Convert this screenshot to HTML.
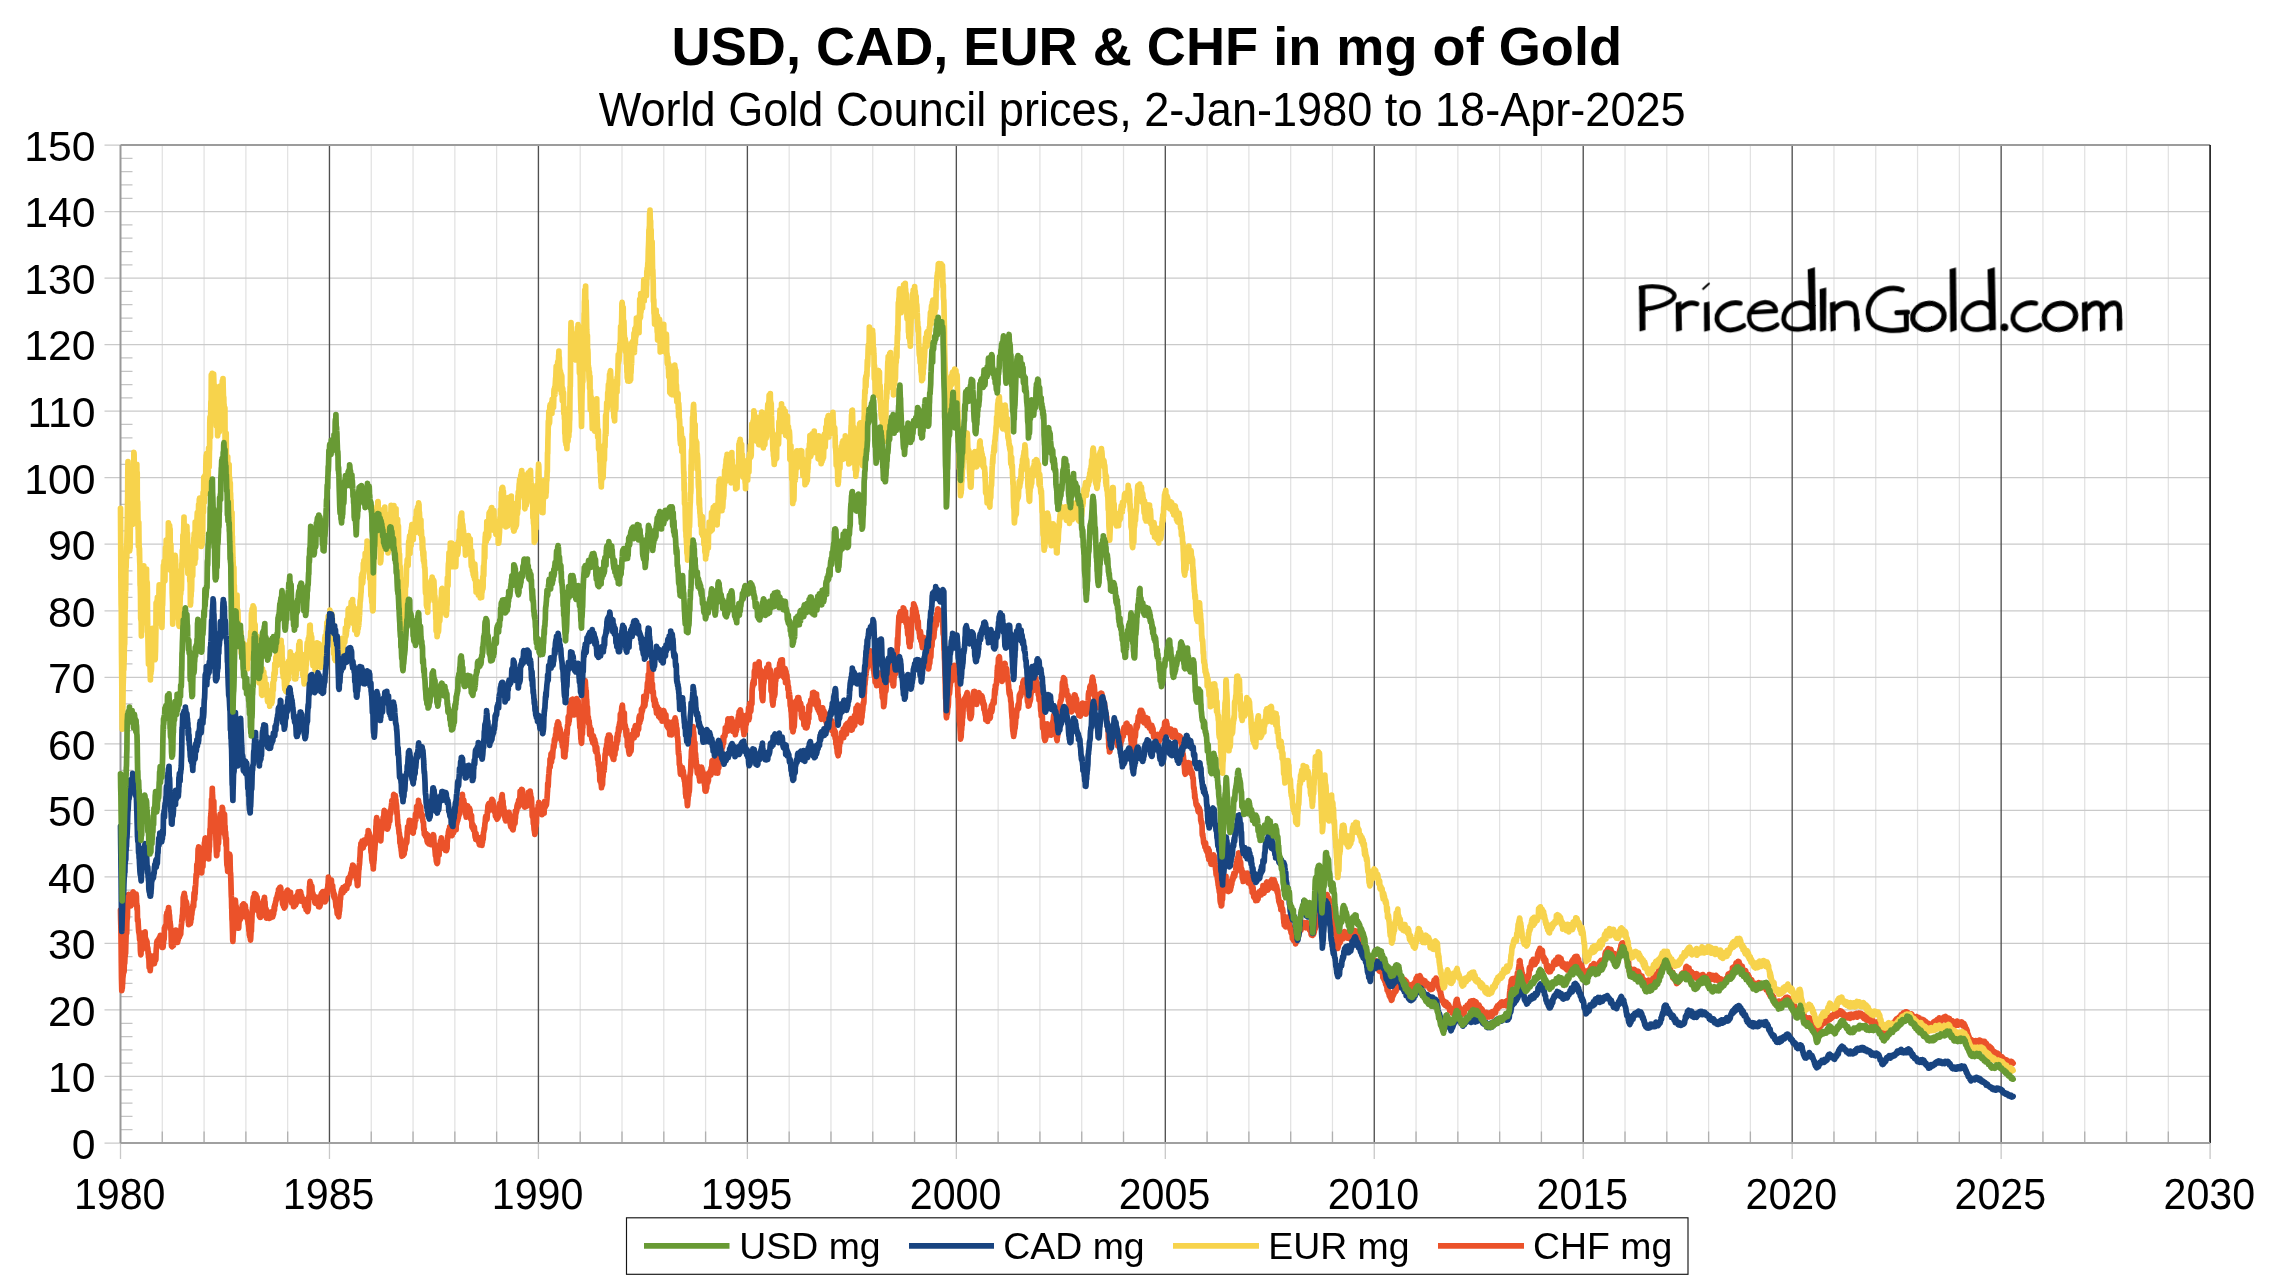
<!DOCTYPE html>
<html><head><meta charset="utf-8"><title>USD, CAD, EUR &amp; CHF in mg of Gold</title>
<style>html,body{margin:0;padding:0;background:#fff;width:2292px;height:1288px;overflow:hidden}</style>
</head><body>
<svg width="2292" height="1288" viewBox="0 0 2292 1288" style="position:absolute;left:0;top:0">
<rect x="0" y="0" width="2292" height="1288" fill="#fff"/>
<path d="M162.29 145.05V1143.00M204.08 145.05V1143.00M245.88 145.05V1143.00M287.67 145.05V1143.00M371.25 145.05V1143.00M413.04 145.05V1143.00M454.84 145.05V1143.00M496.63 145.05V1143.00M580.21 145.05V1143.00M622.00 145.05V1143.00M663.80 145.05V1143.00M705.59 145.05V1143.00M789.17 145.05V1143.00M830.96 145.05V1143.00M872.76 145.05V1143.00M914.55 145.05V1143.00M998.13 145.05V1143.00M1039.92 145.05V1143.00M1081.72 145.05V1143.00M1123.51 145.05V1143.00M1207.09 145.05V1143.00M1248.88 145.05V1143.00M1290.68 145.05V1143.00M1332.47 145.05V1143.00M1416.05 145.05V1143.00M1457.84 145.05V1143.00M1499.64 145.05V1143.00M1541.43 145.05V1143.00M1625.01 145.05V1143.00M1666.80 145.05V1143.00M1708.60 145.05V1143.00M1750.39 145.05V1143.00M1833.97 145.05V1143.00M1875.76 145.05V1143.00M1917.56 145.05V1143.00M1959.35 145.05V1143.00M2042.93 145.05V1143.00M2084.72 145.05V1143.00M2126.52 145.05V1143.00M2168.31 145.05V1143.00" stroke="#e2e2e2" stroke-width="1.25" fill="none"/>
<path d="M104.50 1076.47H2210.10M104.50 1009.94H2210.10M104.50 943.41H2210.10M104.50 876.88H2210.10M104.50 810.35H2210.10M104.50 743.82H2210.10M104.50 677.29H2210.10M104.50 610.76H2210.10M104.50 544.23H2210.10M104.50 477.70H2210.10M104.50 411.17H2210.10M104.50 344.64H2210.10M104.50 278.11H2210.10M104.50 211.58H2210.10" stroke="#cacaca" stroke-width="1.25" fill="none"/>
<path d="M104.50 145.05H120.50M104.50 1143.00H120.50" stroke="#cacaca" stroke-width="1.25" fill="none"/>
<path d="M120.50 1129.69h12M120.50 1116.39h12M120.50 1103.08h12M120.50 1089.78h12M120.50 1063.16h12M120.50 1049.86h12M120.50 1036.55h12M120.50 1023.25h12M120.50 996.63h12M120.50 983.33h12M120.50 970.02h12M120.50 956.72h12M120.50 930.10h12M120.50 916.80h12M120.50 903.49h12M120.50 890.19h12M120.50 863.57h12M120.50 850.27h12M120.50 836.96h12M120.50 823.66h12M120.50 797.04h12M120.50 783.74h12M120.50 770.43h12M120.50 757.13h12M120.50 730.51h12M120.50 717.21h12M120.50 703.90h12M120.50 690.60h12M120.50 663.98h12M120.50 650.68h12M120.50 637.37h12M120.50 624.07h12M120.50 597.45h12M120.50 584.15h12M120.50 570.84h12M120.50 557.54h12M120.50 530.92h12M120.50 517.62h12M120.50 504.31h12M120.50 491.01h12M120.50 464.39h12M120.50 451.09h12M120.50 437.78h12M120.50 424.48h12M120.50 397.86h12M120.50 384.56h12M120.50 371.25h12M120.50 357.95h12M120.50 331.33h12M120.50 318.03h12M120.50 304.72h12M120.50 291.42h12M120.50 264.80h12M120.50 251.50h12M120.50 238.19h12M120.50 224.89h12M120.50 198.27h12M120.50 184.97h12M120.50 171.66h12M120.50 158.36h12" stroke="#c4c4c4" stroke-width="1.25" fill="none"/>
<path d="M162.29 1143.00v-11.5M204.08 1143.00v-11.5M245.88 1143.00v-11.5M287.67 1143.00v-11.5M371.25 1143.00v-11.5M413.04 1143.00v-11.5M454.84 1143.00v-11.5M496.63 1143.00v-11.5M580.21 1143.00v-11.5M622.00 1143.00v-11.5M663.80 1143.00v-11.5M705.59 1143.00v-11.5M789.17 1143.00v-11.5M830.96 1143.00v-11.5M872.76 1143.00v-11.5M914.55 1143.00v-11.5M998.13 1143.00v-11.5M1039.92 1143.00v-11.5M1081.72 1143.00v-11.5M1123.51 1143.00v-11.5M1207.09 1143.00v-11.5M1248.88 1143.00v-11.5M1290.68 1143.00v-11.5M1332.47 1143.00v-11.5M1416.05 1143.00v-11.5M1457.84 1143.00v-11.5M1499.64 1143.00v-11.5M1541.43 1143.00v-11.5M1625.01 1143.00v-11.5M1666.80 1143.00v-11.5M1708.60 1143.00v-11.5M1750.39 1143.00v-11.5M1833.97 1143.00v-11.5M1875.76 1143.00v-11.5M1917.56 1143.00v-11.5M1959.35 1143.00v-11.5M2042.93 1143.00v-11.5M2084.72 1143.00v-11.5M2126.52 1143.00v-11.5M2168.31 1143.00v-11.5" stroke="#b0b0b0" stroke-width="1.3" fill="none"/>
<path d="M120.50 1143.00v16M329.46 1143.00v16M538.42 1143.00v16M747.38 1143.00v16M956.34 1143.00v16M1165.30 1143.00v16M1374.26 1143.00v16M1583.22 1143.00v16M1792.18 1143.00v16M2001.14 1143.00v16M2210.10 1143.00v16" stroke="#c8c8c8" stroke-width="1.3" fill="none"/>
<path d="M329.46 145.05V1143.00M538.42 145.05V1143.00M747.38 145.05V1143.00M956.34 145.05V1143.00M1165.30 145.05V1143.00M1374.26 145.05V1143.00M1583.22 145.05V1143.00M1792.18 145.05V1143.00M2001.14 145.05V1143.00" stroke="#505050" stroke-width="1.35" fill="none"/>
<path d="M120.50 145.05H2210.10" stroke="#9c9c9c" stroke-width="1.9" fill="none"/>
<path d="M2210.10 145.05V1143.00" stroke="#151515" stroke-width="1.6" fill="none"/>
<path d="M120.50 1143.00H2210.10" stroke="#a0a0a0" stroke-width="1.9" fill="none"/>
<path d="M120.50 145.05V1143.00" stroke="#999" stroke-width="2" fill="none"/>
<g fill="none" stroke-width="5.7" stroke-linejoin="round" stroke-linecap="round">
<path stroke="#EB522A" d="M120.5 910.1l.2 10.6l.2 8.3l.2 14.4l.2 19.5l.2 15.8l.3 11.9l.1-.7l.2-2.4l.2 .7l.2-5.1l.1 1.1l.2-5.8l.2-1.7l.2-1.6l.2-2.4l.2-.4l.2 .2l.1-.5l.2-.4l.2-8.2l.2-.4l.2 .4l.2-4.8l.1-2.6l.2 0l.2-3.1l.2 .7l.2-9.1l.1-1.8l.2-7.3l.2-4.8l.2 2.6l.2 .1l.2-10.9l.2-4.2l.2 .3l.2-3.3l.1-9.9l.2-7l.2-.1l.2 .9l.2-2.8l.2-2l.2 7l.2-4.6l.2 5.1l.1-2.2l.2-2.5l.2 1.2l.2 6.6l.2-5.6l.2 5.6l.2-6.7l.2 7.6l.1-2.7l.2-.8l.2 .3l.2-2.6l.2-.5l.2 .7l.2-2.3l.2-2.1l.1 6.1l.2-5.7l.2-1.4l.2-2.5l.2-.4l.2 8.2l.2 3.8l.1-1.3l.2-1.1l.2-8.5l.2 10.4l.2-4.9l.2-4.6l.2 2.4l.1 3.2l.2-3.3l.2 .2l.2-1.4l.2 3.4l.2-.4l.2-3.9l.1 6.7l.2-4.8l.2 8.1l.2-.6l.2 5.6l.2-3.4l.2 5.4l.1 9.4l.2-1.6l.2 .1l.2 2.1l.2 4.2l.2 3.5l.2 2.7l.2 1.4l.1-1.8l.2 3.1l.2 1.5l.2 3.6l.2-1.7l.2 1.7l.2 2.1l.2 9.2l.2 2.4l.2 1.8l.2-.7l.2-5.3l.2 1.4l.1-1.9l.2-.9l.2 2.9l.2-1.8l.2-3.4l.2-2.1l.2-3.8l.2-2.3l.2-3.5l.2 3.5l.1-4.1l.2 0l.2 3.8l.2 .8l.2 1.8l.2 2.4l.2-5.9l.1 2.4l.2-4.3l.2-1.9l.2 8.9l.2 1.8l.2-4.4l.2 2.2l.1 .9l.2-.4l.2-.8l.2 4.6l.2-.7l.2-2.7l.2 5.7l.1 2.1l.2-1l.2-.6l.2 1.6l.2 4.3l.2-1.7l.2 5.4l.2-3.4l.1 3l.2 4.8l.2 5.9l.2-6.2l.2 3.3l.2 1.4l.2 .2l.2 4.6l.2-2.5l.2-2.1l.2-2.8l.1 1l.2-3.7l.2 4l.2-1.1l.2 .7l.2 .2l.2-8.2l.2 1.1l.2 .2l.2-.8l.2-.2l.2 4.2l.2-.9l.2-2.5l.1 4.3l.2-1.7l.2 .3l.2 2.1l.2 1.4l.2-1.5l.2-2.5l.2-.9l.2 1.2l.2-1l.2-3.3l.2 4.3l.1-1.1l.2-6.8l.2-3.8l.2-1.6l.2-4.1l.2 .2l.2-2l.2 1.9l.2-.5l.1 2.1l.2-2.1l.2 .6l.2 .8l.2-4l.2-.6l.1 2.4l.2-1.7l.2-1.1l.2-.9l.2 3.2l.2-3.4l.1 2l.2-1.6l.2 .2l.2-2.8l.2 6.7l.2-4.3l.2 5.4l.2-6.7l.2 8.3l.2-3.9l.1 2.3l.2-2.5l.2 6.7l.2-.9l.2-1.5l.2 1.2l.2-.8l.2 2l.2-3.2l.2-1l.2-3.8l.2-.5l.2 .9l.2-3.8l.1-7.7l.2-.3l.2 1.8l.2-3.2l.2-.4l.2 1.1l.2-1.8l.2-.2l.2 .3l.2-2.5l.1-7.4l.2 3.6l.2-1.3l.2-5.1l.2 11.6l.2-4l.2-6.3l.2 6.6l.2-2.8l.1-7.6l.2 1.8l.2-.5l.2-4.1l.2 6.4l.2-3.8l.2 4.8l.1-.2l.2 .6l.2 3.3l.2 4l.2-1.2l.2 2.7l.1 .9l.2 1.3l.2 3.5l.2 .2l.2 7.5l.2 6.9l.1 1.5l.2-.7l.2 .9l.2 .7l.2-2l.2-5.3l.1 5.9l.2-4l.2 4.2l.2-6.8l.2 6.6l.1-10.2l.2 3l.2-6.2l.2 2.5l.2 3.5l.2-1.4l.1-.7l.2-2.5l.2-2.1l.2 1.3l.2 2.3l.2 .9l.2-5.8l.1 7.3l.2-3.4l.2 4.9l.2 1.4l.2-4.5l.2 6.8l.2-8.9l.1-.6l.2 7.1l.2 2.3l.2-1.9l.2 0l.2-.4l.2-2.4l.1-3.1l.2 2.4l.2-2.3l.2 2.5l.2-1.2l.2 1.1l.1-1.8l.2-1.9l.2 .7l.2-2.2l.2 1.8l.1-3.4l.2 4l.2-5l.2-.5l.2-3.3l.2-1.4l.2-1.9l.2-2.7l.2-.7l.2-3.3l.1 3.6l.2-4.1l.2-6.7l.2 2l.2-12.3l.2-1.4l.2 1.6l.2-3l.2 1l.2 0l.1-2.8l.2 6.6l.2-1.4l.2-2.5l.2 6.3l.2 0l.1-.9l.2-1.1l.2 4.9l.2-1.8l.2 1.4l.1-3.3l.2 1.9l.2-.1l.2 2.5l.2 3.8l.2-2.7l.2 1.1l.2 4.7l.2-2.7l.2-.8l.2 12.3l.2-4.8l.2 7.8l.1-2.4l.2 .6l.2-2.3l.2-1l.2 .8l.2-2.7l.2 4.9l.2-9.9l.1 11l.2-4l.2 3.1l.2-4.1l.2-.4l.2 1.1l.2-8.2l.1 3.1l.2 .5l.2-2.5l.2-2.9l.2 .8l.2-.9l.2-2.4l.1-1.5l.2-.7l.2 1l.2-4.1l.2 4.7l.2-9.6l.2-3.6l.1 2.7l.2 .7l.2 3.3l.2-5.3l.2-6.9l.2 6l.2-7.3l.1 .8l.2-2.8l.2-4.7l.2-4.8l.2 1.9l.2-.8l.1 1l.2-12l.2 3.2l.2-2.8l.2 3.7l.2-7l.1 1.6l.2-6.4l.2-7.9l.2 3.3l.2-.3l.2-5.3l.1 1.4l.2 4.3l.2 5.9l.2-3.6l.2-1.3l.1 1.5l.2-3.4l.2 4.5l.2 2.5l.2 9.9l.2-1.4l.1 .7l.2 3.2l.2-3.2l.2 4l.2 1l.2-1l.1-3.7l.2-5l.2-.7l.2-3.6l.2 1.3l.2 6.3l.2-10.7l.1 1.7l.2 2.7l.2-12.6l.2 2.1l.2 .5l.2 3.4l.2-10.5l.1 .5l.2 1l.2-4.3l.2-2.1l.2 .2l.2-.2l.2 0l.2 10l.1 3l.2-5.6l.2-4.8l.2-.2l.2 11.6l.2-1.1l.2 3.3l.2-1.5l.2 3.3l.1-2.1l.2 1.2l.2-2.6l.2 3.2l.2-2l.2 5l.2-6.7l.2-.3l.2-6.1l.2 1.2l.1-6.2l.2-1.2l.2-10.2l.2 1.3l.2-4.8l.2-8.5l.2-1.4l.2-2.2l.2-3.4l.2-1.9l.1-8.8l.2 1.7l.2 .9l.2-7.1l.2-6.9l.1 4.8l.2 2.2l.2 5.2l.2-.2l.2 9.3l.2 .2l.2 2.2l.2-10.6l.2 15.4l.2-3l.2 3.7l.2 5l.2-4.3l.1 2.1l.2 4.3l.2 5.6l.2 2.6l.2 .3l.2 4.9l.2 7l.2 5.8l.1 1.5l.2 3.3l.2-.3l.2-6.9l.2-.3l.2-.1l.2 2.6l.1-.3l.2-11l.2 .3l.2 3.4l.2 .3l.2-5.3l.2-13.6l.1 2.6l.2 7l.2-6.1l.2-5.8l.2 1.9l.2-6.3l.2-3.5l.1 5l.2 5l.2-2.4l.2-7l.2 6.9l.2-3.3l.2-1.8l.2 .8l.1-.1l.2 8.2l.2-18.1l.2 6.9l.2-6l.2 6.1l.2 5l.2 3.4l.2-1l.1-4.4l.2-1.7l.2-2.1l.2 4.6l.2 2.2l.2-6l.2 5.8l.2 15.1l.2-8.9l.1 10.2l.2 2.2l.2-6.8l.2 3.6l.2 9.5l.2-2.7l.2-3.7l.2 18.2l.1 3.3l.2 4.6l.2-1.4l.2 3.4l.2 .8l.2 3.7l.2-4.3l.2-.2l.2-10.2l.2 5.2l.1 7.6l.2-.5l.2-5.3l.2-.5l.2-.7l.2-8.4l.2 1.7l.2-.1l.2 10.3l.2 7.4l.2-.4l.1 2.2l.2 6l.2 7.5l.2 7.3l.2 2.3l.2 9.9l.1 .6l.2 10.5l.2 1.9l.2 7l.2 6.2l.1 5.4l.2 1.7l.2-4.9l.2-3.3l.2-2.9l.2-3l.2-3.5l.2-4.5l.2 2.2l.2-2.3l.2-4.3l.1-5.1l.2-4l.2-1.6l.2-4l.2 3.3l.2 5.4l.2-.6l.2-2.3l.2 9.9l.2-7.3l.2 7.7l.2 7.5l.2 1.8l.2 1.6l.1-1.9l.2 1.1l.2 1.7l.2-1.3l.2-2l.2 1.1l.2 2.3l.2-4.7l.2-1.6l.2-3.4l.1-.6l.2 2.3l.2-3.6l.2 3.7l.2-1.8l.2 .6l.2-1.5l.2 1.1l.1-2.7l.2-4.9l.2 2.7l.2-5.2l.2-.5l.2-.4l.2 2.5l.2-4.9l.1 4.2l.2-.8l.2-3.7l.2 5.5l.2-4.4l.2 3.8l.2-6l.2 4.6l.2 .9l.1-2.6l.2 .3l.2 2.7l.2-3.7l.2 6.2l.2-5.8l.2-1l.2 2.6l.2 2l.1 .2l.2 6.8l.2-.5l.2-5.4l.2 5.3l.2-1.3l.2-1l.2-.9l.2 3.3l.2 3.6l.2-1.2l.2 3.8l.2 1.5l.2-3.5l.1 4.8l.2 1.6l.2 3.4l.2-2.6l.2 6.6l.2-1.7l.2 3.5l.2-5.2l.2 3.3l.2 3.5l.2 2.1l.2-1.9l.2-4.1l.2-5.5l.1 3.1l.2-.6l.2-7.4l.2-1.8l.2-6.8l.2-1.4l.2-5.8l.2 3.7l.2-8.7l.2-2.7l.2-.9l.2-2.2l.1 1l.2 7.1l.2-3.6l.2-.1l.2 1.1l.2-9.1l.2 5.3l.2 7.4l.1-5.4l.2-2.4l.2 6.3l.2-3.6l.2-5.7l.2-.9l.2 10.2l.2-.9l.2-4.5l.1 .9l.2 1.6l.2-4.5l.2 7.7l.2-1l.2 2l.2 4.9l.2 .4l.1-2.9l.2-1.6l.2 2.2l.2 2.4l.2-2.2l.2 6l.2 1.2l.2-1.2l.2-2.7l.1-3.6l.2 .8l.2 7.8l.2-2l.2 .2l.2-3.3l.2-1.4l.2-3.2l.1 8.5l.2-1.5l.2-.8l.2-1.7l.2-8l.2-1.6l.2-.2l.2 3.7l.1 1.1l.2-6l.2 5.8l.2-6.7l.2 4.7l.2-3.1l.2 .1l.2-1.9l.2-2.9l.2 7.1l.1-.8l.2-2l.2 4.2l.2 4.9l.2 3.2l.2-4.4l.2 1.7l.2-2.2l.2 4.7l.2 4.4l.2-2.6l.2-1.2l.2-.8l.1 .2l.2-.7l.2 1l.2 .6l.2-2.6l.2 .1l.2 2.1l.2-1.7l.2 2.8l.2 3.1l.1-3.3l.2-.7l.2 4.1l.2-.9l.2-2.3l.2-.4l.2 3l.2-3.7l.2 1.5l.2 .7l.1-2.9l.2-1.7l.2 2.9l.2 1.4l.2-3.2l.2 1.6l.2 1.2l.2-.1l.2 1.3l.2-2.3l.1 .9l.2-.3l.2-1.7l.2 .8l.2-2.8l.2-1.3l.2-3.3l.2 0l.1 2.9l.2-3.9l.2-1.5l.2 1.4l.2-1.2l.2-2.3l.2-.7l.2-.6l.1 .1l.2-2.6l.2 1.6l.2-1.2l.2-.7l.2-.3l.2-2l.2-.7l.2 1.1l.1-2.7l.2 2.5l.2-2l.2 3.1l.2-7.6l.2 4.3l.2 .9l.2-.2l.1-1.5l.2-2.5l.2-.1l.2-2.8l.2 3.9l.2-2.5l.2-2l.2 1.8l.2-1.1l.1 3.5l.2 .7l.2 .3l.2 1.7l.2 2.1l.2 .6l.2 1.2l.2 2.8l.1 .2l.2 3l.2-3.2l.2 1.4l.2 2.1l.2 1.9l.2-1.1l.2 1.5l.1-.7l.2 1l.2 1.3l.2-2.7l.2-.5l.2 2l.2-2.2l.2 .2l.1 1.4l.2-2.5l.2-2.4l.2-4.3l.2-3.1l.2 4.9l.2-2.7l.1-1.5l.2-3.6l.2 3.2l.2-3.3l.2 2.6l.2-3.4l.2 .4l.1 2.8l.2-1.6l.2 .8l.2 1.1l.2 .5l.2 .8l.2-3l.1 4.5l.2-.9l.2 .7l.2-1l.2-.1l.2 .9l.2-3.7l.1 5.9l.2 .4l.2 1l.2-.2l.2 1.7l.2 1.6l.2-5.8l.1 2.4l.2 1.4l.2-1.9l.2 2.7l.2 .9l.2-2.1l.2 1.1l.1-.7l.2-.5l.2 6.4l.2-2.9l.2 2.3l.2 .3l.2-.9l.1-1.2l.2-1.1l.2-2.5l.2 .6l.2-.3l.2-.2l.2 4.1l.2-4.9l.2-3.5l.2 .4l.1 2.3l.2-2.9l.2 6l.2-5.8l.2-1.7l.2 1l.2 1.4l.2-.6l.2 0l.2-4.7l.1 2l.2-1.1l.2 1.1l.2-1.6l.2 4.4l.2-2.4l.2 .4l.2-2.8l.2 2.1l.2 1.8l.2-.6l.1-3.6l.2 .3l.2 .9l.2 6.2l.2-2.7l.2-1.1l.2 .3l.2 5.8l.2-2.8l.2 1.2l.2 .1l.2-1.5l.1 .5l.2 1.4l.2 0l.2-.1l.2-.5l.2 1.1l.2-1.7l.2 2l.1-.3l.2 1.6l.2 3.8l.2-1.6l.2 1l.2 .8l.2 .6l.1 .4l.2-1.6l.2-1.6l.2 5.5l.2 0l.2-2.4l.2 .1l.1-2.2l.2 2.9l.2-1.6l.2 4.5l.2 .7l.2-1.9l.2 .5l.1-.1l.2-1.3l.2-5.6l.2-3.9l.2-3.2l.2 .4l.2-2.9l.1-6.6l.2 2.1l.2-6.2l.2-1.6l.2 4.8l.2-3.3l.2 .8l.2 5.2l.2-1.2l.1-.7l.2 3.1l.2-2.3l.2 1.8l.2-3.3l.2 5.2l.2 1.9l.2-.5l.2 .7l.2 2.6l.1-2.7l.2 3.4l.2-.1l.2-.3l.2 1.1l.2 .7l.2 .5l.2-2.2l.2 .4l.1 3.9l.2 2l.2-3l.2-2.2l.2 1.3l.2 4.4l.2-.9l.1-.3l.2-4.9l.2 4.8l.2-2.1l.2-.3l.2 .2l.2-.7l.1 2.9l.2-.4l.2-1.8l.2 4.5l.2-.5l.2 1l.2 .8l.1 1.1l.2-.9l.2-.3l.2-.4l.2-3.6l.2 5.3l.2-.4l.2-1.1l.1-1.1l.2 1l.2-6.8l.2 4.5l.2-7.9l.2 5.2l.2-3.8l.2-3.1l.1 3.4l.2 3.2l.2-1.2l.2-5.6l.2-1l.2 .9l.2-.2l.2-.6l.1-.7l.2 .7l.2 1.3l.2 .5l.2 4.1l.2 1.2l.2-1.8l.1-1.2l.2-1l.2 3.2l.2 3.3l.2-5.7l.2 .1l.2-.1l.1 4.1l.2-1.6l.2 1.6l.2-1.8l.2-3.7l.2 .8l.2-2.9l.2-3.5l.2 4.9l.2-1.1l.2-4.4l.2-4l.1 2.9l.2-5.5l.2-4.7l.2 1l.2 1.6l.2-.5l.2 2.5l.2 1.2l.2 1l.2 .7l.1-1l.2-.2l.2 .9l.2-3.2l.2 .4l.2-1.3l.2 6.3l.2-6.4l.1-.3l.2 5.4l.2-.2l.2 1.2l.2-.2l.2-.6l.2-.1l.2 4.2l.1-.3l.2 .6l.2 1l.2 4.5l.2 1l.1-1.6l.2-1.8l.2 4.7l.2 0l.2-3.2l.2 1.8l.1 2.3l.2 .1l.2 1.5l.2 1.4l.2 1.4l.2 3.3l.2-3.3l.1 3.8l.2 .9l.2 .5l.2-2.2l.2 5l.2 2.6l.2-3.5l.1-.3l.2 3.3l.2-.9l.2-1.3l.2 3.9l.2 1.3l.2 .7l.1-3.2l.2 1.1l.2-3.5l.2 .2l.2-1.4l.2-4.6l.1 1.8l.2-4.4l.2-4.8l.2 1.7l.2-3.3l.1-.9l.2-1.9l.2-2l.2 1.9l.2-3.3l.2-.9l.2 1.9l.1-1.7l.2 1.2l.2-.1l.2-1.6l.2-1.4l.2 5.3l.2-.8l.1-.9l.2-.9l.2-1.4l.2 1.4l.2 .4l.2-1.5l.2-2.2l.1 .8l.2 2.7l.2-4.2l.2 2.9l.2-1.6l.2-.3l.2-1.4l.1 1.9l.2 1l.2-.2l.2-.4l.2 .5l.2-2.3l.2-.3l.1-.1l.2-1.7l.2 1.1l.2-4.7l.2-.8l.2-1.9l.2 5.5l.2 .7l.2-.3l.1-1l.2-1.5l.2-.7l.2-1.2l.2-2.9l.2 2.2l.2-1.6l.2-1.7l.1 1.4l.2-3.1l.2 1.5l.2-2.7l.2 .8l.2 2.4l.1-3.8l.2-3.3l.2 .4l.2 3.3l.2-5.5l.2 5.5l.1-7.2l.2 3.3l.2 .4l.2-3.3l.2 .7l.2 1.6l.2 1l.1 1.9l.2 .3l.2 1.8l.2-3.3l.2 .7l.2-1.1l.2 4.4l.2-3.4l.2 1.9l.2 3.5l.2 1.9l.2-.4l.1 .4l.2 1.6l.2 1.1l.2-2.2l.2 3.7l.2 3.2l.2 .7l.2-1.1l.2 1l.2-5.5l.2-2.3l.2-3.2l.2-4l.1-.7l.2-.5l.2-3.5l.2-.7l.2-2.4l.2-4.1l.2-1.7l.2-4.3l.2-5l.2 2.2l.2-1.8l.1-4.5l.2 4.1l.2 .5l.2 .6l.2-6.2l.2-.1l.2-1.4l.1 2.7l.2 .3l.2-1.1l.2 2.5l.2 1.4l.2 1.2l.2-4.6l.1-.7l.2 1.1l.2 .1l.2-3.7l.2 3.6l.2 .9l.2-2.5l.1 1l.2-.8l.2-.5l.2 1l.2-1.9l.2-1l.2 .4l.2-.4l.1 1.7l.2 1.4l.2-1.1l.2-2.1l.2 .6l.2-4.7l.2 1.8l.2-2.6l.1 1.7l.2-.8l.2-5.3l.2 6.7l.2-3.7l.2-1.6l.2 3.1l.2-2.1l.2 4.4l.1-1.4l.2 1.8l.2-1.9l.2 6.8l.2-3.9l.2 1.4l.2 5l.2 5.5l.2 2l.2-2.1l.1 1.4l.2 4.4l.2 3.5l.2-2.7l.2 5l.2-.2l.2-1l.2 .6l.2 4.3l.2-.8l.1 3.8l.2-5.1l.2-.3l.2-2.9l.2-.6l.2-5.3l.2-2.9l.1-5.6l.2 3.8l.2-3.5l.2-2.7l.2-3.9l.2-5.9l.2 .6l.1-8.4l.2-.7l.2-5.4l.2 .4l.2-2.8l.2 3.3l.2-.9l.1-.1l.2-.1l.2 6.9l.2 1l.2-.2l.2 4.4l.2 1.2l.2-4.5l.2-.1l.1 4.5l.2 .8l.2 .3l.2 2.5l.2-1.4l.2 .4l.2 .1l.2 2.6l.1 1.9l.2-.1l.2 .6l.2-4.3l.2-3.9l.2-1.3l.2-2.4l.2 1.6l.2-3l.1-.8l.2 .9l.2 1.1l.2-1.1l.2-1.3l.2-8.6l.2 4.1l.2-4.3l.1-.2l.2-.3l.2-5l.2-1.6l.2 .8l.2 2.1l.2-1.9l.2 2.3l.1 0l.2 3.5l.2 .8l.2 1.8l.2 1.1l.2 1.6l.2 2.8l.2-.4l.2-1.5l.1 .7l.2 1.7l.2-.9l.2 4.2l.2-3.4l.2 2.8l.2-.9l.2-.4l.1-1.5l.2-1.2l.2 .1l.2-4l.2-1.4l.2-.6l.2 .8l.2-1.1l.1 2.7l.2-8.2l.2-2.6l.2-.1l.2 4l.2-1.5l.2-3.1l.2-2.7l.2-.4l.1-1.8l.2-1.6l.2-2.5l.2 .8l.2 0l.2-.7l.2 1.3l.2-1.4l.1 5.7l.2-4.1l.2-.7l.2-6.5l.2-.5l.2 7.8l.2-2.8l.2-2.3l.2 .5l.1-2.4l.2 2.2l.2 1.4l.2-3.5l.2 2.4l.2 2.9l.2-1l.1 3.5l.2 0l.2 1.5l.2 1.5l.2 6.9l.2-2.4l.1 3.6l.2 .7l.2 4.4l.2 2l.2 3.7l.2 1.1l.1-1.1l.2 .7l.2 3.4l.2 .1l.2 3.8l.2 .8l.1-1l.2 1.8l.2 1.8l.2 6.6l.2 .3l.2-5.7l.2 1.8l.1 6.7l.2 1.4l.2-.2l.2 3.2l.2 .8l.2 2.5l.2 1.8l.1 .7l.2-2.4l.2-.1l.2 1.4l.2-1.5l.2 1.9l.2-2l.2-3.6l.2-1.1l.1-.3l.2 2l.2 3.8l.2-.6l.2-2.9l.2-1l.2-.8l.2-1.3l.1 2.1l.2-5.1l.2 .8l.2-2l.2-.7l.2-.1l.2-3.5l.2 1.5l.1 2.1l.2-1l.2-3.1l.2-7.2l.2 .5l.2-5.3l.2 5l.2 .8l.2-4.1l.1 .8l.2-1.4l.2-2.1l.2 .2l.2-4.4l.2-1.3l.2 .2l.2 1.8l.1 4l.2 1l.2-3.9l.2-.2l.2-2.7l.2 2.7l.2 3.9l.2 2.7l.2-1.5l.1-2.1l.2 4.4l.2-1l.2-2.4l.2-1.1l.2 1l.2 3l.2 .7l.1 2.2l.2 .1l.2-2.9l.2-1.9l.2-2.2l.2 1.1l.2-5.2l.2 5.3l.1 .5l.2-2.8l.2-2.2l.2-1.3l.2-4.1l.2-3.4l.2 .3l.2 5.4l.1-5.6l.2 2.1l.2-2l.2-7.5l.2 3.9l.2-.6l.2-.9l.2 1.6l.1-3.9l.2-.4l.2-1.9l.2 1.5l.2-1.9l.2-3.7l.2 2.2l.1 3.5l.2-.2l.2-2.2l.2 2.3l.2 5.6l.2-3.4l.1-.4l.2 4.9l.2-5.1l.2-1.4l.2 .8l.2 4.2l.1 2.8l.2 1.2l.2 .5l.2 1.4l.2-1.2l.2-1.5l.2 .6l.2 3.6l.1 .1l.2 .2l.2 2l.2 1.6l.2-.5l.2 .5l.2 6.3l.2 1.5l.2-1.8l.2 5.7l.1-1.3l.2 0l.2 .9l.2-.2l.2 1.3l.2 1.3l.2-.6l.2-1.1l.2-.8l.1 1.8l.2-1.8l.2 .2l.2 4.3l.2 .8l.2 2.4l.2-2.2l.2 3l.2-3.5l.1-3.7l.2 6.1l.2 .5l.2 1.8l.2 .4l.2-1l.2 .7l.2-.3l.1-.3l.2 .1l.2-.4l.2 1.3l.2-2l.2-3l.2 2.3l.2-1.6l.1 4l.2 1.1l.2-2.1l.2-1.1l.2 .7l.2-.7l.2-3.4l.2 2.5l.2-1.4l.1-1.5l.2 2l.2-3l.2-1.1l.2-.9l.2 2.7l.2-1.7l.2 4.1l.2 5.7l.1 0l.2-2l.2 1.8l.2 3.5l.2 1.2l.2 2.7l.2 2.9l.2-1l.2-3.6l.2 1.4l.1 5.8l.2 2.8l.2 .9l.2-.8l.2 2.1l.2 .2l.2-.5l.2-.2l.2-3l.1-3.4l.2-1.5l.2-.7l.2-1l.2 0l.2-.8l.2-.3l.1 3l.2-7.2l.2-1.5l.2-2.2l.2 3.3l.2-2.8l.2-2.1l.1-.5l.2-1.7l.2 2.5l.2 .2l.2 .1l.2-5.2l.2 2.9l.2 .5l.1-.4l.2 5.8l.2-4.4l.2 3.3l.2-.8l.2 3.4l.2-4.6l.2-1.2l.2 3.7l.1-2l.2 3.8l.2-4l.2 .1l.2-.3l.2 2.4l.2-3.3l.2 3.3l.2 2.3l.1-2.6l.2 4.7l.2-3l.2 .4l.2 2.3l.2 .4l.2-.3l.2-1.3l.2-.7l.2 .2l.1-6.6l.2-.7l.2-4.5l.2 .1l.2 .7l.2-3.1l.2-2.5l.2 1.6l.2-3.4l.2 .2l.2-.2l.2 .3l.1 1.3l.2-4.9l.2 6.6l.2 .7l.2-2l.2-2.2l.2-1.3l.2 1.4l.2-1.9l.1 6.3l.2 0l.2 0l.2 1.2l.2-.1l.2-.2l.2-2.4l.2-.1l.1 .2l.2-.1l.2-.1l.2-4.4l.2-1.2l.2 5.4l.2-3.6l.1-4l.2 2.6l.2-.5l.2-2.3l.2-2.1l.2 5.6l.2-1.6l.1-3.9l.2-2.1l.2 7.6l.2-2.1l.2 3.4l.2-10l.2-.8l.1 4.3l.2 .9l.2-4.9l.2 2.9l.2-1.3l.2-.8l.2 .4l.2-3.6l.1-.7l.2 2.3l.2-3l.2 .9l.2-7.1l.2 6.3l.2-3.6l.2-2.7l.2-2.1l.2 .6l.2 .3l.2-4.3l.1 .8l.2 5.4l.2-4.7l.2-3.4l.2 4.4l.2-2.1l.2-2.8l.2-2.7l.2 .2l.2-1.2l.2-3.1l.1 2.6l.2 3.9l.2-.1l.2-.6l.2 2.5l.2 .2l.1 .2l.2-3l.2 5.3l.2 .7l.2 .8l.2-3l.1 3.4l.2 .5l.2 5.7l.2-.5l.2-2.4l.2 1.9l.1 .1l.2 2.7l.2 1.9l.2-2.4l.2-5.8l.2-2.5l.2 2.2l.2 1.2l.2-.3l.1-3.7l.2 10.7l.2-7l.2 3.3l.2 1l.2-4l.2 1.4l.2-1l.1 .1l.2 1l.2-3.2l.2 .3l.2 3.5l.2-2.6l.2 3.6l.2 5.2l.1 .6l.2-2.5l.2 .7l.2 2.6l.2-3.6l.2-.8l.2 4.9l.2 6.5l.2-1.3l.1-2.2l.2 4.4l.2-.5l.2-1.3l.2-1l.2 1.1l.2 2l.1 2.3l.2 .2l.2-2.2l.2 .5l.2-1.6l.2 2.5l.2 2l.1 2.6l.2 1.8l.2 1.4l.2 .4l.2-3.4l.2 5.1l.2-5.9l.1 4.2l.2-.2l.2-1.8l.2 1.4l.2 .1l.2 0l.2 1.5l.2-.5l.1 1.3l.2 .8l.2 0l.2 .8l.2 .8l.2-2l.2-2.4l.1 2.1l.2 2l.2 2.8l.2-4.3l.2 4.8l.2-4.4l.2 1.5l.2 .7l.2 .8l.1-4.4l.2 4.5l.2-.7l.2 2.3l.2-.2l.2-.7l.2-1.1l.2 2.1l.1-2.4l.2-2.1l.2 1.8l.2-4.1l.2-2.9l.2 4.1l.2-2.1l.2-5.3l.2-.1l.1-.1l.2-1.3l.2-2.5l.2 1.4l.2-1.6l.2-3.3l.2-1.9l.2-.2l.1-2.4l.2-2.7l.2-1.2l.2 3.5l.2-3.4l.2 2.5l.2-2.5l.1 .6l.2-1.3l.2 3.6l.2-3.6l.2-4.5l.2-.4l.2-3.3l.1-1.7l.2 4.6l.2 .9l.2-7.3l.2-.3l.2 5.3l.2-3.9l.1 .6l.2 3.9l.2-6.1l.2 .6l.2 1.7l.2-.7l.2-2.2l.1 .9l.2 3.3l.2-3l.2 .3l.2-.1l.2-3.8l.2 3.7l.2-5l.2 7.6l.1 .6l.2-7.5l.2 4.9l.2-4.3l.2 .4l.2 7.7l.2 1.6l.2-5.3l.1 5.6l.2-4.6l.2 1.7l.2 .6l.2 3.5l.2 .7l.2-2.6l.2-1.1l.1 1.3l.2 5.8l.2-1.2l.2 1.2l.2 .8l.2-1.9l.2 2.9l.2-.8l.2-1l.1 2.8l.2 .5l.2-4.2l.2-1.9l.2 1.7l.2 2.9l.2-.1l.2-3.4l.2-1.4l.1-1.9l.2 .2l.2-2l.2 3l.2 2.2l.2-10.7l.2 3.6l.2 5.5l.2-4.1l.2 2.1l.1-2.2l.2 .1l.2-4.1l.2-1l.2-4.1l.2 2.8l.2-5.9l.2-.1l.2 .2l.1-1.9l.2 4.3l.2 2.7l.2-.8l.2 .2l.2 4.4l.2 2.2l.1 1l.2-1.8l.2 2.9l.2 5.3l.2 1.1l.2 .9l.2-5.8l.1 1.4l.2 3.7l.2 3.2l.2-1.7l.2 1.3l.2 2l.2-2.7l.2-1.9l.1-1.2l.2-1.9l.2 3.8l.2-.2l.2-1.8l.2 3.7l.2 1.9l.2-3.5l.1 1.4l.2-1.8l.2 1.7l.2-1.2l.2-.7l.2-3.3l.2-1l.2 2.7l.2 .7l.1-1.9l.2 3.8l.2-2.3l.2 2.7l.2 6.8l.2-2.5l.2 4.3l.1-5.4l.2 2.9l.2 2.9l.2-.5l.2-1l.2-.5l.2 2.1l.1 .3l.2-2l.2 3.6l.2-1l.2-1.7l.2 3.5l.2-2.6l.2-.4l.1-3.5l.2 .7l.2 .8l.2-4.1l.2-2.1l.2 4.8l.2-.9l.2 .8l.2-6.6l.2-5.5l.1 6.7l.2-5.6l.2 1.5l.2-.8l.2-1.9l.2 .8l.2-1.5l.2-3.5l.2-1.5l.2-.1l.2-.9l.1-.9l.2 3.7l.2-3.5l.2 3.7l.2-2l.2-5.1l.2 2l.2 1.4l.2 1.3l.2-2.8l.2 .6l.2-3.7l.1-1.6l.2-6.2l.2 4.6l.2-1l.2 3l.2-2.5l.2-4.2l.2 .5l.2-2.3l.2 3.3l.2 .1l.1 .2l.2-3.3l.2 .4l.2 3.8l.2 5.3l.2 2.6l.2-.9l.2-3.9l.2 3.5l.2-1.3l.1 2l.2 5l.2-1.9l.2 1.4l.2 1.5l.2-2.8l.2 2.1l.2-1.7l.2 .2l.2 .4l.1-1.1l.2-2.4l.2 2.2l.2 2.2l.2-.1l.2-3l.2-2.2l.1 .9l.2-2.1l.2-.9l.2-3l.2-.9l.2 1.2l.2-.9l.1-3l.2 3.9l.2 3.7l.2-2l.2-3.3l.2 1l.2-.9l.1 0l.2 .8l.2-4.5l.2 5.1l.2-3l.2 3.5l.2-.1l.1 .2l.2 3.7l.2-2.8l.2 3.1l.2 6.5l.2 .4l.2 7.8l.2 1.4l.2-2.7l.2 1.3l.1-.5l.2 2.6l.2 6l.2 .6l.2-.9l.2 3.3l.2 3.2l.2 .7l.2 1.5l.2 1.1l.1 1.3l.2-1.2l.2-.2l.2-2.2l.2-6.4l.2-4l.2 5.5l.2-5.9l.2 3.2l.1-7.2l.2-3.4l.2 .9l.2-3.6l.2 2.4l.2-.9l.2-1.7l.2-1.9l.1 1.9l.2-4.4l.2-.2l.2-1.1l.2-1.6l.2 1.9l.2 .1l.2 4.7l.2-2.6l.2-.2l.2 .8l.1 0l.2 .3l.2 .6l.2-1l.2 3.5l.2 .2l.2-.6l.2-.1l.2-.4l.2 5.2l.2-5l.2-1.6l.1 3.4l.2-2.9l.2 3.5l.2-.4l.2-.7l.2-2.1l.2 .1l.2 3l.2-4.9l.1 6.1l.2-10.5l.2 1.5l.2-2.9l.2 4.5l.2-2.8l.2 3.9l.2-1.1l.2-1.4l.1-1l.2-.3l.2 .6l.2 1.4l.2-2.6l.2-2.1l.2-1.6l.2-3.1l.2-4.1l.1 0l.2-8.1l.2 .2l.2 3.2l.2-3.5l.2-5.5l.2-2.7l.2-1.4l.2-2.7l.2-3.3l.2-.7l.2-.7l.2-.6l.1-6.4l.2 7.5l.2-5.9l.2-.7l.2-.9l.2-5.4l.2 3.9l.2 4.4l.1-.4l.2-6.5l.2 1l.2-4.1l.2 4.2l.2 1.3l.2-3.8l.2-2.5l.1-1l.2-1.7l.2-3.3l.2-.1l.2 1.2l.2 .4l.2-3.1l.1-3.8l.2-1.2l.2 3.1l.2-.9l.2-1l.2-1.2l.2-4.3l.1 3.8l.2-3.3l.2 1.7l.2-8.1l.2 2.6l.2-2l.2 1.6l.1-1.7l.2-4.9l.2 4.1l.2 1.1l.2-4.5l.2-3.1l.2 .6l.2 3.4l.1 2.8l.2-5.9l.2 2.4l.2 1.5l.2 3.6l.2 4.8l.2-.3l.2-6.9l.1 1.1l.2 .1l.2 7.2l.2-3.8l.2 6.6l.2-3.6l.2-2.2l.2 5.5l.1 2.1l.2-.1l.2-.3l.2-1.2l.2 3.8l.2 3.2l.2-2.7l.1-3.9l.2 .7l.2 7.1l.2-.8l.2 3.9l.2 5.9l.1-9.8l.2 .3l.2 8.8l.2 .9l.2-.7l.1 .5l.2 .4l.2-5.7l.2-.4l.2 .5l.2-3.2l.1-1.5l.2-.7l.2-3.8l.2-.8l.2-10.4l.2 5.5l.1-4.6l.2 2.3l.2-3.7l.2-4.8l.2-.4l.2-1.3l.2-1.7l.1-5.2l.2 5.1l.2 2.1l.2-8.3l.2 .6l.2 4.5l.2-7.5l.2-6.1l.2 9.4l.2-5.7l.1 1.8l.2-6l.2-3.8l.2 5.2l.2 3.3l.2-7.8l.2-.7l.2-3.2l.2 .1l.2 .6l.1 5.2l.2 .5l.2-4.7l.2-2.4l.2 5.8l.2 3.2l.2 .7l.2 4l.2 .4l.2 1.7l.2-2l.2 1.2l.2-.3l.1 1.1l.2-.9l.2-3.6l.2-2l.2 5.4l.2 .2l.2-3.9l.2 .5l.2-3.4l.1 1.3l.2-6l.2 2.1l.2-6.1l.2 2l.2 1.2l.2 1l.2-1.9l.1 3.4l.2-1.6l.2-2.1l.2 6.1l.2-2l.2 1l.2 5.2l.2-1.5l.1 7.2l.2 3l.2 2.3l.2 5.6l.2 .3l.2-3.6l.2 0l.1 7.4l.2 2.9l.2 4.5l.2 1l.2 2.6l.2 .6l.2-2.2l.1-6.9l.2-.6l.2 .8l.2-.2l.2-9.1l.2 3l.2-8.4l.2 1l.1-5.9l.2-.6l.2-7.2l.2 .9l.2-14l.2-1.3l.2 .9l.2-3.6l.2 1.1l.1-6.1l.2-4.2l.2 2.5l.2 4.3l.2 1.5l.2 5l.2-3.2l.2 7.1l.2 2.2l.2 1.2l.2 9l.2-.6l.1-3.1l.2 2l.2 6.7l.2 3.7l.2 2.7l.2-4.7l.2 4.2l.2 2.5l.2-.1l.2-2.7l.2 2.2l.2 7.5l.2 4.2l.2-8l.1 6.2l.2 .3l.2 .2l.2-.6l.2-3.2l.2 5l.2-5l.2 4.9l.2 2.2l.1 1.5l.2 1.6l.2-1.3l.2-2.8l.2 3.9l.2 2.9l.2-3.7l.2-1.2l.2-1.8l.1 .1l.2 7.6l.2-1.2l.2-.5l.2 1.1l.2 2.1l.2-2.9l.2-2.4l.1 6.1l.2 .9l.2 3.6l.2-7.3l.2 5.4l.2 3.5l.2-1.3l.2-2l.1 2.1l.2-3.9l.2 1.1l.2 5.1l.2-.3l.2 2l.2 4.4l.2-2l.2-1.5l.1 2.1l.2 6.8l.2 .5l.2 .9l.2-2.7l.2 7.6l.2-.5l.2-3.4l.1 2.7l.2 10.4l.2 1.3l.2-.9l.2 .8l.2 .3l.2-.4l.2-.1l.1 2.9l.2 1.1l.2 2.7l.2-2.6l.2-.1l.2-.8l.2-.6l.2 1.2l.2-7.2l.1-.7l.2 0l.2-3.8l.2-3.4l.2 1l.2-1.9l.2-5.4l.2 7.3l.1-3.5l.2-3.3l.2 .2l.2-5.8l.2-4.2l.2 1l.2-.5l.2-5.2l.2 .2l.1 1.1l.2-1.6l.2-1.7l.2-2.7l.2 8.9l.2-.4l.2-13.3l.2 5.9l.2-7.7l.2 8.6l.1-.6l.2-3.4l.2-3.7l.2-3.8l.2 .1l.2 3.2l.2 2.2l.2-3.6l.2-1.9l.2 .7l.1 2.7l.2 4.6l.2 .5l.2-6.5l.2 7.5l.2 3.7l.2-5.5l.1 1.5l.2 7.6l.2-4.5l.2 5.2l.2 2.7l.2-5.2l.2 1.1l.1 2l.2 3.2l.2 1.3l.2-.4l.2 1.7l.2-.4l.2 .6l.2 .1l.1-3.5l.2-2.4l.2-7.9l.2 5.5l.2 3.5l.2 .1l.2-6.5l.2-.9l.1-3.5l.2 1.7l.2 2.9l.2 .9l.2-5.5l.2-1.5l.2 .2l.2 1.6l.1-7.4l.2-.4l.2 .3l.2-3l.2 7.2l.2-7.6l.2 3.4l.2-5l.2-3.8l.1 3.3l.2-2.5l.2 3.2l.2-6.6l.2 4l.2-6.3l.2 .9l.2-1.8l.2-1.8l.1-5.8l.2 .9l.2 .1l.2 5l.2-7.8l.2-.5l.2-1l.2-2.9l.2-1.8l.1 2l.2 0l.2-3.2l.2 3.6l.2 4l.2 .8l.2-1.2l.1 .6l.2 3.5l.2-3.8l.2 .5l.2 .9l.2-1.3l.1 7.9l.2 3.9l.2 3.4l.2-1.7l.2-1.3l.1 1.5l.2 .4l.2 3.4l.2 2.3l.2 2.9l.2 .9l.2-2.8l.2-3.5l.2 6.3l.1-2.1l.2 3.6l.2 8.3l.2-1l.2 1.7l.2-4.2l.2-.1l.2 .1l.1 6.1l.2 2.4l.2 1l.2 .9l.2 1.1l.2-4.2l.2 3.7l.2-3.7l.1 1l.2-8.7l.2 7.3l.2-3.9l.2 5.9l.2-.8l.2-2.6l.2-7.5l.2 .4l.1-5.9l.2 3.5l.2-4.4l.2 2.1l.2 .3l.2 .2l.2-1.1l.2 .1l.1-1.6l.2-.8l.2-.6l.2-3.1l.2 4.3l.2 3.7l.2-2.9l.1-.9l.2 .1l.2-2l.2-5.6l.2 7l.2-7.9l.2 3.3l.1 3.7l.2-6l.2 .1l.2 2.2l.2 6l.2-2.7l.2 2.6l.1-.3l.2-3.4l.2-3.4l.2-1.9l.2 2.7l.2-1.3l.2-1.7l.1 1.6l.2 2.2l.2-6.8l.2-4.5l.2-1l.2-1.1l.2 7l.1-6.5l.2 6l.2-5.2l.2 1l.2-2.7l.2 4.5l.2-2.9l.1-.4l.2 1.4l.2-8.5l.2 4.2l.2-5l.2 1.8l.2 1l.1-.7l.2-.7l.2-1.3l.2-2.3l.2 .1l.2-.4l.2-1.9l.2 .1l.1-8.1l.2 5.5l.2 .2l.2 1.6l.2 2.6l.2-.7l.2-.8l.2-8.7l.1-.4l.2 1.1l.2 4.1l.2-4.9l.2 2.4l.2-1.5l.2-3.8l.2-2.5l.1 2.2l.2-.2l.2-6.2l.2-3.3l.2 3l.2 2.4l.2-7.6l.1 .5l.2-6.7l.2 3.2l.2 1.7l.2-6.1l.2 .8l.2-11l.1 6.3l.2-4.4l.2-1.7l.2-.2l.2 1.9l.2 .9l.2 8.5l.1-2l.2 1.8l.2 2l.2-.1l.2-4l.2 10.6l.1 4.7l.2 .4l.2-3.8l.2-.4l.2 8.6l.1-.7l.2-1.1l.2 .8l.2 .7l.2 5.8l.2 2.6l.2-1.3l.2-1.3l.1 2.2l.2 1.2l.2 4.7l.2-6.8l.2 .2l.2 6.3l.2-1.8l.2 0l.2-.6l.1 0l.2 6.7l.2-1l.2 4l.2-2.4l.2-.4l.2-.4l.1-3.2l.2 3.9l.2 2.6l.2-3.9l.2 .9l.2 1.4l.2 3.4l.1-6.1l.2 7.5l.2-7.3l.2 7.5l.2-3.1l.2 1l.2-4.1l.1 5.8l.2 1.8l.2-5.7l.2 3.5l.2 1.7l.2 .3l.2-2l.1-2.1l.2 .7l.2 4.2l.2-1.3l.2 .8l.2 3.1l.2-6.3l.2 .7l.2-4.5l.1 0l.2 2l.2-2.3l.2 2.3l.2 1.5l.2-3.9l.2 1l.2 1.6l.2-.8l.1 .6l.2 2l.2 4.6l.2 .2l.2-2.1l.2 3.6l.2-6.6l.2 .1l.2 7.8l.1-1.5l.2 .2l.2 1.7l.2 2.6l.2-.9l.2 1.5l.2 .7l.2-1.7l.1 1.7l.2-.6l.2 1.7l.2-3l.2-.4l.2-1.4l.2-.9l.2-.1l.1 .4l.2 4.9l.2 3.5l.2 3.6l.2-1.8l.2-3l.2 1.1l.2-2.7l.2 3.2l.1-1.9l.2 2.8l.2 1.5l.2 1.1l.2-2.1l.2 .4l.2-1.6l.2 .1l.1-3l.2 1.9l.2-2.7l.2-2l.2 6.5l.2-10.9l.2 5.7l.2-5.1l.2 .2l.1-1.5l.2 1.9l.2-2.7l.2 2.2l.2-2.6l.2-1.7l.2 2.6l.2 2.6l.2-2.9l.2 4.2l.1 0l.2-.9l.2 4.8l.2 2.2l.2-2.5l.2 2.3l.2 6.3l.2 .7l.2-.1l.2 2.8l.2 3.2l.2 6.2l.2 4.1l.2-2.1l.1 1.6l.2 2.1l.2 1.9l.2 7.3l.2 .6l.2-.7l.2 3.1l.2 3.1l.2 2.6l.2 1.4l.2-5.6l.1-2.3l.2 7.2l.2-.8l.2 .1l.2 .9l.2-.4l.2-4.7l.2 .5l.2-1.8l.1 4.8l.2-1.3l.2 3l.2-.8l.2-2.3l.2 3.4l.2 3.5l.2-2.7l.1 .6l.2 3.2l.2 2.3l.2-.2l.2 1.4l.2 3.6l.2-2l.2 5.6l.1 4.2l.2-1.8l.2 4.9l.2-5.6l.2 1.8l.2-1.4l.2 2.7l.2 1.3l.2 6l.1 1.6l.2 2.4l.2-1.3l.2-3.2l.2-1.6l.2-3.7l.2-.5l.2 0l.2-2.5l.2-1.6l.2 .8l.2-2.5l.1-2.6l.2-8.5l.2-3l.2-.4l.2-1.9l.2-1.3l.2-3.5l.2-4.6l.1-3.9l.2-1l.2-7.3l.2-2.2l.2-.1l.2-2.8l.1-.9l.2-7.4l.2-6.3l.2 1.2l.2-2.1l.2-4.5l.1 1.7l.2 3.7l.2 .1l.2 2.1l.2 4.1l.1 2.6l.2 7.1l.2-4.1l.2 5.1l.2-6.1l.2 11.1l.1 .7l.2-1.5l.2 1.1l.2 4.4l.2 1.9l.2 .3l.1 2l.2 4.7l.2 .7l.2-2.2l.2 4.2l.2 2.8l.2-7l.1 5.6l.2-1.1l.2 3.2l.2 .6l.2-3l.2 0l.2 2.2l.1-.9l.2 4.6l.2 .6l.2 .3l.2 2.9l.2-3.1l.2-6.5l.1 .9l.2 3l.2-2.6l.2-1.1l.2 7.8l.1-6.2l.2-.2l.2-6l.2 3.1l.2-2.1l.2 2.3l.1 .1l.2 .7l.2 5.4l.2 .7l.2-5.4l.2 3.5l.2 3.5l.1-5.3l.2 4.4l.2 .9l.2 .1l.2-2.6l.2 8.6l.2-1.4l.1 1.9l.2 5l.2 .5l.2-3.7l.2 1.9l.2-1l.2 3.1l.2-4.3l.1-2.8l.2 2.6l.2 1.6l.2-5.3l.2-2.7l.2 .2l.2 1.1l.2 .1l.2 1l.2-5l.1 1.8l.2 1.4l.2-7.6l.2 1l.2 1.8l.2-.3l.2-1l.2-2.5l.2 .8l.2-1.4l.1-.5l.2 .7l.2 2.8l.2 .5l.2-.4l.2-6.6l.2 1.8l.2 2.5l.1-4.7l.2-1.2l.2-5.5l.2 4.7l.2-4.1l.2-1.2l.2 2.5l.2-1.2l.2 .2l.1 1.4l.2-2.9l.2 .4l.2 2.1l.2-1.2l.2 1.1l.2-1.6l.2-3.3l.1 7.5l.2-3.6l.2 6.8l.2-2.3l.2 5.4l.2-1.1l.2-.3l.2 2.5l.1-3.5l.2 .7l.2-4.8l.2 1.7l.2 4l.2-.6l.2 .2l.2 2.5l.2-6.2l.2-.5l.2-.8l.1-3.6l.2 4.9l.2 1.1l.2-4.6l.2-3.9l.2-3.8l.2 3.3l.2-.5l.2 .3l.2 1l.2-2.6l.2-1.7l.2 1.9l.2-7.1l.1 4.7l.2-.5l.2-1.8l.2-.9l.2-5.2l.2-.7l.2-.7l.2 2.2l.2-2.1l.2-2.8l.2-5.5l.1 0l.2 5.2l.2 .9l.2-5.9l.2-1l.2 .6l.2-.5l.2-.7l.1-1.4l.2 1.9l.2-1.7l.2-6.5l.2 3.8l.2-.2l.2-2l.2-1.6l.2-.3l.1 1.7l.2 1.5l.2-3.6l.2 2.2l.2-4.9l.2 5.6l.2 1.2l.1-7.5l.2-4.6l.2-.3l.2 9.2l.2-4.5l.2 3l.2-3.2l.1 5.2l.2-4.8l.2-4.7l.2 4.6l.2-1.4l.2 2.6l.2-1.4l.1 1.2l.2-4.7l.2 4.6l.2-4.3l.2 1.6l.2 .9l.2-4.1l.1 6.2l.2-2.6l.2-2.2l.2 5.2l.2-2.1l.2 .9l.2 7.3l.1-4.5l.2 2.8l.2-7.9l.2 3l.2-.3l.2 1.7l.2 .2l.1 1.7l.2-2.3l.2 2.4l.2 4.6l.2-2.4l.2 1.3l.2 3l.1-2.4l.2-.3l.2-3l.2 2.8l.2-1.9l.2-2.8l.2 2.6l.1-6.2l.2 .8l.2-.3l.2-.7l.2 2.9l.2-1.2l.2-6.5l.2 .4l.2-.4l.1-3.2l.2 4.7l.2-1.6l.2-6.6l.2 7.1l.2-5.2l.2-1.5l.2-1.6l.1-.2l.2 3.3l.2-3.8l.2 1.4l.2 3.4l.2 4l.2 .1l.2-1l.2 .5l.1-3.6l.2 5.4l.2 2.6l.2 .5l.2-.9l.2 3.3l.2 0l.2 3.3l.1 .8l.2-.6l.2 2.7l.2-1.8l.2 4.6l.2-4l.2-1.6l.2 1.4l.1-1.8l.2-4.4l.2 1.9l.2 4.9l.2-4.6l.2-6.2l.2-3.2l.2 6.4l.2 .6l.1-4.2l.2-4.7l.2 5l.2-2.7l.2 1.1l.2-.6l.2-.4l.2-3.3l.1 1.7l.2 1.6l.2-4.4l.2-5.1l.2 11.9l.2-8.2l.2 6.4l.2 .2l.1-7.4l.2-7.3l.2 7.1l.2-4.2l.2 5.3l.2-6.2l.2 4.6l.2 .8l.2-4.4l.1-1.4l.2-.4l.2-1.5l.2-2.5l.2 2.8l.2-12.8l.2-2.3l.2-1.9l.1-1.9l.2-1.9l.2 3.4l.2-4.9l.2 3l.2 .2l.2-4.6l.2 .4l.2 3.5l.1-12l.2-1.5l.2 .1l.2 .2l.2-2l.2-4.3l.2 1.6l.2 .8l.2 5.8l.2 3.7l.2-7.5l.1 1.8l.2-.5l.2-2.6l.2-.2l.2 2.4l.2-3l.2 1.2l.2 .4l.2-3l.2 .5l.2 .4l.2 5.5l.2-6.3l.2-3.5l.1 .6l.2 9l.2-2.9l.2 2.3l.2-.2l.2-.5l.2-.6l.2 6.7l.2-2l.2 5.1l.2 4.7l.2 5.7l.2-.2l.2-2.4l.1 4.8l.2 5.9l.2-1.2l.2 2.6l.2-1.1l.2 2.5l.2-4.6l.2-5.7l.2-6l.2-.4l.2-6l.2 4.1l.2-6.7l.2 0l.1 2.9l.2-6l.2 .4l.2 .3l.2 3.4l.2-2.8l.2-2.7l.2 6.4l.1-5.3l.2-.1l.2 .8l.2 .4l.2-5.1l.2 4.9l.2-.7l.1-1.1l.2-.1l.2-.1l.2 2.7l.2-2.1l.2-4l.2 1.5l.1-4.5l.2 3.1l.2 5.9l.2-4.6l.2 3.7l.2-2.4l.2 .6l.1-.1l.2 1.1l.2-1.8l.2 1.4l.2 3.3l.2 6.5l.1 8.9l.2 1.5l.2-.9l.2-2.3l.2 0l.2 5.5l.1 3.5l.2 4.4l.2-.2l.2 1.8l.2 1.9l.2-2.1l.1-5.9l.2 2l.2 0l.2-2.9l.2-4.1l.2-1.5l.2-2l.1 7.2l.2-9l.2 7.2l.2-8.1l.2 0l.2-10.2l.2 .3l.1 4.6l.2-3.6l.2-1.8l.2-2.3l.2-3l.2 3l.2 1.6l.1 1.2l.2-5.1l.2 2.2l.2-3.2l.2 1.2l.2 .9l.2 4.3l.1-3.1l.2-.7l.2 .1l.2 1.6l.2 .2l.2-8.5l.2 1.5l.1-3.8l.2 4.3l.2-2.1l.2 .2l.2-3.7l.2-2l.2 5.2l.1-3.8l.2 1.2l.2 1.6l.2-2.8l.2-.9l.2-.4l.1 4.3l.2-4.7l.2 6.6l.2 .6l.2 .4l.2 2.3l.1-1.9l.2 5.1l.2 3.9l.2-5.8l.2 .2l.2 1.4l.1-.2l.2 5.8l.2-5l.2-3.8l.2-.8l.2 5.4l.2 8.8l.1-4.7l.2-4.5l.2-2.2l.2 5.6l.2 3l.2-3.6l.2-1.4l.1 1.5l.2 3.3l.2 1.4l.2-.6l.2 1.1l.2 7.6l.2-2.6l.2 1.9l.2-1.9l.2 10.3l.2-6.6l.1 1.2l.2 .8l.2 .9l.2 1.8l.2 1.4l.2 4.1l.2 4.8l.2 1.1l.2-5.2l.1 4.5l.2 4.4l.2 1.4l.2 .4l.2 4.9l.2 1.7l.1 2.5l.2 7.4l.2-7.5l.2 1.3l.2 3.9l.2 1l.1 4.6l.2-.6l.2-1.2l.2-5.8l.2-.6l.2-.4l.1 .4l.2 3.3l.2-5.1l.2-2.8l.2-5.5l.2-6l.2 1.6l.1 1.1l.2-3.6l.2-.7l.2 1l.2-5.7l.2 1.4l.2 3.1l.2-1.4l.1 .4l.2-1.6l.2-3.4l.2 2.5l.2 1.3l.2-5.8l.2 1.9l.2 6.5l.1-2.2l.2-4.4l.2-1.9l.2 2.1l.2 .7l.2 1.7l.2 3.7l.2-1.1l.1-.9l.2 1.4l.2 4.5l.2-1.5l.2-5l.2 1.4l.2 3.2l.1-1.1l.2 8.4l.2-3.3l.2 5.8l.2-1.4l.1-6.8l.2 2.3l.2-3.9l.2 6.1l.2 3.9l.2-2.6l.1 4.3l.2-1.2l.2 1.8l.2-2.1l.2 6.8l.2-10.6l.2 6.8l.1-3.4l.2-2.1l.2 4.8l.2 .6l.2 1.4l.2 5.4l.2-4l.1 1.9l.2-1.5l.2 2.9l.2 .9l.2-2.4l.2 2.1l.2-5.1l.2 4.6l.1-2.2l.2-1l.2-4.5l.2 2.8l.2 1.3l.2-6.3l.2-.7l.2-2.6l.2 4.6l.1-12.7l.2 .9l.2 1.7l.2 3.3l.2-3.6l.2-3.9l.2 1l.2-1l.2-.2l.1-1.3l.2-2.7l.2 4.4l.2-1.8l.2 .4l.2-1l.2 2.2l.2-1.7l.2-5.4l.2 6.7l.2-10.9l.1 3.4l.2-1.8l.2 3.5l.2-2.3l.2 3.9l.2-7.3l.2 6.6l.2 2.6l.2-3.7l.2 1.2l.2-3.7l.2 3.7l.1-1.7l.2 4.1l.2-5.4l.2 2l.2 5.6l.2-2.7l.2 4.5l.1-2.1l.2-9.1l.2 7.2l.2 2.1l.2-3.9l.2 8.3l.2-6.8l.1 5.2l.2 2.5l.2-8.1l.2 1.2l.2 8.5l.2-3l.2-.6l.1-.3l.2 2.2l.2 1.3l.2 2.9l.2-2.3l.2-.3l.2 .6l.1-3.2l.2 5.3l.2 2.1l.2 1.3l.2 .3l.2 2.1l.2 .4l.1-2.5l.2-2.7l.2 4.3l.2-7.1l.2 .4l.2-3l.2-.8l.1 4.1l.2 .3l.2 2.8l.2 2.9l.2-4.8l.2-1.8l.2-.2l.1 7.9l.2-3.1l.2-2l.2 3.3l.2-.9l.2 1.9l.2-.1l.1 2.5l.2 .4l.2-2l.2-.4l.2-4.4l.2 8.6l.2-6.3l.1 9.2l.2-3.4l.2 .5l.2-6.7l.2 .3l.2 .2l.2 .2l.1 3.7l.2-1.4l.2 2.9l.2-1.5l.2 2.6l.2-7.8l.1 4.7l.2-2.9l.2 7.7l.2-3.1l.2-.9l.1 2.5l.2-3.3l.2 2.2l.2 3.1l.2-1.4l.2 0l.2 2.4l.1-3.8l.2 6.2l.2 1.7l.2-9.5l.2 2.7l.2 1.6l.2 1.7l.2 .4l.1 1.7l.2-1l.2-3.5l.2-.6l.2 10.6l.2-.6l.2-2.5l.2 3.8l.1-1.3l.2-3.8l.2 2.4l.2 1.1l.2 4.5l.2-6.1l.2 6.5l.2 .3l.1 5l.2-.4l.2-2.7l.2-.4l.2 7.3l.2-3l.2 1.6l.1 4.7l.2 2.2l.2 .3l.2 .7l.2 .4l.2 1.3l.2-3l.1-1.1l.2-3.8l.2 1.8l.2 3.2l.2-1.1l.1-6.1l.2 .6l.2-6l.2 2.7l.2-3.4l.2 .1l.1 2.3l.2 0l.2-4.4l.2-.4l.2-1l.2-.1l.2-3.6l.1 1.8l.2-1.7l.2 3.7l.2-2.5l.2 1.4l.2 2.5l.2-2.2l.2-2.4l.2-4.1l.1 3.2l.2 5.5l.2-6.4l.2-2.4l.2 6.8l.2-.8l.2-6.6l.2 2.2l.1-2.9l.2-1l.2 3l.2-1.6l.2 .7l.2-3.8l.2 4.6l.1-3.2l.2 7.5l.2-6.9l.2-1l.2-.5l.2-2.1l.2-.1l.1 3.8l.2-2.4l.2 2.2l.2 .3l.2-1.1l.2-2.1l.2 .2l.1 1.2l.2 2.1l.2 1.2l.2-6.8l.2-.3l.2 2.4l.2-3l.1 4.1l.2 .2l.2-.5l.2-5.7l.2-.2l.2 5.9l.2 5.4l.2-6.3l.2 2.2l.1-2.1l.2 4l.2 1.8l.2-2.5l.2-.4l.2-2.8l.2 1.7l.2-2.3l.1 3l.2-1.2l.2 0l.2 1.1l.2-5.8l.2-.4l.2-4.5l.2 9.5l.1-8.2l.2-2.1l.2 2.8l.2 1.1l.2 2.1l.2-5.6l.2-7.1l.2 3.4l.2-.6l.1 2.7l.2-3.8l.2-2.4l.2 1.2l.2-2l.2-1l.2-.4l.2 6.6l.2 2.2l.2 1.2l.2 3.3l.1-4.6l.2 1.1l.2 .2l.2 2.4l.2 2.7l.2 1.3l.2 .3l.2-3.9l.2-1.2l.1 1.8l.2 2.7l.2 .2l.2-1.9l.2 3.2l.2-.7l.1-4.8l.2 1.4l.2-9.1l.2 7.2l.2-7.5l.2 3.4l.1-1.9l.2-.2l.2-3.7l.2-2.1l.2-2.4l.2 1.7l.2-.7l.2-1.5l.2-9.4l.2 1.3l.2-5.8l.2-3.6l.1 .3l.2-.3l.2-6.4l.2 2.1l.2-3.7l.2-6.9l.2 .2l.2 4.2l.1-4.5l.2 1.4l.2-3.5l.2-4.2l.2-1.1l.2 .6l.2 4l.1 1l.2-3.1l.2 .5l.2-5.4l.2 2.3l.2-3.9l.2 .8l.2-2.3l.1 1l.2-.7l.2 2.8l.2-9.1l.2 5l.2 3.8l.2 1.2l.2-7l.1 3.7l.2-2.4l.2 .9l.2 2l.2-.9l.2-2.6l.2-1.5l.2 1.7l.2 1.2l.1-1.6l.2 4.2l.2-.7l.2 2.6l.2 .3l.2 .3l.1 8.9l.2-3.6l.2 .7l.2 6.8l.2-3l.1 5.2l.2-2.1l.2 1.4l.2 2.8l.2 4.4l.2 .4l.1-2.7l.2-2l.2 4l.2-2.6l.2 1.6l.2 3.1l.2 1.7l.1-7.7l.2-.4l.2 5.8l.2 .4l.2-5.3l.2-4.7l.2-.2l.1 1.5l.2 1.9l.2-2.3l.2 .6l.2 3.5l.2-1.9l.2-3.9l.2 6.4l.2 1.9l.2-5.2l.2-1.2l.1 1l.2 3.3l.2 5.8l.2-5.8l.2-1l.2 2.4l.2-1l.2 2.7l.2 7.4l.2 2.9l.2-3l.2 7.5l.2-2.5l.2 3.7l.2 .4l.1-2.1l.2 2.8l.2 2.9l.2 4.3l.2-.5l.2-3l.2 1l.2-3.4l.2-3l.2-3.4l.1-1.6l.2-4.5l.2 2.1l.2-.4l.2-.7l.2 1.9l.2-3.6l.2-3.1l.1-2.7l.2-3.8l.2 2.5l.2-.3l.2 .1l.2-4.9l.2-.6l.2-.1l.2-1.7l.2-2.9l.1 3.7l.2-5.2l.2-2.7l.2 3.9l.2-7.5l.2 3.6l.2-.8l.2-2.9l.2 3.2l.2 .7l.2 2.7l.2-2.6l.1-.2l.2 4.8l.2-5.4l.2 8.4l.2 6.1l.2-3.7l.2 3.7l.2 1.6l.1-1l.2-3l.2 2.7l.2-.7l.2 5.2l.2-6.9l.2 8.2l.2-3.3l.2 2.7l.1-5.4l.2-1.6l.2-3.2l.2-.1l.2-3.7l.2 2l.2 1.3l.2-3.7l.2-.8l.2 .4l.2 3l.2-5l.2-3.2l.2-1.4l.1-5.1l.2-5.3l.2-1.8l.2-1.4l.2-9.3l.2-2.7l.2 6.5l.2-7.8l.2-6.2l.2-3.7l.2-2.9l.2-4.1l.2-3.8l.2 4.5l.1 .2l.2-3.9l.2 3.9l.2-7.2l.2-1.7l.2 3l.2 2.6l.2-6l.2 7.8l.2-4.5l.2 .4l.2 3.6l.2-3.6l.1 5l.2-2.4l.2-1.8l.2-.7l.2-1l.2-3.9l.2-.5l.2 4.5l.1-6.7l.2 1.5l.2 4.1l.2-5.2l.2 2.5l.2 5l.2-.7l.2-.3l.1-3.2l.2-.2l.2 1.5l.2 4.6l.2-5.6l.2 6.6l.2 4.4l.2-4.8l.1-.5l.2 .1l.2 3.7l.2 3.2l.2 3l.2-2.6l.2 0l.1 6.6l.2 2.9l.2 .3l.2-2.1l.2 1.1l.2 .5l.2 3.5l.1 4.6l.2 1.6l.2-1.8l.2-1.4l.2 5.9l.2 0l.2 0l.1-3l.2-4.7l.2 1l.2-.8l.2 1.6l.2-5.8l.2-7.3l.2-2.7l.2-2.7l.2-.3l.2-5.5l.2 0l.2-3.7l.1-3.8l.2 1.8l.2 7l.2-.5l.2-2.8l.2-10.7l.1 2.6l.2 9.7l.2-8.3l.2-2.6l.2 3.7l.2-.2l.1-2.4l.2 1.9l.2 .5l.2-.6l.2 1.7l.2 4.9l.1-1.5l.2-2.1l.2 1.9l.2 3.5l.2-.9l.2 3.5l.2-3.6l.1 1.9l.2 3.1l.2 2.4l.2 5l.2 .9l.2-7.1l.2 5.4l.1 2.1l.2 .9l.2 0l.2 1.4l.2 2.2l.2-1.3l.2 5.2l.2-.1l.1-1.7l.2-.9l.2-3.6l.2 1.9l.2 7.5l.2-1.7l.2 .5l.2 1.7l.1-4.8l.2 6.5l.2 1.4l.2 .9l.2 2.4l.2-2.2l.2-2.7l.2 4.4l.2-1.5l.2-1.3l.2-4.4l.1-2.5l.2 .9l.2 1.6l.2 2.1l.2-3.3l.2 .5l.2 2.3l.2-.8l.2-.2l.2 5.6l.2 2.4l.1-4.9l.2 2.8l.2-2.7l.2 1.2l.2 6.3l.2 5.7l.2-1.8l.2-1.8l.2 3.6l.1 4.4l.2 3.7l.2-1.5l.2-2l.2 5.6l.2 1.9l.2-.6l.2-.4l.1-1.8l.2-1.2l.2-.9l.2-2.5l.2 1.9l.2-3.1l.2-5.3l.2 .9l.1 1l.2 .4l.2-.4l.2-5.7l.2-4.7l.2 .1l.2-.5l.2 .4l.2-1.1l.1-4.2l.2-.6l.2-3.3l.2-4.1l.2-1.1l.2 1.3l.1 5.1l.2-1.6l.2 .8l.2-.4l.2-2.6l.2-4l.1-2.8l.2 2.2l.2-1.5l.2-6.6l.2 3.5l.2-2.5l.1 1l.2-2.9l.2-3.5l.2 5.8l.2 1.8l.2-5.8l.2-1.9l.2-3.7l.2 7.2l.2-.5l.2-7.6l.2-2l.2-2.2l.2 2l.1-.2l.2 3.5l.2 1.6l.2-.7l.2-2.1l.2 2.5l.2-.3l.2-.6l.2-2.2l.2-.2l.1 2.9l.2-2.5l.2 .2l.2 .2l.2-2.3l.2 3.1l.2-3.1l.2 4.4l.2-4.4l.2 3.5l.1 1l.2-1l.2 5.5l.2-.9l.2 7l.2 1.8l.2 6.3l.2 0l.2 1.7l.2 .9l.1 5.7l.2 7.7l.2 .9l.2 7.3l.2 3.1l.2 8.1l.2 6.3l.2 7.6l.2 8.3l.2 7.3l.1-1.9l.2 5.6l.2 10.1l.2 4l.2 1.3l.2-2.5l.2-4.1l.2 2.3l.1 .5l.2-1.3l.2-3.7l.2-2.1l.2 .5l.2-1.6l.2-3.3l.1-4.5l.2-3l.2-3l.2 .9l.2 1.3l.2-1.1l.2-2.5l.1-1.5l.2-2.6l.2-1.3l.2-2.2l.2-.1l.2-1.5l.2-.2l.2-4l.2 1.8l.2 .5l.2 1.3l.2-2.7l.1 1.8l.2-4.2l.2-5.4l.2-1.6l.2-.7l.2 5l.2 .7l.2-2.7l.2-2.6l.2 .4l.2 .2l.2-3.7l.1 2.6l.2 2.6l.2-4.1l.2 1.7l.2 3.9l.1 2.8l.2 2.5l.2-.5l.2-4.4l.2 4.1l.2 .9l.1-2.9l.2 4.8l.2 1.8l.2-2.8l.2 2.3l.2 2.9l.1 2.9l.2 .4l.2 9.6l.2-2.1l.2 2.6l.2 2.4l.2 5.7l.1 4l.2 1.2l.2 4.3l.2 7l.2-.8l.2 3.9l.2 3.4l.1 2.8l.2 3.4l.2 5l.2-1.8l.2 .1l.2-.6l.2-4.9l.1-4.7l.2 2.8l.2-4.2l.2-3.2l.2 2.5l.1-5.5l.2-2.4l.2 .7l.2-4.6l.2-4.9l.2-1.8l.1-1.5l.2 1.3l.2-4.1l.2-1.3l.2-2l.2 4.2l.2-3.1l.2-2.1l.1 2.4l.2-.5l.2-1.6l.2-.7l.2-1.4l.2 3.1l.2 1.1l.2-3.1l.2-1l.1-1.6l.2-1.5l.2 .2l.2-.9l.2 4.2l.2 2.2l.2 .4l.1-1.6l.2 .5l.2 3.6l.2 2.8l.2-4.7l.2 1.5l.2 8.9l.1-1.1l.2-1.4l.2 5.9l.2 1.1l.2 2.8l.2 .8l.2 .1l.1-.7l.2-2.5l.2-1.1l.2 2.6l.2-2.6l.2 .5l.1-5.9l.2-4.5l.2 1.6l.2-4.6l.2-1.2l.2 .9l.1 .8l.2-.3l.2-5.8l.2-2.2l.2-1l.2-1l.2 .7l.1 1.1l.2 1.8l.2 1.3l.2-4l.2-1l.2 2l.2 .4l.2 1.2l.1 2.9l.2-2.8l.2 2.5l.2 5.7l.2-3.1l.2-.3l.2 4.4l.2-4l.1-.3l.2 2.5l.2-1.9l.2-.5l.2 1l.2-5.7l.2 4.9l.2-4.5l.2-.6l.2-2.2l.2-.4l.2 2.6l.2 2.7l.2-.9l.1-1.8l.2 1.5l.2 1.6l.2 0l.2 .2l.2-.7l.2 2.2l.2-1.4l.1-2.2l.2-.9l.2 2.6l.2-1.8l.2-.2l.2 4.4l.2-3.1l.2 3.7l.2 2.5l.1-3.6l.2 .8l.2 1.2l.2 3.1l.2 1.2l.2 2.8l.2-3.5l.2-1.3l.2 3.1l.2 3.6l.2 1.8l.1 .5l.2 1.3l.2 .7l.2-1l.2 5.5l.2-2l.2 1.8l.2-.6l.2-5.3l.2 2.5l.2-1.4l.1 3l.2-4.3l.2 5.6l.2 2.2l.2-4l.2 .1l.2-.7l.2 1.3l.1-4.6l.2 2.5l.2-3.9l.2 .3l.2 3.2l.2 2.9l.2-2.6l.2 .9l.1-.9l.2 1.8l.2-8l.2-.6l.2 1.3l.2-2.6l.2-2.1l.2 3.3l.2 .3l.1 2.5l.2-2.3l.2 .2l.2-5.5l.2 .4l.2-.7l.2-1.1l.2-.8l.1-1.4l.2 2l.2-.7l.2-.6l.2 1.8l.2-6.8l.2-3.7l.2-3.1l.2 5.3l.2-2.6l.2-6.5l.2 4.2l.2-2.8l.1-.7l.2-1.1l.2-1.1l.2 .5l.2-4.5l.2-1.5l.2 .5l.1-6.8l.2-2.1l.2-3.9l.2 1.6l.2 3.4l.2-.4l.1-6.4l.2-5.9l.2 1.5l.2 .1l.2-2.3l.2-1.2l.1-.1l.2 1.5l.2 2.8l.2 2.6l.2 4.5l.2 1l.2 2.2l.1-2.7l.2 .2l.2 .2l.2 6.2l.2-2l.2 0l.2-.6l.1 5l.2 3.8l.2-.8l.2-.7l.2-2.4l.2-.2l.1-4.6l.2 2.3l.2 1l.2-1.5l.2-2.8l.2-5.1l.1-.8l.2-.3l.2-.9l.2 .1l.2-1.3l.2 .7l.1 1.2l.2 1.4l.2 .9l.2 1.9l.2 5l.2-2.1l.2-2l.1-1.6l.2 .1l.2 3.7l.2 5.4l.2-1.7l.2 .8l.2 .8l.1 2.3l.2 1.2l.2 .9l.2 2.2l.2 .8l.2 4.5l.2 2.2l.2 1.9l.2-2.9l.1-.5l.2 1.2l.2 3.9l.2-3l.2 4.4l.2 1.1l.2 3.1l.2 .2l.2 1.2l.2 5.3l.2 3.8l.2 1.7l.2 3.4l.2 1.9l.1-2.4l.2 9.6l.2 1.9l.2 3l.2-1.2l.2 4l.2 .5l.2 2.4l.2-1.1l.2-2.2l.2 .4l.1-1.8l.2-1.3l.2-3.3l.2 1.3l.2-.6l.2-4l.2 .5l.1-2.9l.2-3.4l.2-2.3l.2 1.3l.2 .2l.2-4.8l.2-.4l.1-1.5l.2-2l.2 1.4l.2-.3l.2-.6l.2-2.9l.2-1.9l.2 4l.2 .3l.1-2.7l.2-.1l.2-2.3l.2-7l.2-1.5l.2 2.3l.2 .6l.2-1.8l.2-2.8l.2 .4l.1 1.2l.2 1.4l.2-1.9l.2-1.8l.2-1.8l.2 .8l.2-4.5l.2 1.5l.2-.8l.2-1.5l.1 6.1l.2-1.2l.2-8.6l.2-.7l.2 2.6l.2-3.7l.2-.5l.2 6.4l.2-4.4l.2 1.5l.1-2.9l.2 5.6l.2-.3l.2-4.5l.2 2.1l.2-3.2l.2 2.3l.2-3.2l.2 1.9l.1 3.4l.2 7.4l.2 1.5l.2-.6l.2-.1l.2 2.7l.2 .8l.1 3.1l.2 2.3l.2-2.3l.2-1.9l.2 3.9l.2 4.3l.2-2.9l.1 2l.2 .6l.2-.2l.2-2.2l.2-1l.2 .5l.2-3.8l.2 2.6l.1-.7l.2-.9l.2-.9l.2-4.1l.2-.6l.2-1.9l.2-2.8l.2-.4l.1-.5l.2-.3l.2-2.1l.2 2.8l.2-1.4l.2-2.9l.2 .9l.2 1.2l.2 .7l.1-2.5l.2 2.6l.2 2.5l.2-7.8l.2-3.2l.2 5.3l.2-5.1l.2-.6l.1 3.3l.2 2l.2 1.7l.2-5.3l.2-2.6l.2-.3l.2 5.1l.2-2.3l.2 1.8l.1 1.3l.2 .5l.2 2.4l.2-1.5l.2 1l.2-2.8l.2 1.6l.2 3.4l.1 1.3l.2 5l.2-1.5l.2 1.9l.2-1.6l.2 6.6l.2-1.6l.2-.2l.1 1.7l.2 1.1l.2-.4l.2-.8l.2 3.6l.2 4.6l.2 2.5l.2-.8l.1 1.3l.2 4.8l.2-4.3l.2 .9l.2-1.4l.2 5.5l.2-.6l.1-.2l.2 8.3l.2 4l.2-3.5l.2-.9l.2-.6l.2 1.6l.1 1.6l.2 4.9l.2 3.5l.2 3.2l.2-.7l.2-.1l.2 2.9l.1 .6l.2-.6l.2 .2l.2-2.1l.2 .5l.2-3.2l.2-4.8l.2-3.6l.2 2.5l.2-3.3l.2 1.2l.2-.4l.2-1.1l.1-1.9l.2 1.9l.2-.4l.2 .5l.2 2.4l.2 2.7l.2-1.1l.2-.7l.2-.9l.1 5.4l.2-4.1l.2 1.9l.2 3.5l.2-2.6l.2-1.7l.2-2.6l.2 1.4l.1 3.7l.2 1.2l.2-.4l.2 1.2l.2-3.5l.2-2.8l.2-.9l.2 .1l.2 2l.2-2.6l.2-2.6l.2-3.2l.1 3.9l.2-5.1l.2-.7l.2-3.1l.2-1.5l.2 .5l.2 3l.2 2.5l.2-.7l.1 5.4l.2-.5l.2 1.4l.2 .5l.2 5.4l.2-6.5l.2 2.1l.1 1.5l.2 4.9l.2-3l.2 4.8l.2 2.7l.2 .7l.2 .6l.1-3.4l.2 .3l.2-2l.2-.2l.2-6.7l.2 .6l.1-7.8l.2 5.5l.2-3.2l.2-6.7l.2 .4l.2-7.5l.1 4.2l.2-2.9l.2-4.7l.2-3.8l.2 0l.2-1.5l.1-.5l.2 .9l.2-1l.2-.3l.2-5.2l.2 3.5l.2-1.4l.2-4.6l.2 1.6l.1-8l.2-3.6l.2 3.6l.2 1.4l.2-4.6l.2-2.4l.2-2l.2-.8l.1 1.6l.2-.1l.2 3l.2-1.9l.2 .7l.2-1.6l.2 4.8l.2 4.1l.1-3.7l.2 .6l.2 2.5l.2 5.6l.2-.9l.2-1.2l.2 3.5l.2-4.7l.2 4.9l.1 .7l.2-.2l.2-.9l.2 .8l.2-.1l.2 1.7l.2-1.7l.2 5.5l.1-2.7l.2 .8l.2-1.2l.2 5.5l.2 4.1l.2 .8l.2-1.1l.2-1.2l.2-3.7l.1 4l.2 .9l.2-.8l.2 5l.2 .4l.2-2l.2 1.1l.2 1.4l.1-2.6l.2-1l.2-.5l.2-1l.2-5.2l.2-.9l.2 .3l.2 1l.1 1.9l.2 1.2l.2-2.8l.2 0l.2-1.9l.2-5l.2 .7l.2-1.4l.2 4.5l.1-1.7l.2-1l.2-1.2l.2 4l.2 .9l.2-3l.2 3.9l.2 .4l.1 1.3l.2-3.8l.2 10.8l.2 1.1l.2-2.8l.2-.4l.2 .6l.2-3.4l.2 1.2l.1 5.8l.2-2.3l.2 .4l.2 2.4l.2 2.7l.2-3l.2 .4l.2 .1l.1-1.3l.2 3.2l.2-3.6l.2 1.7l.2 3.4l.2-1.7l.2 .8l.2-.5l.1-1.7l.2-.5l.2-3.5l.2 .5l.2-3.1l.2 1.6l.2-4.6l.2 .3l.2 1.5l.1-2.2l.2 2.7l.2 2l.2 2.3l.2-3.5l.2 1.1l.2 2.9l.2-3.8l.1-3.2l.2 1.2l.2 1.3l.2 .6l.2-.7l.2 4.7l.2 1.2l.2-.1l.1 1.5l.2 .9l.2 0l.2-1.5l.2-.8l.2-1.5l.2 1.7l.2-1.7l.1-.3l.2-1l.2-1.2l.2-4.4l.2-1l.2-2.2l.2-6l.1 1l.2-3.1l.2 .5l.2-.5l.2 2.9l.2-.8l.2-3.6l.1-3.4l.2 1.5l.2-.3l.2-2.7l.2 .5l.2 4.6l.2 .6l.1-4l.2 .3l.2 1.3l.2-6.3l.2-2.6l.2-.5l.2-1.7l.1-.9l.2 4.2l.2 0l.2-1.9l.2 1l.2 4.3l.2 .7l.2 1.6l.1 .3l.2-2.3l.2 1.7l.2 2.8l.2 3.8l.2 4.1l.2 1.6l.2 1l.1 1.4l.2 .3l.2-1.5l.2 4.1l.2-2.3l.2-2.6l.2 3.5l.2 2.4l.2-.7l.1 3.1l.2 0l.2-3.3l.2-3.3l.2 3.8l.2 1.1l.2 .9l.2-4.2l.2 .4l.2 2l.2 0l.2-.1l.1-4.9l.2-6l.2 5.9l.2-1.4l.2-2l.2 4.5l.2 0l.2-2.2l.2-1.2l.2-4.4l.2 2.1l.1 .5l.2-.6l.2-1.6l.2 2.9l.2 4.2l.2-1.8l.2-1.4l.1 6.2l.2-1.1l.2 3.3l.2-3.4l.2 2.4l.2-3.1l.2 3.8l.1-2.1l.2-1.1l.2 1.8l.2 1l.2 2.4l.2 1.8l.2 1.6l.2 .5l.2 1.7l.2 .4l.2 2.8l.1 1.7l.2 0l.2-1.7l.2 5.2l.2 2.1l.2 .2l.2 2.6l.2 0l.2-.2l.2 1.9l.2 2.7l.2 7l.2 1.3l.2 6.6l.1 1.8l.2-5.9l.2 4.6l.2 5.7l.2-.2l.2-.5l.2-2.3l.2-3.7l.2-1.1l.2-.4l.1 3.5l.2-5.5l.2-4.4l.2 2.4l.2 .5l.2-5.2l.2 1.8l.2-.4l.1-2.3l.2-5.2l.2-.1l.2-1.3l.2 .3l.2-.2l.2-2.5l.2 .9l.2-.1l.1 3.4l.2-.5l.2 .5l.2-2.6l.2 6.7l.2-1.8l.2-1.3l.2-1.2l.1 6.8l.2 1.1l.2 3.9l.2 .7l.2 .7l.2-1.8l.2 .6l.2 1.1l.2-2.3l.1 2.5l.2-1.6l.2 1.4l.2 3.5l.2-2.7l.2-3.4l.2 .4l.2 2.8l.1 1.2l.2-.3l.2-2.9l.2 2.1l.2-.6l.2 3.7l.2-5.6l.2 3.7l.1-1.1l.2 2.9l.2-2l.2-.8l.2-.7l.2-2.2l.2-.2l.2 1l.2-1.1l.2-4.5l.1-.4l.2-.6l.2-.4l.2-2.2l.2 2.6l.2-4l.2 5.7l.2-4.8l.2-2.8l.1 1l.2-2.1l.2-.4l.2 2.1l.2 0l.2-.9l.2 .4l.2-.8l.2-.5l.2-1l.2 1l.1 .1l.2-3.7l.2 3.3l.2-3.7l.2-.1l.2 4.1l.2-3.7l.2 5l.2 3.6l.2-4.9l.2-.6l.2-.6l.1 4.4l.2-2.9l.2 4.4l.2-1.6l.2 .1l.2 .6l.2-3.9l.2-.4l.2 1l.2-1.1l.1 1l.2 3.2l.2 4.5l.2 .8l.2 4.1l.2-.1l.1 1.4l.2 4.1l.2-.4l.2-1.9l.2 1.6l.2 4l.1-.7l.2 3.2l.2 2.2l.2-1l.2-3l.2-1l.1 1.2l.2-.7l.2-6.1l.2-.9l.2 3.2l.2-2.4l.2-5l.1-1.7l.2-3.9l.2 4.4l.2 .1l.2-2l.2-5.1l.2 .1l.1-2.1l.2-2.8l.2 3.2l.2 .3l.2-1l.2-1.3l.2-.8l.1 1.5l.2-2.5l.2-3.1l.2 1.9l.2-3.8l.2-2.8l.2 2.2l.1 2.2l.2-2.2l.2-3.1l.2 .5l.2 .5l.2 3.7l.2-.2l.1-7l.2-2.5l.2-.3l.2 2.1l.2 1.2l.2-2.1l.2 .2l.1 2l.2-2.9l.2-.5l.2 .6l.2 2.5l.2 2.9l.2 1.3l.2-1.4l.2-1.8l.1-1.2l.2 8.1l.2-2.6l.2 3l.2-3.1l.2 1.4l.2-.1l.2 2.7l.1-1.7l.2-2.1l.2 1.5l.2-.7l.2 1.7l.2-2.6l.2-1.1l.2-.4l.1 3l.2 2.3l.2-1.5l.2 2.2l.2-3.9l.2 0l.2 6.1l.1-3.2l.2 1.6l.2-5.7l.2 5.8l.2-4.2l.2 3.7l.2-1.3l.1-.8l.2 1.5l.2 1.6l.2 2.2l.2 1.2l.2-.4l.2-3.1l.1 .7l.2 1.2l.2 2l.2-.7l.2 .4l.2-1.6l.2 1.7l.1-1.3l.2 1l.2 3.5l.2-6.1l.2 4.6l.2-1.9l.2-.7l.1-.3l.2 3.3l.2 .3l.2-2l.2 4.2l.2 2.3l.2-.4l.1 2.1l.2-1.5l.2-1.2l.2 2.2l.2-1.2l.2 2.2l.2 .5l.1 .6l.2-.4l.2-1.6l.2 2.8l.2-.2l.2-1.3l.2 .6l.1 3.2l.2-.4l.2-3.5l.2-3l.2-.1l.2 2l.2 1.8l.1 .2l.2 .5l.2 1.9l.2-.8l.2-3l.2 3.2l.2-1l.1 0l.2 2l.2-.3l.2-2.3l.2-1.7l.2 .8l.2-2.3l.1 1.8l.2-1.5l.2 1.1l.2-3.1l.2 1.6l.2-1l.2 3.7l.1-5.6l.2 .5l.2 1.6l.2 .5l.2-3.9l.2 1l.2-1.1l.1-1.1l.2 3.7l.2-4.5l.2 .4l.2 1l.2-.6l.2-.1l.1-1.1l.2 0l.2-3l.2-3.3l.2 1.4l.2-2l.2 3.8l.1-.7l.2 1.8l.2-.4l.2-.9l.2 2.1l.2-6.3l.2 3.3l.1 1.3l.2-2.4l.2 2.7l.2 2.3l.2 3.1l.2-1.7l.2 .4l.1 2.4l.2-3.2l.2-1.1l.2 2.2l.2 1.4l.2-1.1l.2-1l.1-.6l.2-.4l.2 2l.2-.4l.2 .1l.2 1.2l.2-.5l.2 1.7l.1-3.9l.2 4.3l.2 .7l.2 1.5l.2-1.9l.2-1.7l.2 .3l.2 4.5l.2-2.8l.2-1.5l.1 4.6l.2-1.2l.2-3.7l.2-.4l.2 2.7l.2-3.3l.2 1.5l.2-2.1l.2 3.1l.2-.3l.1 1.2l.2-1.8l.2-2.3l.2 1.6l.2 1.4l.2-.4l.2 .8l.2 .2l.2 1.1l.2 1.6l.1 1.6l.2-3.9l.2 3.6l.2 1.9l.2-2.5l.2 2.6l.2-4.3l.1 1.7l.2-1.6l.2 1.9l.2-2.1l.2 3.4l.2-3.5l.2 5l.1 .5l.2-1.8l.2-.6l.2-2.4l.2-.1l.2 2.3l.2 1.8l.1 1.1l.2 .5l.2-4.6l.2 1.1l.2 2.1l.2 3.8l.2 1.5l.1 1.2l.2 3.9l.2-2l.2-2.6l.2 5l.2 1.4l.2 2.1l.2-1.1l.1 1.6l.2 .7l.2 3.2l.2 .5l.2 1.6l.2 4.2l.2 2.1l.2 1.9l.2 3.5l.1 .1l.2 .6l.2 .5l.2-1.7l.2 0l.2-5.6l.2 .8l.2 4.7l.1-3.3l.2-2.6l.2 4.1l.2-1.7l.2 2.5l.2-5.7l.2 .6l.2-.8l.2 0l.1 .8l.2 .4l.2-4l.2 .4l.2 .7l.2 .7l.2 3.1l.2-4.1l.1 6.3l.2-6.6l.2 5.2l.2 2.7l.2 .4l.2 .5l.2-.5l.2-1.7l.1 3.5l.2-.4l.2 .9l.2-1.1l.2 .2l.2-.7l.2 .7l.2 2.2l.2 2.7l.1-.1l.2 1.1l.2-1l.2 5.7l.2 3.6l.2 1.6l.2-1.4l.2 1.8l.1 2.8l.2-.9l.2 6.3l.2-3.2l.2 4.1l.2 .1l.2 1.8l.2-.1l.1 2.2l.2 1.4l.2 1.4l.2-1.2l.2 1.8l.2-1.3l.2 .4l.2 .4l.2-.1l.1 2.7l.2-1.2l.2 3.3l.2 1.7l.2-2.2l.2 2.2l.2-3.6l.2 4.2l.1-4.5l.2 .9l.2 .8l.2 0l.2 .8l.2 .3l.2 1l.2 2.7l.2 2.2l.1 3.8l.2-1.7l.2 3.1l.2 1.2l.2 .7l.2-1.6l.2 1.6l.2 2.8l.1 6.9l.2 2.3l.2-1.1l.2-.2l.2 3l.2 .8l.2 1.3l.2 2.9l.1 .8l.2 .5l.2-.3l.2 1.6l.2 0l.2-1.1l.2 3.4l.2 .1l.2-4.6l.1 .7l.2 0l.2 2.8l.2 3.3l.2 1.4l.2-1.4l.2 .6l.2 1l.1-.2l.2-2.1l.2 3.7l.2-2l.2 2l.2-.6l.2 4.3l.2-7.7l.2 1.6l.1 6.9l.2 2.6l.2-1.1l.2-7.6l.2 4.8l.2 3.7l.2 .6l.2-4l.1 .9l.2 .8l.2 3.5l.2 2l.2-3l.2 4l.2-1.1l.2 1.4l.1-2.2l.2-3.1l.2-.4l.2 4.4l.2-2.4l.2-1.9l.2 .5l.1 2.1l.2-4.1l.2-.7l.2-1.7l.2 2.4l.2 1.2l.2-2.9l.1 4.5l.2-2.3l.2 .6l.2 1.5l.2 4l.2 2.7l.2 .4l.2 2.7l.1-1.9l.2 3.5l.2 3.2l.2-2.7l.2-2.5l.2 5.6l.2-.6l.2 .6l.1 1.4l.2 2.9l.2-.8l.2 3l.2 1.3l.2 2.4l.2 .5l.2 .7l.1 1.6l.2-.9l.2 2.3l.2 2.7l.2-2.9l.2 1.9l.2 .6l.1 6.3l.2 3.3l.2 1.2l.2 1l.2 .5l.2-.7l.2 .4l.1 2.4l.2-1l.2 .6l.2-4.3l.2-2.4l.2-.4l.2 1.3l.1-3.4l.2-3.8l.2-2.7l.2 1.8l.2-7.2l.1 1l.2 .6l.2 .8l.2-6.4l.2-1.2l.2-.6l.1-3.1l.2 1.9l.2 2.9l.2-3.4l.2 2.2l.2-2.5l.2 2.2l.2-2.4l.1 9.8l.2-4.9l.2 3.1l.2 3l.2-3l.2 1.7l.2 .9l.2 3.5l.2 .7l.1-4.2l.2-.7l.2 2.2l.2 1.7l.2 1.3l.2-.2l.2-.4l.2-5.3l.2 3.5l.1-.7l.2 .9l.2 1.4l.2-1.3l.2-1.2l.2 1.8l.2-2.7l.2-2.1l.2 2.1l.2-5.8l.1-.9l.2 4l.2-.3l.2-2.5l.2-3.1l.2 2.1l.2-.6l.2-2.6l.2 2l.1-2.5l.2-1.9l.2 1.2l.2 1.3l.2-4.3l.2 1.6l.2 1.7l.2-1.9l.2-.5l.1 1.7l.2-2.9l.2 0l.2-.7l.2 .4l.2-2.4l.2-4.5l.2-1.7l.1 1.4l.2-3.4l.2-.8l.2-.9l.2-1.4l.2 6.6l.2-7.5l.2 2.1l.2-1.4l.2-2l.2-1.2l.2-2.5l.2 0l.2-.3l.1 .6l.2-.3l.2 4.6l.2-.4l.2 4l.2 2.2l.2-2.1l.2 3.6l.1-3.6l.2 1.5l.2 4.6l.2 .8l.2 3.2l.2-2.1l.2-.7l.2 1.4l.2 4.1l.1 2.5l.2 1.9l.2-.5l.2-2.6l.2 2.4l.2 3.5l.2-3l.2-4.4l.1 3.7l.2 .3l.2-1.6l.2-.1l.2-.1l.2-2.9l.2 4.9l.2 1.5l.1-6.5l.2 6.5l.2 .4l.2-4.7l.2-1.2l.2 .5l.2 .7l.2 1.1l.2 2.6l.1-2.5l.2 2l.2-5.7l.2 .2l.2 .2l.2 5l.2 1.4l.2-1.7l.1 4.9l.2-1.8l.2-1.1l.2 1.4l.2-4.8l.2 5.3l.2 .7l.2 1.3l.1 0l.2-1.1l.2-.5l.2 .4l.2 1l.2-1.2l.2 1.8l.2 1l.1 2l.2-1.9l.2 2.4l.2-1l.2 5.4l.2-.4l.2-1.2l.1-2.8l.2 3.3l.2-3.8l.2 4.8l.2 .1l.2 4.3l.2 .5l.1-2.1l.2 2.1l.2-3.7l.2 0l.2 1.5l.2 1.2l.2 2.1l.1 .8l.2-.1l.2 1.8l.2-2.4l.2-1l.2-2.4l.2 2.4l.1 2.2l.2-.6l.2 .1l.2 1.5l.2-1.5l.2-3.5l.2 1.3l.1 1.4l.2 .9l.2-5.8l.2 2.6l.2 .2l.2-.3l.2-3.9l.1 .9l.2-.8l.2 3.2l.2-1.2l.2-.3l.2-.9l.2-1.4l.1 1.5l.2 1.5l.2-2.6l.2-1.6l.2 4.7l.2-1.1l.2-1l.1-2.4l.2 3.4l.2-.9l.2-3.6l.2-.5l.2 1.1l.2-4.3l.1 .8l.2 3.3l.2 1.2l.2-.4l.2 1.8l.2 .9l.2-3.4l.1-3l.2-.1l.2-.7l.2 2.3l.2-.1l.2 .5l.2-1l.2-1.7l.1 4l.2-1.9l.2-.9l.2-4.5l.2-.3l.2-.4l.2 5.2l.2-2.8l.2 2.4l.2-.5l.1 3.8l.2-2.2l.2 .8l.2-.7l.2 1l.2-6.2l.2 1.3l.2 2.1l.2 1.3l.2 .5l.1-.3l.2-3.2l.2 1.2l.2-.9l.2-1.9l.2-1.9l.2 4l.2-3.2l.2 1.1l.2-1.4l.1-1.5l.2-.3l.2 .3l.2 3.4l.2 1.5l.2 .1l.2-2.4l.1 2.9l.2 1.3l.2 .9l.2-5.8l.2 1.8l.2 1.3l.2-5.2l.1 6.4l.2 2.4l.2-1.2l.2-3.6l.2-1.6l.2 1.1l.2 1.6l.1 .3l.2 3.3l.2-.6l.2-2.3l.2 1.9l.2-2l.2 2.2l.2 0l.1 3.1l.2 1.6l.2-1.7l.2 2.2l.2-2.5l.2 4.1l.2 1.3l.2 2.4l.2-.7l.2 3.7l.2-1l.2 1.3l.2 1.7l.1-2.3l.2 .4l.2 2.4l.2 1.5l.2 .9l.2-.9l.2 .2l.2 4.2l.1-6.5l.2 3.9l.2-4.5l.2 6.7l.2 .3l.2-2l.2 3l.2-2l.1 .3l.2 1.3l.2 1.2l.2 2l.2 1.6l.2 4l.2-.2l.2 3.9l.2-3.9l.2 6.4l.1-3.4l.2 1.7l.2 2l.2-1.3l.2 .9l.2 1.6l.2 .2l.2-.2l.1 .3l.2-3.3l.2-2.8l.2 .1l.2 2.2l.2-4.5l.2-1.6l.1 5.2l.2-3.3l.2-1l.2 2.8l.2-1.1l.2-1.5l.2 3.3l.1-2.1l.2-1.7l.2 4.1l.2 1l.2 3.3l.1-1.6l.2 .5l.2 .9l.2 3l.2-.7l.2 .6l.1-1.9l.2 2.7l.2 1.8l.2 1.5l.2-.6l.2 .4l.2-1.4l.1 1.9l.2-1.6l.2 3.8l.2 2.9l.2-5.6l.2 1.9l.2 2.9l.1 1l.2-1.2l.2 2.7l.2 .7l.2-.9l.2-1.3l.2-3l.1 2.6l.2-.8l.2-.1l.2 .2l.2 2.2l.2-1.1l.2 3.2l.1 2.2l.2-1l.2-.1l.2-.5l.2-.4l.2-2.3l.2-1.3l.1-2.4l.2 2.5l.2-4.2l.2 1.6l.2 .8l.2-2.5l.2 .4l.2 1.9l.2-5.3l.1 3.8l.2-4.3l.2 .6l.2 1l.2 .1l.2-1.3l.2-2.8l.2-1.7l.1 2l.2 1.7l.2-3.5l.2 2.4l.2 1.2l.2-2.6l.2-1.5l.2-4.4l.2 1.3l.1 3.5l.2 .2l.2-.7l.2 1l.2-2.1l.2-.7l.2-1.6l.2 1.6l.1 .9l.2-2.3l.2 1.8l.2 .8l.2-.6l.2-1.2l.2-.4l.1-.6l.2 3.6l.2-1.3l.2 1.9l.2 .9l.2 .1l.2-4.1l.1 .2l.2 2.1l.2 0l.2-.1l.2-.4l.2-.2l.2 0l.1-2l.2-.5l.2 2.6l.2-1.1l.2 2.8l.2-2.4l.2-1.1l.1 1.8l.2 .8l.2 .1l.2 1.2l.2 .5l.2 2.1l.2 .3l.2-.9l.2-1.2l.2-.8l.1 3l.2 .1l.2-.8l.2 4.4l.2 .6l.2-1.3l.2-1.6l.2-2.5l.2 4.2l.2-1.1l.1 2.2l.2 .7l.2-1.3l.2 0l.2-1.6l.2-.6l.2 2.4l.2-2.8l.1 2.1l.2-3.3l.2 1.9l.2-2l.2-1.7l.2-1.5l.2 .1l.1 .3l.2 1.3l.2-2.2l.2-4.1l.2 1.2l.2-.8l.2-1.2l.1 .5l.2 .1l.2-2.9l.2-1.3l.2 2.2l.2-.1l.2-2.6l.1-.8l.2-2.1l.2 2.9l.2-3.3l.2 .8l.2-1.3l.2 .9l.1 1.5l.2-1.6l.2 1l.2 2l.2-.1l.2 3l.1-.6l.2 1.3l.2 1.3l.2-4.5l.2 3.3l.2 2.6l.1 2.7l.2-3.7l.2 1.6l.2 5.7l.2-2l.2 2.5l.1-.5l.2-1.9l.2-2.2l.2-2.3l.2 1.6l.2-.8l.2-2.8l.2-1.6l.2 1.3l.2-.9l.2-.9l.1-4l.2 2.1l.2-2.8l.2-2.6l.2-7.5l.2-.4l.2 1.5l.2 .2l.2-6.3l.2-1.7l.2 4.1l.2-2.8l.1-2.9l.2-1l.2-.9l.2 3.9l.2-2.3l.2 1.2l.2 3.6l.2-2.1l.2 1.2l.2 1.6l.1-3.6l.2 5.3l.2 1.1l.2 .3l.2-4.9l.2 3.2l.2-1.7l.2 3.1l.2 1l.2 4.4l.1-2.6l.2 1.3l.2 1.9l.2-.4l.2 1.9l.2 2.8l.2-1.8l.2-2.7l.2 .7l.1 3.3l.2 1l.2 .1l.2 2.7l.2 3.6l.2-.5l.2-1.6l.2 3.8l.1 1.7l.2 .7l.2-.9l.2-.1l.2 1.9l.2-.3l.2 1.7l.2 .7l.1 1.7l.2 .8l.2 3l.2 .4l.2-2.6l.2 1.2l.1 3.1l.2 .2l.2 4.8l.2 1.7l.2 3l.2 1.4l.1-2.9l.2 3.9l.2-.4l.2-2.3l.2 1.1l.2-2.8l.1 1.1l.2-2.8l.2 .9l.2-2.5l.2-2l.2 2.5l.2 .8l.1 1l.2-.9l.2 .2l.2-.9l.2-2.2l.2-2.7l.2 .5l.1-1.7l.2-.1l.2 1.5l.2 1.2l.2 .3l.2-3.1l.2-.4l.1 1.5l.2 2.7l.2-2.6l.2-.1l.2 .3l.2-1.8l.2-1.2l.1 .1l.2 3.9l.2-2.2l.2 .4l.2-4.1l.2 1.8l.2-1l.1 4.5l.2-1.3l.2 1.7l.2-.6l.2-1.3l.2-.5l.2 .4l.1-.1l.2-1.9l.2-.3l.2 2.8l.2 2.2l.2-1l.2-.9l.2-1.1l.2 .4l.1-.5l.2-2.6l.2 1.6l.2 1.9l.2 1.8l.2-2.8l.2-.4l.2 1.8l.1 .3l.2 2l.2-1.8l.2 1.6l.2 .3l.2-.4l.2 .8l.1-1.5l.2 1.6l.2-2.6l.2 2.5l.2-3.7l.2-1.1l.2 2.9l.1 .8l.2 .2l.2-2.1l.2 1.6l.2 .4l.2-1.7l.2-.9l.1 1.5l.2-2.4l.2-2.1l.2 1.2l.2-.4l.2-2.6l.2 0l.1 1.1l.2 1l.2 0l.2 .6l.2-1l.2 1l.2 1.3l.2-1.9l.1-1.6l.2 .2l.2 3.3l.2 2.5l.2-4.4l.2 .1l.2 5.9l.1-.4l.2-1.7l.2 .3l.2 1.9l.2-2.3l.2 2.3l.2 .8l.1-3.1l.2 1.1l.2-1.6l.2 1.6l.2 1.9l.2 0l.2 .5l.1 1.3l.2 1.7l.2-1.8l.2-.3l.2 .6l.2 1l.2 .7l.1 2.2l.2-.9l.2 2.5l.2 .6l.2-3.2l.2 1.4l.2 1.9l.1 .1l.2 .8l.2-.4l.2 1.6l.2-1.5l.2 2l.2-.1l.1 1.1l.2-.2l.2 3.7l.2-2.2l.2 1.6l.2 1.1l.2 0l.1 1.7l.2 1.4l.2-1.6l.2 1.5l.2 1l.2 1.8l.2 0l.1-.9l.2 .9l.2 2.6l.2-1.3l.2-.3l.2 4.7l.2 0l.1-2.4l.2 1l.2 2.3l.2-.8l.2 2.9l.2-.8l.2-.8l.1 1.7l.2-.2l.2 1l.2 .5l.2 1.4l.2-.1l.2-2.9l.1 .2l.2-.9l.2-.7l.2-.2l.2 .2l.2-2.4l.2-.9l.2 3.6l.1 1.6l.2-4.9l.2-.7l.2 1.1l.2-1.2l.2-.3l.2 1.2l.2 .2l.2-.7l.1-2.2l.2-.9l.2 .7l.2-1.9l.2-.2l.2 1.5l.2 .3l.2 3.3l.1-.9l.2-1.1l.2-2.8l.2 2.7l.2-1.7l.2 2.5l.2 3l.2 .4l.2-2.2l.1 .4l.2 .3l.2-1.3l.2 .6l.2 1.4l.2-1.9l.2-1.2l.2 .6l.1 3.9l.2-.7l.2 2.8l.2 .3l.2 .4l.2-1.6l.2-1.4l.2 .9l.1-.3l.2 .1l.2 .1l.2 1.1l.2 .5l.2-.2l.2-.4l.2 .9l.2 .4l.1-.3l.2-.2l.2 .4l.2 2.5l.2 .4l.2 .4l.2 3l.2-2.5l.1 2.1l.2-.8l.2-.8l.2 1l.2 3.1l.2-2.6l.2-.3l.2 2.1l.1 2.2l.2-.6l.2 .5l.2 1.2l.2 .8l.2 1.6l.2 .4l.2-3l.2 3l.1 .9l.2-.5l.2 2l.2-1.5l.2 4.4l.2 0l.2-1.4l.2-2.1l.1 .7l.2 2.5l.2 2.6l.2 0l.2 1.2l.2-.9l.2 .4l.2 2.5l.1-.7l.2-.9l.2 1.1l.2-.4l.2-1.7l.1 4.5l.2-1.5l.2-1.4l.2 1.4l.2 2.6l.2 1.2l.1 .7l.2-.8l.2-.3l.2 .7l.2-1.6l.2-1.5l.2-.2l.1-1.3l.2 1l.2-2.3l.2 1.5l.2-.6l.2 0l.2-.9l.1-2.3l.2-.3l.2 2.1l.2-2.6l.2 .8l.2-.6l.2-.6l.1-.6l.2 .8l.2-.8l.2 1.4l.2-.2l.2-1.4l.2-.6l.2-.8l.1-1.1l.2-.4l.2 1.9l.2-2.1l.2-2.8l.2-1.5l.2 2.1l.2 .3l.2-1.7l.1 1l.2-1.8l.2 .4l.2-.5l.2-.7l.2 1.2l.2 1.1l.2-2.1l.1 .5l.2-1.1l.2 1.2l.2-2.7l.2-.5l.2 1.8l.2 1.2l.2-3.6l.2 .6l.1 .9l.2 1.3l.2-1.5l.2 .7l.2 .1l.2 .1l.2-.3l.2 .6l.1-1.9l.2 1l.2-1l.2 1.3l.2-.3l.2 1.2l.2 .3l.1 1.5l.2-3l.2-.1l.2 1.4l.2 3l.2 1l.2-2l.1-.1l.2-.4l.2-1.7l.2 1.4l.2 0l.2 1.3l.2-1.4l.1 3l.2-.3l.2 .6l.2-.5l.2 .3l.2 .4l.2-1.2l.1-.2l.2 .8l.2 1.2l.2 1.3l.2-.8l.2-.8l.2-1.3l.1 2.8l.2 .8l.2-1.4l.2-2.1l.2 2.9l.2-2.5l.2-.5l.1 2.6l.2-.6l.2 1l.2 0l.2 .8l.2-.2l.2-.3l.1-.8l.2 .6l.2-.1l.2-1.6l.2 .4l.2-.2l.2 2.1l.2-2.5l.1-2.8l.2-.4l.2 .9l.2 1.2l.2-1.5l.2-.8l.2 1.3l.2 1.2l.2 .6l.1-2.7l.2-.8l.2-.4l.2-3.2l.2-.6l.2 1l.2-.2l.2 .7l.1-2l.2 0l.2-1.2l.2 1.5l.2 2.4l.2-.6l.2-.6l.2-2.3l.2-.2l.1 1.6l.2-1.1l.2-.3l.2 3l.2-.8l.2-1.4l.2-1.8l.1-.1l.2 2.6l.2 1.7l.2-.8l.2-2l.2 3l.2 .2l.1 .8l.2 1.9l.2-1.2l.2-.6l.2 .5l.2-2.4l.2 3.1l.1-.4l.2 .7l.2-.5l.2 .4l.2-.4l.2 .3l.2-1l.1-.6l.2 2l.2-2.3l.2-.1l.2 3.8l.2-.7l.2-3l.1 2.4l.2 1.6l.2 .6l.2 .4l.2-3.3l.2 .5l.2 2l.1-1.3l.2 .2l.2 1.2l.2-1.9l.2 1l.2 1.4l.2-.7l.1-.2l.2 .1l.2-.8l.2 1.6l.2-.3l.2-.6l.2 1.1l.2 2.1l.1 .4l.2 .3l.2-1.8l.2 2l.2 .4l.2 .2l.2 .1l.2-4.2l.1-.3l.2-.4l.2 2.6l.2 .1l.2 2.2l.2-1.4l.2-.5l.2-1.2l.2 1.6l.1 .6l.2 .2l.2-3.9l.2 1.4l.2-1.5l.2-.2l.2 .7l.2-1.4l.1-2.1l.2-1.7l.2-.1l.2 .7l.2 1.6l.2 1.5l.2-.6l.2-2.3l.1 .9l.2-2.1l.2-.4l.2-1.3l.2 2.2l.2 1.1l.2 0l.2-1.7l.2 2.2l.1-.7l.2 .1l.2-.6l.2 2.3l.2-1.4l.2 4.3l.2-1l.2 1.7l.1 1.2l.2-1.2l.2 1.9l.2 1.3l.2 .3l.2 .3l.2 .3l.2 1l.1 0l.2 .9l.2 2l.2-2.4l.2 4.7l.2-2.5l.2 3.3l.2-1.3l.2 1.2l.1 2.9l.2-1l.2 1.5l.2-.3l.2 .1l.2-.9l.2 1.7l.2 .2l.1 .7l.2 .9l.2 .2l.2 .3l.2-.5l.2 1.1l.2-2.9l.2 1.7l.2 .3l.1-1.2l.2 2l.2 1.4l.2-1.4l.2-.5l.2-1.1l.2-.4l.2 1.3l.1 .6l.2-.1l.2 1l.2 1.4l.2-1.2l.2 1.6l.2-1.6l.2 .1l.1-.1l.2-.9l.2 .4l.2 .5l.2 .2l.2 0l.2 1.6l.2 .6l.2 2.5l.1-1l.2-1l.2-.6l.2 1.8l.2 1.3l.2-1l.2 .5l.2 .4l.2-1.1l.1 .9l.2-1.1l.2 .2l.2 2.1l.2 1.5l.2-.1l.2-.7l.2-1.4l.2 2.2l.2-.4l.2 .5l.2 .1l.2-2.1l.1 .1l.2-2.2l.2 .2l.2-.5l.2-.5l.2 .3l.2-1.1l.1-.2l.2-2.3l.2-1.5l.2-1.3l.2 1.2l.2-3.1l.2 .1l.1 .4l.2-.2l.2-1.3l.2 0l.2 2.1l.2 .4l.2 1.1l.2 .8l.1 1.9l.2-1.2l.2 2.4l.2 1.7l.2-2.3l.2 3l.2-.7l.2-1l.2 2.1l.2 .4l.1 0l.2 .2l.2 .8l.2 1.5l.2 2.4l.2 .4l.2 0l.2-.8l.2 .6l.1-.7l.2-2l.2 1.4l.2 0l.2-1.7l.2 .2l.2-1.1l.1 1.2l.2-1.2l.2 1.7l.2-.4l.2 .3l.2-.2l.2 .7l.1-3.1l.2-.2l.2 1.1l.2-2.8l.2-.8l.2 .4l.2 1.3l.1-.9l.2-.5l.2-.4l.2 .5l.2 .1l.2-.2l.2-.4l.2-.7l.2-1.6l.1 1.1l.2 .5l.2 .9l.2-.6l.2 1.5l.2-3.7l.2 3.4l.2-.3l.2-1.2l.2-.3l.1-1.2l.2-2.2l.2 .6l.2-.5l.2 .3l.2-.9l.2-1l.2 .5l.2 2.6l.2 .5l.1-1l.2 .1l.2-.3l.2-1.9l.2-1.2l.2 .4l.2-.2l.2 1l.2-.2l.1 1.3l.2-2l.2 .6l.2 1.2l.2-1.7l.2-.5l.2 .7l.1-.3l.2 4.2l.2-.2l.2 .9l.2-.2l.2-1.5l.2-.7l.1-.6l.2 2.6l.2-2.6l.2-1.1l.2 .2l.2 .6l.2 2.9l.1-.4l.2 1.5l.2-1.4l.2-.5l.2 .5l.2-.4l.2 .6l.2 .2l.1 .7l.2-.2l.2 1.1l.2-.8l.2 .4l.2-1.7l.2 .5l.2 4.7l.2-1.2l.2 .5l.1-.2l.2-1.1l.2-.4l.2 .1l.2 .9l.2-.8l.2 1.3l.2-.3l.2 2l.2-1.3l.1-.8l.2 .3l.2 1.8l.2-1.1l.2 1l.2 .2l.2 .6l.2 .1l.2 .2l.2 1.1l.1-.6l.2 1l.2 .8l.2 .9l.2-3l.2 .2l.2 1.9l.1-1.4l.2 2.4l.2-1.1l.2 .8l.2-1.5l.2 1.5l.2-1l.1-1.8l.2 .5l.2 3.1l.2 .8l.2 .1l.2-1.5l.2 1.4l.1-2.1l.2 1.2l.2-1.9l.2 .4l.2 1.5l.2-.6l.2-.1l.1-.5l.2-.7l.2 2.8l.2-3.1l.2-.9l.2 1.3l.2 .4l.1-1.1l.2 1.8l.2-.1l.2-1.3l.2 1.4l.2 0l.2 .8l.1 .4l.2-2.2l.2-.3l.2 1.7l.2-4l.2 .1l.2 .3l.1 .8l.2-.4l.2 .6l.2 .2l.2 .1l.2-.7l.2-1.1l.1-.1l.2 0l.2-.3l.2-.1l.2-.5l.2 .9l.2 1.6l.1-.3l.2-.5l.2-1.2l.2-2.1l.2-1.1l.2 1.1l.2-.4l.1-1.4l.2 1.3l.2-1.5l.2-1l.2 .8l.2-.3l.2 2l.1-2.1l.2-.7l.2 .1l.2-.4l.2-.5l.2 1l.2 .4l.2-.6l.1-1l.2 .3l.2 1.5l.2-1.8l.2-1.3l.2 2.3l.2-.5l.2-.2l.2 0l.2-2.8l.1 .7l.2 .7l.2-1.7l.2 2l.2-1.3l.2 1.5l.2 .8l.2 .3l.2-.4l.2-.8l.1 1.5l.2-2.8l.2 .6l.2-.9l.2 1.5l.2-.6l.2-.9l.2 .7l.2 .3l.2-.1l.1-1.6l.2 .5l.2 1.9l.2 1.6l.2 .1l.2-.8l.2 .9l.2-.4l.1-2.7l.2-2l.2 .3l.2-.2l.2 1.3l.2 1.7l.2-.8l.2-.6l.2 0l.1 .8l.2 .1l.2-1.3l.2-2.5l.2-.5l.2-4.4l.2-2.3l.2-.2l.2-2l.2-2.6l.2-2.2l.2 .3l.2 .8l.1-2.6l.2-3.1l.2 .6l.2-1.3l.2-.8l.2 1l.2 2.3l.2-2.2l.1-1.1l.2-.5l.2 .5l.2 2.1l.2 1.1l.2 1.2l.2 0l.1-1l.2-2.4l.2 3l.2-.3l.2 .6l.2-.1l.2-3l.1-2.3l.2 .1l.2 2.4l.2-2l.2 2.3l.2 .7l.2-.9l.1-.5l.2-1.8l.2-1.7l.2-.3l.2-.2l.2-3.2l.2 1.3l.1-.1l.2-1.5l.2-1.2l.2-.9l.2-1.7l.2-1.4l.2-.5l.1-1.3l.2-2l.2-2.9l.2-.1l.2 .6l.2-.6l.2 3.7l.1 .2l.2 .4l.2 3.7l.2-1.5l.2 .7l.2 .7l.2 1.7l.1 .1l.2 1.2l.2 1.6l.2-.2l.2 .3l.2 2.9l.2 .3l.1 1.5l.2 .9l.2-.5l.2-1l.2 .8l.2-.5l.2-.7l.2 .6l.1 1.8l.2 1l.2-.4l.2 1.2l.2-1.2l.2-2.5l.2 1.8l.2 .4l.1 2l.2-1.5l.2 .4l.2-.5l.2 .6l.2-2.1l.2-.3l.2-1.1l.2-.9l.2 1.4l.2-1.6l.1 .3l.2 1.5l.2-1.2l.2-.5l.2-2.4l.2 1.3l.2-6.2l.2-1.2l.2 .9l.2-.8l.2 2l.1-1.2l.2 .9l.2-1.4l.2-1.2l.2-.2l.2-1.1l.2-2.2l.2-.5l.2-1.5l.2 .2l.1 .5l.2 1.2l.2-2.5l.2 2.3l.2-1.5l.2 .5l.2-2.8l.1 5l.2-1.4l.2-1.4l.2 .9l.2 1.5l.2 .6l.2-.9l.1-2.1l.2 3l.2-.6l.2 .2l.2-3.4l.2-.1l.2 .9l.1 1.3l.2-1.1l.2-1l.2-2.1l.2 1.6l.2 1.4l.2-1.5l.2-1.5l.2-2l.1-2.5l.2 1.6l.2-2.8l.2 .1l.2 2.4l.2-3l.2-1.6l.2-.5l.2 1.1l.2-.5l.1 .6l.2-1.7l.2-1.4l.2 1.3l.2-.4l.2 .1l.2 1.6l.2-.1l.2 .4l.2 1.2l.1 2.2l.2-.6l.2-.6l.2-1.8l.2-1.3l.2 .5l.2 4.1l.2 2.2l.2-1.3l.2 3.1l.2-2.6l.2 1.6l.1-.5l.2 1.9l.2-2l.2 1l.2 3.3l.2-1.8l.2 .9l.2-.1l.2 0l.2 .1l.2-1.1l.1 .5l.2 3l.2 .1l.2 2.1l.2 .7l.2 1.8l.2 .4l.2-.5l.2-2l.2-.6l.1 4.9l.2-.5l.2 1.2l.2 0l.2 .6l.2 .2l.2 .2l.2-1.8l.2 .7l.2 .1l.2-.8l.1 .3l.2-.2l.2 .1l.2 1.4l.2-.4l.2-4.6l.2 1.5l.2 1.2l.2-.8l.2-.4l.2 1l.2-1.3l.1 1.4l.2-.4l.2-2.1l.2-.6l.2-1l.2 1.2l.2-.7l.2-2l.2-1.4l.2 1.2l.2-1.4l.1 .9l.2 .1l.2-.3l.2-1.3l.2 2l.2-2.4l.2-.8l.2 4.3l.2-2.8l.2-1.4l.2 2.2l.2 1.2l.1-3.5l.2-.5l.2 .9l.2-1.9l.2 2.2l.2-2.2l.2-1.3l.2-.1l.2 .6l.2 1.2l.2-1.1l.1 .4l.2 1.2l.2-.4l.2 1.3l.2-2.7l.2-.2l.2 2.8l.1 1l.2 .8l.2 1.7l.2-2l.2 1.7l.2-2l.2-3l.1 2.2l.2 .2l.2 2.9l.2-1.6l.2 .2l.2 3.3l.2 .7l.1 .1l.2-2.7l.2-1.2l.2 .2l.2 1l.2 1.5l.2-1.1l.2 .4l.1-1.1l.2 2.3l.2 0l.2 1.9l.2-3l.2 1l.2-.1l.2-1.5l.2 1.3l.2 2.7l.1-.7l.2 .7l.2 .9l.2-1.3l.2 2l.2 .1l.2-2l.2-.4l.2-3.5l.2 2.2l.1 .3l.2 .9l.2 .5l.2-1.8l.2 1.8l.2 .7l.2-.5l.2 0l.2 0l.2-.2l.1 .1l.2-1.2l.2 .9l.2-.3l.2-.5l.2 1l.2-1.1l.2 .6l.2-.5l.2-3.3l.1-1.7l.2-.6l.2 2.2l.2 2.8l.2 .1l.2-2l.2-1.2l.2-3.5l.2 3.3l.2-.8l.1 1.5l.2 .3l.2-3.2l.2-1l.2 .9l.2-3.4l.2 2.4l.2-1.4l.2-1.6l.2 1.2l.1 1.2l.2 .1l.2-.7l.2-1.8l.2 1l.2 1.7l.2-.9l.2 2.7l.2-2.8l.1-2.1l.2 1.8l.2 2.4l.2-2.7l.2 3.6l.2-.8l.2 4.5l.2-5.8l.1 2.6l.2 1.9l.2 .7l.2-2.3l.2 1.7l.2 1.6l.2-.1l.2 1.9l.1-.8l.2 .9l.2 .4l.2-.4l.2 .5l.2-3.1l.2 5.3l.1-.6l.2-3.9l.2-.4l.2 3.6l.2 1l.2-1.9l.2 2l.1-1l.2 2.5l.2-1.4l.2 1.6l.2-1l.2 .9l.2 1l.1 .1l.2-2l.2 4.8l.2-.9l.2 1.8l.1 0l.2 1.8l.2-3.3l.2 2.9l.2 2.1l.2-.7l.1 .2l.2 0l.2 .8l.2-1l.2 .6l.2-.3l.2-.7l.1-3.7l.2-1l.2 .4l.2-1l.2-.9l.2-1.3l.2-.9l.1 1.5l.2 2.1l.2 0l.2-2.1l.2 .4l.2-.2l.2 .1l.1-3l.2-.4l.2-.5l.2 .5l.2-1.2l.2 .5l.2-1.3l.2-.9l.1 1l.2 1.9l.2-3l.2 1.9l.2 .4l.2-2.7l.2 2.2l.2-.6l.2 1.2l.2-2.3l.1 .2l.2-.9l.2 1.5l.2-3l.2 1.9l.2-.1l.2 .1l.2 1.7l.2 0l.1-1.7l.2 4.1l.2-3.5l.2 1.8l.2 .1l.2 1.3l.2-2l.2-.7l.2 1l.2 .6l.1-2.2l.2 1.3l.2-.6l.2-.1l.2 1l.2-1.6l.2 1.7l.2-1.5l.2-1.1l.2 2.1l.1 .4l.2-3.1l.2-2l.2 .4l.2 4.8l.2-1.1l.2-.9l.2-1.2l.2-3.2l.2 2.6l.1-1l.2-1.7l.2-.9l.2-.1l.2 3.3l.2-.6l.2-.7l.2 1.4l.2-.4l.2-2.3l.1 3.4l.2 0l.2-3.2l.2-.6l.2 .6l.2 .3l.2-1.1l.2 .4l.2-1.7l.2 2.7l.1-1.3l.2-2.4l.2-.3l.2-4l.2-.2l.2-1l.2-.6l.2 .8l.1 3.4l.2-2.1l.2-1.2l.2-.1l.2-.1l.2-.6l.2 .4l.2-2.3l.1-.5l.2 1.5l.2-.6l.2-1.8l.2 .4l.2 4.6l.2-3.2l.1 .2l.2 .7l.2-.9l.2-.9l.2 1.7l.2 .6l.2 2.3l.1-1.5l.2 2.2l.2 .5l.2-3.6l.2-2.5l.2 1.1l.2 2.2l.1-.3l.2 .7l.2 .6l.2 .8l.2 .3l.2-1.3l.2 .9l.2-.1l.1 .6l.2 .4l.2 .8l.2 2l.2-4.1l.2 4l.2-4.6l.2 1.9l.2-1l.2-.5l.2 5.2l.2 1.6l.1-2.6l.2 1.3l.2 .7l.2 0l.2 0l.2-1.2l.2 1.6l.2-1l.2-.2l.2 .9l.2-1.2l.1-1.2l.2 .2l.2 .5l.2-1.6l.2-1.5l.2-.1l.2 2.1l.2 1.1l.1-.9l.2-2.4l.2-1l.2-1.7l.2-.9l.2-1.2l.2 .7l.2-2.2l.1-.2l.2 1l.2-1.1l.2-2.8l.2 1.2l.2-1.8l.2 1.5l.2-2.7l.1 0l.2-.6l.2 1.3l.2-.4l.2 .7l.2-.5l.2 .3l.2-1.7l.1 .9l.2 .4l.2 1.8l.2 2.6l.2-.2l.2 2.1l.2 1.8l.2-2l.1 .4l.2-.2l.2 2.4l.2-.8l.2-2.1l.2 .4l.2 1.8l.2 .5l.2 2.2l.1 2l.2-1.2l.2 1.4l.2 .1l.2 3.9l.2 1.5l.2 .6l.2 1.3l.1 1l.2-2.2l.2-.9l.2-.4l.2 4.3l.2 .3l.2 3.8l.2-.1l.2-.6l.1 1.5l.2 .2l.2-.2l.2-.1l.2-1.6l.2 1.7l.2-.9l.2 0l.2 1l.1-1.1l.2 1.2l.2 3.2l.2-3.9l.2-1.2l.2 3.1l.2 2.1l.2 .3l.2-1.8l.2-.8l.1 .5l.2 2.2l.2-2.9l.2-2.4l.2-.1l.2-.3l.2 .9l.2-.6l.2 2.4l.2 .5l.1 0l.2 .1l.2-1.5l.2 .2l.2 1.1l.2 .2l.2-.6l.2 .8l.2 1.4l.1 .2l.2-.8l.2-1.9l.2 .6l.2-.7l.2-.6l.2 .4l.1 .2l.2-.2l.2 1.9l.2-1l.2 3.8l.2 .4l.2-.4l.1 1.9l.2-1.1l.2-.6l.2 1.9l.2-.9l.2 .2l.2-.7l.1 .5l.2 .4l.2-1.1l.2-.3l.2 .3l.2 1.2l.2-1.8l.1 4.5l.2-.7l.2-1.8l.2 2.3l.2 1.7l.2 .4l.2 .3l.1-2.1l.2 1.1l.2-2.2l.2 1.6l.2 .3l.2 .9l.2 2l.1-2l.2-1.2l.2-.7l.2 1.3l.2 1.6l.2 .5l.2 1.8l.1 0l.2-1l.2-1l.2-.1l.2 1.2l.2-1.4l.2 .1l.2 .5l.1-.6l.2 3l.2-1.8l.2-.2l.2 1.6l.2-2.4l.2-3.4l.2 2.2l.1-1l.2 .6l.2 .9l.2-1.2l.2 1.5l.2-1.2l.2-.1l.2-.4l.2 1.4l.1-.1l.2-.3l.2-1.6l.2-.8l.2 1.6l.2 .1l.2-.1l.2-1.8l.2 1.1l.2 1.7l.1-2.6l.2-.2l.2-.5l.2-2.1l.2 1.5l.2-.2l.2-1.3l.2 2.7l.2-1.1l.2 0l.1-3.4l.2 3.2l.2 .4l.2-2.6l.2-1l.2-.3l.2 2.4l.2-.6l.2 .1l.2-.4l.1-.5l.2-.9l.2-1.4l.2-.1l.2 .1l.2 2.8l.2-.2l.1-3l.2 1.2l.2-2.4l.2 .7l.2-.4l.2-.7l.2-1.9l.2 .7l.1-1.8l.2 .1l.2 1.7l.2 2.2l.2-1.3l.2-.9l.2-.5l.2-1.6l.1-.2l.2 1.3l.2-3.8l.2 .6l.2 .6l.2 .5l.2-3.2l.1 .2l.2 1.5l.2 .1l.2-.2l.2-2.2l.2-1.8l.2 2.2l.2-.4l.1-1.6l.2 .6l.2-.5l.2-.9l.2-2.5l.2 1.7l.2-1.2l.1 .4l.2-.4l.2-.4l.2 .5l.2-.2l.2 2.3l.2-.7l.2-.1l.2-.2l.1 2.6l.2 .6l.2-3.5l.2 3.9l.2-.3l.2-1.8l.2 1.4l.2-1.4l.2 1l.1-.2l.2 .8l.2 0l.2 1.4l.2-.2l.2 1.7l.2 .3l.2 .7l.2 1.6l.1 1.5l.2 1.4l.2-3.5l.2 1.6l.2 1.1l.2 .1l.2 1.1l.2 .9l.2-.5l.1 .6l.2 .7l.2-1.6l.2-.5l.2 2.7l.2-.4l.2-2.1l.2 5.7l.2-2.4l.2-1.2l.1 2l.2 .5l.2-.3l.2-1.2l.2 3.2l.2 .9l.2-.7l.2 0l.2 .6l.2-.2l.1 .2l.2 0l.2 1.3l.2 1.1l.2-.5l.2 1l.2 1.2l.2-.9l.2 .8l.2-.7l.1 .2l.2 0l.2-.3l.2-.6l.2-1.7l.2-1.1l.2 .9l.2 1.1l.2 .7l.2-1.5l.1-1.5l.2 1.6l.2-.6l.2-1.9l.2 1.1l.2 .1l.2-1.1l.2 1.3l.2-1.8l.2-.4l.1-1l.2-.1l.2-2.2l.2 .2l.2 1.8l.2 .7l.2 1.4l.2-2.5l.2 1.7l.2-3.6l.1-.7l.2 1.7l.2-.6l.2 .1l.2 1l.2-2.4l.2-.1l.2 2.6l.1-3.1l.2-.1l.2-.2l.2 .3l.2-1l.2-.7l.2-1.8l.2-1.4l.2 1.3l.1-1.7l.2-.2l.2 .8l.2-.8l.2 .1l.2 1.3l.2 .3l.2-.2l.2 1l.1 1.2l.2 .2l.2 1.3l.2-2.4l.2 1.7l.2-1.9l.2-1.1l.2 3.9l.2-1.5l.2 1.6l.1 .7l.2 1.6l.2-1.5l.2-.5l.2-.2l.2 1.3l.2 1.9l.2-2.5l.2-1.4l.2 .8l.1 3.1l.2-3.4l.2 1.5l.2 1.4l.2 1.2l.2 .5l.2 0l.2-.8l.2-1.1l.2 .6l.1-.8l.2-.7l.2 .9l.2 .6l.2-.7l.2 .3l.2-1l.2 2.9l.2-2.1l.2 0l.1 .9l.2 2.3l.2-1l.2 1.2l.2-1l.2-.6l.2-1.3l.2-1.5l.2 1.7l.2 1.3l.1-1.1l.2 1.2l.2 .2l.2 1.6l.2 0l.2-2.6l.2 1.6l.2-.7l.2 1.7l.1-1.9l.2 1.5l.2-.5l.2-1l.2 1l.2-.4l.2 .4l.2-1.3l.2 .1l.2-1.2l.1 1.9l.2-.2l.2 .9l.2-.4l.2 1.9l.2-.3l.2-4.3l.2 1.9l.2-.8l.2-.7l.1-.7l.2 .2l.2 3.1l.2 1.1l.2-1.4l.2 .8l.2 1l.2-.2l.2 .1l.2-2.7l.1 2.2l.2-.3l.2-1.4l.2 1.3l.2-1.2l.2-.3l.2 1.2l.2 .3l.2-.7l.2-.3l.1 .9l.2 .1l.2 .6l.2-.9l.2 .2l.2 .6l.2 1.5l.2-1.7l.1 1.7l.2 0l.2-3.1l.2 1l.2-2.6l.2-.9l.2 3.4l.2 1.9l.1-2.3l.2-3l.2 4.1l.2-.9l.2-1.3l.2-.1l.2 3.1l.2-4l.2 .6l.1 .6l.2 .3l.2 1.1l.2-2.5l.2 2.2l.2-1l.2 .3l.2-1.9l.1 1.6l.2-.4l.2-.6l.2 .8l.2 1.3l.2 .3l.2 .6l.2-.6l.2 1.2l.2 .1l.1-.9l.2 1.3l.2-2.4l.2-.6l.2 .9l.2-1.5l.2-1l.2 .1l.2 3.2l.2-2l.1 2.7l.2-.8l.2 .4l.2-2.1l.2 2.9l.2 .5l.2-3.3l.2 2.3l.2 1.5l.2-2.1l.1-.2l.2 .7l.2 .6l.2-1.4l.2 2.4l.2-.1l.2 0l.2 .1l.2-.2l.1-.7l.2 .7l.2 .2l.2-2l.2 2l.2 .3l.2-1l.1-.3l.2 .5l.2 .5l.2 1.2l.2-1.2l.2 2.5l.2 1.3l.1-2l.2-2.2l.2 1.7l.2 .7l.2 .8l.2-2.8l.2 2.6l.1-2l.2 0l.2 .9l.2 .4l.2 0l.2-.6l.2-1.3l.2 1.4l.1-2.4l.2 2.1l.2-3.3l.2 .2l.2 2.4l.2-.3l.2-.3l.2-1.7l.2-.9l.2 .7l.1 .7l.2-2.5l.2-2l.2-.6l.2-.2l.2 2l.2-1.3l.2-.5l.2 2l.2-1.5l.1 1.9l.2 .7l.2-2l.2-.8l.2-1.5l.2 0l.2-.1l.2-.4l.2 .1l.1 .2l.2 .4l.2 .4l.2-1.8l.2 1.6l.2-.1l.2-1.7l.1-3.8l.2 2l.2 0l.2 1.7l.2-.7l.2-.7l.2 1.7l.1-5.1l.2 3.1l.2 .5l.2-.3l.2 .5l.2-.4l.2-3.2l.2 2.2l.1-.4l.2-1.2l.2-1l.2-2.2l.2-1.6l.2 .6l.2-.4l.1 2.2l.2-.1l.2-.3l.2-.9l.2 0l.2-.5l.2-.7l.1 .8l.2-2.1l.2 .6l.2-.6l.2 1.8l.2-.1l.2-1.3l.2 2.8l.1-.6l.2-.5l.2 2.1l.2-1.4l.2 .9l.2 .3l.2 2.2l.2-1.5l.2 3.2l.1-3.7l.2 2.6l.2 1l.2 .1l.2-2.9l.2 1.1l.2-1.2l.2 2.2l.2 .8l.1 1l.2-.2l.2 .1l.2 .5l.2 0l.2-.1l.2 .9l.2 1l.2 .8l.2 .2l.1 .1l.2 1.5l.2-.5l.2-2.1l.2-2l.2 .2l.2 1.6l.2 2.9l.2-1.2l.2 2.4l.1-.9l.2-1.6l.2-.3l.2 1.9l.2 .3l.2-.2l.2 2.1l.2-3.3l.2 .5l.2 1.6l.1 .8l.2 1.3l.2-2l.2 0l.2 3.3l.2-1l.2-.3l.2 .7l.2 1l.2 .3l.1 .4l.2 1.1l.2-.5l.2-.8l.2 .8l.2 1.7l.2-2.9l.2-.7l.2 2.1l.1 .7l.2 .2l.2 2l.2-1.2l.2 1.2l.2-.8l.2 1.5l.2 .2l.2 .1l.2-1.8l.1 .5l.2-1.4l.2 2.8l.2 .6l.2 .1l.2-1.6l.2-1.5l.2 1.7l.2-.3l.2 1.1l.1-.5l.2-.1l.2-.5l.2 .8l.2-.1l.2-1.5l.2 2l.2 .6l.1-1.8l.2 1.6l.2-1.2l.2-1l.2-.8l.2-.5l.2 .3l.2 2.9l.1-3.4l.2 2.1l.2-.3l.2 1.7l.2 .3l.2-3.4l.2 2.6l.1-2.5l.2 .6l.2 2.8l.2 .6l.2-1.8l.2 0l.2 .4l.2 0l.1-.2l.2 1.7l.2 .4l.2-2.3l.2 .9l.2-.8l.2 0l.1 .6l.2 1.1l.2-1.3l.2-.2l.2-.4l.2 1.4l.2-1.2l.2 .8l.1-2l.2 .3l.2 .7l.2-.4l.2-.4l.2 1.3l.2 1.6l.2 0l.2 1.2l.1 1.2l.2-4.1l.2 .9l.2 1.6l.2 .4l.2-.8l.2-.4l.2 3.2l.2-.9l.2-2.2l.1 1.4l.2-.8l.2 4.6l.2-1.7l.2 .5l.2-.6l.2-.2l.2 3l.2 1.5l.2-.7l.1-.4l.2 1.7l.2-2.2l.2 .3l.2 .8l.2-.1l.2 .7l.2 .3l.2 .9l.1-2l.2 1l.2-.5l.2 1.3l.2 .4l.2 1.5l.2-2.4l.1 3.1l.2-1.2l.2-1l.2 .3l.2 1.9l.2 3.3l.2-2.4l.1 1.8l.2 .7l.2 1l.2-2.3l.2 1.6l.2 1.2l.2 .3l.1-1.1l.2 1.5l.2 .2l.2-.7l.2-.5l.2 1.1l.2-.8l.2 .9l.1-2.7l.2 1.3l.2 .4l.2-.2l.2 .9l.2-.6l.2-1.4l.2 1.2l.1 0l.2-2.6l.2 2l.2 .9l.2 0l.2 .9l.2-1.9l.2 .1l.1-1.7l.2 1.4l.2 .5l.2 .2l.2 .9l.2-1.7l.2 .8l.2 .5l.2-1.4l.1 .4l.2-.4l.2-.5l.2-.6l.2 .5l.2-1.1l.2 0l.2 .3l.1-.6l.2-.7l.2 .8l.2-.4l.2 1.3l.2-.4l.2-.4l.2 .3l.1 0l.2-.9l.2-.2l.2-2.1l.2 2.4l.2-1.3l.2 0l.1-.7l.2-.8l.2 1.1l.2 2.1l.2-2.1l.2-1.2l.2 1.6l.1-1.1l.2 1.7l.2-1.1l.2-.9l.2 2.6l.2 .8l.2-1.7l.1 .1l.2 1.4l.2 .3l.2-1.4l.2-.9l.2 1.4l.2-.2l.1 0l.2-1l.2 1.3l.2 2.2l.2-1.3l.2-1.2l.2-.2l.1 2.9l.2-.6l.2 .3l.2 2.1l.2-.3l.2 1l.2 .8l.1-.9l.2 .8l.2-3.1l.2 .2l.2 2.3l.2-.3l.2 .4l.1-.8l.2 .9l.2 1.9l.2-2l.2 1.5l.2 .7l.2 2l.2-2.2l.1 2.5l.2-.8l.2-.5l.2 2.1l.2 1.1l.2-1.3l.2 1l.2 .6l.1 2.1l.2 .8l.2-1.2l.2 1.6l.2-.8l.2-1.7l.2 .1l.2-1.5l.2-.6l.1-.6l.2-.5l.2 1.7l.2-1l.2 .7l.2 1.1l.2-.5l.2-2l.1 .1l.2-2.2l.2 .5l.2 .4l.2-.8l.2-1.2l.2-1.2l.2-.5l.2 1.9l.1 .2l.2 1.7l.2-.1l.2-.4l.2 1.2l.2 0l.2 1.2l.2 .3l.1 2.8l.2 .2l.2 2.6l.2-1.6l.2 .1l.2 3.3l.2 1.4l.2 0l.1 .3l.2 .7l.2 .6l.2-.4l.2-.4l.2 .3l.2-1l.2-1.2l.2 .8l.2 2.1l.2 0l.2 .2l.1-2l.2-1.4l.2 .2l.2 2.2l.2-2.8l.2 .4l.2 2.5l.2-.4l.2-.6l.2-.3l.2 .4l.1-1.5l.2-.4l.2 0l.2 .9l.2-.3l.2-.2l.2 2.1l.2-.8l.1 .7l.2-1l.2-.5l.2 1.8l.2 2.7l.2-2.4l.2 1l.1 1l.2-2.3l.2 .1l.2 1.2l.2-.5l.2 2l.2 .1l.1-.4l.2 .7l.2 .1l.2 2.9l.2-2.2l.2 .3l.2 .4l.1 1.3l.2-.4l.2 1.3l.2-1.3l.2 .4l.2 1.5l.2 .1l.1-.4l.2-1.4l.2 2.5l.2-.7l.2 2.4l.2-1l.2 1l.1-.2l.2-.2l.2 .9l.2-.2l.2-.3l.2-.5l.2-.8l.2 .4l.2-.6l.1-1l.2 2.3l.2-3l.2 1.6l.2-2.2l.2-1.6l.2 .1l.2 1.6l.2-1.6l.2-.5l.1-.5l.2 1l.2 .8l.2-1.1l.2 .3l.2-1.1l.2-.9l.2-.1l.2-.7l.1 .3l.2 .8l.2-.7l.2 .1l.2 .7l.2-.5l.2 .2l.1-.5l.2-.8l.2-2l.2 .9l.2 1.9l.2-2l.2 1.7l.1-1.8l.2-.4l.2 2.4l.2-1.7l.2 .7l.2-2.5l.2 2.8l.1-.1l.2-.8l.2-.2l.2-.4l.2 0l.2 .5l.2-.1l.2-1l.1-.5l.2-1.4l.2-.3l.2 1.3l.2 0l.2-.1l.2-1.5l.2-.8l.2 1.9l.2 1.2l.1-1.4l.2-2.2l.2 2.9l.2-1.7l.2-.9l.2-.1l.2 2.3l.2-2.8l.2 .9l.2 .6l.1-1.4l.2 1.6l.2 .2l.2-2.6l.2 .6l.2-.4l.2 1l.2-1.1l.2 .7l.2-.7l.1-.5l.2-.3l.2 0l.2 0l.2 .7l.2 1.1l.2-3.5l.2 2.1l.1-2l.2-.5l.2 .1l.2 1.9l.2-2.4l.2 .9l.2 1.9l.2 .3l.2 .9l.1-1.6l.2-.3l.2-.6l.2 .4l.2 1.1l.2-2l.2-.6l.2 .5l.1 1.1l.2-.9l.2-2.3l.2 2l.2-2.1l.2 1.2l.2 2.2l.2-1l.1-.8l.2 1.3l.2-.4l.2-1.8l.2-.2l.2 .3l.2 .4l.2-.3l.2-.5l.1 1.7l.2-.9l.2 1.4l.2 1.2l.2 .4l.2-2.6l.2 .1l.2 .6l.2 1.1l.2-1.4l.1 .5l.2 1.5l.2 .1l.2 0l.2 1.1l.2 .8l.2 .2l.2-2.3l.2-.2l.2 1.6l.1-.7l.2 2l.2-2l.2 1l.2 .6l.2 .7l.2 0l.2-.1l.2-.3l.2 .2l.1-.8l.2 .8l.2 0l.2-.3l.2 .8l.2-1.5l.2 .1l.2-.4l.1 1.8l.2-.7l.2 .4l.2-3l.2 .2l.2 2.2l.2-.5l.2 1.8l.2-.3l.1-1.4l.2-1.7l.2 1.1l.2-.9l.2-.3l.2 .5l.2-1.1l.2 .4l.1 .1l.2 1l.2-.2l.2 .6l.2 .4l.2 .9l.2-2.8l.2 2.8l.2-.1l.1-2l.2 .2l.2 .8l.2-1.4l.2-.7l.2 .8l.2 .3l.2 .1l.1 .2l.2 .4l.2 0l.2 .2l.2 0l.2 .1l.2-1.5l.2 .9l.1-2.3l.2 .9l.2 1.8l.2 1l.2-.1l.2-.5l.2-1.2l.2-1.5l.2 .2l.1 1.8l.2-1l.2-1.1l.2-.5l.2 .9l.2 .5l.2-1.4l.2 .8l.1 1.9l.2-2.6l.2 .8l.2 .8l.2-.9l.2-.6l.2 0l.2 .8l.2 1l.1-1.1l.2-.2l.2 .2l.2 1.1l.2 .1l.2-.9l.2 .1l.2 2.4l.2-.2l.1-.3l.2 1.4l.2-.5l.2 .8l.2 .3l.2-1l.2 1.3l.2-.6l.2-2.7l.2 2.6l.1-1.3l.2 0l.2-1.3l.2 2l.2 1.1l.2-.8l.2 .6l.2-1.4l.2 3.2l.1-.9l.2 1l.2 .1l.2-.9l.2-.2l.2 .4l.2 .7l.2-1.5l.2 1l.2-.5l.1-.3l.2-.7l.2 1.4l.2-.1l.2 .6l.2 0l.2 0l.2 .8l.2-1l.2-1l.1-.5l.2 2.4l.2-1.7l.2 3.3l.2-.9l.2-1.2l.2-1.2l.2 3.9l.2-2.1l.2-1.4l.1 1.4l.2-.2l.2 .8l.2-.5l.2 2l.2 .8l.2-.2l.2 .6l.2-.4l.2 .3l.1 0l.2-1.5l.2 .5l.2-1l.2 .3l.2-.3l.2 .4l.2 1.4l.2-.1l.1 .4l.2-.3l.2 .1l.2 .3l.2 .9l.2 .1l.2-1.7l.2-1.9l.1 1.3l.2 1.1l.2 .2l.2-.3l.2 .5l.2-.7l.2 .4l.2-.9l.1 .3l.2 .6l.2 1.9l.2 1.2l.2 .8l.2 .3l.2-1l.1 0l.2 .9l.2 .5l.2-.4l.2 .6l.2 1.4l.2-.3l.1 .8l.2-.6l.2-1l.2 1.6l.2 1.6l.2 .6l.2-.6l.1 .7l.2 0l.2 .2l.2-.3l.2-.3l.2-1l.2-.4l.2-.1l.2 .4l.1-.5l.2 .5l.2-.6l.2 2.2l.2-1.7l.2-1.4l.2 1.6l.2-.8l.2 .3l.2 .7l.1-.1l.2-.6l.2-3.1l.2-.1l.2 1.5l.2-1.8l.2 1.9l.2 1.6l.2-2.3l.2 .5l.1 .8l.2-2.3l.2-.9l.2 1.5l.2 .3l.2-1.1l.2 .3l.2-.3l.2 .2l.2-1.2l.1-.3l.2-1l.2 1.2l.2 1l.2-1.9l.2 1.7l.2-1.6l.2-1.8l.2 1.3l.2 .5l.1-1.5l.2 .4l.2-1l.2 0l.2-.6l.2 2.1l.2 .4l.2-.9l.2 .4l.2-.3l.1-2.5l.2-.4l.2 .6l.2 .5l.2-1.2l.2-1.2l.2 .9l.2-.6l.2-.6l.2 .7l.1-.6l.2-1.3l.2-.4l.2 2l.2 1l.2 0l.2-1.1l.2-1.1l.1 .5l.2-.6l.2 1.8l.2-1l.2-1.9l.2 1.5l.2-.5l.2-2.3l.2 .1l.1 1.5l.2-2l.2 .3l.2 .8l.2-.1l.2 .3l.2-1.4l.1 2.2l.2-3.1l.2-.8l.2 3.1l.2-.9l.2 .5l.2-1.3l.1 1.8l.2-.4l.2-1.1l.2-2.5l.2-.5l.2 1.5l.2-2l.1-.2l.2 3.3l.2-.2l.2 .2l.2-2l.2 .1l.2-.3l.1-.3l.2-.5l.2 0l.2-.6l.2-.4l.2-.4l.2 1.3l.1 .8l.2-.1l.2-.5l.2-1.3l.2 .4l.2-.5l.2 .4l.1 3.4l.2-.6l.2-1.1l.2-1.8l.2 1.2l.2 .5l.2-1l.1 2l.2-.3l.2 1.6l.2-1.8l.2-.9l.2 0l.2 .2l.1 1.2l.2 .3l.2 .6l.2-.4l.2-.7l.2 1.8l.2-1.6l.1 .1l.2-.3l.2-.9l.2 .7l.2 .9l.2-1.3l.2 1.2l.1 .9l.2-.5l.2 2.5l.2-2.5l.2 .3l.2 1.4l.2-.7l.1 .9l.2 0l.2 1.1l.2-.6l.2-1.1l.2 .7l.2 .8l.1-.7l.2 .3l.2 .1l.2 .2l.2-1.3l.2 0l.2 1.2l.2 .5l.2-2.2l.2-.1l.1 1.3l.2-1.2l.2 1.1l.2-.5l.2 1.1l.2-.6l.2 1.5l.2 .8l.2-.4l.2-2l.1-.3l.2 2.5l.2-2l.2 0l.2 1.5l.2 2l.2 0l.2-1.2l.2-.1l.2-.7l.1 1l.2-.2l.2 .4l.2 0l.2-.5l.2 .7l.2 .1l.2 .5l.2-.3l.2 .5l.1-.4l.2-.7l.2-1l.2 .5l.2 .4l.2 0l.2 2.1l.2 .6l.2-3.1l.2 4.1l.1-1.3l.2 1.7l.2-2.6l.2 1l.2-1.1l.2 .1l.2 .6l.2 .9l.2-1.8l.2 1l.1 2l.2-1.4l.2 1.8l.2-.2l.2-.4l.2-1l.2 .5l.2 .2l.2 0l.1 0l.2-.8l.2 .4l.2 1.3l.2 1.1l.2 .1l.2 .1l.1 .1l.2-1.5l.2-.6l.2 .6l.2 1.7l.2-.9l.2-.6l.1-.2l.2-.8l.2 1l.2 1.1l.2 .5l.2-1.7l.2 .1l.1-.3l.2-.9l.2 .3l.2 1l.2-.7l.2 0l.2-1.3l.2 1.5l.2 0l.2-2.5l.1 .5l.2 1.1l.2 1l.2-1.3l.2-2.1l.2 .9l.2 0l.2-.8l.2 .9l.2-1.6l.2 .6l.1-.8l.2 1.7l.2 .4l.2 0l.2-1.8l.2-.3l.2 0l.2-1l.2 1l.2-.3l.2 1.1l.1-.6l.2-1.6l.2 1.3l.2 0l.2 .4l.2-2l.2 1.8l.2-2.9l.2 2.8l.2-.6l.1 .2l.2-.7l.2 1.7l.2 .5l.2-.1l.2-.1l.2-.6l.2-1.2l.2-.1l.2-.1l.1-.2l.2 .3l.2-.2l.2 .8l.2-1.6l.2 .3l.2-.1l.2-.9l.2 .7l.2-.4l.1-.8l.2-.2l.2-.2l.2-.1l.2 .9l.2 .9l.2-.2l.2 .7l.2-2.7l.2 0l.1-.1l.2 .4l.2 2.3l.2 .8l.2 .9l.2 0l.2-1.3l.2 .9l.2-1.3l.2 .4l.1 .5l.2-1.1l.2 .4l.2-.8l.2-.6l.2 1l.2 .2l.2-.5l.2 .2l.2 .2l.1 0l.2-.4l.2 1.4l.2 .1l.2 .5l.2 .8l.2 .3l.2 .3l.2 .3l.1-1.4l.2-.1l.2 1l.2 1.3l.2-.7l.2-1l.2-.2l.2-.6l.1 2.8l.2-.4l.2-.5l.2 1l.2-.3l.2-.3l.2-.6l.2 2.3l.2-.6l.1-.6l.2-.8l.2 1.2l.2-.2l.2-1l.2-.7l.2 0l.2 1.5l.2 1.9l.2-.2l.1 .2l.2 0l.2-1.1l.2-.1l.2-2.3l.2-.7l.2 .1l.2 .6l.2 .1l.2 .1l.1 3.1l.2-.1l.2-.7l.2-.5l.2-.8l.2 1.1l.2 .1l.2-1l.2 0l.2-.9l.1 .1l.2 .3l.2 1.6l.2-2.1l.2 1l.2 .7l.2-.3l.1-1.4l.2 .4l.2 .2l.2-.8l.2 .4l.2 .7l.2 .5l.1 0l.2 1l.2 1.4l.2-1.2l.2-.9l.2 1.3l.2-.9l.1-1l.2 .3l.2 1.2l.2 1l.2-.6l.2 .7l.2 .9l.1-1.2l.2 1.6l.2 2.3l.2-1.2l.2 .1l.2 1.5l.2 .2l.2-1.3l.1 2.2l.2-1.6l.2 2.1l.2-1l.2 2.7l.2 1.2l.2-.2l.2-.2l.2 .4l.1 .8l.2 .3l.2 1.1l.2-.3l.2 .9l.2 .2l.2 .9l.2 1l.1 .3l.2 0l.2 1.3l.2-.1l.2-.4l.2-.8l.2 .9l.2-.9l.2 2.1l.1-.4l.2 .7l.2 1.2l.2 0l.2 .5l.2 .4l.2 .2l.1-.7l.2-1.7l.2-.5l.2-.1l.2 1.1l.2-.2l.2 .6l.1-.2l.2-1.8l.2 1.8l.2-1.3l.2-.3l.2 3.2l.2-1.1l.1-.5l.2-2l.2 .1l.2 .9l.2-.2l.2 .2l.2 1.1l.1 .3l.2-.3l.2-.8l.2 .3l.2-.2l.2 .4l.2-.5l.2 0l.2 .6l.1 .1l.2-1.6l.2-.7l.2 .4l.2-.4l.2 .5l.2 1.2l.2-1.9l.2 1.7l.2 .4l.1 1.4l.2-1.5l.2 .8l.2 .3l.2-2.1l.2 1l.2 .6l.2-.9l.2 1.3l.2-.3l.1-.5l.2 .9l.2-1.1l.2-.5l.2-.4l.2 .5l.2 .2l.2 1l.2 0l.1-.1l.2 .6l.2-.6l.2-1.1l.2-.2l.2 1l.2 .6l.1 1.2l.2 .4l.2 0l.2-.8l.2 2l.2-1.7l.2-.5l.1-.1l.2 1.4l.2 1.6l.2 .3l.2-.6l.2-.6l.2 .1l.1-.4l.2 .7l.2 .4l.2 0l.2-.2l.2 .1l.2-.4l.1 0l.2 1.4l.2-1l.2 .2l.2 0l.2 .1l.2 1.9l.1-.2l.2-1.1l.2 2l.2-.1l.2-.6l.2-.4l.2 .1l.1 .2l.2 .4l.2 .7l.2 .5l.2 .1l.2 1.1l.2-.1l.1-.3l.2 1.3l.2-.3l.2 .5l.2 .6l.2-.3l.2 .2l.1-.5l.2-.7l.2 .5l.2 1.6l.2-.2l.2 .4l.2-1.3l.1 1.1l.2 .9l.2-1.9l.2 .4l.2 1.7l.2 .1l.2-.5l.1-.8l.2-.2l.2-.4l.2 .4l.2 .6l.2 .9l.2 0l.1-.1l.2-.4l.2-.5l.2 .6l.2 .3l.2 .7l.2 .5l.1-.1l.2-.2l.2-.1l.2 .9l.2 .6l.2-.4l.2 .6l.1 .6l.2 .5l.2-.1l.2 .1l.2-.2l.2 .4l.2-1.9l.1 .3l.2 1.2l.2-.6l.2 .9l.2-.9l.2 .4l.2 .8l.1 .3l.2-.5l.2 .6l.2 0l.2 .7l.2-.5l.2 0l.1 .2l.2 .8l.2 .7l.2 .3l.2 .2l.2-1.9l.2 1.2l.1 .2l.2-.2l.2-1.2l.2 1.5l.2-.8l.2 .5l.2-.1l.1 .4l.2 .4l.2-.5l.2-.2l.2 .7l.2 .1l.2 0l.2 .4l.1 .3l.2-.3l.2 .4l.2-.3l.2 .1l.2 .3l.2 .9l.2 .1l.2-1.1l.2-.5l.2-.1l.2-.7l.1 .4l.2 .5l.2-.1l.2 .9l.2-.9l.2-.4l.2 2.2l.2-.9l.2 0l.2 .4l.2-.2"/>
<path stroke="#F7D34C" d="M120.5 508.3l.2 32.1l.2 38.9l.2 24.2l.2 7.3l.2 41.2l.3 30.3l.2 27.5l.2 19.4l.2-5.2l.1-4.1l.2-.3l.2-14.2l.2-19.2l.1-2l.2-6.9l.2-17l.2 9.3l.2-8l.1 0l.2-13.6l.2-3.2l.2-.8l.2-23.1l.2-15.1l.2 2.5l.2-24.2l.2 7.1l.2-23.2l.2-.6l.1-2.6l.2-11.4l.2-7.3l.2 11.4l.1-17.1l.2-8l.2-11.6l.2-14.2l.2-11.3l.1-22.6l.2-11l.2 19l.2-1.5l.2 17.8l.2 10.9l.2 24.8l.1 10l.2-3.9l.2 9l.2 3.1l.2-4l.2 1.3l.2-20.4l.1-25.1l.2-9.3l.2 .8l.2-1l.2-7.1l.2-8.4l.1 10.9l.2 10.5l.2 10.5l.2-27.2l.2 15l.1 12.3l.2 14.6l.2-4.1l.2-13.3l.2 2.3l.1-18l.2-2.2l.2-16.5l.2-20.1l.2 1.8l.1 14.1l.2 17.4l.2 15.9l.2-6l.2-10.8l.2 11.3l.2 10.8l.1 4.1l.2-6.2l.2 5.1l.2-11.5l.2-19.4l.1-6.2l.2-2.1l.2-6.3l.2 21.6l.2-13.5l.1 29l.2 12l.2-11.4l.2 13.6l.2 13.2l.1-3.6l.2 20.9l.2-12.9l.2-10.7l.2 19.2l.2 6.6l.2 6.7l.1-6.6l.2 13l.2 3.4l.2 20.3l.2 1l.2 8.8l.2 23.5l.1-22.3l.2 24.1l.2-2.6l.2 18.3l.2-7.9l.2 3.5l.2-21l.1-5.7l.2 19l.2-6.8l.2-12.6l.2-7.2l.2-17.1l.2-5.9l.2 .5l.1 4.4l.2-13.3l.2 8.5l.2-6.1l.2 18.3l.2-14.9l.2 2.9l.2 3.5l.2-3.4l.2 19.2l.2-3.1l.2-.4l.1-8.5l.2 4.7l.2-5.5l.2-12.1l.1 13.9l.2-2.1l.2 1.9l.2-.3l.2 8.4l.1 23.3l.2 11.9l.2 10.6l.2 8.8l.2 10.6l.2 8.2l.2-16.7l.1 1.2l.2 .9l.2 10.9l.2 2.7l.2-10.5l.2 2.1l.2 9.1l.2 9.4l.2 6.7l.2-14.2l.2 7l.1 1.1l.2-15.5l.2 12.3l.2-3.1l.2-21.8l.2-11l.2 9.8l.2-7.9l.2-8.3l.2 2.3l.2 7.3l.2 5l.2-2.6l.2-10.6l.1 6.2l.2 1.7l.2-2.7l.2-.1l.2 5.2l.2 19l.2-3.1l.2 3.7l.2-.4l.2-5.8l.1-2.1l.2-11.8l.2-9.9l.2-26.6l.2 10.5l.1-10.2l.2 4.9l.2-3.9l.2-3.6l.2 9.9l.2-13.3l.2 14.5l.1 .9l.2 3.5l.2-7.7l.2-3.7l.2-6.8l.2 15.1l.2-11.5l.1-12.3l.2-4.5l.2 14.1l.2 6.7l.2-6.9l.2-3.3l.2 2.2l.2 19.6l.1-10.8l.2 8.4l.2-3.9l.2 .7l.2 12.4l.2-2.1l.2-4.2l.2 9.6l.2-5.7l.1-8.8l.2-8l.2 .6l.2-8.1l.2-7.6l.2-10.7l.2-13.5l.1 5.2l.2-6l.2 10.9l.2-14.4l.2 .1l.2-.3l.2 3.4l.2 16.2l.2-15.9l.2-4.9l.2-12.3l.2 13.9l.2 1.3l.2-10.6l.1-12l.2 1.3l.2 1.5l.2 5.4l.2-8.9l.2 13.7l.1-10.2l.2 2.4l.2 16l.2-19l.2 15.6l.1-15.2l.2-19.9l.2 4.7l.2 16.8l.2-12.1l.2-1.6l.2 17l.2-22.2l.2 13.8l.1 7.5l.2-17.8l.2 24.6l.2 16.6l.2-4.5l.2-21.2l.2 20.6l.2-5l.2 1.4l.2 4.8l.1 3.1l.2 3.5l.2 20.3l.2 5.3l.2 4.2l.1 21.4l.2-5.1l.2 .8l.2-7l.2-21.2l.2 3.7l.2-12.1l.2-14l.2 17.9l.1-14l.2-1.6l.2-10l.2-4.7l.2-1.4l.2 2.8l.2 1.7l.2 27.7l.2-.4l.2-12.4l.2-4.7l.2 3.4l.2 3.8l.2-6l.1 16.2l.2 3.3l.2-9l.2 14.8l.2-9.6l.2 7.3l.2 12.7l.2 0l.2-9.7l.2 27.9l.2 1.2l.2-24.1l.2-3.2l.2 19.5l.1-1.2l.2-12.8l.2-5l.2-12.6l.2-1.9l.2 8.6l.2-22.3l.2 9.3l.2 9.1l.2-8l.1-17.6l.2 3.3l.2-4.1l.2-12.8l.2 3l.2 9l.2-27.2l.1 13.6l.2-10.2l.2 .7l.2-7.2l.2-6.5l.2-8.8l.2 21.3l.1-6.4l.2 7.5l.2-6.8l.2-1.2l.2-.2l.2 9.9l.1-.3l.2-.9l.2 3.4l.2-11.6l.2 16.7l.1-5.1l.2-9.7l.2-3.2l.2-4l.2 14.3l.2-7.9l.2 1.2l.2 34l.2 5.5l.2-19.9l.2 15.2l.2-.8l.2-3.8l.1 2.5l.2 4.1l.2-5.1l.2 8.7l.2-3.3l.2 9.8l.2-8l.2 7.9l.2 24.1l.2-14.4l.1 12.3l.2-19.1l.2 12.4l.2-6.3l.2 1.6l.2-6.7l.2-15.9l.2-4.5l.2-12.2l.2 20.5l.2 3.1l.2-12.9l.2-16.6l.2 17.6l.1-10.3l.2-10.6l.2-4.8l.2 8.4l.2-12.9l.2 10.1l.2-8.5l.2 28.1l.2-5.2l.2-35.9l.2 23.1l.2 13.5l.2-30.1l.2 7.3l.1 6.9l.2-5.8l.2-11.2l.2 6.7l.2-8.4l.2-7.9l.2-3.6l.1 18.9l.2 4.6l.2 7.7l.2-2.1l.2-25.7l.2 1.6l.2-13.1l.1 16.4l.2-8l.2-.4l.2-13.1l.2 2.8l.2-4.3l.2 2l.2 19l.1-17.4l.2 30.2l.2 12.5l.2-24.9l.2 24.2l.2 2.8l.2-11.5l.2 8l.2-1.1l.1 3.3l.2-1.8l.2-5.1l.2-21.6l.2 17.8l.2-27.1l.2-14.6l.1 16.7l.2 2.8l.2-15.6l.2-19.3l.2 16.3l.2-15l.2 23.6l.1-3.1l.2-12.7l.2-10.7l.2 .9l.2 14.4l.2-3.8l.2 3.3l.1-24l.2-7.7l.2-3.3l.2 37.9l.2-39.7l.2 33.8l.2-7.7l.1 .1l.2-15.4l.2 2.3l.2 15.7l.2 4.9l.2-3.7l.2-12.7l.2-9.7l.1-13.1l.2 17.3l.2-15l.2 16.5l.2-15.5l.2-2.9l.2-26.5l.2-5l.2 9.2l.2-1.8l.1 12.4l.2-23.2l.2-12l.2 8l.2-34.6l.2 17.7l.2 7.3l.1-21.4l.2 3.2l.2-8.6l.2 5.6l.2-3.9l.2 26.7l.2 13.7l.2 2.5l.2-36.7l.2-7.2l.2 6l.2 8.3l.1 10.2l.2 1.9l.2 4.1l.2-2.6l.2-16l.2 16.9l.2 5.1l.2 9.1l.2-16.7l.2 16.3l.2 4.9l.1-6.3l.2 10.8l.2-8.2l.2 5.7l.2-8.1l.2 1.7l.2-.4l.2 19l.2-19.1l.2-2.2l.1-5.7l.2-11.5l.2-5.6l.2 29.1l.2 11.6l.2-20.5l.2 19.8l.2-15.9l.2 5.9l.2-14.6l.1-10.7l.2-10.2l.2 4l.2 4l.2 7.1l.2-8.1l.2 16.9l.2 11.8l.1 2l.2-4.2l.2-20l.2-9.6l.2-9l.2 12.5l.2 18.6l.1-19.5l.2-14l.2 9l.2 7.4l.2 12.9l.2-10.4l.2 13.8l.1-6.8l.2 18.4l.2-10.5l.2 7.4l.2-11.8l.2 32.9l.2 6.9l.1 8.8l.2-12.7l.2 .5l.2 2.6l.2-13.7l.2 26.9l.2 5.8l.2 14.3l.2-8.5l.2-12.7l.2-.7l.2 10l.1-11.5l.2 22.8l.2-.4l.2-1.6l.2-5.1l.2 1.4l.2 2.3l.2-11.8l.2 19.7l.2-.3l.2-5.7l.2 16.5l.2-11.4l.2-.6l.1 27.4l.2-16.7l.2 10.9l.2-4.1l.2 14l.2 8.3l.2-3.9l.2 18.5l.2-24.6l.2 24.8l.2-1.4l.1 26.8l.2-16.1l.2 10.9l.2 3.8l.2 5.4l.2 6.3l.2 2.9l.2-8.3l.2 21.1l.2-3.3l.2 9.7l.2 8.1l.1 11.9l.2 0l.2-6.1l.2 1.8l.2-1.5l.2-5l.2 10.3l.2 3.6l.2-3.4l.2-7.3l.2 18.4l.2-30.7l.2 14.4l.2-1l.1 2.4l.2-1.1l.2 .9l.2 6.3l.2 12.2l.2 3.9l.2 3.5l.2-11.3l.2 6.1l.2-2.1l.2 3.5l.2-1.9l.2 9.4l.2 1.5l.2 .7l.1-2.6l.2 4.6l.2-12.6l.2 13.5l.2 7.4l.2-4.2l.2-9.4l.1 8.3l.2-2.5l.2-1l.2 9l.2-7.2l.2-1.3l.2 8l.1-7.8l.2-1.8l.2 18.1l.2 7.8l.2-3.3l.2-5.1l.2-10.2l.1 6.3l.2 9.6l.2-3.6l.2-4.1l.2-3.1l.2 9.2l.2-4.6l.1-8.9l.2 6.6l.2-4.2l.2 2.5l.2 4.8l.2-8l.2-.6l.2 13.5l.2-7.2l.1-13.1l.2 23.3l.2-17.8l.2 6.8l.2 2.1l.2-6.5l.2-5.1l.2-3.9l.1 6.9l.2-2.2l.2 1.7l.2-.5l.2-6.5l.2 3.9l.2-7.8l.1 3.4l.2 2.8l.2-7.7l.2-6.5l.2 6.3l.2-2.2l.2-7.8l.1-14.4l.2 22.4l.2-13.2l.2-12l.2-2.3l.2 .9l.2 7.9l.1 2.8l.2-4.4l.2-10l.2 22l.2 4.6l.2-13.5l.1-11.7l.2 1.1l.2 19.5l.2-4.6l.2 7l.2 12.4l.1-17l.2-1.3l.2 14.3l.2-3.2l.2 1.4l.2 8.9l.1-9l.2-.5l.2 20.3l.2-13.1l.2 8.5l.2-15.6l.2 18.8l.1-12l.2 15.2l.2-16.4l.2-.4l.2 2.8l.2 6.8l.2 25.6l.1-7.6l.2-.5l.2 14.1l.2-28.4l.2 10.3l.2-.4l.2 12.2l.1-3.8l.2-2.9l.2 12.7l.2-1.8l.2-6.9l.2 6.7l.2 4l.1-1.6l.2 .9l.2 10.8l.2-20.9l.2 7.4l.2 14.3l.2-15l.1-11.5l.2 17.3l.2 5.4l.2-2.6l.2-3.1l.2-4.6l.2 9.8l.1-19l.2 14.3l.2 3.1l.2-6.1l.2-4.3l.2-2l.2 13.9l.1-3.9l.2 7.4l.2-3.8l.2-3.9l.2 1.4l.2 6.5l.2-7.7l.2-2.8l.2 4.5l.1-.5l.2 1.8l.2-.5l.2 9.7l.2 2.4l.2-6.1l.2 .4l.2-5.1l.2 5.2l.2-3.8l.1 1.1l.2 9.4l.2-5.6l.2-1.8l.2-2.4l.2 13.4l.2-6l.2-2.2l.2 1.3l.2-3.6l.1 5.2l.2-3.5l.2 4.7l.2-4.4l.2-3.1l.2 8.9l.2-2.9l.2 1.7l.2-5.1l.2 1l.1 0l.2-2.3l.2-13.1l.2 6.8l.2 .8l.2-8.1l.2-2.5l.2-3.9l.1-2.7l.2 5.9l.2 .9l.2-9.4l.2-6.7l.2 8.2l.2 1.8l.2-5.2l.1-3.4l.2 .1l.2-8l.2 5l.2-2l.2 .5l.2-6.5l.1 6.8l.2 4.2l.2-5.4l.2-4.6l.2-6.1l.2-2.8l.2 15.5l.1-11.3l.2-5.2l.2 15.2l.2-4.9l.2 .7l.2 3l.2-10.3l.1-.2l.2-7.2l.2 6.8l.2-3.8l.2 3.2l.2-2.1l.2-3.2l.1 1.5l.2 0l.2-3.8l.2 5.8l.2 1.5l.2 3.8l.2-5.1l.1 3.2l.2 10.7l.2-2.4l.2 14l.2 1.8l.2-.6l.2 3.9l.1-2.3l.2-6.4l.2 1.7l.2 5.4l.2-10.1l.2 13.7l.2 6.4l.1 .7l.2 3l.2-1.1l.2-1.4l.2-1.3l.2 2.6l.2 3.4l.1 .2l.2-4.6l.2-1l.2-6l.2 5.2l.2-14.5l.2-1.7l.2 11.9l.1-7.3l.2-1.5l.2-4.2l.2-5.1l.2 14.2l.2-4.4l.2 6.5l.1-18l.2 10.7l.2-5.7l.2-2.2l.2 2.2l.2-5.5l.2 5.9l.1-5.3l.2-4.5l.2-4.7l.2 3.4l.2 .7l.2 2.3l.2 3.7l.1 0l.2 5.7l.2-3.1l.2 .9l.2-.8l.2-2.1l.2-7.1l.1 6.3l.2-2l.2 6.2l.2 1.9l.2-5l.2 2.3l.2 6.8l.1-1.9l.2 2.9l.2-12.2l.2 11l.2 7.1l.2-8.2l.2 3.9l.1-1.2l.2 2.5l.2-.6l.2 3.6l.2-5.9l.2 1.1l.2 .5l.1-4.3l.2-13.2l.2-2.3l.2 2.9l.2 8.6l.2-12.5l.2 1.1l.2 4.2l.2-4.8l.1-1.4l.2 5.2l.2-5l.2-8.6l.2 3.4l.2-1.1l.2-1.4l.2-2.3l.1-1.6l.2 .4l.2 8.1l.2 7.4l.2 1.6l.2-1.4l.2 4.9l.1 1.9l.2 4.5l.2-14.9l.2 4.5l.2 3.9l.2-1.7l.2-2.9l.1 7.3l.2 1.4l.2-5.6l.2 14.6l.2 .5l.2-6l.2 1.2l.1 0l.2 5.2l.2 5.7l.2 1.9l.2-3.4l.2-2.9l.2 5.2l.1-8.5l.2 4.2l.2-7.5l.2 1.2l.2-3.3l.2 1l.2-6.8l.2-9.7l.1 11.2l.2-4.8l.2-4.2l.2-9.2l.2-3.7l.2 10.2l.2 4.3l.2-2.5l.1-5.7l.2-6.1l.2-4.1l.2 2.2l.2 .9l.2-4l.2-2.3l.2 1.9l.1-4.8l.2-3.5l.2-3.9l.2 1.6l.2-2l.2 14.3l.2 2.6l.2 .5l.2-8.6l.1 14.8l.2-5l.2-2.6l.2-4l.2 9.4l.2-1.6l.2 1.4l.2 14l.2-2.4l.2 5.6l.1 2.3l.2-7.4l.2 1.8l.2 4.8l.2-2.5l.2 2.9l.2 1.3l.2-5.6l.2 3.7l.2-4.8l.1 8l.2 2.3l.2-.4l.2-21.1l.2-.7l.2 5l.2 1.2l.2 4.9l.2-9.1l.2 1.7l.1-3.8l.2-5l.2 8.5l.2-6.9l.2 1.3l.2 3.8l.2-1.3l.2-.3l.2-4.5l.2 9.9l.2-6.8l.1-2.7l.2 10.2l.2 .2l.2 2.5l.2-11.7l.2 9.8l.2-3.6l.2 14.5l.2-1.6l.2 3.1l.2-10.9l.1-1.1l.2 7.1l.2 .5l.2-4l.2-7.2l.2 13l.2-9.5l.2 5.1l.2 1.3l.2 2.4l.2-2.5l.1-2.3l.2-3.8l.2 1.4l.2 .3l.2-10.1l.2 2.2l.2 .4l.2 .7l.2-8.7l.1-3.4l.2 6.6l.2-8.9l.2 .2l.2 6.5l.2-.8l.2-6.7l.2 4.9l.1-9.1l.2-.2l.2-2.1l.2-5.9l.2 5.8l.2 6.6l.2-3.6l.1-.9l.2-4l.2-4.6l.2-5.7l.2 5.8l.2-1.4l.2 .2l.1 5.5l.2 7.1l.2-12.9l.2 4.7l.2-9.7l.2-5.5l.2 2.2l.1 2.1l.2 3.3l.2 .6l.2-1.8l.2-.6l.2-.7l.2-1.1l.1 0l.2-.4l.2 1.2l.2 6.8l.2-3.1l.2 9.6l.2 11.3l.2-6.6l.2-7l.2 6.9l.2 8.5l.2 12.3l.2-1.5l.2-1.4l.1 1.1l.2 .5l.2 6.6l.2-11.6l.2 3l.2 .4l.2 5.1l.1 4.9l.2-11.6l.2-6.3l.2 5.2l.2 5.1l.2 2.6l.2 2.8l.1-2.5l.2 3.6l.2 1.5l.2-15.8l.2 3.5l.2 13l.2-1.3l.1-3.3l.2 2.1l.2-.5l.2 1.4l.2-1.5l.2-.7l.2-1.4l.1-3.8l.2-.4l.2-1.3l.2 1.5l.2-.9l.2-1.2l.2-7.7l.1 2.9l.2 1.6l.2-.7l.2 .9l.2 4.1l.2 1.2l.2-2.8l.1-8l.2-3.6l.2 14.4l.2-8.4l.2-.8l.2 2.2l.2 2.3l.1-2.4l.2 1.2l.2-2.5l.2-3.1l.2-.6l.2-2.6l.2 .3l.2 0l.1 3.8l.2-4.2l.2-2.8l.2-7.2l.2 1.2l.2 5.4l.2 1.5l.2-7.1l.1 5.4l.2-5.5l.2 2.4l.2-11.4l.2 4.5l.2-.3l.2-1.9l.2 4.5l.1-1.6l.2-3.7l.2-12l.2-.6l.2 2.9l.2-.9l.2 .9l.2 9.2l.2 0l.1-4.2l.2 1.8l.2 4l.2-8.9l.2-4.8l.2 9.8l.2-5.1l.2 2.1l.1-5.2l.2-8.3l.2 .5l.2 1.5l.2 4.7l.2-1.6l.2 2.2l.2 6.9l.2-16.7l.1 9.4l.2 3.1l.2-.1l.2-6.2l.2 5.3l.2 12.9l.2-7.9l.2-3.5l.2-3.9l.1 5.8l.2 6.5l.2 9.2l.2-9.3l.2-9.2l.2 2.1l.2 9.3l.2 .8l.2 2.2l.1-2.4l.2-4.3l.2 4.9l.2 6.1l.2 4l.2-.8l.2-2.5l.2 1.6l.2-6.6l.1 3.7l.2-2l.2 1.1l.2-10.3l.2 1l.2 5.8l.2-17.3l.2 12.4l.2-10.6l.2 5.3l.1-6.8l.2-.9l.2-7l.2 1l.2-2.4l.2-2.8l.2-2.9l.2-1.2l.2-6l.1-8.7l.2 2.7l.2-.8l.2-4.8l.2-.9l.2-.5l.2 10.3l.2-1.7l.2-10.2l.2 6.2l.1-14.2l.2 10.4l.2-1.9l.2-11.6l.2 9.6l.2-1.3l.2-.3l.2-3.9l.2-3.9l.2 2.2l.1-9.5l.2 13.3l.2-3.7l.2 .9l.2-6.3l.2 6.5l.2-8.4l.2-.7l.2-7.1l.2 4.5l.1-11.4l.2 8.2l.2 .7l.2-3.1l.2-1.2l.2 .4l.2 7.8l.2-6.8l.2-1.2l.1 12.1l.2 12l.2-1.6l.2-3l.2 7.5l.2 5.8l.2-6.8l.1 3.9l.2-9.8l.2 15l.2 6.5l.2 8.4l.2-13.1l.2 10l.1 1.1l.2 4.6l.2 3.6l.2-1.1l.2-.6l.2 8.3l.2-5.5l.1 .3l.2 7.4l.2-1.1l.2-13.3l.2-11.7l.1-16l.2-13.5l.2-.5l.2-9.1l.2-4.4l.2-4.8l.1-6.7l.2 4.9l.2-3.2l.2 1.1l.2 7.2l.2-7l.2 2.4l.2-6.7l.1-8.7l.2 8l.2-3.5l.2-16l.2-1.4l.2-.9l.2 2.5l.2-.3l.2-6.2l.1 1.1l.2-1.4l.2 8l.2 13.4l.2-3.5l.2-3.2l.2 7.9l.2 7.6l.2 11.7l.2 2.3l.2-7.1l.2 5.8l.2 15.3l.1 3.1l.2-1.8l.2 .1l.2-6.4l.2-1.4l.2-4.6l.2-3.1l.2-9.3l.2 8.8l.1-18.6l.2 5.8l.2-3.7l.2 13.1l.2-15.6l.2 .1l.2 6l.2-7.9l.1-15.1l.2 3.8l.2 5.4l.2-9.5l.2 5.8l.2-3.5l.2-4.3l.2 8.4l.1-1.4l.2 3l.2 .2l.2 6.5l.2 7.5l.2 1.5l.2-2.6l.2-3.5l.2 6.6l.1 4.1l.2-5.9l.2 12.8l.2-2.7l.2 .3l.2 5.6l.2 5.5l.2-10.4l.2 1.7l.1 6.1l.2-2.6l.2 3l.2-15.8l.2-8.2l.2 9.5l.2-20.8l.2-1.4l.2 8.4l.2 3.4l.2-10.8l.2-.3l.2-1.2l.2-8.1l.1 7l.2 .5l.2-4l.2 9.8l.2-2.2l.2 3.3l.2-13.7l.2 7.9l.2-3.5l.2 11.3l.2-14.7l.1 4.9l.2-4.7l.2 9.1l.2-10.8l.2 6.7l.2-1.5l.2 5.9l.2-2.1l.2 3.5l.2-5.1l.2 .2l.1-.3l.2 .6l.2 4.5l.2-9.2l.2 21.1l.2 0l.1-7.3l.2 1.8l.2 8.9l.2-5l.2-2.8l.2 9.8l.1-15.9l.2 7.3l.2 .9l.2 4l.2-5.4l.2 12.7l.2 16.4l.2-6.6l.2 15.9l.1-10.9l.2 .2l.2 10.2l.2 4.9l.2-3l.2 3.2l.2 11l.2 7.7l.2 2.2l.2-1l.1 4.2l.2 9.1l.2-.9l.2 1.2l.2 8.6l.2 1.3l.1 1.1l.2-7.3l.2 10.2l.2 10.6l.2-7.7l.1 7.2l.2 3.4l.2-3.5l.2-3.9l.2 .2l.2-11l.2-1.7l.1 1.2l.2-11.9l.2 6.1l.2-5.4l.2-4.2l.2-13.6l.2-3.4l.1 7.9l.2-1.8l.2-3.7l.2-9.5l.2-6.8l.2 .4l.2-1.6l.2-4l.1 4.2l.2-3.4l.2 3.6l.2-5.8l.2 7l.2-8.2l.2-9.7l.2-5.7l.1-.7l.2 1.1l.2 1.6l.2-5.3l.2-2.7l.2 12.8l.2 4.6l.2-7l.1-5.2l.2-.9l.2 1.5l.2-10.6l.2 14.4l.2-5.8l.2-12.2l.2-.2l.2-2.8l.1 1.7l.2 7.3l.2-.7l.2-8.3l.2 1.9l.2-.6l.2 13.9l.2-8.1l.1-3.9l.2 3.5l.2-2.8l.2 1.9l.2 0l.2 2.4l.2 0l.2-5.2l.2-1.6l.1 6.7l.2-6.8l.2-8l.2 6.8l.2 5l.2-12.4l.2-6.7l.2 6.9l.2-6.5l.2 15.3l.1-7.8l.2-2.2l.2-8.9l.2 .2l.2 2.6l.2-3.7l.2 3.8l.2-3.9l.2-3.4l.1 1.2l.2 .1l.2 12l.2-4.2l.2 4.1l.2 4.8l.1 2.3l.2 7l.2 3.7l.2-1.3l.2-2l.2-10.5l.1 10.5l.2-.9l.2 .6l.2 5.2l.2 3.5l.2-.4l.1 3.1l.2 7.8l.2-11.4l.2 2.8l.2 14.2l.1-6.8l.2 5.4l.2 6.8l.2-9.1l.2 1.1l.2 10.1l.1-.5l.2-1.9l.2 7l.2 0l.2 .7l.2 6.2l.2 13.8l.2 4.8l.2 1.2l.2-5l.2-4.4l.2 12.2l.1 8.6l.2-4.6l.2 6.1l.2-4.5l.2 2.4l.2-4.8l.2 6.7l.1 5.7l.2-9l.2-6.1l.2-1l.2 5.5l.2-.2l.1-1.5l.2-1.5l.2-9.6l.2 6.8l.2-2.1l.2-2.8l.1 1.9l.2-7.4l.2 2.8l.2 1.1l.2 .2l.2-8.2l.2-.8l.1 3.6l.2 1.5l.2 1.8l.2-.9l.2-4.6l.2-4.6l.2 3.8l.1 3.6l.2-2l.2 1.8l.2-4.2l.2-.3l.2 1.6l.2 9.3l.2-9.6l.2 4.6l.1 2.4l.2 1.2l.2 11.8l.2-5.6l.2 2.3l.2 6.5l.2 6l.2-4l.2 12.2l.2-5.1l.1 17.2l.2-16l.2 10.7l.2-1.8l.2 7.5l.2 5.6l.2-1.3l.2-2.2l.2-8.1l.2-1.1l.1 4.8l.2-10.2l.2 13.3l.2-2l.2-5.8l.2-3.2l.2-.4l.2-10l.2 7.7l.2 3l.2-5.1l.2-2.3l.1-8.5l.2-2.7l.2 3.2l.2-5.6l.2-2.5l.2 5.3l.2-11l.2-2.9l.2 1.7l.2-2.4l.2 .1l.2 .6l.1 1.7l.2-.8l.2 12.1l.2-12.9l.2 11.2l.2-9.1l.2 4.9l.2 9.4l.2-6.6l.2 7.5l.2-3.3l.2-1.4l.1 3l.2 3.1l.2 5.2l.2 .8l.2-6.8l.2 2l.2 6l.2 .1l.2-4.4l.2 .1l.2-5.8l.2-.2l.1-20.1l.2-7l.2 8.1l.2-6.9l.2 6.6l.2-16.2l.2-5.5l.2-1l.2-1.7l.2-8.3l.2 5.2l.2-4.9l.1 4l.2 2.9l.2 .8l.2-2.2l.2-15.7l.2 7.8l.2 6.6l.1-1l.2 10.3l.2-15.6l.2-5l.2 1.1l.2-4l.2 4.4l.1 12.5l.2 5.1l.2-7.1l.2 1.8l.2-.3l.2 7l.2-7.6l.1 .8l.2-3.4l.2-4.6l.2 5.7l.2 3.3l.2-5.5l.2 2l.2-8l.1 14.1l.2-10.4l.2 4l.2-6.7l.2 16.3l.2-2.6l.2-11.9l.2-6.7l.1-1l.2 5.4l.2 5.7l.2-3.5l.2-2.8l.2-.9l.2 6.2l.2-3.6l.1 2.1l.2-3.1l.2-5.6l.2-3l.2 2.8l.2 .5l.2-5.6l.2-8.3l.2 7.6l.1-8.1l.2 4.4l.2 2.3l.2-11.7l.2-4.2l.2-4.1l.2-.9l.2-.4l.1-.8l.2 7.6l.2-6.1l.2-3.3l.2 13l.2-6.6l.2 4.7l.2 3.2l.2-2.8l.1-.2l.2 2.4l.2 4.2l.2-.8l.2 1.9l.2 7.2l.2-2l.2-2.2l.1 9.8l.2-2.9l.2-5.6l.2 2.9l.2 3.6l.2 8.1l.2 4.3l.2-1.9l.1-2.7l.2-5.8l.2-5.7l.2 6.5l.2-8.7l.2 15.2l.2-1.6l.2 1.3l.2-4.9l.1 2.1l.2-4.9l.2 2.4l.2 3.5l.2-14.4l.2 7.7l.2-6.6l.2 1.9l.1-1l.2 .6l.2 3.6l.2-2.1l.2 .1l.2 8.1l.2-8.8l.2 12.9l.1 .6l.2-3.4l.2 4l.2 8.8l.2 4l.2-9.6l.2-5.2l.2 11l.2-2.5l.1 6.8l.2 4.2l.2-8.9l.2 3.7l.2 5.6l.2 3.4l.2 .6l.1-2.9l.2 3.8l.2-9.8l.2 8.6l.2-1.7l.2 5.8l.2 .6l.1-15.3l.2 3.2l.2 5.6l.2-1.1l.2 5.7l.2 9.8l.2 .8l.1 3.9l.2-8.4l.2-2.6l.2 3.7l.2 4.6l.2 1.2l.2-4.4l.2 5.9l.1-1.9l.2 .6l.2 1.3l.2-1.2l.2 4.2l.2-6.7l.2-6.2l.1 .8l.2 3.6l.2 2.5l.2-1.8l.2 4.2l.2-2.4l.2 3.9l.2 4.9l.2-1.8l.1-8.9l.2 7l.2-6.5l.2 1.5l.2 4l.2 4.3l.2-8.5l.2 3.4l.1-1.1l.2-2.9l.2-.1l.2-11.2l.2 11.8l.2-2.2l.2-13.7l.2-6.6l.2 3.2l.1 5.9l.2-10.6l.2-4.2l.2-15l.2 12.7l.2-.4l.2-16.2l.2-5l.1 3.4l.2-6.6l.2 1.4l.2-.1l.2 1.5l.2 5l.2-9.9l.1 5.9l.2-15.7l.2 4.9l.2 4.6l.2 4.1l.2 2.4l.2 .9l.1-4l.2-2.4l.2 1.5l.2-4l.2 6.8l.2-18.3l.2-5.2l.1-.4l.2 7.2l.2-2.5l.2-5.1l.2-.7l.2 3.9l.2 2.2l.1-4.9l.2-2.3l.2 11.6l.2 6.5l.2-20.2l.2 6.8l.2-7.4l.1 12l.2-6l.2 4.4l.2-2.7l.2 8.1l.2-1.6l.2 .2l.1 2.9l.2 5.2l.2-.9l.2-6.2l.2-12.4l.2 14.2l.2-1.2l.1-.4l.2-3.1l.2 3.5l.2 3.5l.2-4.2l.2 1.9l.2 3.5l.2 .1l.1 5.6l.2-4.7l.2 .2l.2-4.9l.2 .5l.2-.9l.2 2.8l.2 1.5l.1 2.2l.2-4.2l.2 8.9l.2-13.2l.2 20.8l.2-8l.2 8.1l.2-7.8l.1 6.1l.2-3.9l.2-2.5l.2-3l.2-7.7l.2-3.5l.1-3.3l.2 9.2l.2-17.3l.2 5l.2 6.4l.2 1.9l.1-16.3l.2-14l.2 6l.2-4.8l.2-5.4l.2 4.7l.1 3.5l.2-2.8l.2-6.3l.2 .7l.2 7l.2 14.6l.2-18l.1 8.8l.2 8.3l.2 5.3l.2-15.6l.2 14.9l.2 7.6l.2-2.8l.1-3.1l.2 7.6l.2 0l.2 .2l.2-1.7l.2 5.8l.2-.9l.1-6.8l.2-5.7l.2 2.3l.2 5.7l.2-11.3l.2 1.1l.2-9.6l.1 13.1l.2 11l.2-14.9l.2 5.7l.2-19.2l.2 15.9l.2-11.3l.1 9l.2 8.2l.2-13.5l.2 11l.2-2.8l.2-9.5l.2 1.6l.1 3l.2-3.8l.2-5l.2 .8l.2 6.2l.2 5.2l.2-9.7l.1-6.8l.2 20.2l.2-2.8l.2 7.3l.2 1.3l.2 .9l.2-12l.1-3.7l.2 3.8l.2-7.7l.2 25.2l.2-10.3l.2 .5l.2 12.2l.1-.3l.2 .4l.2-19.8l.2 .8l.2 4.4l.2 12.2l.2-1.4l.1-.4l.2 .8l.2-.1l.2-10.6l.2 8.3l.2-1.7l.2 1.9l.2-4.6l.2-5.8l.1-5l.2 .7l.2 1l.2 2.1l.2-4.5l.2-13.1l.2 12.3l.2-16.5l.2 2.9l.1 .7l.2 .6l.2-8.7l.2-3.7l.2 .9l.2-5l.2 10.8l.2 .1l.2-10.7l.1 2.5l.2 7.9l.2-14.7l.2 4.3l.2-3l.2-3.9l.2 1.7l.2-4.1l.2 8.1l.1 1.5l.2-4.6l.2 10.9l.2 4.5l.2-3.6l.2-6.8l.2-6l.2 18.8l.2 2.7l.2-5.5l.1 4.2l.2 3.5l.2-10.7l.2 4.6l.2 16.2l.2 .4l.2-12.2l.2 5.6l.2 .8l.2-4.9l.1 3.2l.2 .1l.2 3.7l.2-7.1l.2-2.9l.2 7.8l.2-16.2l.1 6.3l.2 8.1l.2-24.7l.2 3l.2-3.2l.2-.2l.2-3.2l.1 15.3l.2-15.2l.2 3.8l.2 2.8l.2-2.8l.2 7.6l.2-5.3l.1-1.2l.2 .9l.2-7.5l.2 1.3l.2-2.1l.2 6.5l.2 5.3l.1 .5l.2 .8l.2 12.5l.2-3.4l.2 1.2l.2-4.4l.2-1.7l.2 5.7l.2 5.7l.2 9.8l.1 8.8l.2-8.9l.2 9.6l.2 4.9l.2 .9l.2 1.8l.2 6.7l.2 9.6l.2-1.5l.2-.6l.1-5.8l.2 6.6l.2-1.3l.2-14l.2-7.8l.2-4.4l.2 15.1l.2-25.8l.2-4.2l.1-6.4l.2 14.6l.2-21.6l.2 10.9l.2 5.4l.2-1.9l.2-4.3l.2-7.2l.1-2.4l.2-13.5l.2-3.1l.2-4.9l.2 2.2l.2 9.4l.2 10.2l.1 5.8l.2-5.1l.2-.6l.2 13.1l.2 0l.2-10.9l.2-8l.1 12.5l.2-.4l.2 10.1l.2-4.8l.2 .2l.2 4.2l.2 5.5l.1 4.8l.2-9l.2-5.8l.2 12.9l.2-4l.2 6.1l.2-7.6l.1-5.8l.2 .7l.2-4.7l.2-.3l.2 .4l.2-8.6l.2 4.6l.1 3.4l.2-1.9l.2-12.4l.2 11.4l.2-7.1l.2 4.7l.2-7.5l.1 14.6l.2-6.7l.2 3.1l.2-7.9l.2-5.8l.2 1.8l.2-4.9l.1-4.9l.2 .7l.2-19.1l.2 .8l.2-13.9l.2-6.1l.2-12.2l.2 3.1l.1 1.2l.2-14.1l.2 .6l.2 9.2l.2 2.1l.2-2.1l.2-15l.2 .8l.2-2.5l.1 .6l.2 5.9l.2-6.6l.2 5l.2 2.5l.2 1.2l.2-4.2l.2-6.8l.2 11.2l.1-4.9l.2-9.2l.2 3.3l.2 1.3l.2 3.5l.2-.4l.2-.9l.2-7.7l.1 8.9l.2-6.5l.2-9.5l.2-2.3l.2 2.1l.2-1.2l.2-2.7l.2 7.4l.1-6l.2-3.6l.2-3.5l.2-3.4l.2-.6l.2-5.9l.2-5.4l.1 .7l.2 15.3l.2-3.3l.2 10.1l.2-9.5l.2-13.5l.2 7.8l.1-10.8l.2-1.8l.2 12.6l.2-8.7l.2-1.9l.2-7.7l.2-1.3l.1-3.1l.2 12.1l.2-5.4l.2 9.4l.2 1.5l.2 6.7l.2 3.3l.2 2.8l.1-10.3l.2 15.3l.2-6.8l.2-5.9l.2 8.5l.2 11l.2-18.4l.2 1.9l.1 10.4l.2 1.9l.2 11.6l.2-8.4l.2-4.2l.2 3.9l.2 5.8l.2 .1l.2-5.1l.2 17.8l.1 2.8l.2-6.7l.2 .8l.2 11.2l.2-4.2l.2 18.5l.2-3.5l.2 8l.2 3.7l.2-3.5l.2-7.5l.2 14.2l.1-7.7l.2-3.1l.2-6l.2 14l.2 7l.2-7.7l.2-14.1l.2 6.3l.2-4.3l.1 10.6l.2 1.7l.2-12.6l.2 3.5l.2-9.6l.2 14l.2-8.1l.2 1.2l.1 1.5l.2-9.7l.2-2l.2-18l.2-14.5l.2-.7l.2-16.5l.1-26.1l.2-12.9l.2-8l.2 7.8l.2 2.6l.2 .3l.2 4.3l.1-2.3l.2 14.2l.2-.7l.2-1.9l.2 8.9l.2-10.6l.2-8.1l.1 10.8l.2 .3l.2 7.7l.2-1.8l.2 4.3l.2 .4l.2-1l.1-.8l.2-8.9l.2-1.8l.2 3.6l.2-7.6l.2-3.4l.2 20.9l.2-12.4l.2-12.1l.1 16.4l.2-9.8l.2 4.6l.2-6.3l.2-8.2l.2 4.3l.2-8.7l.2 2.2l.1 6.8l.2-6.1l.2-5.9l.2 1.1l.2 3l.2 18.6l.2-8.2l.2 12.5l.1 8.5l.2 12.7l.2-4.8l.2 5.6l.2-5.8l.2 8.2l.2 13.5l.1 5.6l.2 6.5l.2 9.2l.2 1.9l.2 .7l.2 13l.2-12l.1-7.5l.2-13.2l.2-3.4l.2-9.6l.2-6.9l.2 7.8l.2-11.7l.1 .6l.2-12.4l.2-4.4l.2-19.6l.2-3.4l.2-17.3l.2 6.9l.1-18.4l.2-2l.2-9.9l.2 8.3l.2-4.3l.2 3.3l.2-11.4l.1 13.7l.2 3.1l.2-2.4l.2 8.7l.2 8.9l.2 11.5l.2 3.5l.2 13l.2-4l.1-6.3l.2 26l.2-12.2l.2 4l.2 16l.2-3.8l.2 4.6l.2-2.6l.2 10.2l.2 2.6l.2-8.3l.2 16.1l.2-3.8l.2-8l.1 22l.2 11.1l.2-19.1l.2 13.9l.2-5.6l.2-2.2l.2 8.8l.2 5.8l.2-4.2l.2 8.1l.2 6.4l.2 7.1l.2-23.1l.2 2.2l.1 7.3l.2 5.6l.2 1.1l.2 3.4l.2-5.2l.2-2.8l.2 7.4l.2-3.2l.2-3.1l.2 7.4l.2 5.6l.2-11.5l.2-11.3l.2 6.3l.1-4.6l.2-.2l.2 8.1l.2-7.5l.2-2.8l.2-3.2l.2-5.6l.2 15.4l.2 2.2l.2 5.5l.2 6.2l.2 9l.2-.7l.2-3.6l.1-3.3l.2 2.2l.2 17.2l.2 .7l.2-5.3l.2 2.4l.2-.4l.2 4.7l.2 10.2l.2 .8l.2-.3l.1 8.8l.2 3.2l.2 1l.2 7.3l.2-.4l.2 5.2l.2-9.5l.2 .5l.1 2l.2-12.5l.2 5.5l.2-14.8l.2-1.6l.2 13.1l.1 7.5l.2 .6l.2-8.5l.2-3l.2-4.2l.2-3.9l.1-.4l.2-1l.2 3.1l.2-15.1l.2-1.2l.2 3.1l.2-11.9l.2 .2l.2-19.3l.2-.9l.2 19.7l.2-14.7l.1-6.5l.2-2l.2-8.3l.2 .5l.2 6l.2-3.3l.2 .5l.2-13.7l.2 5.3l.1-5.9l.2-1.9l.2-5.9l.2 3.3l.2-2.1l.2-1.3l.2-3.8l.2 3.8l.1-9.8l.2 4.9l.2 1.2l.2-8.6l.2-.8l.2-.6l.2 4.9l.2 2.8l.2 6.5l.1-3.9l.2 4.8l.2 2.4l.2 2.4l.2 3.8l.2 9.4l.2-10.7l.2 1.3l.1 7.3l.2-4.7l.2 13.3l.2-3.9l.2 1.2l.2 5.5l.2 4.6l.2 .1l.2-3.3l.1 3l.2 3.3l.2-15.3l.2 5.6l.2-2.7l.2-2.4l.2 3.7l.2-1.1l.2-15.7l.2-11.7l.2 11.5l.2-8.1l.2 2.1l.2 5.3l.1-14.5l.2 2.2l.2 5.1l.2-11.1l.2-3.2l.2-10.4l.2-5.4l.2 7.9l.2-7.8l.2 6.4l.2-3.3l.2-2l.2-4.9l.1 1.2l.2-8.2l.2 5.2l.2-6.3l.2-3.2l.2-13l.2 10.5l.1 4.6l.2 .3l.2-4.3l.2-14.4l.2-6.1l.2-13.6l.2-1.3l.1 .6l.2 5l.2-.2l.2-.3l.2 17.9l.2-17.7l.1 13.8l.2-1l.2 12l.2-11.1l.2 8l.2 6.5l.1-.6l.2 9.7l.2-3.8l.2 1l.2-3.3l.1 5.7l.2 7l.2-5.7l.2-3.9l.2 2.8l.2 18.4l.2-11.6l.2-6.6l.2 27l.1-14.3l.2 19.7l.2 1.3l.2-19.2l.2 21.4l.2-.2l.2-14.1l.2 11.4l.1-11.7l.2 9.2l.2 .5l.2 5.2l.2-3.2l.2 3.2l.2-7.1l.2-5.6l.1 12.3l.2-14.6l.2 5.3l.2 7.9l.2-16l.2 9.2l.2-5.4l.2-12l.2 8.7l.1-20.8l.2 .5l.2 .7l.2 7.3l.2-10.1l.2 9.4l.2-6.3l.2 .9l.1-2.3l.2 7.5l.2-8.3l.2-2.9l.2-6.2l.2 9.2l.2 9.9l.1-12.7l.2 0l.2-10.9l.2 .5l.2 14.3l.2-7.8l.2-5.7l.1-3.1l.2 9l.2-3.4l.2-14.5l.2 12.1l.2-3.7l.2 3.2l.1-2.4l.2 .9l.2 1.5l.2-3.8l.2-1.2l.2-3.2l.2 4.3l.1 7l.2-9.4l.2-4.9l.2 14.2l.2-16.8l.2 1.6l.2 1.9l.1-20.1l.2 .1l.2 15.8l.2 1.6l.2 .6l.2-23.8l.2 1l.1 17.2l.2-4.6l.2-11.3l.2 1.5l.2 3.6l.2 2.1l.2 2.9l.1-5l.2 6.9l.2-10l.2 .2l.2 1.4l.2-8.6l.2 0l.2-8.4l.1-2.7l.2 8.7l.2 12.5l.2-17.2l.2 7l.2-2.5l.2 3.6l.2-.4l.1-1.1l.2-3.6l.2-6.2l.2 7.3l.2 1.1l.2 6.8l.2-9.2l.2-1.8l.1-13.1l.2 7.2l.2-10.3l.2 6.2l.2-6.9l.2-4.8l.2 1.6l.1-6l.2-9.1l.2-4l.2-5l.2-10.5l.2 8.9l.2-12l.1 5.9l.2-19.3l.2 5.5l.2-8.9l.2 8.1l.2 15.3l.2-12.5l.1 22.4l.2 1.3l.2-14.9l.2 22.6l.2-10.6l.2 2.9l.2 7.2l.2-10.1l.2 13.5l.1 6.2l.2 12.9l.2-4.3l.2 6.5l.2 7l.2 17.5l.2-2.3l.2 1.1l.2 13.2l.2-1.8l.2 5.4l.2 7.3l.1-7.8l.2 2l.2-3.9l.2 4.2l.2 4.3l.2-4.2l.2-1.1l.2-7.4l.2 7.1l.1 1.1l.2 3.3l.2 2.6l.2 2.4l.2 5.2l.2-15.8l.2 23.8l.2-15.8l.1 7.2l.2 2.1l.2 .4l.2 4.5l.2-14.1l.2 11.1l.2-4.2l.2-11.7l.2 0l.2 2.2l.2 2.8l.2 14.5l.1 13.1l.2-.3l.2-3.6l.2-18.4l.2 9.6l.2-9.4l.2 10.8l.2 .1l.2 1.5l.2 .8l.2 7.1l.2-8.2l.1-.7l.2-.8l.2 5l.2-11.1l.2 5.1l.2-4.9l.2-10.3l.2 18.1l.1 5l.2 4.1l.2-7.7l.2-8.7l.2 11.5l.2-5.9l.2 2.2l.2-8.1l.2 8.3l.1-.2l.2-4.2l.2-.9l.2-3.8l.2 3.3l.2 17.1l.2-1.3l.1 .9l.2 8.1l.2 1.9l.2-.5l.2-5.9l.2 7l.2-2.2l.1 6l.2-.4l.2 8.6l.2-12.2l.2 5.2l.2 5.8l.2-3.2l.1-6.2l.2 26.4l.2-4.7l.2-13.9l.2-6.1l.2 16.7l.2 8l.1-5.8l.2 7.6l.2-6.3l.2 1.8l.2-6.7l.2 3.4l.2-4.1l.2 12.3l.1-24.3l.2 15.8l.2-9.8l.2 3l.2-4l.2 6.4l.2-1.9l.2-11.5l.2 9.4l.1 8.6l.2-1.8l.2-12.9l.2-6.6l.2 7.3l.2-4.4l.2 8.6l.2 5.8l.2-9.2l.2-2.6l.1 19.7l.2 6.5l.2-11.5l.2 5.2l.2 11.2l.2-8l.2 5.1l.2 2.6l.2-3.4l.2-3.7l.2-.9l.2 15l.2-1.7l.2 10l.1-13.1l.2 3.3l.2 3.6l.2 9.1l.2-.6l.2 4.4l.2 12.4l.2 4.7l.2 .9l.2 2.7l.2-2.6l.2-.8l.2-12.3l.2 7.6l.1-2.3l.2 6.9l.2 11l.2-7l.2 2.6l.2-3.6l.2-5.7l.2 5l.2-3.4l.2 10.3l.2 11.7l.2 7.3l.1 4.6l.2-1.4l.2 18.2l.2-6.5l.2 20.1l.2 .6l.2-1.2l.2 3l.1 7.8l.2 7.5l.2 9.4l.2-7.2l.2 13l.2-11.8l.1 14l.2 5.2l.2-1.5l.2 10.4l.2-2.3l.2 4.6l.1 .1l.2 4.9l.2-3.5l.2-10.7l.2 3l.2-16.6l.2 3.9l.2 9.7l.2-10l.2-21.4l.2 8.8l.1 3.2l.2-6l.2-11.4l.2-4.9l.2-2.4l.2-8.6l.2 .4l.2-3.4l.1-25l.2 5l.2-18.8l.2-1.9l.2 .4l.2-3.3l.1-12.7l.2 5.8l.2-22.3l.2 7.1l.2-5.7l.2-8.4l.1 2.3l.2-6.4l.2-2l.2 7.3l.2 6.9l.1-5l.2 20.5l.2 5.5l.2-3.4l.2 .1l.2-11.7l.1 16.4l.2 5.2l.2-.4l.2-2.4l.2-3l.2 4.3l.2-1.3l.2 7.1l.1-8l.2 13.2l.2 13.4l.2-14.9l.2 2.7l.2 4.1l.2 8.6l.2 .9l.2 13.9l.2 3.3l.2-6.8l.1 6.1l.2 15.7l.2 2.3l.2-6.2l.2 9.6l.1-.8l.2 5.5l.2-.5l.2 4.8l.2 .5l.2 7.6l.2-8.8l.2 8.4l.1-2.1l.2-5.3l.2 15.8l.2-10l.2-4.3l.2-1.7l.2-.9l.2 15.9l.1 3.1l.2-6.2l.2 6.5l.2 .4l.2-1.4l.2-3.9l.2 13.1l.2-6.2l.2 1.7l.2-6.5l.2 5.2l.1 12.8l.2 1.6l.2-.2l.2-4.2l.2 10.7l.2-8l.2 1.9l.2 1.3l.2 1.1l.2-12.5l.2 9l.1-9.6l.2-4.8l.2-.5l.2-5.7l.2 5.1l.2 9l.2-6.1l.2 8.7l.2-16.4l.1 .3l.2 1.7l.2-1.4l.2-9.9l.2 5.2l.2 1.7l.2-1.5l.2 1.8l.1-5.3l.2-1.6l.2 .8l.2 5.7l.2 1.4l.2 .6l.2-9.8l.2-8.5l.1 8.9l.2 4.8l.2-9.5l.2 12.9l.2-9.8l.2-1.1l.2-6.2l.2-2.9l.2 2.6l.1-5.1l.2 5.7l.2-1.6l.2-1.6l.2 1.1l.2 5.7l.2 1.6l.1-3.1l.2 1.3l.2-10.7l.2 .6l.2 14.9l.2-1.7l.2 .4l.1 1.7l.2-9.1l.2 11l.2 .4l.2-3.6l.2 4l.2 .6l.2-7.5l.2-12l.1 12.5l.2-4l.2-4.7l.2-12.9l.2 2.5l.2-13.4l.2 3l.2-1l.2-7.1l.2 4.7l.2 7l.1 3.5l.2-4.8l.2-11.5l.2 8.7l.2-1.4l.2 .1l.1 11.5l.2 2.1l.2 2.8l.2-6.2l.2 3.6l.2-6.5l.1 16.8l.2-10.4l.2 7.3l.2-2.9l.2 3.2l.2-3.5l.2-5.7l.2-5.9l.2 5.7l.1-6.3l.2 3.7l.2-8.1l.2-4.2l.2 1.7l.2-14.6l.2 7l.2-.8l.2 5.1l.2-14l.2-3.2l.2 1.3l.1 1.1l.2-7.3l.2 2.7l.2-4.2l.2-1.5l.2 2.2l.2-4.7l.2 7.2l.2 7.2l.1-7.4l.2-3l.2 12.9l.2-16.8l.2 1.9l.1 7.8l.2 9.1l.2 6.8l.2-12l.2 4.5l.2 0l.1 .2l.2 4.9l.2 2.1l.2-7.1l.2-1.8l.2-.9l.2 10.6l.2 2.2l.2-16.7l.2-1.4l.2-.7l.2-11.3l.1 14.4l.2-7.7l.2 1l.2 5.8l.2 5.8l.2-2.3l.2 4.4l.2 3.3l.2-5.9l.2-5l.1 .1l.2 1.7l.2 6.5l.2-2.1l.2 9l.2-3.6l.2 1.6l.2 4.3l.1-2.7l.2 1l.2 6.7l.2-6.3l.2 5l.2-8.1l.2 7.3l.2 .3l.1-11.9l.2 12.7l.2-10.3l.2-1.1l.2-9.2l.2 .8l.2-1l.2-.6l.2 3.5l.1-.2l.2-3.5l.2-22l.2 9l.2-2.3l.2-9.3l.2 13.1l.2-9.1l.1-3.2l.2-3.2l.2 4.5l.2 11.1l.2-5.1l.2 1.5l.2 1.4l.2 7.2l.2-15.3l.1 12.1l.2 5.3l.2-3l.2-4.6l.2 7l.2 2.2l.2 5.7l.2 7.7l.1-6.8l.2-1.6l.2 4.3l.2 4.2l.2-6.3l.2-2.7l.2 1.9l.2 3.9l.2-2.3l.2 8.3l.2 3l.2 .7l.1 5l.2-16.7l.2 6.8l.2 1.6l.2-1.8l.2 1.3l.2-3.7l.2-6.9l.2 6.7l.2-14.4l.1-1.2l.2 19.8l.2-6.4l.2-10.4l.2-.9l.2 3.9l.2-7.4l.2 .9l.1 12l.2-10.7l.2-6.1l.2 1.7l.2-2.6l.2-1.1l.2-1.7l.2-5.8l.2 2.5l.2-3.1l.1 12.1l.2-.9l.2-1l.2-15.3l.2 0l.2-15.7l.2 3.2l.2 7l.2-10.7l.2 17.6l.2-8.9l.2-10.7l.1 14.7l.2-7.9l.2-8.8l.2 .9l.2-9.7l.2 1.1l.2 4.8l.2-.3l.2-1.6l.2 1.4l.1 7.1l.2 9.7l.2-.2l.2-.3l.2-.3l.2-7.5l.2-1.9l.2-3l.2 5.9l.1-8.1l.2 14.1l.2 9l.2-16.9l.2 17.9l.2-4l.2-1.6l.2-2.5l.1 6.7l.2-2.2l.2 3.8l.2 2.7l.2 .1l.2-3.1l.2 2.6l.2-4.7l.2-11.9l.1 10.4l.2-.7l.2-3l.2-11l.2-6.9l.2 12.8l.2 2.4l.2-6.5l.1-11l.2 1.3l.2-3.4l.2 5.7l.2 11.8l.2-4.5l.1-8.3l.2 11.5l.2 .5l.2 7.5l.2 11.5l.2-6.2l.1 3.5l.2-8.5l.2 5l.2 1.9l.2-8.6l.2 9.4l.2 .4l.2-11.1l.2-4.9l.2-8.5l.1 9.8l.2-6.7l.2-1.1l.2 16.1l.2-18l.2 3.9l.2-.8l.2-11.2l.2 8.5l.2 3l.1-8.5l.2-7l.2-3.8l.2 16.5l.2-5.8l.2 7.8l.2-.9l.2-20.1l.1 7.5l.2-14.1l.2 6.3l.2 15.1l.2-10.4l.2-1.1l.2 11.4l.2-22.9l.1 14.9l.2-7.5l.2 1.7l.2 1.3l.2-.9l.2 12.7l.2 2.6l.2 8.7l.1 9.3l.2-7.1l.2 8.9l.2-2.3l.2 8.2l.2 6.2l.2-1.4l.1 .7l.2 6l.2-3.1l.2 6l.2 1l.2 4.8l.2-14l.1 11.7l.2-14.4l.2-8.2l.2 12.5l.2 6.5l.2 .4l.2-3l.1-.8l.2 4.1l.2-4.8l.2 .3l.2 3.6l.2-15.6l.2-.3l.2 2.6l.2-10.1l.1 5.8l.2-1.7l.2-5.4l.2 4.6l.2 3.6l.2 2.3l.2-7.2l.2-15.1l.2 6l.2-3.2l.1 2.7l.2-1.6l.2-10.6l.2-5.3l.2 5.2l.2-1.8l.2 4.7l.2-.5l.2 4.1l.1-11.1l.2 10.2l.2-16.8l.2 5.5l.2 5.7l.2-.8l.2 9.5l.2 3.9l.2-8l.1-5.8l.2 17.6l.2-4.6l.2-6.7l.2-11.6l.2 5.6l.2 10.6l.2-4.2l.1-2.5l.2-2l.2-3.2l.2 4.9l.2-6.6l.2 10.8l.2 8.7l.2 4.8l.2-19.2l.2 .2l.2-1l.2 8.4l.1 3.8l.2-1.3l.2 9l.2-1l.2-17.9l.2 12.1l.2 7.1l.2-7.7l.2 4.1l.2-5.1l.2 10.6l.2-4.4l.1 3.6l.2 .5l.2-6.5l.2 2.6l.2 3.5l.2 22.6l.2-13.4l.2-.9l.2 5.5l.2 2.5l.2-7.3l.2 15.5l.2-.9l.1-3.2l.2 17.3l.2 4.5l.2-2.5l.2-2.3l.2 15.5l.2 7.2l.1 6.6l.2-4.5l.2-5.2l.2 .5l.2 2.9l.2 3.5l.2-1.8l.1-4.5l.2-11.7l.2-6.7l.2-2l.2-5.9l.2-5.4l.2 17.7l.1-2.5l.2-1l.2-3.6l.2-5.9l.2 2.3l.2-9.3l.2-3l.2-6.2l.1 9.5l.2-9.9l.2 4.5l.2-1.7l.2-2.4l.2 11.3l.2-8.7l.2-.1l.1 11.4l.2-7.6l.2-4.8l.2 12.1l.2 1.9l.2-14.9l.2-.2l.2-.5l.1 3.7l.2 2.9l.2 3.7l.2-.6l.2 4.1l.2-13.8l.2 3.6l.2-4.2l.2 1.7l.2 7l.1-8.2l.2 13l.2-3.3l.2 .7l.2-2.7l.2 11.8l.2 5.2l.2-13.7l.2 12.8l.2-9.4l.1 9.5l.2-5.2l.2 5.2l.2-6.1l.2 1.5l.2-9.3l.2 7.1l.2 16.5l.2-9.6l.2-8.2l.1 3.6l.2 4.4l.2 .9l.2 .1l.2 1.9l.2 4.9l.2-3.6l.2-.2l.2-10.4l.2 11.7l.2-18.1l.2 10l.1-13.1l.2 9.7l.2-18.8l.2 12.7l.2-4.4l.2-2.4l.2-.4l.2-5.6l.2-5.6l.1-.5l.2 12.5l.2-20.4l.2 14.4l.2 6.6l.2-11.2l.1 8.4l.2 2.4l.2-1.8l.2-10.9l.2-2.9l.2-6.1l.1 3.2l.2 4.5l.2-8.5l.2 5l.2 4l.2-.5l.2-5l.2 14.5l.1-2.3l.2-10.3l.2 1.2l.2 9l.2-9.2l.2-9l.2 17.5l.1-4.9l.2 1.6l.2-10.3l.2 17.4l.2-10.1l.2 8.8l.2-15.2l.2 12l.1-6.3l.2-4.5l.2 3.3l.2 2.6l.2-.2l.2 6.3l.2-3.4l.2-2.3l.1-2.6l.2 10.5l.2-3l.2 10.3l.2-2l.2-3.4l.2-17.4l.1 5.9l.2 17.3l.2-11.6l.2-.9l.2-2.5l.2 6.4l.2 8.7l.1-1.6l.2-8.6l.2 4.3l.2 4.1l.2 2.1l.2 4.2l.2-13l.1 3.9l.2 7.3l.2-7.7l.2 7.3l.2-5.8l.2 2.6l.2 .7l.2 .4l.1-20.1l.2 11.1l.2 .7l.2 6.4l.2-7.5l.2-10.8l.2-3.5l.2-1.7l.1 8.6l.2-2.7l.2 5l.2 2.3l.2-.1l.2-10.6l.2 3.5l.2-12.7l.1 3.2l.2 .5l.2-2.5l.2 5.6l.2-9.2l.2-5.4l.2 3.9l.2-3l.2 4.7l.1 2.7l.2-4.5l.2-6.9l.2 12.9l.2-13.7l.2 8.2l.2 13.1l.2-21.3l.2 3.5l.1 8.5l.2-2.6l.2 9.2l.2-9.9l.2 4.9l.2-1.4l.2-6.6l.2 3.2l.2 4l.1-6l.2-.8l.2-2.4l.2-1.2l.2-.2l.2 5.8l.2 1.3l.1 2.4l.2 .1l.2-10l.2-5l.2 7.1l.2 1.9l.1 4.9l.2 2.8l.2-2.9l.2 1.8l.2 1.3l.2 1.2l.1-2.9l.2 .2l.2 7.3l.2 .1l.2 11.9l.2-1.7l.2 4.5l.1 1.4l.2 3.9l.2 10.1l.2-4l.2-1.5l.2-8.5l.2 5.6l.1 6.5l.2 5.1l.2 0l.2 13.3l.2-1.4l.2 4l.2-5.3l.1 2.8l.2-13.3l.2 7.9l.2-7.2l.2-8.9l.1 6.8l.2 2l.2-8.5l.2 7.5l.2-12.6l.2 3.7l.1-4.6l.2-4.4l.2 7.5l.2-7.4l.2 3.4l.2-3.6l.2-4.1l.1 1.1l.2 .2l.2-1.5l.2-3.4l.2 10.9l.2-.1l.2 6l.1-18.5l.2 6.9l.2 .9l.2-5.4l.2 6.2l.2-3.4l.2-5.5l.1 1.4l.2 12.3l.2 1.6l.2-.7l.2-8.5l.2-10.7l.2 1l.1 5.6l.2 2.6l.2-2l.2 2.2l.2 3.1l.2-7.6l.2 4.6l.1-5.8l.2-1.7l.2 .6l.2 11.1l.2 1.3l.2 8.5l.2-7.4l.2-2.5l.2 8.7l.1-5.4l.2 11.1l.2-2.7l.2-3.1l.2-2.4l.2 4l.2 3.4l.2-4.4l.2-2.6l.1-17.6l.2 1.9l.2 3.9l.2-12.2l.2-6.5l.2-.6l.2-9.9l.2 7.2l.2-11.8l.1 1.8l.2-.6l.2-1.7l.2 6.5l.2 12.7l.2 3.2l.2 10.2l.2-.2l.2-7.3l.2-7.7l.1 16.5l.2-2.6l.2 4.7l.2-3.3l.2 9.9l.2 10.9l.2 6l.2-8.7l.2 9.1l.2-.8l.1 7l.2-3.1l.2-.8l.2-1.3l.2-.3l.2-6.1l.2-6.6l.2-.8l.2 1.5l.1-1.1l.2-8.4l.2 7.1l.2 2.7l.2-5.4l.2-8.8l.2 4.9l.2-1.4l.1-14.1l.2-4.3l.2 3.6l.2-9.5l.2 1.2l.2 6.1l.2-3.6l.1-4.8l.2 9.9l.2 1.6l.2-5.6l.2 20.2l.2-15.4l.1 15l.2 .7l.2-5.7l.2 8.4l.2 11.8l.2-2l.1-1.8l.2 5.8l.2-9.3l.2-.3l.2-10.9l.2-13.8l.2-5.3l.2-1.4l.2-7.8l.1 5.3l.2-22l.2 .1l.2-9.8l.2 2.3l.2 0l.2-13.9l.2 5.5l.2-7.7l.2 9.7l.2-10.9l.2 3.5l.2-4.7l.1-2l.2 3.3l.2-8.2l.2-6.8l.2 6.1l.2-3.5l.2-6.2l.2-7.7l.2-4.3l.2 8.1l.2-7.4l.2 3.8l.2-7.6l.2-14.9l.1 7.7l.2 2.3l.2-4.3l.2-2.5l.2 13l.2-1.7l.2-5.2l.2 4.7l.2-8.7l.1 3.9l.2-2l.2 11.7l.2-12.7l.2 3.7l.2-1.9l.2 1.4l.2-6l.2 5.5l.1-2.6l.2 5.4l.2 13.4l.2-3.9l.2-.2l.2 6l.2 1.6l.1 13l.2 10l.2-12.8l.2 7l.2 .2l.2 12.9l.2 4.6l.1 3.5l.2-6.3l.2 1.6l.2-8.8l.2-4.5l.2 8.8l.2 4.3l.1 5.7l.2-4.3l.2-7.7l.2 4.6l.2 2.3l.2-1.4l.2-12.5l.1-.6l.2-4.5l.2 4.5l.2-4.6l.2 4.1l.2 8.5l.2 4.2l.2-15.2l.2 22.3l.2 2.4l.2 2.5l.1-13.8l.2 16.3l.2-1.3l.2 5l.2 5l.2 4.6l.2 1.3l.2 2.2l.2-10l.2 9.4l.2-2.2l.1-1.2l.2 10.7l.2-8.5l.2 14l.2 6.6l.2-3.7l.2-.6l.2-2.5l.1-.4l.2-3.1l.2 6.6l.2 7.7l.2-.2l.2-4.4l.2-1.8l.2-3.3l.2-6.8l.2-1.5l.1-3.3l.2-.7l.2-15.2l.2-5.1l.2-8.4l.2 7.3l.2-13.4l.2 8.6l.2-11.3l.2-6.8l.2-6.8l.2-6.5l.2 .1l.2-5.5l.1 1.5l.2 11.1l.2-8.5l.2 9.1l.2-3.2l.2 1.1l.2-1.5l.2-12.4l.2 1.6l.2 6.4l.2-2.7l.2-6.3l.1 11.5l.2-6.4l.2 6.3l.2 2.6l.2 4.7l.2-11.5l.2 2.2l.2 5.8l.1 15l.2 5.1l.2-1.9l.2-6.4l.2-7.2l.2 8.5l.2 6.1l.2 7.8l.2-4.4l.1-9.3l.2-5.1l.2 8.2l.2-5.2l.2 4.5l.2-2.2l.2-1.3l.2-.5l.2-1.6l.2-9.9l.2-4.4l.2-3.5l.2 2.4l.2-8.6l.1-5.5l.2 1.1l.2 7.7l.2-13.3l.2-8.2l.2 3.5l.2-12.8l.2 4l.2-14.7l.2-12.9l.2 8.1l.2-8.3l.2-4.4l.1 7.8l.2-13.2l.2-3l.2-.9l.2 5.8l.2 15.9l.2-1.8l.2 .1l.1 .4l.2-11.4l.2 11.5l.2 3.1l.2-10.4l.2-12.9l.2 8.6l.2-8.7l.2 1.4l.1 11.9l.2-2.4l.2-2.4l.2 2.2l.2-4.1l.2 7.3l.2-9.1l.2-9.1l.1 7.3l.2-.2l.2 10.6l.2-4.9l.2 3.2l.2-4.4l.2-9.9l.2 9.9l.1-13.1l.2 5.9l.2-.5l.2 6.6l.2-3l.2 3l.2 9.9l.2-10.4l.2 10.6l.1 10.8l.2 2.6l.2-13.3l.2 8.6l.2-3.4l.2 6.4l.2-2.6l.2 8.5l.1 8.8l.2-10l.2 15.5l.2-7.9l.2-1.4l.2-3.1l.2 5.7l.2 9.1l.2 2.8l.1-3.2l.2 6.8l.2-11.4l.2 1.2l.2-8.6l.2-10.4l.2 1.5l.2-14l.2 13.5l.2-.7l.2-4.7l.2-11.2l.2 0l.2-7.9l.1 2.9l.2 9.2l.2-15.6l.2 13.1l.2-.5l.2-4.8l.2-1.4l.2 7.3l.2-7.8l.2-9.2l.2 6.8l.2-2.1l.2-.4l.2 5l.1-1.3l.2 1.5l.2-.2l.2 .3l.2 7l.2 3.1l.2-2.3l.2 3.1l.2 5.2l.2 2.2l.2 8.1l.2-1.2l.2 7.8l.1 1.9l.2-4.4l.2 1.6l.2 14.5l.2 .8l.2 5.1l.2 5l.2 1.9l.2-4l.2 5.2l.1 1.5l.2 4.2l.2-1.5l.2-4.1l.2 4.3l.2 10.4l.2-.9l.2 3.9l.2 .4l.2 5.5l.1-.5l.2-8.7l.2-3.6l.2 7.2l.2 4.1l.2-8l.2-1.6l.1 4.5l.2-14.1l.2 8.4l.2-4.4l.2-8.3l.2 6.9l.2-13.7l.1 8.2l.2-3.4l.2-3.8l.2-4.5l.2-1.7l.2-1.1l.2-4.8l.1 4.8l.2 2.5l.2-7.5l.2 9.2l.2-7.7l.2-6.2l.2 5.1l.2 .5l.2-2.2l.1-4.6l.2 7.6l.2-.9l.2 6.6l.2 .2l.2-6.8l.2-2.1l.2 1.8l.1-2.4l.2-1.6l.2-6.3l.2 3.8l.2-.7l.2-8.4l.2-4.1l.2-2l.1-3.5l.2-.8l.2 11.8l.2 .4l.2-11l.2-5.9l.2-1.9l.2 5.1l.2-2.2l.1-1.4l.2-4.5l.2 .3l.2 1l.2-3.7l.2 9.7l.2-2.8l.2 7.1l.2-.8l.2-1.3l.2 2.5l.2 3.3l.1 0l.2-3l.2-8.2l.2 4.9l.2-5.9l.2-4l.2 .1l.2 6.9l.1-5.5l.2-12.9l.2-1.8l.2 1.7l.2-8.5l.2-.7l.1-4.8l.2 2.5l.2-5.2l.2-1.1l.2 4.5l.2-7.9l.1-1.3l.2-3.5l.2 1.3l.2-.3l.2-1.4l.2 6.2l.2 1l.2 1.4l.2 1.6l.2-3l.2-2.1l.2-1.8l.1 2.3l.2 7.3l.2-5l.2-5.1l.2-2.6l.2 6.5l.2 .4l.2 3.8l.2-1.6l.2-.8l.2-6.6l.1 4.6l.2 2.5l.2 14.2l.2-2.8l.2 1.4l.1 11.2l.2 2.9l.2 .6l.2 9.6l.2 11.1l.2 10.4l.1 13.6l.2 8.6l.2 8.1l.2 5.5l.2 5.2l.2 5.7l.2 16.6l.1 10.8l.2 8.3l.2 13.9l.2 1.7l.1 7.8l.2 14.1l.2-3.6l.2 1.3l.2-2.5l.2-10.4l.1-4.2l.2-6.3l.2-4.5l.2-7.8l.2-2.9l.2 .6l.1-1.1l.2-7.5l.2 1.2l.2 .1l.2-9.2l.2-3.8l.1-1.6l.2-1.3l.2-.7l.2-6.5l.2 1.4l.2 2.4l.2-7l.2 1.6l.1-2.7l.2 7l.2 1.4l.2-8.4l.2-1.2l.2-2.4l.2-.3l.2 7.8l.2-3l.1 .4l.2 1.8l.2-2.6l.2-2l.2 3.2l.2 .4l.2-3.8l.2 3.8l.1-3.8l.2-5.3l.2 13l.2-1.4l.2-9.3l.2 2.3l.2 9.5l.2-12.7l.1 3.5l.2-.8l.2 9l.2-4.5l.2 .9l.2-3.8l.2 3.1l.2 13.1l.1 8.2l.2 10.4l.2 3l.2 11.9l.2 1.4l.1 14.5l.2 5.6l.2-1.4l.2 10.9l.2 11.3l.2 2.3l.2-5.8l.2 9.9l.1 6.6l.2 0l.2 10.3l.2 5.6l.2-3.2l.2-2.9l.2 3.4l.2-7.7l.1 4.5l.2-9.8l.2 1.8l.2-4.7l.2-2.9l.1-4.6l.2-7l.2 5.8l.2-7.7l.2-5.6l.2-1.7l.1-.3l.2-1.9l.2-2.2l.2 1.7l.2 5.1l.2-.5l.2-.7l.2-10.1l.1-4.4l.2 9.4l.2-4.7l.2-7.4l.2-2.6l.2 7.6l.2 3.7l.2-.7l.2-4.4l.1-6.9l.2 1l.2 1.3l.2-3.3l.2 2.7l.2 5.7l.2 5.5l.1 3.3l.2 1.1l.2 6.8l.2-1.4l.2-6.4l.2 4.6l.2 7.9l.1-2.1l.2 9.1l.2 3l.2 2.1l.2 5.1l.2 1.6l.2 5l.1-1l.2-.2l.2 1.7l.2-2.7l.2-6.6l.2-9.5l.1-2.3l.2 1.5l.2 1.7l.2-3.1l.2-.1l.2-4.5l.1 .9l.2-5.3l.2 1.4l.2-1.8l.2-3.7l.2 1l.2-1.4l.1 1.3l.2 8.1l.2 1.2l.2-6.6l.2-3.8l.2-1.2l.2 5.6l.2-4.1l.1 7l.2-7.3l.2 6.2l.2 3.1l.2 2.1l.2 2.5l.2-9l.2 6.2l.1 1.6l.2 .1l.2-.7l.2-2l.2-2.5l.2-5l.2-4.7l.2 1.3l.2 2.6l.2-2.7l.2 1.7l.2-4.6l.2-.9l.2-5.1l.1 1.3l.2-3.2l.2-.2l.2 6.1l.2 6.5l.2 2.6l.2-6.4l.2-1.7l.1 7.7l.2 3.3l.2-6.8l.2 9.2l.2-6.8l.2-.3l.2 4.5l.2 4.4l.2 2.7l.1-1.9l.2-3.3l.2-2.6l.2 4.9l.2 4.6l.2-1.7l.2 1.9l.2-.5l.2-.3l.2 3.3l.2 5.4l.1-2.9l.2 7.6l.2 2.2l.2 9.9l.2 .8l.2-2.4l.2-.9l.2 .2l.2 3.7l.2 0l.2 6.1l.1 2.7l.2-.6l.2-1.6l.2 1.3l.2-5.3l.2-1.6l.2 4.5l.2-1.4l.1 4.6l.2-1.8l.2 2.5l.2-2.5l.2 3.6l.2 1.7l.2 .8l.2-7.6l.2 .8l.2-3.6l.1 .4l.2 1l.2-8.7l.2-2.6l.2-1.6l.2 .6l.2-6.7l.2-3.5l.2-7.2l.2-2.6l.2-3.8l.2-2.7l.1 3.4l.2-6.6l.2-1.2l.2-1.2l.2-2.1l.2 .1l.2-4.3l.2-1.9l.1 3.4l.2 2.3l.2-9.9l.2 0l.2-1l.2-4l.2-1.2l.2-2.2l.2-.2l.1-4.8l.2-1.6l.2-.3l.2-8.7l.2-.6l.2 2.5l.1 3.1l.2-9.9l.2-4.5l.2-4l.2 2.5l.2-4l.1-2.3l.2 2.3l.2 .9l.2-4.7l.2-.6l.2 .2l.1-1.5l.2 6.1l.2 .5l.2 6l.2-5.5l.2 1.6l.2 3.3l.1 5.8l.2 5.2l.2-11.6l.2 11.3l.2-1.4l.2 7.3l.2 .5l.1 .9l.2-2l.2 3.2l.2 .7l.2-4.9l.2 .3l.1 5l.2-2.1l.2 .7l.2-3.4l.2-1.9l.2-13.9l.1 .3l.2 4.9l.2-2.4l.2-2.5l.2-1.2l.2 0l.1-2.2l.2 3.8l.2 .4l.2 .3l.2 7l.2 4l.2 4.4l.1 2.1l.2 1.7l.2 2.4l.2-5.7l.2-6.8l.2 7.3l.2 1.7l.1 8.3l.2 2.1l.2-2.2l.2 2.7l.2 1.7l.2-.4l.2 4.9l.1 .2l.2-1l.2 2.1l.2 2.6l.2 0l.2 1.8l.2-3.8l.2 1.5l.1 10.8l.2 4.4l.2-4.6l.2-2.4l.2 4.1l.2-3.3l.2 10.1l.2 .2l.2 .9l.1-2.8l.2 10.4l.2 .2l.2 7.7l.2-2.1l.2 10.9l.2 10.2l.2 4.5l.2-.4l.2 4.5l.1 8.2l.2 3.1l.2-3.3l.2-2.8l.2 .4l.2-3.8l.2-5.4l.2 5.1l.2 .3l.2-.8l.2 1.9l.2-4.7l.2-11.1l.1 1.5l.2 .8l.2-2.3l.2 1.2l.2-1.7l.2 0l.2-1.8l.2 1.5l.1-.8l.2-.9l.2-5.6l.2-3l.2-1.5l.2-4.7l.2-.6l.1 2.7l.2 3.5l.2-2.9l.2-3.9l.2 3.2l.2-2.3l.2-3.7l.1 3l.2-2.1l.2-8.7l.2 2l.2-1.6l.2-4.6l.2 .3l.1-1l.2 1.2l.2-6.4l.2 2.2l.2 3.7l.2-4.9l.2-4.5l.1 3.9l.2 1.5l.2-6.5l.2-3.3l.2 10.2l.2-5.8l.2-.9l.1-6.6l.2-3.7l.2 3.4l.2 .2l.2 3.1l.2 7.5l.2-1.1l.1 6.6l.2 2.1l.2 1.1l.2-8.2l.2 2.5l.2 8.1l.2 0l.2-.3l.2 3.4l.1 5.5l.2 7.6l.2 2l.2-2.9l.2 7.4l.2 0l.2 3.9l.2 3.6l.1-2l.2 1.8l.2 1.2l.2-9.1l.2-.5l.2-6.6l.2 .2l.1-3.7l.2 3.3l.2 2.2l.2-8l.2-.4l.2 5.2l.2-.9l.1-5.5l.2-6.7l.2-1.2l.2 .8l.2-.5l.2-.3l.2 .3l.1-2.5l.2 7.5l.2 1l.2-.3l.2-7.8l.2-2.8l.2-2l.1-1.7l.2 2.7l.2-.6l.2 10l.2-4.5l.2-2.1l.2-1.9l.1-1.3l.2 8.2l.2-5.1l.2-7.2l.2 1.2l.2 2l.2-2.5l.1 .6l.2 1.5l.2 2.8l.2-1.8l.2 1.7l.2-.6l.2 5.2l.2-5.1l.1 7.1l.2 1.8l.2 6.3l.2 4.5l.2 1.2l.2-10.5l.2-.6l.2 7.2l.1-3.4l.2 7.1l.2 1.8l.2 2.8l.2 3.1l.2-3.7l.2 1.1l.2 .9l.1 3.7l.2 5.4l.2 6.6l.2 4.9l.2 .9l.2-.9l.1 9.3l.2 5.2l.2 7.8l.2 1.5l.2-5.5l.2 5.1l.1 7.8l.2 3l.2 4.2l.2-5.7l.2-1.5l.2 1.3l.1 3l.2-7.9l.2 .4l.2-6.1l.2-1.4l.2-5.8l.2 4.9l.1-1.1l.2 1l.2-2l.2-7.4l.2 3.1l.2-7.4l.2-.7l.1-3.9l.2 4.3l.2-.1l.2-2.5l.2 1.8l.2 .7l.2 6.5l.2-2.3l.2 8.4l.1 .6l.2 1.5l.2 1.6l.2-1.7l.2 7.1l.2 3.1l.2-2.5l.2-1.4l.1 3l.2 .8l.2-.2l.2 3.9l.2-.3l.2-1.7l.2-1.8l.2-5l.2 .2l.2-.9l.2-7.6l.2-2.5l.1 6.1l.2-8.2l.2 3.6l.2-1l.2-1.6l.2 .2l.2 .3l.2 3.7l.2 .2l.1 7.5l.2-1l.2 1.5l.2-3.7l.2 9.3l.2-4.1l.2 3.1l.1 5.1l.2-7.1l.2 3l.2 9.8l.2-.9l.2-1l.2 2.1l.1-6.2l.2-3.3l.2-.3l.2-3l.2 .9l.2-.1l.1-5.2l.2-2.9l.2-2.8l.2-3l.2 .4l.2-1.7l.1-4.6l.2-.8l.2-2.5l.2-2.8l.2-.8l.2 2.9l.1-1.1l.2-5.1l.2-4.3l.2 1.9l.2 1.7l.2-1.6l.2 8.5l.2-6.1l.2-3l.1-1l.2 7.2l.2-6.2l.2 4.9l.2 2.3l.2-4.5l.2 1.1l.2-3.7l.1-.5l.2 1.9l.2 1l.2-3l.2 6.2l.2 1.5l.2-6.6l.2 .1l.2 .9l.2-2.7l.1 .9l.2-.9l.2 9.8l.2-8.6l.2 12.1l.2-10.8l.2 5.8l.2 1.3l.2-1l.2 4l.1-3.9l.2-4.6l.2 2.4l.2-2l.2 1.5l.2-.2l.2 5.8l.2 2.7l.2-3.2l.2 4.3l.1 1.1l.2-2l.2-1l.2-.1l.2-2.1l.2-1.7l.2-1.5l.2 2l.1 .5l.2-3.8l.2 1.2l.2-5.2l.2 3.8l.2 .7l.2 5.5l.1-2.1l.2-.7l.2-.6l.2 2.4l.2-7.6l.2 4.3l.2-8.2l.1 7.4l.2-8.4l.2 6.1l.2-5.5l.2 1.6l.2-4.5l.2 3l.1-3.3l.2 .7l.2-1.1l.2 .8l.2 2.1l.2 3.2l.2-6.5l.1 2.5l.2 1.5l.2 4.2l.2-7.6l.2 2.7l.2 6.7l.2-4.9l.1 7.5l.2-7.1l.2 .2l.2 4.7l.2 6.5l.2 .4l.2 .3l.1 .3l.2 .2l.2-.3l.2-5.4l.2 1.2l.2 1.2l.2 .9l.1-.9l.2-3.9l.2-.7l.2 .5l.2 0l.2 0l.2-2.4l.2 5.4l.2-1.5l.2-2.3l.2-2.2l.2-9.5l.1-4.3l.2 9.4l.2-.4l.2-2.4l.2 .2l.2-7.6l.2 .8l.2-5.3l.2-2.4l.2 .4l.2-.9l.1 1.9l.2-.1l.2-2.8l.2-.4l.2-2.6l.2 4.5l.2-6.5l.2 9.2l.2-2.9l.1 1.2l.2 5.4l.2-5.5l.2 1.1l.2-1.3l.2 .8l.2-4l.2-.5l.2-2.5l.1-.2l.2 1.8l.2 .5l.2-.6l.2-2.8l.2-3.7l.2-1.2l.1 .6l.2 1.4l.2 1.9l.2-7.8l.2 0l.2 3.9l.2-.9l.1-6.7l.2 4.6l.2-4.6l.2-1.2l.2-2.7l.2 5.8l.2-11.6l.1-.1l.2 .2l.2 6.5l.2-8.2l.2-1.8l.2-6.1l.2-1.7l.1 .8l.2-1.5l.2 2.3l.2 1.7l.2 5.6l.2 5.3l.2 2.7l.1-3.4l.2 3.7l.2-.9l.2-1.3l.2 1.6l.2 13.1l.2 2.5l.1 1.8l.2-4.4l.2 .1l.2 5.9l.2-2.6l.2 3.2l.2 2.7l.1-1.2l.2 1.8l.2-2l.2-1.1l.2-7.2l.2 2.1l.2 1.2l.1-1.4l.2-1.9l.2-11.2l.2-1.1l.2-4.7l.2-1.2l.2-5.5l.1 1l.2 1.7l.2-.3l.2-4.3l.2-.8l.2 .2l.2-.6l.2-.2l.2 1.6l.2 .5l.1-4.4l.2 3.4l.2-1.1l.2 2.4l.2 4.1l.2 .6l.2 7l.2-4.5l.2 4.2l.2 .5l.2-1.9l.2 .9l.1-2.6l.2-1.1l.2 1.7l.2 4.8l.2-1.6l.2-.4l.2 2.7l.2 3l.2 5.1l.2-2.3l.2 9.1l.2-1.3l.2 4.3l.1-1.4l.2-8l.2 9.7l.2 3.6l.2 .8l.2 .6l.2 .9l.2 4.2l.2 .1l.2 4.7l.2 8.5l.2-1.2l.2 2.6l.2 9l.1 6.1l.2 2.8l.2 1.9l.2 6.5l.2 3.1l.2-4.8l.2-3.7l.2-6.8l.1 0l.2-1.8l.2-4.1l.2-8.4l.2-1.1l.2-.3l.1-.1l.2-11.5l.2-2.9l.2 .3l.2-.1l.2-3.3l.1-3.9l.2 .8l.2 1.2l.2-2l.2 13l.2 3.4l.2-.3l.1 2.6l.2-2.9l.2 8.9l.2 .2l.2 .7l.2 .7l.2 1.7l.1 .4l.2 1.6l.2-.1l.2 6.2l.2-.9l.2-2.1l.2 4.7l.1 .4l.2-2l.2-1.1l.2-2.4l.2-6.3l.2-.4l.2 3.9l.2-3.2l.2 .8l.1-.1l.2 4.7l.2 5.9l.2-7.5l.2 0l.2-.6l.2 2.5l.2 .4l.1-2.9l.2 .3l.2-2.3l.2 1.2l.2 1.9l.2-8.9l.2 .2l.1-.9l.2-3.2l.2 3.3l.2-.5l.2 .2l.2-.8l.2-.5l.1 4.3l.2-9.6l.2 2.7l.2 .9l.2-2.5l.2 3.1l.2-4.3l.1-.5l.2-.9l.2 1.5l.2-2.1l.2-4l.2-2l.2-.5l.2 1.9l.1 1.6l.2 1.4l.2-2.6l.2 2.4l.2-3.1l.2-2.3l.2 3.1l.2-.5l.2 4.1l.2-4.1l.2 .8l.2-1.1l.1 .7l.2-1.8l.2 3.5l.2-5.6l.2-6.8l.2 2.7l.2 4.3l.2-2.2l.2-.7l.2 3.2l.2-2.3l.1 3.2l.2 0l.2 11l.2-.7l.2 6.9l.2-.9l.2 3.6l.1-3.4l.2 16.8l.2-1.1l.2 2.9l.2-.5l.2 2.1l.2 10.4l.1-.2l.2 5.8l.2 .7l.2 .7l.2-4.3l.2-.6l.2-3.3l.1 1.6l.2 1.9l.2-.9l.2-10.4l.2-7.3l.2 2.8l.2-1.6l.1 0l.2-5.6l.2-1.7l.2-2.5l.2 4.4l.2-6.2l.2 0l.1-3.6l.2 1.6l.2-1.8l.2-4.6l.2-7.6l.2-1l.2 .5l.2-4.7l.2-4.7l.2-2.3l.1 2.1l.2-.1l.2 3.7l.2 1.5l.2-2.2l.2-1.7l.2 2.4l.1 .8l.2 2.3l.2-7.3l.2-3l.2 10.1l.2 4.8l.2-3.6l.1 4.5l.2-2.5l.2-1.6l.2-3.5l.2-3l.2-2.2l.2 9.7l.2-.7l.1 5.7l.2 0l.2-6l.2-2.6l.2 1.9l.2 5.2l.2-2.7l.1 3.3l.2 2.2l.2 1.9l.2 3.5l.2 4l.2-2.9l.2-8.6l.2 9.8l.2-.1l.2 7.1l.2 1.5l.2-3.3l.2 1.5l.2-1.4l.1 1l.2 3.8l.2-9.5l.2-1.7l.2 1.3l.2-3.3l.2 7.6l.2 .2l.2-10.4l.2 7.4l.2-2.8l.2-4.8l.2 0l.1 3.9l.2 1.3l.2 .3l.2-2.8l.2 1.3l.2-4l.2 8.8l.2 1.4l.1 7l.2-3.3l.2-9l.2 3.4l.2 3.2l.2 7.5l.2-3.5l.2 2.8l.2-.3l.1-1.6l.2 3.5l.2-.4l.2 6l.2-.9l.2 2.9l.2-.4l.2-1.1l.1 .6l.2-2.7l.2-.9l.2-3l.2-2.5l.2 2.9l.2 6.5l.2 5.2l.1-7.3l.2 3.4l.2 .9l.2 1.7l.2-2.7l.2-.2l.2 .4l.2-1.8l.1 5.2l.2-4.5l.2 4.7l.2-4.7l.2 7.3l.2-1.6l.2-4.1l.1-1.4l.2-4l.2 1.3l.2 9.4l.2-4.2l.2 1.5l.2 6.5l.1-2.5l.2-7.5l.2 4.7l.2-3.2l.2 5.1l.2-2.4l.2 1.9l.1-2.7l.2 1.8l.2-2.6l.2 3.4l.2-1.1l.2-1.9l.2-2.8l.2 .7l.2-7.1l.1 2.8l.2-7.5l.2 4.3l.2-8l.2 1.6l.2-4.9l.2 5.8l.2-3.9l.2-.7l.2-6.3l.1-2.9l.2 1l.2-7.1l.2-.4l.2-5.4l.2 .4l.2-.5l.2-2.4l.2-.5l.2-.1l.1 1.5l.2-3.2l.2 6.6l.2 5.4l.2-5.1l.2 0l.2 .8l.2-1.7l.2 .1l.2 1.2l.2-.2l.2 9.8l.1 .2l.2 .1l.2-4.3l.2-2l.2 3.9l.2 2.2l.2-6.1l.2 1.4l.2 .4l.2 0l.2 1.3l.1 4.6l.2-4.7l.2-2.5l.2 6.9l.2-2.6l.2-3.1l.2 .9l.1 2.4l.2-.1l.2-3.5l.2 4.6l.2-2.4l.2-.4l.2 5.5l.1 2l.2-2.5l.2 2.8l.2-5.5l.2 .2l.2 .5l.2 7.4l.1-2.3l.2-2.6l.2 0l.2 .4l.2 .1l.2 .6l.2-2.4l.1-2.8l.2 1.3l.2 6.8l.2-2.9l.2 2.2l.2-1.9l.2-1.2l.1 9.4l.2-4.6l.2 5l.2-1.7l.2 3.4l.2 .2l.2-4.6l.1-.5l.2 5.5l.2 0l.2 0l.2 0l.2-5l.2 1.5l.1-5.5l.2 1.8l.2 2.6l.2 0l.2 3.4l.2-2l.2 .1l.2 7.2l.2 2.3l.2-2.5l.2 .7l.1 1.2l.2 7.1l.2-1.8l.2 .5l.2-.9l.2 2.5l.2 1.3l.2 6.2l.2 1l.2-1.6l.2 7.4l.2 2.8l.2 7.5l.2 2.6l.1 6.8l.2 2.6l.2-3.8l.2 4.6l.2 2.3l.2-5.7l.2 3l.2-6l.2 .5l.2 .4l.1 2.3l.2-.6l.2-10.4l.2-1.3l.2-1.4l.2-.8l.2 2.5l.2 1.9l.1-5.8l.2 3.6l.2-.8l.2-.2l.2-4.3l.2-1.8l.2 2.1l.2-.8l.1-5.4l.2 6.2l.2 5.4l.2 1.1l.2-.4l.2-.2l.2 .9l.2-5.8l.2 6.6l.1 1.4l.2-2.8l.2-5.2l.2-2.6l.2 3.2l.2 3.5l.2-.6l.2 0l.1 .7l.2 1.7l.2 5.1l.2-4.4l.2 11.2l.2-3.6l.2 8.6l.2-5.4l.2 6.5l.2 4.3l.2 3.4l.2 .4l.2 6l.2-1.2l.1 1l.2 5.5l.2 2.1l.2-3.8l.2 3.9l.2 5.4l.2 7.2l.2 2l.2 2.1l.2 1.3l.2 1.1l.2 2l.2 .2l.2-1.5l.1 1.2l.2 1.6l.2-5l.2-1.5l.2 .8l.2-2.2l.2 .6l.2-8.6l.2-1.2l.2 1l.2-1.6l.2-.9l.2 5.5l.2 1.3l.1 2l.2 3.9l.2-2.2l.2 5.6l.2 .4l.2 4.4l.2-.4l.2 4.4l.2 7.3l.2 1.7l.2 3.3l.2-.1l.2-.4l.2 1.5l.1 2.2l.2 4l.2 5.9l.2-1.6l.2 3.9l.2 6.5l.2 .7l.2-2.3l.2 2.4l.2 2.6l.2 3.2l.2-3.6l.1 6.9l.2-2.7l.2 3.2l.2-2.9l.2 4.7l.2 1.3l.2 1.1l.2-.6l.2-2.2l.1 3.9l.2-2.8l.2 11.2l.2-1l.2-5.9l.2 1.2l.2-1.4l.2 7.2l.1-.8l.2 3.7l.2-2.8l.2 3.8l.2 5.1l.2-11.2l.1 1.7l.2 .2l.2 10.2l.2-.2l.2 5.1l.2 5.8l.1-5.9l.2 1l.2 .4l.2 3l.2 0l.2-1.5l.1-1.6l.2-2.9l.2 6.5l.2-3.5l.2-3.6l.2 3.8l.2 1.6l.1-1.1l.2-9.8l.2-9l.2 2.6l.2 2.4l.2-.3l.2-3.3l.1 .6l.2 2l.2-4.2l.2 .6l.2 7.4l.2-2.6l.1 1.5l.2 2.7l.2-4.1l.2 1.8l.2 2.2l.2 12.6l.1-5.6l.2 11l.2-.4l.2-9.2l.2 7.8l.2 1l.1 2l.2 2.3l.2-.2l.2 1.8l.2 3.2l.2-4.2l.1 1.4l.2 12.9l.2 4.6l.2 1.1l.2 2.1l.2-.3l.1-3.7l.2-.4l.2 1.9l.2 2.9l.2 2.5l.2 5.7l.1 6.1l.2-1.1l.2 6l.2 5.2l.2 2l.2-6.1l.2 9.7l.2-3.2l.2 1l.2 7.3l.1-4.1l.2-6.9l.2-.7l.2-3l.2-6.8l.2-10.2l.2-6.7l.2-2.8l.2-10.1l.2-2l.1-9.2l.2 2.5l.2-9.9l.2 4.9l.2-7.2l.2 1.9l.2-10.8l.1-10.3l.2-1.8l.2 2.7l.2 7.4l.2 2l.2 2.4l.2 3.9l.2 8.5l.2 8.9l.2 4.1l.2 4.9l.2 8.6l.1 3l.2-1.7l.2 8.6l.2 4.6l.2 2.9l.2-10.9l.2 8.3l.2-2.9l.2-1.7l.2 3.8l.2-1.3l.2-1.5l.2-9.3l.2-4.8l.1 1l.2 1.1l.2-2l.2 .4l.2-1.8l.2 5.1l.2-.7l.2-2.6l.2 2.1l.2-2.9l.2-2.6l.2-5.9l.2 2.3l.2-4.8l.1 .5l.2 .9l.2-3.9l.2 1.9l.2-4.5l.2-11.6l.2-1l.2 1.8l.2-.5l.2-2.7l.2-1.2l.2-3l.2 1.2l.2-4l.1-7.7l.2 1.6l.2-6.8l.2-3.7l.2 2.4l.2 2.3l.2 6.2l.2-11.1l.2 4l.2 1.6l.2 2.4l.2-5.1l.2 0l.2 .2l.1 4.6l.2-2.7l.2-1.5l.2 5.5l.2 7l.2 1.9l.2 1.8l.1 7.3l.2 .9l.2 6l.2-5.5l.2-2l.2 14.1l.2-8.1l.1 .8l.2 2l.2 7.5l.2 1.6l.2-2.7l.2-1.2l.2 1.4l.1-3.2l.2 1.3l.2-5.5l.2 2.1l.2-2.7l.2 2.6l.2-5.1l.1 5.7l.2-.3l.2 3.1l.2-3.8l.2-4.4l.2-.7l.2-.7l.1-1.2l.2 4l.2-3.6l.2 5.3l.2-4.3l.2 5.1l.2-2.3l.2-11.7l.1 1l.2-.4l.2 .7l.2 10l.2 2.3l.2 0l.2-7.3l.2-3.7l.1-.5l.2 .7l.2-.5l.2 1.7l.2 .9l.2-.8l.2 4.5l.2 4.2l.1-.1l.2 1.6l.2 3.4l.2-1.7l.2 2l.2 2.9l.2 5.7l.1-.8l.2 4.2l.2-2.1l.2 6.8l.2 .6l.2 1.5l.2-3.5l.1 1.5l.2 5.1l.2 2.7l.2-3.8l.2-7.2l.2 12.7l.2 .9l.2-6l.2-1.6l.2 3.7l.2 1.5l.2-2.7l.2 7.4l.2 0l.1 .9l.2 .8l.2-1.1l.2-1.5l.2-9.1l.2-8.3l.2-3.2l.2 6.1l.2-1.4l.2-2.8l.2-1.7l.2-4.3l.2-.4l.1 2.5l.2-4.5l.2 5.9l.2-7.2l.2 5.3l.2 10l.2 1l.2-4.4l.2-1.8l.1 5.2l.2 4.4l.2-3.4l.2 .1l.2 5.2l.2-4.4l.2 .3l.2 0l.1 .2l.2 3l.2-1.4l.2-3.2l.2 3.3l.2-2.9l.2-3.1l.2-1.4l.1-2.3l.2-1.8l.2 .7l.2 4.2l.2-3.2l.2-1.1l.2-3.1l.2 10.9l.2-9.9l.1 4l.2-.5l.2 .1l.2-1l.2-2.7l.2-3l.2 1.5l.2 1.2l.1-5.7l.2 3.8l.2-9.1l.2 1.6l.2-2.3l.2 6.3l.2-7.6l.1 5.6l.2 .1l.2 7.1l.2-1.1l.2-8.3l.2 .9l.2-.7l.1-2.9l.2 2.6l.2-2.1l.2 3.3l.2 4.3l.2-5.6l.2-1.2l.1 1.7l.2-1.1l.2-4.1l.2 1.8l.2 .6l.2-.1l.2 6l.2-1l.1-7.6l.2-.6l.2 .9l.2 13.7l.2-.6l.2 1.5l.2-2.1l.2 .8l.1-3.6l.2-2.5l.2 2.2l.2 2.2l.2-2.5l.2 5.3l.2 .1l.2-1.4l.2-.6l.1 1.9l.2-2l.2-5.1l.2-1.5l.2 8.4l.2-.7l.2-4.8l.2 .1l.2 9.1l.2-11.8l.2 6.6l.2-2.2l.2-1l.2 4.7l.1-4.5l.2 11.5l.2 3.8l.2-5.8l.2 3.5l.2 1.5l.2 1.2l.2 2.9l.2 4.1l.2-1.1l.2 1.8l.2 4.5l.2 1.9l.1-.7l.2 .2l.2-2.4l.2-1.3l.2 3.4l.2-3.8l.2-.3l.2 1.2l.1-1.9l.2 .8l.2 9.7l.2-.7l.2 .3l.2-4.3l.2 11.3l.2-6.3l.1 1.8l.2 1.2l.2-2.2l.2 7.3l.2 3.6l.2 2.7l.2 7.2l.2-2.6l.2-1.4l.2 3.5l.1-.1l.2 4.9l.2 2.4l.2 2.5l.2-4.9l.2 1.5l.2-4l.2-3.2l.1 5.4l.2-3.3l.2 2.5l.2-5.2l.2 2.6l.2-10.8l.2-3l.1 .5l.2 3.8l.2 1.7l.2-1.2l.2-2.6l.2-2.2l.2 5.8l.1 2.5l.2-4.1l.2 .9l.2 7.7l.2 3.4l.1 1.2l.2 0l.2 4.1l.2-.3l.2-.3l.2-1.8l.1 2.7l.2 3.8l.2 6.1l.2-1.8l.2 5l.2-4.9l.2 4.3l.2 .9l.2 3.1l.2-1.4l.1-1.8l.2 8.5l.2 1.4l.2 2.3l.2-1.3l.2 1.9l.2 2l.2-1.5l.2 1.6l.2-1.1l.2 3.2l.1-1.8l.2 2.5l.2-2.4l.2 2.8l.2-3l.2 .6l.2 10l.2 1.4l.1-6.2l.2 3.9l.2-.9l.2-.3l.2-.3l.2 .6l.2 2.3l.2 2.5l.2-5.4l.1-4.9l.2-1.1l.2-3.6l.2-4.1l.2-1.8l.2 1.5l.2-3.3l.2-5.9l.2-3.7l.2-6.2l.2-1.3l.2-1.4l.2-2.2l.2-.6l.1 3.5l.2-8.1l.2 3.1l.2-4.1l.2 1.7l.2-3.4l.2 4.7l.2-7.3l.2 3.2l.2-1l.2-2l.2 3.3l.1 5.8l.2-5.7l.2-.5l.2-8l.2 6.1l.2-2.3l.2 .6l.2 .5l.2 1.3l.2-3.9l.2-.9l.1 3.6l.2-3.4l.2 3.6l.2 4.7l.2-1.9l.2 3.1l.2-6.1l.2 1.6l.2-4.9l.2-.2l.1 7.2l.2 1.6l.2 1.7l.2-1.4l.2-3.5l.2 3.3l.2-4.1l.2-.4l.2 1.3l.2 .7l.1 1.7l.2 .9l.2 1.5l.2 2.7l.2 1.6l.2 4.4l.2 .9l.2-3.7l.2 3.2l.1-1.8l.2 8.6l.2 .1l.2 2l.2-3.3l.2 3l.2-.3l.2 2.3l.1 3.2l.2 .2l.2 3.1l.2 2.7l.2-5.6l.2 1.5l.2-5.2l.1-2.4l.2-5.3l.2-1.6l.2 5.7l.2-9.2l.2 .5l.1-3.2l.2-3.3l.2 .2l.2-7.2l.2-2.9l.2-7.3l.1-.6l.2-3.6l.2 3.6l.2 1.8l.2 2.6l.2-3.2l.2-2.5l.2-3.2l.2 4.9l.1 1.3l.2-.6l.2-4.9l.2 3.7l.2-2l.2-.6l.2 3.5l.2-9.4l.2 3l.2 2.7l.1-1.1l.2 .4l.2-3.9l.2 .1l.2 6l.2 6.9l.2 6.2l.1 6.2l.2 7.5l.2 5.2l.2-1.5l.2 7.9l.2 8.2l.1 3.2l.2 .8l.2 5.9l.2 6.8l.2-2.9l.2 4.5l.1 7.6l.2-1.4l.2-2.1l.2-3.5l.2-8.3l.2-11.4l.2-4.4l.2-1.5l.2-7.3l.2 .5l.2-4.7l.2-3.8l.2-2.7l.1-5.9l.2 4l.2 3.5l.2 1l.2 4.2l.2-2.8l.2 3l.2 4.7l.1 3.1l.2 4.4l.2 .3l.2-1.1l.2 4.3l.2 2.8l.2-3.3l.2 3.3l.2 4.4l.1 2.4l.2 1.9l.2 1.8l.2 3.3l.2-1l.2 1.6l.2-5.2l.1-6.1l.2-2l.2 1.5l.2-4.1l.2 4l.2-2.8l.1 .6l.2-3.6l.2 .4l.2 .4l.2-1.4l.1-2.4l.2-5.2l.2 5.6l.2 2.7l.2 2.8l.2 2.4l.1-.8l.2-5.3l.2 .9l.2 6.7l.2 6.9l.2-8.4l.1 2.8l.2 6.2l.2 5l.2 1.2l.2-3.2l.2 5.2l.1 3.3l.2 5.5l.2 1.4l.2 3.2l.2 1l.2 3.9l.2 3.3l.1-1.2l.2 4.2l.2 3.2l.2 3.9l.2-.1l.2 7l.2-3.7l.1 5.7l.2 7.7l.2-.8l.2 4.3l.2-2.3l.2-3.9l.2 .1l.2-4.3l.2 3.4l.1-3.6l.2-8.1l.2-4.4l.2-1l.2 .7l.2-3.8l.2 1.4l.2-5.3l.2-1.3l.2-3.2l.2 .8l.1-2.3l.2-1.3l.2 1.3l.2-6.6l.2-3.2l.2-.5l.2-1l.2-3.4l.2 .1l.2 3.2l.2 2.6l.2-1.7l.1-2.9l.2-.5l.2-1.3l.2 2.8l.2-1.4l.2 3l.2 4.4l.2-.4l.1 4.7l.2 1.6l.2-.4l.2-1.5l.2-3l.2 7.6l.2-3.3l.2 1l.1 3l.2-.6l.2-.9l.2 1.4l.2 1.8l.2-3.1l.2 .1l.2-5.7l.2-.4l.1 6.1l.2 5l.2-1.8l.2 .3l.2-4.8l.2-1.7l.2 7.4l.2-1.5l.1-2l.2 1.9l.2-1.9l.2-.3l.2 .1l.2 1.3l.2-.5l.2-4.1l.2 .2l.2-1.5l.2-.6l.1 3l.2-.4l.2-4.1l.2-5.9l.2-1.5l.2-1.3l.2 5l.2 .6l.2-.2l.2-7.8l.2 3.6l.2 .5l.1-1.7l.2 .1l.2-.8l.2-.9l.2 .5l.2 .7l.2 1.7l.2-1.6l.2 4.8l.2-3.1l.1-6.3l.2 3.9l.2 3.1l.2-1.2l.2 .5l.2-1.2l.2 2l.2-6.6l.2 9.8l.2-2l.1-2.4l.2-.4l.2 2.6l.2-1.9l.2 1.4l.2 .3l.2-.6l.2 3.6l.2 .4l.1 .3l.2 .1l.2 2l.2-1.1l.2-.1l.2 .6l.2-.3l.2 .5l.2 3.2l.1-2.4l.2 5l.2-2.5l.2 .1l.2 .4l.2-2l.2 5.2l.2-2.4l.1 0l.2-.2l.2 4.8l.2-4.8l.2 3l.2 3l.2 .7l.2-.6l.2 4.7l.1-6.9l.2 10.2l.2 .7l.2-4.9l.2-.8l.2 3.4l.2-.4l.2 2.8l.1 .3l.2 2.3l.2-2l.2 4.2l.2-.1l.2-2l.2 1.8l.2 2.2l.1 3.5l.2 1.7l.2 2.7l.2 2.3l.2-2.4l.2 .9l.2 1.8l.2 4.1l.2 4.6l.1 1.3l.2 1.1l.2-3.5l.2 5.3l.2 .8l.2-1l.2 .1l.2-1.5l.1-4.5l.2 3.1l.2-1.7l.2-4.4l.2 2.2l.2-2.1l.2 1.3l.2 1.6l.1-2.2l.2-3.2l.2 1.1l.2 4l.2-.3l.2-1.3l.2-1.8l.2-3.2l.2 .2l.1-2.1l.2-.8l.2-.5l.2 2.5l.2 3.1l.2 1.5l.2-3.9l.2-.3l.1 3.9l.2-4.9l.2-.5l.2 2.9l.2 1.4l.2 2.1l.2 .1l.2 .2l.2-1.9l.1-.5l.2-.5l.2 .4l.2 1l.2-.9l.2 1.4l.2 2.1l.2 2.9l.1 2.1l.2-1.9l.2 2.7l.2 0l.2-.1l.2-.8l.2-2.1l.2 5.7l.1 1.8l.2 .5l.2-.9l.2 .2l.2 0l.2-1.6l.2 2.3l.2-.7l.2 1.1l.1-.1l.2-.7l.2 .1l.2 2.3l.2 3.6l.2 1.7l.2 .8l.2 0l.1 1.8l.2-3.1l.2-2.5l.2 .5l.2 1.8l.2 .4l.2 .2l.2 1.2l.1 2.6l.2-1.2l.2 1.5l.2 1.8l.2 .9l.2 .3l.2-2.6l.2 2.1l.2-.2l.1 .6l.2 4.3l.2 3.3l.2 .7l.2 .2l.2-3.5l.2 9.3l.2-3l.1 1l.2 .9l.2-1.3l.2 .4l.2 1.9l.2 2.8l.2 1.3l.2 1.2l.1 1.7l.2 2.5l.2 1.7l.2 4.2l.2 .4l.1 2.3l.2-.4l.2 .7l.2 1.1l.2-.7l.2 1.7l.1 1.1l.2 3.8l.2 0l.2 .2l.2-4.8l.2 .3l.2-1.3l.1 .8l.2 2l.2-5.7l.2 1l.2-5.8l.2 4.2l.2-3.8l.1 .4l.2-.1l.2 .5l.2-.7l.2-4l.2-3.4l.2 1l.1-1.3l.2-1.5l.2 3l.2-2.7l.2-4l.2-3.8l.2 2.5l.2 .5l.2-2.6l.2-.7l.2-1.2l.2 .2l.2-1.8l.2-1l.1 2.2l.2 3.1l.2 .7l.2 .5l.2 2.3l.2-1.7l.2 3.5l.2-.4l.1-1.2l.2 1.5l.2 3.3l.2 .4l.2-4.3l.2 4.6l.2 2.5l.2 2.1l.1-.8l.2 .4l.2 .3l.2-.5l.2 1.1l.2-3.3l.2-.3l.2 0l.1-.4l.2 3.9l.2-.4l.2 2l.2-5.2l.2 2l.2-2.3l.1 1.6l.2-1.8l.2 4.9l.2 1.5l.2-2.6l.2 .8l.2-4.5l.1 2.4l.2 2.3l.2-2.3l.2 1.4l.2 1.2l.2-2.1l.2 .3l.1 .3l.2 .4l.2 .9l.2-.7l.2-.7l.2 .8l.2 4l.1-2.6l.2-1.9l.2 3.1l.2 2.4l.2 0l.2-4.2l.2 2.6l.1 0l.2 4.8l.2-1.2l.2 3.6l.2 .4l.2-.4l.2 .9l.1-3.5l.2-.3l.2-1l.2 4.4l.2-1.5l.2 1.5l.2 .2l.1 .2l.2 2.6l.2-1.3l.2 .5l.2-.7l.2 0l.2-1.8l.1 4.8l.2 .2l.2 1.9l.2 0l.2-3.8l.2 1.1l.2 2.7l.1 0l.2 .3l.2 .1l.2 1.2l.2-.3l.2-.7l.2-.1l.2-2.6l.1 .8l.2-2.6l.2-1.6l.2 1.9l.2-.9l.2-3l.2 .5l.2-3.3l.1-.7l.2-2.1l.2 .2l.2-1.4l.2 2.2l.2-1l.2-4.4l.2 1.1l.1-1.4l.2 1.4l.2-.4l.2-.8l.2 1.7l.2 5.5l.2-2.4l.2 2.4l.2 1.9l.1-1.5l.2-2.5l.2-1.6l.2 2.1l.2 .2l.2 4.6l.2 .1l.2 .5l.1-.4l.2 .5l.2 .1l.2 1.3l.2 .2l.2 .8l.2-.4l.1-2.8l.2-.7l.2 2.8l.2-.5l.2 .8l.2 0l.2-2.4l.1 1.1l.2-1l.2 0l.2-.7l.2 4l.2-.9l.2-1.4l.1-3.8l.2-1.3l.2 3.8l.2-2.9l.2 1.8l.2 3l.2-3.6l.2-.9l.1 1.7l.2 0l.2-1.2l.2 4.3l.2-1.5l.2-2l.2 .7l.1 1.1l.2-1.9l.2 2.6l.2-1.1l.2 .1l.2 2.7l.2 1.6l.1-2.9l.2 5.9l.2 1.2l.2-.1l.2-.4l.2-4.3l.2 4.7l.1-1.4l.2 .8l.2-.5l.2-2l.2 2.2l.2 1.1l.2 .3l.1-.7l.2 .3l.2 1.3l.2-.9l.2 .2l.2-2.6l.2 .2l.2 2.3l.2-1.5l.2 2.6l.2-3l.1 1.7l.2-3.6l.2 0l.2-3.2l.2-.2l.2 3.7l.2 1.4l.2 .8l.2-.4l.2-.7l.2-.3l.2-.8l.1-2l.2 .3l.2 .1l.2 1.1l.2 3.9l.2 .8l.1 4.7l.2 2.7l.2-2.6l.2 1.7l.2 .9l.2 .1l.1 2.6l.2 3.3l.2 .3l.2 2.4l.2 .4l.2 1.5l.1 1.9l.2 .5l.2 3.5l.2-3.2l.2 3.1l.2 1l.2 1.8l.2-1.7l.2 2.3l.1 1l.2-.8l.2 5.3l.2 1.7l.2 1.9l.2-1.5l.2 2.5l.2-.5l.1-.3l.2 2.6l.2-1.2l.2-.2l.2 .7l.2-.2l.2-.7l.2-.7l.2-3.2l.1-3.4l.2 1.9l.2-.3l.2 .9l.2-.8l.2-.9l.2-5.5l.2 .4l.1 1.4l.2-2.6l.2-.5l.2-2.1l.2-.3l.2-.9l.2 3.1l.2 1.2l.1 .8l.2 1.6l.2-2.6l.2-1.6l.2 .2l.2 .6l.2 2.2l.2 1.9l.2 1.7l.1 0l.2 1.6l.2 .9l.2 1.4l.2-1.4l.2 1.7l.2-.4l.2 0l.1-.8l.2 1.6l.2-2l.2-2.4l.2 1.2l.2-1.9l.2-.3l.2 2.1l.2 1.1l.1 0l.2-1.6l.2-2.3l.2-1.9l.2-1.2l.2-1.1l.2 1.1l.2 2.2l.2 .3l.1-1.9l.2-.5l.2 1.7l.2 .1l.2-1.2l.2 .2l.2-1.6l.2 0l.2-2.9l.1-.7l.2 1l.2-1.2l.2-.4l.2-.9l.2 1.2l.2 3.5l.2 .8l.1-2.2l.2 1.3l.2 3l.2 .6l.2 .2l.2 .9l.2-3.3l.2 2l.1-.6l.2 .9l.2 .5l.2 .1l.2 .4l.2 .9l.2-.1l.2-.3l.1 .4l.2 1.1l.2 2.3l.2 1.5l.2-.7l.2 2.1l.2 .2l.2-1.4l.1 1.5l.2 .8l.2-1.3l.2-.3l.2 0l.2-1.3l.2 1.4l.1 .1l.2 .2l.2-2l.2-3.2l.2 .4l.2 1.7l.2-2.4l.1-.1l.2 1l.2-2.1l.2 1.7l.2 1.2l.2-.9l.2-1.4l.1 1.6l.2 1.2l.2-1.1l.2-1.3l.2-.4l.2-.1l.2-.7l.1-.7l.2-.3l.2 .6l.2 .9l.2-.9l.2-.3l.2-.3l.1 .7l.2 1.5l.2-1l.2-.1l.2-4.1l.2 .2l.2 .3l.1-1l.2 .1l.2 2l.2 .3l.2-2.2l.2-.6l.2 3l.1-.4l.2-.3l.2-1.1l.2-1.9l.2 .8l.2-.5l.2 0l.1 2.4l.2-2.3l.2 .5l.2 .4l.2 0l.2-1.6l.2 2.1l.1 .5l.2 2.9l.2 1.4l.2-1.9l.2-.9l.2-.9l.2 1.2l.1 2.1l.2 2.1l.2-2.9l.2 1.9l.2-.6l.2 .3l.2 2.3l.1 .1l.2-.3l.2-1.1l.2-.3l.2 .6l.2-.1l.2 .3l.2 .9l.1-1.8l.2-.1l.2 1.2l.2 .8l.2 .8l.2 .2l.2 1l.2-.7l.2 .7l.2 .3l.1 .5l.2 1.6l.2-.4l.2-1.4l.2 0l.2-1.3l.2-.2l.2 .7l.2 .8l.2 2.3l.1 1.1l.2-2.1l.2 1l.2-2.5l.2 .4l.2 1.2l.2 1.8l.2 .4l.2-.7l.2 .6l.1-.2l.2 .5l.2 .7l.2 .6l.2-.5l.2 2.4l.2-2.1l.1 1.6l.2-.2l.2 1.7l.2 .2l.2-2l.2 .4l.2-3.5l.1 1.8l.2 1.4l.2-1.2l.2 3.1l.2-1l.2 2.2l.2 .1l.1-2.8l.2 .8l.2 2l.2-1.7l.2 1l.2-.7l.2 0l.1 0l.2-.9l.2 2.4l.2-.8l.2-.5l.2-1.2l.2-1.5l.1 2.5l.2 .4l.2-1.2l.2 1.4l.2-2.3l.2-.7l.2 2.7l.1-.2l.2-.4l.2-2.3l.2-1.8l.2-1.2l.2 3.3l.2-1.3l.1-.9l.2-1.6l.2 2.1l.2-.3l.2-.3l.2-1.7l.2 .2l.1 .9l.2-1.8l.2-1.1l.2-.6l.2 2.7l.2 .1l.2-2.3l.1 .9l.2-2.8l.2-.8l.2 1.3l.2-.3l.2-2.9l.2 .1l.1 2.8l.2-2.6l.2-.5l.2 1.2l.2-2.1l.2-1.3l.2 3.7l.1-2.4l.2-.4l.2 .3l.2-.6l.2 .1l.2-.6l.2 1.5l.2-.7l.1-2.3l.2-.4l.2 .2l.2 1.6l.2-1.5l.2 .1l.2-.8l.2 1.8l.2 1.2l.2-1.4l.1-2.5l.2-.8l.2 2.5l.2 1.1l.2-.2l.2-2.8l.2-.5l.2 .6l.2-.1l.2 0l.1-1.9l.2-2.1l.2-.6l.2 .6l.2 .2l.2 .1l.2 .7l.2 1.2l.2-1.6l.2 .4l.1-.3l.2-.4l.2 1.7l.2-.7l.2-2l.2-1l.2-1.2l.1 1.5l.2-2.6l.2 2.9l.2 2.5l.2-.2l.2-.1l.2-2.7l.1-2.2l.2-.3l.2 1.9l.2-.3l.2 .8l.2-1.9l.2-.1l.1-.5l.2 .2l.2 1.2l.2-1.6l.2-.3l.2-.7l.2-4l.2 .4l.2-1.6l.1-3.3l.2-1.5l.2 .5l.2-1.3l.2-2.6l.2-2.5l.2-2.1l.2-.7l.2-.6l.2 1.6l.2-.8l.2-1.9l.1 .6l.2-2.5l.2-1.5l.2 1.7l.2-.8l.2-2.4l.2 1l.2 1.6l.1 .3l.2-2.5l.2 2.1l.2-1.6l.2-.2l.2-1.9l.2 1.2l.2 .1l.2 .6l.1 .8l.2-4.4l.2-3l.2 1.2l.2-1.7l.2 2.2l.2-5.6l.1-1.1l.2 0l.2-3.9l.2 2.9l.2 .8l.2-5.9l.2-.6l.1-.7l.2-1.1l.2-.4l.2-1.5l.2 .6l.2 3.4l.2 .1l.1 2.4l.2-.4l.2-1.2l.2 2.6l.2 .6l.2 3.4l.2-.7l.1 3l.2-.8l.2 2.4l.2 3.5l.2 .4l.2-.2l.2 1.2l.1-.3l.2 2.1l.2 .4l.2 1.3l.2 .7l.2 .3l.2 .7l.2 .5l.1-2.4l.2 .7l.2 .7l.2-2l.2-.5l.2 1.9l.2-.6l.2 .7l.1 1.9l.2 .2l.2 .8l.2 .4l.2-.5l.2-1.1l.2 .4l.2-2.6l.2 2.5l.2-3.3l.2 1.9l.1-2.9l.2-.2l.2-6.5l.2 1.8l.2-.9l.2-3.8l.2 .8l.2-.7l.2 .2l.2-.6l.2-4.1l.1 .7l.2 1.4l.2 .5l.2-3.2l.2-.3l.2-1.5l.2-1.1l.2-1.1l.2-1.4l.2 .9l.1-1.8l.2-.3l.2-.3l.2 6l.2 .8l.2-3.1l.2 2.1l.1 .9l.2-2.4l.2-3.1l.2 1.5l.2-4.1l.2 1.1l.2-1.2l.1 6.3l.2-2.8l.2-.2l.2-1.5l.2-1.5l.2 2l.2 .7l.1-.4l.2-.2l.2 .4l.2-.8l.2 .8l.2-2.7l.2 2.1l.2 1.1l.2-1.1l.1-1.6l.2 .5l.2-1.1l.2-.7l.2-1.4l.2-6.3l.2 .9l.2 3.1l.2 0l.2-5l.1 2.5l.2-2.1l.2 .6l.2 1.8l.2-2.9l.2-1l.2 2l.2 1.2l.2-.4l.2 1l.1 2l.2-1.1l.2 .9l.2-.1l.2-3l.2 2.4l.2 5.3l.2-3l.2 .8l.2-1.1l.2 .9l.2-2.7l.1 5.6l.2-.4l.2-2.8l.2 2.3l.2-1l.2 2.3l.2 .3l.2 1.9l.2 2.2l.2-.9l.2-1l.1 3.5l.2-1.7l.2 1.1l.2-.3l.2 1.1l.2 3l.2-.4l.2-1.1l.2 1.8l.2-.7l.1 3.2l.2-.7l.2-1.2l.2 1.7l.2 .2l.2 2.1l.2-.2l.2 .9l.2 .1l.2 0l.2-2.3l.1-1.4l.2-1l.2-.6l.2-.6l.2 2.6l.2-2.5l.2-1.6l.2-.5l.2 4.1l.2-1.1l.2-1.9l.2-.2l.1 1.5l.2-.4l.2 .4l.2-1l.2-2.8l.2 1.1l.2-.3l.2-1.1l.2 1.6l.2-2l.2 1.5l.1-1.5l.2 1.1l.2-.5l.2-2l.2 1l.2-1l.2 1.7l.2-.3l.2 .1l.2-.1l.2-.8l.2-6.4l.1 5.4l.2 .9l.2-6.1l.2 2.7l.2-2.8l.2 .3l.2-1.3l.2 1.8l.2-1.2l.2 1.2l.2 .3l.1-1.1l.2 2.8l.2-3l.2 2.8l.2-1.6l.2-.1l.2 0l.1 .1l.2 .7l.2-.2l.2 .4l.2 3.6l.2 1.2l.2-2.9l.1 3.5l.2 1.7l.2 .1l.2-.1l.2 .1l.2-.3l.2-2.2l.1 2.7l.2 4.2l.2-1.4l.2-.8l.2 .8l.2 .3l.2-1.1l.2 1.2l.1 .6l.2-1.3l.2 .3l.2-2.5l.2 .2l.2 1.4l.2-2l.1 .6l.2-.7l.2 .8l.2-1l.2 3.7l.2-1.1l.2 3.3l.2-2.3l.1-1.8l.2-1.9l.2 5.4l.2-2.3l.2-3.3l.2 .1l.2 .9l.1 .1l.2 .8l.2 2.4l.2 .1l.2 3.1l.2-2.5l.2-.3l.2-1.9l.1-1.6l.2-.5l.2 0l.2 .1l.2 2.5l.2-1.8l.2 3.2l.1 .8l.2-.2l.2-.3l.2 .1l.2-.5l.2-.2l.2-.5l.2-.1l.1 1.5l.2-2.8l.2 1.7l.2-.1l.2-6.2l.2 2.4l.2 1.4l.2-1.9l.1 .9l.2-2.3l.2-.1l.2-1.6l.2 2l.2 .2l.2-.4l.2-1.4l.2-.7l.1-.3l.2-2.6l.2 .3l.2-.1l.2 3.4l.2-1.3l.2-1.7l.2 2.4l.1-2.3l.2 1.7l.2 3.6l.2 .5l.2 .6l.2 .4l.2-1.5l.2 .8l.1-1.1l.2-1.3l.2 .7l.2 1.1l.2 .6l.2 1l.2 2.5l.2-1.2l.1 2.3l.2 1.1l.2-2.6l.2-1.2l.2 2.4l.2 .2l.2 4.3l.1-3.7l.2 1.8l.2-3.2l.2-.7l.2 1.5l.2 3.6l.2-2.5l.1 2.5l.2-1.1l.2 1.2l.2 2.6l.2 1.7l.2 1.7l.2 2.6l.1 1.6l.2-1l.2 2.3l.2 .9l.2 7.2l.1 .8l.2 .4l.2 3.3l.2 0l.2 .7l.2 .6l.1 2.5l.2 .8l.2-1.8l.2-1.3l.2 1.6l.2 0l.2-.9l.1-1.2l.2-1.4l.2 3.8l.2-2l.2-1.8l.2-1l.2 3.8l.1-2.9l.2-.2l.2 1l.2-1.6l.2-3.4l.2 .2l.2 .9l.1-.9l.2 .3l.2-1.2l.2-.1l.2 2.1l.2-2l.2-.8l.2 1.1l.1-2.3l.2 .5l.2-.2l.2-.4l.2 .2l.2 .2l.2-2.8l.2 1.5l.2 4l.2 0l.1-.4l.2-.9l.2 .7l.2 .2l.2-1.7l.2-4.5l.2 2.3l.2 3.2l.2-2.8l.1 .8l.2-.1l.2-1.1l.2 1.9l.2-1l.2-1.7l.2-1.7l.2 .8l.2 0l.2 .1l.1-.3l.2 1l.2 .8l.2-1.7l.2 .1l.2 1.8l.2-.9l.2-2.6l.2 1.8l.2 .7l.1-2.9l.2-1.1l.2 .4l.2-.9l.2-1l.2-.3l.2 3l.2 3.5l.2-3.1l.2-3.6l.1-.8l.2 2.6l.2 .4l.2 0l.2 .2l.2-.4l.2-1.4l.2 .8l.2 2.1l.2-5.5l.1 .8l.2 1.2l.2-1.4l.2 .1l.2-.6l.2 .7l.2 0l.2 .2l.2-2.3l.2-1.6l.1-1.4l.2-.4l.2-.6l.2 4.6l.2-3.1l.2 3.5l.2-3.6l.2 3.5l.1-4.3l.2-.2l.2-.6l.2-2.7l.2 1.3l.2 3.1l.2-1.9l.2-.8l.1 1.2l.2 .9l.2-2.1l.2-.1l.2 1.6l.2 1.4l.2-1.7l.1-.9l.2-1.5l.2 4.3l.2-1.7l.2-5.6l.2 3.4l.2 .5l.1 2l.2 1.1l.2-.1l.2-.8l.2-4.9l.2 3.3l.2 .6l.1-2.3l.2 .1l.2-.4l.2 1.2l.2-.2l.2-.7l.2-.7l.1 1.2l.2 .7l.2 0l.2-2.9l.2-.3l.2 1.2l.2 2.3l.1-1.8l.2 2.2l.2-1.5l.2 1.8l.2-1.3l.2 2.9l.2 1l.1-1.4l.2 .8l.2-2.5l.2 1.1l.2-1.7l.2 4.7l.2 .8l.1-2.9l.2 2.2l.2-.5l.2-.4l.2 .4l.2-.6l.2 1.6l.2-.9l.1 .9l.2 .6l.2-4.2l.2-1.1l.2-1.7l.2-.1l.2 5.1l.2-2.9l.1-1.5l.2 2.2l.2 0l.2-4.5l.2-.7l.2 2.5l.2 1.5l.1-.7l.2-1l.2-3.3l.2-.1l.2 3.2l.2-1.1l.2 .4l.2 1.2l.1 .1l.2-1.4l.2-.9l.2 .5l.2 .8l.2 2l.2 .4l.2 1.7l.2-3.1l.2 2.8l.2-3.7l.1 1.1l.2 2.7l.2 1.4l.2-1.5l.2-2.9l.2 .5l.2 .5l.2 .5l.2 4.8l.2-1.6l.2 1.7l.2 1.2l.1-.9l.2 .5l.2-.3l.2 1.6l.2 .6l.2 .9l.2-.1l.2 3.1l.2 .3l.1 4l.2-.9l.2 .3l.2 .3l.2-.1l.2 4.1l.2 1l.2 .5l.2 1.3l.1 1.3l.2-1.4l.2 1.4l.2 .5l.2-.1l.2 .9l.2-.5l.2-1.1l.1 .1l.2-1.3l.2 .8l.2 1.4l.2-3.1l.2 3.1l.2-1.6l.1 .1l.2-2.4l.2-1.1l.2 .1l.2-.3l.2 3.6l.2-.2l.1-1.1l.2 1.3l.2-1l.2-.6l.2-1l.2 1.5l.2 .9l.1-3.5l.2 .6l.2-1.2l.2 1.2l.2 .4l.2 2l.2-2.3l.1 .2l.2 1.5l.2-.4l.2 0l.2 1.2l.2-1.7l.2 2l.1-1.9l.2 2.5l.2-1.7l.2-1.4l.2 4.9l.2-.7l.2 1.4l.1 .5l.2-1.8l.2-2.2l.2 1.2l.2 .1l.2 .5l.2 1.5l.1 .7l.2-1.5l.2 .3l.2 1.9l.2-1.9l.2 3.1l.2 .3l.1 .7l.2-2.3l.2 2.1l.2 .8l.2-2l.2-1l.2 1.6l.1 3.8l.2-2.4l.2-.4l.2 3.8l.2-.7l.2-.2l.2 2.5l.1-5.5l.2 3.1l.2-1.8l.2 .3l.2 2.5l.2-.1l.2 1l.1 0l.2 .8l.2-.7l.2 2.2l.2-1.1l.2 1.2l.2 .8l.2-.4l.1 2.1l.2-.2l.2-1.7l.2 .2l.2 .1l.2 2.7l.2 .6l.2-4.4l.1-.1l.2-.1l.2 .9l.2 1.7l.2 .7l.2 .2l.2 1l.2-1.6l.1 .3l.2 0l.2 .9l.2-2.2l.2 .7l.2 .5l.2-.9l.1-1.1l.2-1.4l.2 .9l.2-.4l.2 .5l.2-2.4l.2-.8l.1 1.1l.2 1.3l.2-4.4l.2-.2l.2 2l.2-1.6l.2 .8l.1-1.3l.2 .5l.2 .5l.2 0l.2 0l.2-1.2l.2-.8l.1-1.5l.2-.5l.2 1.5l.2 3.4l.2-.1l.2-4.4l.2 1.6l.1-1.7l.2-.9l.2 3.9l.2-1l.2-2.2l.2-1.7l.2 2.5l.1-.5l.2-2.2l.2-.1l.2 2.6l.2-.5l.2-1.9l.2-.2l.1 0l.2-.2l.2-1.3l.2 1.3l.2 .2l.2-.8l.2 .9l.1-2l.2-1.3l.2 1.6l.2-2.4l.2 .3l.2-.7l.2-1.9l.1 1.5l.2 1.8l.2 1l.2-4.2l.2 1l.2-.8l.2 2.9l.1-3.2l.2-.8l.2-.9l.2 3.7l.2-1.4l.2-.6l.2 .7l.1-1.8l.2-.7l.2 1.5l.2 .3l.2-.3l.2-1l.2 .5l.1 1.2l.2 .5l.2 .2l.2 2.3l.2-1.8l.2 1.6l.2-1.8l.1-3.2l.2 2.5l.2 2.6l.2 1.1l.2-3.7l.2 2.6l.2 1.3l.1 1.5l.2-.2l.2 .4l.2-2.4l.2-.5l.2 0l.2 1l.1 .4l.2 .2l.2 .6l.2 .6l.2 0l.2 1l.2-.7l.2 .5l.2 1.8l.2-3l.1 2.3l.2 1.5l.2 .8l.2 .2l.2 .2l.2-1.7l.2 1.8l.2-2.7l.2 2.2l.2 1.1l.1 .5l.2-.7l.2 .1l.2-2l.2 1.3l.2 .9l.2 .8l.2 .5l.2-1.8l.2-.3l.1 .3l.2 .3l.2-.2l.2 .3l.2-1.2l.2-1l.2 1.2l.2-.3l.2-1.3l.2 3.3l.1-2l.2 .2l.2-1.2l.2 2.8l.2-1l.2-.3l.2 .9l.2-2.9l.2-.7l.2 .1l.1-.9l.2-.3l.2 3.6l.2-.6l.2-.7l.2-3l.2 3l.2-2.8l.2 0l.2-1.2l.1-.1l.2-1.4l.2 1.6l.2-1.4l.2 2.1l.2-1.2l.2 0l.2-.5l.2-.4l.2-1.4l.1-.4l.2-.1l.2 .5l.2 1.3l.2-3l.2-1.5l.2 2.1l.2 1.1l.1 .3l.2-1.1l.2 1.2l.2-.3l.2-1.4l.2-2l.2 2.9l.2-1.9l.2-2l.1-.4l.2 .8l.2 1.6l.2-.8l.2-1.2l.2-.9l.2-1.3l.2-.5l.2 1.5l.1-.7l.2-.1l.2-.2l.2-1.3l.2 1.3l.2-1.5l.2 .3l.2 1.8l.2-2.6l.2 1.4l.1 2.5l.2-.1l.2-2.6l.2 2.6l.2 .2l.2 2.5l.2-1.3l.2-.8l.2-.8l.2 3.8l.1 .1l.2-1.7l.2 .2l.2-.4l.2-.8l.2-1.7l.2 1.1l.2 2.2l.2-.4l.2-.6l.1 .8l.2-.6l.2-1.1l.2 .8l.2 .2l.2-.7l.2 .3l.2-1l.1 .8l.2-.4l.2-1.4l.2 2.9l.2-2.5l.2 2.2l.2-4.2l.1 4.3l.2 2.2l.2-.1l.2-3.4l.2-.5l.2 1.9l.2-2.2l.1 2.4l.2-3.7l.2 2.4l.2 1.6l.2-2.4l.2-.2l.2-.1l.1 1.9l.2-.4l.2-1.7l.2-.7l.2 1.3l.2-1.9l.2 .1l.2 1.4l.2-.4l.1 .9l.2 1.4l.2-2.5l.2 .9l.2-3l.2-1.3l.2 2.5l.2-.9l.2-1.2l.2 4.2l.1 .8l.2-1l.2 1.2l.2-1.2l.2-1l.2 .6l.2 2.1l.2-.1l.2-3.8l.2 0l.1 1.5l.2 1.1l.2-2l.2 .3l.2-.3l.2-1.7l.2 1.4l.2-1.4l.2 .7l.2 1.4l.1 .7l.2-.8l.2-1l.2 .5l.2 2.1l.2 .5l.2-2.2l.2-3.3l.2 2.1l.2 2.1l.1 .7l.2-2.3l.2-2.6l.2 2.5l.2 0l.2-1.2l.2-.1l.2 2.7l.2-.2l.2-1.4l.1-.2l.2-1.3l.2 2.8l.2 2.4l.2 .5l.2-1.6l.2-.6l.2-1.4l.2-.3l.2 1.5l.1 1.2l.2 .9l.2-.7l.2-2.9l.2 .2l.2 2.8l.2-1.8l.1-.3l.2-1.6l.2 1.1l.2-.6l.2 3.4l.2 1.6l.2-1.3l.1-2.3l.2-1.1l.2 2.6l.2 2.5l.2-3l.2-2.7l.2 1.7l.1 1.6l.2-.4l.2 1.4l.2 .4l.2-.5l.2-1.5l.2-.3l.1 1.2l.2-2l.2 .3l.2 .3l.2 .2l.2 .8l.2 1.3l.2-.1l.2 .7l.1 .5l.2 .7l.2 .5l.2-1.1l.2 0l.2-4.2l.2 6.8l.2 .1l.1-1.3l.2-1.3l.2 .6l.2-1.1l.2 1.8l.2 1.6l.2-3.4l.2-1.8l.2 .2l.1 .4l.2 2.4l.2 3.1l.2-2.4l.2-1.6l.2 1.9l.2-.5l.2 .3l.1 1.1l.2-.6l.2-.6l.2 .9l.2-.1l.2-.5l.2-.2l.2-.3l.1-.1l.2 .9l.2-.2l.2-2.6l.2-1.5l.2 3l.2-2.9l.1 4l.2-2.7l.2 2.2l.2-5.5l.2 .2l.2 .9l.2 .1l.1 1.2l.2-.8l.2 .9l.2 .4l.2 .5l.2-1.6l.2-.5l.1-1.8l.2 .6l.2 .3l.2-1.6l.2-1l.2 1.8l.2-3l.1 1.9l.2-1.5l.2-.3l.2-.3l.2 1.5l.2-1.4l.2-2.6l.1-.4l.2-.3l.2 .6l.2-1.3l.2 1.3l.2-.5l.2 3.7l.1-2l.2 .8l.2-.4l.2-4.1l.2 5l.2-2.3l.2-.3l.1-1.5l.2 .2l.2 .4l.2-.2l.2 2l.2 .1l.2-1.9l.2 2l.2 0l.2-2.6l.1 .5l.2-2.4l.2-.2l.2-1.7l.2 1l.2 .4l.2-.8l.2 2.9l.2-.9l.2 2.1l.2-3.3l.2 1.5l.1 .6l.2-1l.2-.7l.2-1.1l.2 .1l.2-1l.2 .6l.2 2.1l.2-.8l.2 .3l.2 .6l.1 2.1l.2 1.1l.2-1.2l.2 2.2l.2 1.3l.2-1.4l.2 1.8l.2-.8l.2 .7l.2-1.1l.1-.6l.2 4.1l.2-1.8l.2 .2l.2 .2l.2-.5l.2-.4l.2 1.9l.2 .3l.2-.4l.1 3.3l.2 .4l.2-.3l.2 1.5l.2-1.1l.2-1.6l.2 .6l.2-.7l.2 1.2l.2 1.6l.1-3.3l.2 2.7l.2-2.8l.2 .5l.2-.1l.2 3.2l.2 1.9l.2-2.5l.2 .2l.2-.3l.1-.3l.2 4.3l.2-1.8l.2 1.1l.2 2.2l.2-2.3l.2 .7l.2 .7l.2-1.1l.2-.1l.1 1.9l.2 .5l.2-.7l.2 3.6l.2-.7l.2 .9l.2-3l.2 1.4l.2 2l.1 .5l.2-.8l.2-.4l.2 2l.2-.6l.2 .5l.2-1.2l.2-.5l.2 .3l.2 4.2l.1-1.8l.2-.4l.2 .8l.2 2.1l.2 .2l.2-1l.2 1l.2 .3l.2-1.4l.2 .7l.1-.7l.2 .2l.2 0l.2 .3l.2-.7l.2-2.1l.2-.5l.2 1.6l.2 .1l.2 2.2l.1-1l.2-3.2l.2-1.1l.2-.1l.2 1.3l.2 .1l.2-1.1l.2 1.3l.2-2.3l.2 1.6l.1-1.9l.2 2l.2 3l.2-4l.2 .6l.2 2.2l.2 1.5l.2-.8l.2 .3l.2-.3l.1-1.1l.2-.1l.2-.4l.2-1.7l.2 .3l.2 1.4l.2-1.2l.2 .4l.2 2l.1-3.2l.2-1.6l.2 0l.2 .3l.2 2.1l.2-.5l.2-1.4l.1 1.8l.2-.1l.2 0l.2 .3l.2 0l.2 1.6l.2 .9l.1 1.1l.2-1.7l.2-1.3l.2 .1l.2-1.4l.2-.4l.2 .7l.1 .3l.2 1.1l.2-.9l.2 2.6l.2-.3l.2 2.3l.2-.9l.2-1.1l.1 2.2l.2 1.6l.2 .2l.2 1.3l.2-.3l.2 2.7l.2 2.7l.2 .6l.1 .5l.2-4.4l.2 3.5l.2-.4l.2 0l.2 2.1l.2 1.3l.2-.3l.1 1.5l.2-.3l.2 .9l.2 .9l.2 1.9l.2 .1l.2 1l.1 .1l.2-.6l.2 .4l.2-.8l.2-1.7l.2 .1l.2 2.6l.1 .9l.2 2.2l.2 1.3l.2 .4l.2-.6l.2 1.3l.2 .2l.1-2.1l.2 .7l.2 1.5l.2-.3l.2-1.2l.2-.4l.2 .3l.2 .6l.1 1.3l.2-.7l.2 .3l.2 0l.2 1l.2-1.2l.2-1l.2 1.4l.1 2.7l.2 .4l.2-.9l.2-.9l.2 1.9l.2-.7l.2-.8l.2-.1l.1-1.2l.2 1.5l.2 .3l.2-2.6l.2 .6l.2 2.4l.2-.1l.2-1.1l.2-1.1l.1 .9l.2-.6l.2 .2l.2 .9l.2-1l.2-1.2l.2-.8l.2-1.9l.1 .3l.2 .2l.2 2.3l.2 .8l.2-.1l.2-2.5l.2-1.3l.2-.7l.1 .3l.2 2.4l.2 .6l.2-1.3l.2-1.6l.2 2l.2-1.1l.2 .1l.2-.1l.1-1.2l.2 .4l.2-1.4l.2 .3l.2-.4l.2-.5l.2-.5l.2-.7l.1 1.6l.2 2.2l.2-.5l.2-.6l.2 1.7l.2-.2l.2 1l.1-.8l.2-1.7l.2 .3l.2 3.3l.2 .3l.2-2l.2-.1l.1 1.8l.2 .6l.2-.4l.2-.4l.2-2l.2 3.7l.2 0l.1 0l.2 0l.2-2.7l.2 1.4l.2 .3l.2-.2l.2 1l.2 1.5l.1 .4l.2 2.3l.2 .8l.2 0l.2 1.1l.2 .4l.2-.7l.2-.5l.1 .3l.2 2.7l.2-1.6l.2 .5l.2 .8l.2 .4l.2 .9l.2-.4l.1-1.7l.2-.1l.2 .6l.2 1.2l.2-.4l.2-3.8l.2 .8l.2-3.5l.2-.7l.1 .2l.2 .2l.2 .4l.2-2.1l.2 .6l.2-2.5l.2 2.5l.2-.6l.1-.4l.2-.3l.2-1.7l.2 2.1l.2-.7l.2 1.1l.2 1.1l.2 3.2l.1 2.3l.2-.8l.2 1.8l.2 2.4l.2-1.2l.2-.5l.2 3.2l.2 .1l.2-.1l.1 1.8l.2 1.6l.2 1.8l.2 .5l.2 1l.2 .6l.2 .3l.2 0l.1 .7l.2-2.2l.2 .4l.2-.1l.2-.5l.2 0l.2-1l.2-.8l.2-1l.1-.2l.2 1.3l.2 2.5l.2-1.7l.2 .9l.2-1l.2 .5l.2-1.9l.2-.8l.1 1.1l.2-.6l.2 2l.2-1.3l.2-1.9l.2 1.5l.2-1.7l.2-.8l.2 1.4l.1-1.3l.2 .9l.2 .4l.2-.5l.2 .7l.2 .4l.2-1.1l.1 1.8l.2-1.2l.2 1.5l.2-.4l.2 2.2l.2-2l.2 1.3l.1-.6l.2 1l.2-.2l.2 2.8l.2 1.1l.2-.6l.2-.4l.1-.8l.2 .4l.2 1.2l.2 .9l.2 1.2l.2 .3l.2-.5l.1 1.1l.2 1.1l.2 1.4l.2 .6l.2 1.1l.2-1.7l.2 3l.1 .6l.2-.6l.2 .2l.2 2l.2-1.4l.2-.3l.2 1.3l.1-.6l.2 1.4l.2 .3l.2 .9l.2 .6l.2-.1l.2-.4l.2-.4l.2-2l.1 1.4l.2 .8l.2-1.3l.2-1.7l.2-.6l.2-1.3l.2 .7l.2-.6l.2-1.4l.2 2l.1-1.7l.2-.4l.2-2.1l.2 1.2l.2-.8l.2-1.1l.2 1.4l.2-1.5l.2 .9l.1-1.1l.2-.6l.2-1.5l.2 1l.2-1.5l.2-.1l.2 1.2l.2 2.6l.2-.2l.1-.8l.2-3.1l.2 .8l.2 2.9l.2 0l.2-1.6l.2-1.1l.2 .7l.1-1.6l.2 1.1l.2-.1l.2-1.1l.2 .5l.2-1.5l.2 .1l.2 1.4l.1-.9l.2-.9l.2 .7l.2-2.5l.2-1.6l.2 .7l.2-.6l.2-.3l.2 1.2l.1-.9l.2-2.2l.2-.5l.2-.8l.2 0l.2-.8l.2 .4l.2 1.5l.1 .7l.2-2.1l.2 .2l.2 1.2l.2-.2l.2 .6l.2 2.3l.1 .2l.2-.1l.2 .4l.2 .1l.2 .1l.2-1l.2-1.6l.1 1.8l.2 .6l.2-.6l.2 1.4l.2-1l.2-1.4l.2 0l.1-.3l.2 1.1l.2 .4l.2-.2l.2-.8l.2-.5l.2 1.1l.1-1.1l.2 1.5l.2-2.4l.2-.9l.2 .6l.2-2.2l.2-.9l.2 1l.1 2.9l.2-2.7l.2-.7l.2-2.4l.2-.4l.2 .9l.2-.1l.2 .4l.1-1.1l.2 2.8l.2-4.4l.2 .5l.2 1.1l.2-.4l.2 .2l.2-1.1l.1-.6l.2 .7l.2-.9l.2 .8l.2 .3l.2 .6l.2 1.5l.2-1l.2-1.5l.1-1.3l.2 .1l.2 3l.2 1.1l.2-.6l.2 1.3l.2-1.1l.2-.5l.1 .9l.2 .9l.2 0l.2-.4l.2 1.2l.2-2.2l.2 1.5l.2 1l.2-.4l.1 .8l.2-.4l.2 1l.2-.9l.2-1.2l.2 1l.2-.3l.2-.1l.2-1l.2 1.7l.1 1.6l.2-1.1l.2-.9l.2 .6l.2-.6l.2 .6l.2 .1l.2 1.8l.2-.2l.2 .8l.1-3.2l.2 .6l.2 .6l.2 .7l.2 .6l.2 1.2l.2-2.7l.2-1.1l.2 2.3l.2 1.7l.1-4.4l.2 2.5l.2-.5l.2-1.1l.2-.2l.2 1.8l.2 .8l.2 0l.2-.6l.2 .7l.1 .5l.2-1.7l.2 .1l.2 1.5l.2-2l.2-.5l.2-1l.2 1.1l.2-.1l.2-.6l.1 2.3l.2 1.3l.2-.2l.2-1.9l.2-.3l.2 1l.2 .1l.2-1.6l.2 1.5l.1 .6l.2 .2l.2-1.4l.2-3l.2-.3l.2 1.1l.2-1.1l.2 .4l.2 .6l.2 .9l.1-1.1l.2-.1l.2 1l.2-.5l.2-.4l.2 1.1l.2-1.7l.2 .7l.2 .7l.2 2.5l.1 .2l.2-2.3l.2 2.6l.2-.5l.2 .7l.2-1.1l.2 .9l.2-.5l.2 1l.2-1.1l.1-1.8l.2 2.9l.2-1.6l.2 .9l.2 .3l.2-.5l.2-1l.2-2.2l.2 .2l.2 .1l.1 2.2l.2 0l.2-.2l.2-1.1l.2 1.2l.2 .3l.2 1.3l.2 .5l.2-.2l.2-.2l.1-.4l.2-1.5l.2 2.9l.2 1.7l.2 .3l.2 .3l.2-1.7l.2-2.4l.2 2.5l.2 1.7l.1 1.2l.2-.3l.2 .2l.2-2.9l.2-.7l.2 1.8l.2 1l.2-.7l.2 2.7l.2-1.7l.1-.3l.2-.3l.2 1.9l.2 .2l.2 .3l.2 .4l.2 .7l.2-.3l.2 0l.2 .9l.1 .2l.2-.3l.2-1.1l.2 .1l.2-.1l.2 1.6l.2-1.8l.2 .3l.1 .9l.2 1.3l.2 .1l.2-1.8l.2 0l.2-.2l.2-1.4l.2-1l.2 0l.1 1.1l.2 0l.2 2.2l.2-1.6l.2-1.3l.2 1.8l.2-.4l.2-.3l.1-.7l.2 1.1l.2-.4l.2 0l.2 1.4l.2 .5l.2 0l.2-1.3l.1-.2l.2-.8l.2 .4l.2-.4l.2 1.3l.2-.1l.2 .9l.2-.3l.2 1.2l.1 1l.2 .9l.2 .5l.2-2.1l.2 4.3l.2-1.2l.2 1.9l.2-.3l.1 1l.2-1.6l.2 2.2l.2 2.5l.2-.7l.2 1l.2-.1l.2-.2l.2 1l.1-.1l.2 0l.2-.2l.2 .7l.2 .6l.2 1.4l.2-1.9l.2-.1l.1-.3l.2 1.3l.2-.8l.2-.6l.2-.5l.2 1.7l.2 1.2l.2 .4l.1-.1l.2-.2l.2-2.3l.2 1.2l.2-.2l.2-.1l.2 1.4l.2 0l.2-.2l.1-.2l.2-.2l.2-.8l.2-.7l.2-2.2l.2-.4l.2-.1l.2-.1l.1 .5l.2 .4l.2 .8l.2-1l.2 0l.2 .5l.2-.1l.2-.1l.1 1.4l.2-1.4l.2 .5l.2 1l.2 .2l.2-.5l.2-1.7l.1 .5l.2 1l.2 .2l.2-.3l.2-.2l.2-.3l.2 2.1l.1-1.2l.2-.7l.2 2.1l.2-.2l.2 .5l.2-1.4l.2-.7l.1-.2l.2 .2l.2 1.4l.2-.5l.2-.4l.2 .2l.2-.8l.1 .7l.2-.2l.2 .6l.2-.6l.2-1.7l.2-.1l.2 .5l.1 .2l.2 .6l.2-2.3l.2-.3l.2 1.1l.2-.4l.2-.8l.1-.1l.2 0l.2 .1l.2-.5l.2-1l.2 0l.2-.8l.1 1.5l.2-.3l.2 0l.2-.2l.2-.3l.2 1.3l.2-.9l.1-1.1l.2 2l.2-.8l.2-.7l.2-1.2l.2-1.4l.2-.5l.1 2.1l.2 .7l.2-.5l.2-2.4l.2-.3l.2 .2l.2-.7l.1 .1l.2 .8l.2 .8l.2-.7l.2-1.2l.2 1.4l.2 0l.1-.8l.2 .1l.2 0l.2 .4l.2 .9l.2 .1l.2-.4l.2-1l.1-2.2l.2 2.1l.2-.8l.2-1.6l.2 1.6l.2 2.4l.2-2.5l.2-1l.2 .8l.1-.5l.2-.7l.2 .1l.2 .9l.2 .3l.2-.2l.2-.8l.2 .8l.1 2.1l.2 .3l.2-1.6l.2 .1l.2-2.2l.2 1.9l.2 1.2l.2-2.1l.1 1.8l.2-.5l.2 1.6l.2-1.1l.2-.3l.2 .5l.2-.1l.2 .6l.2 1l.1-.6l.2 .2l.2 .7l.2 .8l.2 .5l.2-.6l.2 1.2l.1-1.2l.2 0l.2-1l.2 .5l.2 .4l.2 1.2l.2 .2l.1-.3l.2 2.5l.2-1.3l.2-1l.2 0l.2 1.3l.2-.9l.1 1.3l.2 .1l.2 .5l.2-1.6l.2 .8l.2-.1l.2 1.1l.1-.9l.2 0l.2 1.1l.2 1l.2-.3l.2-.3l.2-1l.1 .5l.2 1.4l.2 .5l.2 .9l.2-1.9l.2-.5l.2 .1l.1 .2l.2 .6l.2 0l.2-1.4l.2-.5l.2 .5l.2 .3l.1 1.6l.2 .3l.2-.3l.2-.2l.2 .5l.2-.2l.2-.3l.1 .2l.2 .3l.2 .2l.2 .7l.2 .1l.2 .8l.2-.3l.1 .4l.2 .7l.2-.2l.2 0l.2 .4l.2-1.8l.2 .5l.1 .9l.2 .3l.2 .7l.2 .3l.2-1.7l.2 1.2l.2 1.7l.1-.1l.2 1.2l.2 0l.2-.8l.2 0l.2 .1l.2-.7l.1 .6l.2 1.3l.2-1.2l.2 .1l.2 .4l.2-.6l.2-1.1l.1-.5l.2-.8l.2-.2l.2 0l.2 2.6l.2 0l.2-.3l.1-.2l.2-1.1l.2 1.5l.2-1.6l.2-.8l.2-.3l.2 .1l.1 1.8l.2 .8l.2-.5l.2-.8l.2 .2l.2-.4l.2 .3l.2 .5l.1-1.6l.2 2l.2-.7l.2 .9l.2-.1l.2-.8l.2 0l.2-.4l.2 .8l.1 .1l.2-1.9l.2-1.8l.2-.6l.2 1.9l.2-1.8l.2 0l.2 3.6l.2-.9l.1 .5l.2-1.8l.2 1l.2-.2l.2 .4l.2-1.6l.2-.4l.2 .9l.2-.7l.1 .7l.2 .6l.2-.4l.2 .4l.2-1.6l.2-1.2l.2 1.5l.1 1.1l.2 0l.2-.4l.2-.1l.2 2l.2-1.1l.2-.3l.1-.6l.2 .3l.2 1.1l.2-.3l.2 .7l.2-.2l.2-1.2l.1-.5l.2 .8l.2 0l.2-.1l.2 .1l.2 0l.2 .3l.1 .5l.2-1.3l.2-.6l.2-1.1l.2-.2l.2 1.2l.2-.3l.1 1.2l.2-1.3l.2 .9l.2 1.5l.2-1.2l.2 .3l.2-.6l.1 0l.2 .3l.2 0l.2-.8l.2 1l.2-.9l.2-1.2l.1 1l.2-1.2l.2-.6l.2-.1l.2 .5l.2 .3l.2-1l.1 .6l.2 2.1l.2-.3l.2-.9l.2-.6l.2 .9l.2 1.4l.1-.7l.2 .7l.2 1.1l.2 0l.2 .5l.2 .8l.2-1.6l.1 .5l.2 .3l.2 .3l.2-.2l.2 1.6l.2-.9l.2-.7l.1 .4l.2 2l.2 0l.2 .1l.2-.5l.2 .3l.2-.2l.1 .1l.2 .7l.2-.5l.2-.9l.2-.1l.2 1l.2 .4l.1-.3l.2-.7l.2 1.3l.2 2l.2-1.3l.2-.4l.2 1.4l.1-.9l.2-.6l.2 .4l.2 .8l.2-1.2l.2-.1l.2 1.7l.1-.9l.2 .3l.2-.5l.2 .7l.2-1.5l.2 .8l.2 0l.1 .8l.2-.5l.2 .8l.2 .7l.2 .1l.2-1.7l.2-1.2l.1 1.5l.2-.4l.2-.7l.2 .6l.2-.4l.2 .5l.2-1l.1 .3l.2 1.1l.2-2l.2 1.7l.2 .2l.2 .1l.2-.9l.1 .4l.2 0l.2 1.3l.2 .5l.2 .1l.2-.8l.2 1.7l.2-.9l.1-2.1l.2 .2l.2 2.5l.2 1.7l.2-.5l.2 .8l.2-.5l.2-.4l.1-.1l.2-.9l.2 .2l.2 .4l.2 2.2l.2-.7l.2 0l.2 0l.2 2l.1 .7l.2 0l.2 1.5l.2-1.4l.2 .2l.2 .4l.2 .7l.2 .8l.1 1.5l.2-.3l.2-.2l.2 .5l.2 .7l.2 .1l.2 .9l.2 .5l.1 1.4l.2 .2l.2-.1l.2 1.2l.2-1.3l.2-.9l.2 1.9l.1 .3l.2-.4l.2 .4l.2-.9l.2 .7l.2-.7l.2-.6l.2 .4l.1 1.5l.2-1.8l.2 .5l.2-.2l.2 0l.2-.8l.2 .1l.1 .2l.2 .6l.2 .6l.2 .8l.2-.7l.2 .3l.2-.5l.1 .9l.2-.7l.2-.7l.2-.6l.2-.2l.2-.1l.2 2.3l.1-.1l.2-.3l.2 .1l.2-1.1l.2 .8l.2 1.2l.2-1.1l.1 .5l.2 .4l.2-.1l.2-1.3l.2-1.2l.2 .9l.2-.2l.1-.2l.2-.4l.2 .9l.2-.1l.2-.4l.2-.7l.2 0l.1 1.3l.2-.2l.2 .2l.2 .8l.2-.8l.2 .9l.2 0l.1-1.1l.2 0l.2-.3l.2 1.6l.2-1l.2 1.6l.2-.1l.1 .8l.2-1.4l.2 1.9l.2-.7l.2 1.2l.2-.2l.2 .5l.1 .3l.2-1l.2 .4l.2 0l.2 .9l.2 .2l.2 .2l.1-.1l.2-.7l.2 .1l.2 1.3l.2 .5l.2 1.1l.2 .2l.1 .3l.2-.1l.2-.4l.2-.1l.2-1.6l.2 .4l.2 .7l.1 2l.2-.3l.2-.2l.2-1.1l.2 1.9l.2-1.3l.2 .9l.1 .8l.2-.6l.2 .9l.2-.4l.2 .4l.2 1.3l.2-.6l.1-.7l.2-.2l.2 .9l.2 .3l.2-1.2l.2-.2l.2 1.3l.1 .5l.2 .1l.2-.4l.2 1.1l.2-2l.2 .6l.2-.2l.1 1.3l.2-.6l.2 .2l.2 1l.2 .1l.2 .1l.2-.3l.1 .4l.2-.1l.2 0l.2-.3l.2 .5l.2-.1l.2 .5l.1 .4l.2-.5l.2 .2l.2 0l.2-1.1l.2 .3l.2-.1l.1 2.3l.2-.4l.2-.6l.2-.5l.2 1.1l.2 .6l.2-.6l.1-1.6l.2 .6l.2-.2l.2 1.2l.2 .5l.2-.9l.2-.1l.1 .1l.2 .4l.2 .3l.2 0l.2 .3l.2-.1l.2-.1l.2-1l.1 .4l.2 .3l.2 1.1l.2-.3l.2 .3l.2 .2l.2 1.2l.2-1.2l.1 .6l.2 .8l.2-.1l.2 .4l.2-.1l.2 .5l.2-.3l.2-.1l.2 1.5l.1-.2l.2-.6l.2-.4l.2-.1l.2 .7l.2-1l.2 .9l.2 1.3l.1-.4l.2 .2l.2-.3l.2 .7l.2-.2l.2 .3l.2-.1l.2 .2l.2-.1l.1 .2l.2 .4l.2 0l.2-.4l.2 1.1l.2 .1l.2 .3l.2-.2l.2 .3l.2-1.8l.2 1.1l.2 1l.1 .2l.2 .8l.2-1.1l.2 1.2l.2 .1l.2-1.6l.2-.4l.2 .2l.2 1.1l.2-.2l.2 .4"/>
<path stroke="#184480" d="M120.5 826.3l.2 18.7l.2 15.2l.2 16.7l.2 22.5l.2 18.2l.3 13.8l.1-3.3l.2-6.2l.2-7.8l.2-4l.1-7l.2-3.7l.2-2.6l.2-2.9l.2 .1l.2-.2l.2-5.1l.1-3.9l.2-5.1l.2-4l.2 .5l.2-6l.2 2.2l.1-7.6l.2-1.9l.2-3.1l.2 .6l.2-1.1l.1-7.7l.2-1.2l.2-5.7l.2 2l.2-7.3l.2-1.1l.2-3.7l.2-4.6l.2-4.1l.1-7.3l.2-6.3l.2-1.9l.2-2l.2-4.6l.2-3.8l.2-5.7l.2-1.6l.1 5.9l.2-2.9l.2-5l.2-7l.2 0l.2-3.6l.2 .1l.2 6.6l.1-2.2l.2-3.8l.2-1.2l.2 7.4l.2-4.8l.2 1l.2-2.8l.2 4.6l.2 2.3l.2 1.1l.2-9.1l.1-5.9l.2 .1l.2 2.8l.2-2.1l.2 3.4l.2 7.3l.2 4.7l.2-6l.2 .1l.2 6.5l.2 2l.2-1.4l.2 3.8l.1-6.1l.2 2.6l.2 .6l.2-.1l.2 4.7l.2-.2l.2 .9l.2 6.5l.1 5.3l.2 3.9l.2 9.3l.2 5.2l.2 9.7l.1 .1l.2 4.2l.2-2.1l.2 0l.2 7l.2 6.6l.1-6.7l.2 1.9l.2 10.1l.2-1.1l.2 6.4l.2 3.2l.2 4.2l.1 1.3l.2 2.1l.2 1.2l.2-2.3l.2 3.1l.2 3.4l.2 1.5l.2-2.2l.1-7.8l.2-5.1l.2 1.6l.2-6.8l.2-1.9l.2 1.4l.2-4.2l.2-1.8l.2-2.6l.2 2l.1-1.2l.2-4.4l.2 4.9l.2-1.6l.2-.2l.2 .2l.2 4.4l.1-7.3l.2-3.9l.2-.8l.2 1.7l.2-1.5l.2 1.5l.2-.6l.1 3.8l.2 .2l.2 .8l.2 6.2l.2 3.5l.2 5.6l.2 3.5l.1 1.4l.2 2.7l.2-5.8l.2 3l.2 7.2l.2-1.9l.2 5.7l.2 .9l.1 6.9l.2 1.8l.2 1.2l.2 1l.2-2.5l.2 4.5l.2-3.7l.2 5.4l.2-3.4l.2 3.3l.2-5.2l.1 2.9l.2-3.7l.2-1.9l.2-4.6l.2-2.3l.2-1.1l.2 .5l.2-5.5l.2 2.4l.2-.7l.2 .2l.2-1.3l.2 2.3l.2-.7l.1-3.9l.2 1.5l.2-3.3l.2 1.8l.2-6.5l.2 1.9l.2-4.2l.2 1.2l.2 2.3l.2-3.2l.2-2.8l.2-1.1l.1-.8l.2-.6l.2 7.2l.2-4.3l.2 1.3l.2-1l.2-2.5l.2 3.2l.2-5.3l.2-4.3l.2-1.9l.1 1.1l.2-6.9l.2-.1l.2-4.6l.2-3.3l.2 6.9l.2-4.8l.2 2.3l.2-3.6l.2-6.1l.2 4l.2 1.9l.2 .4l.1-2.5l.2-1.2l.2-.7l.2 3.8l.2 3l.2-2.5l.2 2.8l.2-1.7l.2-2l.1 .3l.2 .1l.2-7.9l.2-1l.2 5.4l.2-2.1l.2-13.5l.1-4.9l.2 3.1l.2-3.8l.2-3l.2-.7l.2 6.7l.2-8.4l.1-2.4l.2-.8l.2-2.4l.2 1.8l.2-2.5l.2-1.9l.2-3.7l.2-.4l.1-6.9l.2-3l.2 5.8l.2-.5l.2-5.9l.2 .6l.2-9.8l.2 3.4l.2-3l.1-3.9l.2 4.4l.2-8.3l.2 .6l.2 .3l.2-3.7l.2 9.9l.2 6l.2-4.3l.2 6.5l.1 6.3l.2 3.1l.2 2l.2 9.3l.2 4.1l.2 2.1l.2 .9l.2 5.5l.2 5.9l.2-3l.2 .1l.1 3.4l.2-3.5l.2-5.5l.2 0l.2-1l.1 2.2l.2-1.4l.2-2.2l.2-3.5l.2-7.2l.2-1.8l.1-2.8l.2-2l.2 2.9l.2-3.9l.2 1l.2 5.7l.2 .6l.1-1.8l.2 4.4l.2-14.1l.2 3.3l.2-2.7l.2 8.1l.2-2.1l.1-1.9l.2 3.3l.2-2.8l.2-.5l.2-1.6l.2 3.4l.2-3.1l.1-.3l.2 1.4l.2 1.7l.2-3.4l.2-1.6l.2-13.7l.1 8.6l.2-9.1l.2-3.8l.2 1.2l.2 .8l.1-1.3l.2 6.7l.2-8.6l.2 1.4l.2-1.3l.2-3.5l.2 .7l.2-4.1l.1-4.5l.2-4.8l.2-12.5l.2-14.3l.2-1.4l.2-2l.2-6.7l.2-4.8l.2 .5l.2-1.8l.1 2l.2 2.1l.2-1.6l.2-.8l.2-3.8l.2 9.6l.2 1.3l.2-2.9l.2-5.2l.2 5.5l.1-6.5l.2-5.7l.2 8.2l.2-5.5l.2 15.2l.2-3.2l.2 4.4l.2-9.9l.2-3.1l.2 .8l.2 4.9l.2-.5l.2 3.2l.1 4.2l.2-2.9l.2 11.5l.2-4.2l.2-1.7l.2 11.1l.2 .1l.1-4.6l.2 6.1l.2 3.9l.2-.7l.2 5.5l.2-1l.2 5.5l.1 2l.2-5.7l.2 9.3l.2-2.1l.2-7.7l.2 .5l.2 11.2l.1-9.7l.2 8.4l.2-.8l.2 1.3l.2 5.2l.2-2.7l.2 6.6l.1-3.5l.2-2.9l.2 .3l.2-2.6l.2-6.6l.2-3.3l.2 5.8l.1-4.8l.2-4.9l.2 2.5l.2-.7l.2 9.6l.2-1.7l.2-6l.1 1.6l.2-6l.2-3.4l.2 3.9l.2 3.4l.2-2.3l.2-3.6l.2-5.3l.1 2.1l.2-.6l.2 4.7l.2-4.8l.2 2.7l.2-8.4l.2-3l.2 10l.1-5.5l.2 3.4l.2-7.8l.2 3.6l.2-6.5l.2 .8l.2-6.8l.2 .8l.2 1.9l.1-5.4l.2 10.2l.2-1.5l.2 .3l.2-1.6l.2 4.4l.2-2.2l.2-6.7l.2-3.1l.2 1l.2-4.3l.1 .6l.2 .4l.2-9.3l.2 13.8l.2-4.5l.2-.2l.2-1l.2-2.6l.2-3.2l.2-7.6l.2-4.4l.1 .6l.2-2.5l.2-5.1l.2-9.3l.2-8.1l.1 .2l.2-.6l.2-1.6l.2 5.1l.2-2.1l.2-9.4l.2 8.2l.2 5.5l.1 4.4l.2-4.9l.2-6l.2 3.3l.2 .9l.2-8.6l.2 2.5l.2-2.5l.1 4.4l.2-6.1l.2-.4l.2 4.1l.2 1.1l.2-10.4l.2 4.3l.2 1.5l.2-.3l.2-12.4l.2-4.5l.1-3.4l.2 5.2l.2-9.2l.2-2.1l.2-3.2l.2-8.1l.2-9.3l.2 .2l.2 .7l.2-8.5l.1-2.4l.2 2l.2-6.6l.2-2.3l.2-4.9l.2 2.5l.2 1.4l.2 12.1l.2-1l.1 3.8l.2 15.1l.2-1.1l.2 10.2l.2 14.9l.2 4.1l.2 11.6l.2-4.1l.2 11.3l.2 .9l.2 .1l.2-1.6l.1-8.5l.2-1.3l.2 9.6l.2-4.2l.2 3.2l.2-10.7l.2 4.1l.1-4.8l.2-3.1l.2 4.6l.2-8.8l.2-13.3l.2 7.2l.2 .1l.1-5.3l.2-2.5l.2 0l.2-2.8l.2-3.5l.2-7.2l.2 7.4l.2-16.1l.2-1.8l.2 13.9l.2 1.8l.2-7.2l.2 1l.1-2.1l.2-6.1l.2 3.5l.2 .6l.2-5.2l.2 .3l.2-5.7l.2-8.4l.2-5.3l.2 3.9l.1-6.8l.2 6.8l.2 .4l.2-4.8l.2 4.1l.2 .1l.2 8.8l.1 6.5l.2-.6l.2-1.2l.2 1.2l.2-.3l.2 3.3l.1 5.3l.2 6.7l.2 1.2l.2 .7l.2 1.6l.2 1.3l.1 2.6l.2 .3l.2 7.4l.2 10.8l.2-1.9l.2 9.8l.2 7.1l.1 1.9l.2 6.6l.2 4l.2 5.9l.2-.4l.2 2.2l.2 1.1l.2 3.9l.2 4.3l.2 3.6l.2 1.5l.2 11.3l.1 7.1l.2-.3l.2 1l.2 8.3l.2 .1l.2 7.1l.2 2.9l.2 10.5l.2 15.3l.2 9.9l.2-2.6l.1 6.3l.2 7.6l.2 4.5l.2-11l.2-5.7l.2-9.2l.2-1.5l.2-.8l.2-1.2l.2-16.2l.2 1.3l.2-8.7l.1-10.2l.2-10.9l.2-.5l.2-13.2l.2 8.9l.2-3.4l.2 6.6l.2 7.9l.2-6.1l.2 7l.2 2.2l.2 5.7l.2 7.1l.2 1.5l.1 8.8l.2 7.2l.2-.9l.2-2.8l.2-1.9l.2-8.6l.2-5l.2-1.8l.2-7.2l.2-1.5l.2-2.2l.2 .2l.2-2.6l.2-3.4l.2-7.2l.1-.6l.2-2.1l.2 4.4l.2 5.8l.2 3l.2 7.1l.1 2.5l.2 4.4l.2 2.2l.2 10.5l.2-1.3l.2-2.2l.1 8.2l.2-6.3l.2 5.3l.2 6.1l.2 2.3l.2 .5l.1-7.3l.2 5l.2-3.9l.2-4.3l.2 .4l.2 2.6l.2 5.2l.1-.3l.2-2.1l.2-4.8l.2 12.1l.2-7l.2 3.6l.2-.9l.1-2.7l.2-.3l.2-3.1l.2 7.1l.2 0l.2 6.3l.2 2.4l.1 1.4l.2 7.8l.2-2.6l.2-7.6l.2 10l.2 7.4l.2-5.5l.1-.4l.2 15.1l.2 1.7l.2 3.5l.2-.3l.2 1.9l.2 1.7l.1-.2l.2-7l.2 1.2l.2-4.7l.2-5.7l.2-8.7l.1-.8l.2-1.1l.2 3.3l.2-5.2l.2-8.9l.1-1.9l.2-5.4l.2 2.3l.2-4.4l.2-.7l.2-.5l.2-.7l.2-9l.2-3.7l.1 .5l.2-.5l.2-6.8l.2 1.6l.2-8.1l.2-1.2l.2 1.8l.2-2.4l.2-3.6l.2 6.2l.2 1.8l.2 1.5l.1 1.1l.2 3.1l.2 2.1l.2-3l.2 7.4l.2 2.9l.2-11.4l.2 3.2l.1 1.9l.2-3l.2-.4l.2 1.7l.2 2.1l.2 2.8l.2 3.5l.2 4.4l.1 2.7l.2 2.8l.2-7.4l.2 .1l.2 2.9l.2-7.4l.2 3.1l.1-3.6l.2 3.1l.2 2.5l.2-10.2l.2-1.2l.2 7.3l.2-8.1l.1-6l.2 2.4l.2-4.5l.2-5.9l.2-2l.2 .3l.2-1.1l.2-2.4l.1 2.1l.2 2.4l.2 .2l.2-7.6l.2 4.6l.2-1.6l.2 5.8l.1-.5l.2 .4l.2 .2l.2-3.5l.2-5l.2 4l.2 7.9l.2 2.9l.1-.7l.2 3.9l.2-.9l.2-3l.2 1.2l.2-3.4l.2 8.3l.2-.5l.1-1.7l.2 4l.2-.2l.2-2l.2-1.6l.2-.3l.2-2l.2 4.5l.1 2.7l.2-6.5l.2 .7l.2 5.5l.2-1.9l.2-6.7l.2 5l.1 3.7l.2-.4l.2-2.6l.2-1.8l.2 .8l.2-.2l.2-1.2l.1 .3l.2-.4l.2-4.6l.2 .1l.2-1.2l.2 4.1l.2-.9l.1-3l.2-1.1l.2-2.9l.2 4l.2-3.6l.2 1.1l.2-1.5l.2 1.1l.1 1l.2 .4l.2-3.2l.2-6l.2 3.7l.2-.3l.2 .6l.2-.7l.1-5.3l.2 .1l.2 .5l.2-3.7l.2-.9l.2-1.7l.2-.9l.2 1l.2-3.7l.1 1.8l.2-2.1l.2-1.4l.2-4.6l.2 1.7l.2-3l.2 6.8l.2-3.5l.1-2.4l.2-1.4l.2 4.7l.2-6l.2 .5l.2-.5l.2-5.4l.2 .8l.2-.4l.1 6.3l.2-1.6l.2 .9l.2 .9l.2 5.2l.2-1l.2 2.1l.2-3.7l.1 5.4l.2 7.1l.2-4.9l.2 5.4l.2 .5l.2-2.1l.2-2.7l.2 2.8l.1 1.9l.2 3l.2 2.9l.2-1.6l.2-1.9l.2 1.1l.2-2.6l.2-4.7l.1-.4l.2 0l.2-3.5l.2 2.8l.2-1.4l.2-9.2l.2-1.1l.2-1.1l.1 1.8l.2 2.4l.2 1.9l.2-3.9l.2-7.1l.2 .5l.2-3.5l.2 1.3l.1-1.4l.2-2.2l.2-5.3l.2 1l.2 2.3l.2-4l.2-.5l.2-1l.1 2.1l.2-1.3l.2 4.1l.2-.4l.2 2.9l.2 3.4l.2-2.3l.1 0l.2 9.4l.2-4.5l.2-1.9l.2 1.9l.2 1.1l.2 1.5l.1 1.3l.2 3l.2-.8l.2 3.2l.2 1.2l.2 1.2l.2 3.9l.2 1.6l.1-2.9l.2 2l.2 1.1l.2 3.1l.2-5.5l.2 1.2l.2 3.2l.2 2.8l.1-1.8l.2 1.5l.2 3.4l.2 3.7l.2 4.8l.2-3.1l.2 .2l.2 4.3l.2-3.1l.1-2.4l.2 5.2l.2-4.3l.2 1.2l.2 .4l.2-.2l.2-.5l.2-2l.1-5.1l.2 1.1l.2-1.3l.2-1.9l.2-8.4l.2-.6l.2 3.3l.2-2.9l.1-3l.2 1.7l.2 .2l.2-1.7l.2 4.7l.2 0l.2 1l.2-1.7l.1-2l.2 4.7l.2 6.2l.2 .4l.2-1l.2 2.1l.2-1.5l.1 4.4l.2-3l.2-1.8l.2-2.9l.2 4.3l.2-1l.2 5.3l.1 2.9l.2 2l.2-.5l.2 3l.2 .9l.2-5.8l.2 2.9l.1 1.4l.2-2.6l.2-.9l.2-1.8l.2-5.9l.2-1.7l.1-4.6l.2 4.2l.2-4.5l.2 1.3l.2 .8l.1-7.4l.2-3.2l.2-3.9l.2-2.5l.2 3.2l.2-5.1l.2-6.6l.1-1.4l.2-4.2l.2-4l.2-2.7l.2 9.9l.2-4.3l.2-4l.2-3.1l.2-6.2l.2-.7l.1 4.5l.2-1.1l.2 .9l.2-3.3l.2-1.7l.2 1.9l.2-1.9l.1 9l.2 .4l.2 5.2l.2-8.6l.2 3.9l.2-1.8l.2 1.4l.1 .4l.2 .3l.2 1.4l.2 4.4l.2-2.4l.2-1.8l.2 5.6l.2 .5l.1-7.4l.2-1.6l.2 5.6l.2 2.2l.2-.3l.2-2.5l.2-6.2l.2-.2l.2-3.4l.2 5.4l.1-1.9l.2-2.3l.2-2.2l.2-2.3l.2 .5l.2-1.8l.2-1.4l.2 2.6l.2 1.6l.2 2l.2 2.1l.1-5.4l.2-.5l.2 2.4l.2 3.8l.2 2.3l.2-5.8l.2 3.4l.2 3.6l.2 2.8l.2-3.5l.2 7.7l.1-.5l.2-4l.2-2.2l.2 .1l.2 3.3l.2-1.3l.2-1.5l.2 5.3l.2 2.3l.2-.7l.2-.9l.1-.4l.2-.4l.2 1.5l.2-7.1l.2 2.1l.2-3.4l.2-.5l.1-5.5l.2 3.6l.2 .5l.2-4.8l.2-3.2l.2-.5l.2-3.8l.1-.1l.2-1.6l.2-2.8l.2-1.1l.2-6.4l.2-1.8l.2-2.6l.2-6.7l.2 .4l.2-.4l.2-4.7l.2-9.8l.1 1.4l.2-2.2l.2-3.7l.2-2.3l.2 .6l.2-6l.2 7.5l.2-5.1l.2-5l.1-3.9l.2 1.9l.2 0l.2 2l.2 4.4l.2-1.3l.2-.7l.1-1l.2-3.7l.2-1l.2 2l.2-1.1l.2 3.5l.2 1.5l.2 6.5l.2-1.5l.1 3l.2-1.4l.2 5.4l.2-5.9l.2 6.1l.2-2.9l.2 4l.2-3.2l.1 1l.2-1.9l.2-3.3l.2 7.6l.2 .6l.2 1l.2-.3l.1-4.6l.2 5.4l.2 4.7l.2 .9l.2-5.2l.2 4.1l.2 4.6l.1-1.4l.2-5.1l.2-2l.2 4.5l.2 8.7l.2 3.6l.1 3.7l.2 9.3l.2 7.6l.2 5.2l.2 9.1l.1-3.2l.2 2l.2 2.6l.2-8.2l.2-.9l.2-4l.1 5.9l.2-4.5l.2-2.9l.2-1.9l.2-1.4l.1-.6l.2-1.1l.2 1.7l.2-7.7l.2 1.6l.2 1.9l.2-1.5l.1 .2l.2 1.6l.2-8.8l.2 1.3l.2 8.1l.2-.3l.2-.6l.1-1.5l.2-3.5l.2-1.3l.2-4.9l.2 5l.2 1.9l.2-4.4l.1-2.7l.2 4.1l.2 2.9l.2-4.6l.2-.5l.2-1.8l.2 .1l.1 1.3l.2 1.5l.2 .8l.2 1.1l.2 1.4l.2-2.8l.2-3.2l.1-1.9l.2 3.5l.2-.1l.2-5.4l.2-3.1l.2 6.1l.2 4.9l.2-4.4l.2 4l.1-11.4l.2 1.9l.2-2.3l.2 7.3l.2-3.6l.2-2.1l.2 2.3l.2-3.8l.1-.2l.2 .3l.2 2.9l.2 .4l.2-1l.2 1l.1 1l.2 9l.2-1.2l.2 4.6l.2-3l.2 2.7l.1 3.4l.2-6.6l.2 2.8l.2 1.2l.2 2l.2 2.1l.1-.5l.2-2.7l.2 5.9l.2 .2l.2 .7l.2 8.5l.2-2.2l.1-1.1l.2 4.2l.2 3.6l.2 4.8l.2-3.5l.2 4.4l.2 .5l.1 4.2l.2-1.1l.2 1.9l.2-1.1l.2-6.5l.2 1.8l.2-.1l.2-2.2l.2-3.2l.2-.6l.2-5.9l.2-1.4l.1-6l.2-2.8l.2-1.2l.2-.3l.2-.1l.2 6l.2-7.1l.2 7.8l.1-5.8l.2 4.7l.2 4.9l.2 .7l.2 .5l.2-3.3l.2 .6l.1-9.4l.2 3.8l.2 5.3l.2-4.9l.2-2.1l.2 7l.2 3.7l.1-.6l.2 3.7l.2 .3l.2-6.7l.2-1.1l.2 .2l.2 2.8l.1 2l.2 1.4l.2-3.9l.2 4.5l.2 1.3l.2-3.3l.2 2.9l.1-3.2l.2-1.9l.2-4l.2 2.1l.2 0l.2 1.3l.2-.2l.1 .4l.2-.8l.2-2.7l.2-3.7l.2 1.2l.2 8.9l.2-4.2l.1 3.1l.2-.6l.2-4.8l.2 3.3l.2-1.3l.2-2.8l.2-1.6l.2 3.8l.1 5.1l.2-6.6l.2 8.6l.2 3.1l.2-3l.2 1.5l.2-.6l.2-1.2l.2 8.5l.2-.1l.2 3.8l.2 .4l.2 4l.2 5.4l.1 2.1l.2 5.6l.2-6.4l.2 3.2l.2 6l.2 9.9l.2 5l.2 2.7l.2-2.6l.2 6l.2 1l.2-1.3l.2-2.6l.2-3.1l.1-3.5l.2-9.8l.2-2.7l.2-6.4l.2-1.7l.2-2.4l.2-5.8l.2 1l.2-6.2l.2-.1l.2-1l.2 1.6l.1 .6l.2 3.7l.2-3.3l.2 1.4l.2 6.1l.2-3.7l.2 6.5l.2-1.2l.2-.6l.1 3.5l.2 .1l.2 4.6l.2 .1l.2 4.5l.2 2.1l.2 1.3l.2-.1l.1 1.7l.2-4l.2 1.2l.2-5.1l.2 .4l.2-.2l.2-.2l.2-4.6l.2 2.3l.1-3.8l.2 .7l.2 4.8l.2-3.6l.2-8.7l.2 4.5l.2-4.2l.2 3.7l.1-5.6l.2 2.8l.2-1l.2-2.7l.2-.4l.2 .5l.2-4.8l.2-.4l.1 3.8l.2-1.3l.2 .3l.2-.5l.2 2.1l.2 1.6l.2-1.1l.2 3.3l.2-1.6l.1-7.3l.2 4l.2 6.6l.2-2.5l.2-.1l.2 .5l.2-2.7l.2 2.8l.2-1.6l.1-2.3l.2 8.8l.2 1l.2 5.7l.2 1.4l.2-1.7l.2-2.1l.2 3.1l.2-4.4l.2 7.6l.2-.3l.2-.3l.2 1.5l.1-1.1l.2 2.9l.2-.2l.2-2.7l.2 1.5l.2-3.6l.2-2.6l.2-4.8l.1 .1l.2 3.5l.2 2.2l.2-3.5l.2 1.6l.2-7.5l.2 2.4l.2 1.7l.1 1.1l.2-2.2l.2 3.2l.2 .4l.2 4.2l.2 2.7l.2 1.2l.2 2.2l.2 4.1l.2-.3l.2 1.1l.2 1.5l.2 .1l.2 4.2l.1-.6l.2 2.7l.2 3.4l.2 3.9l.2 5.4l.2 3.5l.2 6.1l.2-6.3l.2 4l.2 3.4l.2 2.1l.2 5.1l.2 3.7l.2 4.2l.1 2.8l.2 3.9l.2-1.3l.2-1.5l.2 1.2l.2 3.4l.2 .3l.2 .1l.1 .6l.2 2.8l.2 .5l.2 8.9l.2-2.4l.2 .1l.2 5.7l.2 .9l.1-.1l.2-.2l.2 1.9l.2 3.7l.2-3l.2-1.2l.2-2.4l.1 .9l.2 .6l.2-4.8l.2-1.1l.2-1.9l.2-5l.1 6.3l.2-3.4l.2-5.3l.2-.8l.2-4.9l.2 2l.1-2.6l.2 0l.2-.8l.2 .7l.2-2.7l.2 .2l.2-.5l.1-5.3l.2-1.7l.2 2.3l.2-3.2l.2-4.2l.2-3.6l.2-.1l.1-4.1l.2 1.3l.2 .9l.2-.9l.2-2.9l.2 4.4l.2-2.6l.1 .6l.2 4.5l.2 2.5l.2-.3l.2-2.5l.2 8.7l.2-2.4l.2 1.7l.2 4.4l.1 0l.2 4.8l.2 4l.2 1.4l.2-5.9l.2 4.5l.2 2.5l.2 1.4l.1 .9l.2 .6l.2-3l.2-1.7l.2-2l.2 2.5l.2-5.9l.2-1.2l.1-3.3l.2 2l.2 .2l.2 2.3l.2-7.7l.2-1.3l.2 3.4l.2-2.5l.1-1.8l.2-2.1l.2-4.3l.2-3l.2-.2l.2 3.5l.2 .4l.2-.7l.1-1.6l.2-4.2l.2-.5l.2-2l.2-3l.2-.8l.2-2.4l.2 5.5l.2-2.1l.1 2.8l.2-1.1l.2 .4l.2 .3l.2 2.5l.2-1.6l.2 2.8l.2-1.9l.2 1.9l.2 2.6l.2-6.1l.2 .8l.1 3.1l.2-2.2l.2-1.5l.2-2.1l.2 1.9l.2 .4l.2 4l.2-3l.2 2.9l.2 3l.2 3.1l.2 1.4l.1 4.4l.2 4.3l.2 3.3l.2-1.2l.2 3.1l.2 4l.2 3.9l.2 7.1l.2 3.4l.2 2.1l.2-.4l.2 5.1l.1 2.7l.2 1.5l.2 .7l.2 2.2l.2 1.3l.2-3.1l.2 5.6l.2-3.7l.2 .4l.1 3.9l.2 4l.2 .8l.2-.7l.2 1.6l.2 .6l.2-.1l.2 1l.1 .6l.2-3.3l.2-2.6l.2-.5l.2 4.4l.2-2.5l.2-3.1l.2 1.2l.1-5.1l.2-1.9l.2 3.4l.2-6.4l.2-2.5l.2-.6l.2 .7l.2-5.1l.2 4.2l.1-2.4l.2-5.5l.2-3.2l.2 .9l.2-1.3l.2 2.9l.2 3.5l.2-4.3l.2 .5l.1 3.1l.2-.3l.2 1.9l.2 2.7l.2 .3l.2-1.4l.2 6.8l.2 2l.2 .4l.2 2.1l.1-.1l.2 3.7l.2 0l.2-1.9l.2 1.6l.2 .9l.2 .8l.2-3.4l.2 1.2l.1 .5l.2-3.3l.2-1.7l.2 3.2l.2 .4l.2-1.1l.2-2.4l.1-1.7l.2-3.6l.2-3.6l.2-.8l.2 2.8l.2 .7l.2 .2l.1-1l.2-3l.2-.8l.2 3.5l.2-1.2l.2-3.2l.2 4l.1-2.8l.2-4.4l.2 7l.2 .3l.2 1.5l.2-3.1l.2-1.5l.1-4l.2 1.3l.2 1.8l.2 .5l.2-3.2l.2 4.2l.2 0l.1 1l.2-.3l.2-3.9l.2 2.1l.2-2.4l.2 2.2l.2 1.1l.1-1.7l.2-1.7l.2 1.9l.2-1.2l.2 3.1l.2 1.1l.2 3.8l.1-3l.2 .2l.2 4.3l.2-1.4l.2-1.3l.2 .4l.2 2.4l.1-.2l.2 1.2l.2 2.8l.2 4.4l.2-.8l.2-.2l.2 2.5l.1 .6l.2 1l.2 2l.2-4.3l.2 3.8l.2-3l.2 2.5l.2 2.8l.2 .7l.1 4.3l.2-1.3l.2-1.1l.2 1.1l.2 .9l.2 2.5l.2-1l.2 2.1l.1 0l.2 .1l.2-4.6l.2-1.2l.2-.3l.2-4.3l.2 .7l.2 1.7l.2-3.4l.1-3.4l.2-3.7l.2 4.9l.2-1.4l.2-6.4l.2-2.3l.2-.2l.2 2.7l.1-3.5l.2-1.3l.2-1.4l.2-4l.2 .3l.2-2.1l.2-3.3l.2 .1l.1-3.7l.2-3.5l.2-1.5l.2 3.3l.2 1.9l.2-.5l.2-.8l.1-1.7l.2-4.3l.2-2.5l.2-3l.2-5.1l.2 2l.2 1.8l.1 .5l.2-.4l.2-5.1l.2-5.6l.2-.6l.2 .6l.2-1.6l.1-2.7l.2 .3l.2-.4l.2 1.3l.2 2.6l.2-2l.2-.7l.1 2.9l.2 4.3l.2 4.1l.2 1.3l.2-5.4l.2 1.3l.2 1l.1 0l.2 1.9l.2 .8l.2 3.3l.2-1.7l.2 2.7l.2-1.3l.1 3.9l.2 .2l.2 0l.2-3.7l.2 3l.2 .4l.2-4.6l.2-5l.2-.9l.2-.8l.1-.4l.2 5.6l.2 3.9l.2-1.1l.2-.4l.2 0l.2-2.6l.2-5l.2-1l.2 1.1l.1 1.4l.2 .8l.2-2.1l.2 3.4l.2-.6l.2 3.1l.2 1.1l.2-2.4l.1-3.3l.2 7.4l.2-1.5l.2-4l.2 1.7l.2 1.2l.2-.7l.2 2.1l.2 .4l.1 2.1l.2 4l.2-.9l.2 .8l.2-4.7l.2 2.4l.2-.3l.2-9.2l.2 .4l.2-6.1l.2 2.2l.1-4.8l.2 3.5l.2 .4l.2-4.3l.2-4.3l.2-2.5l.2-2.6l.2 1.6l.2-2.5l.2 2.2l.2 1.8l.1-3.7l.2 2l.2 3.4l.2-3.7l.2-4.3l.2-.5l.2 2.7l.2 2.9l.1 .2l.2-4.1l.2-5.8l.2 4.6l.2-.8l.2-2.5l.2 1.2l.2-.2l.1 2.2l.2-1.6l.2 1.8l.2 2.4l.2 4.6l.2-3.6l.2-1.4l.1-.3l.2 4.2l.2-3.2l.2 0l.2 3l.2 4.5l.2-2l.1-1.6l.2 5.1l.2-2l.2-1.2l.2-2l.2-3l.2-4.4l.2-1.5l.2 2.6l.1-5l.2-3.4l.2-.7l.2-7l.2 1.5l.2-4.6l.2-3.8l.2-.2l.2-1.1l.2 .1l.1-.6l.2-1.4l.2-1l.2-3l.2-2.4l.2-4.4l.2 4.1l.2-1l.2 7.3l.2 4.1l.2-3.2l.2-.8l.1 2.1l.2 4.4l.2 0l.2 4.8l.2 3.6l.2 1.2l.2 5.3l.2 .2l.2-.1l.2 2.7l.2-3.9l.1-5.4l.2-.8l.2 3.1l.2 .9l.2 2.6l.2-1.8l.2-2.7l.2 3.4l.2-5l.1 4.2l.2-.6l.2-2.5l.2-3.6l.2 .4l.2 2l.2-2.4l.2 .2l.1-1.9l.2-1.9l.2 3.3l.2-3.7l.2-3.4l.2 2.7l.2 .8l.1-4.8l.2 2.1l.2-4.4l.2-6l.2 4.2l.2-2.1l.2-1.8l.1-1.7l.2-.7l.2-.8l.2 2l.2-.9l.2-3.1l.2-3.9l.1-.3l.2-1.1l.2-.3l.2 1l.2 .5l.2-3.7l.2 3.6l.2-2.2l.1 3.1l.2-5.5l.2-5.1l.2-.8l.2-2.1l.2 .1l.2-1.4l.2 2.3l.2-6.7l.2-1l.2-1l.2 1.8l.1-2.1l.2-2.4l.2 1.2l.2 2.2l.2-4.6l.2 3l.2-2.2l.2-1.2l.2 .1l.2-.1l.1 .5l.2 3.4l.2-2.1l.2 5.9l.2-4l.2 1.7l.1 3.4l.2-3.2l.2 3.2l.2 4.1l.2 0l.2 1l.1 5.6l.2-.4l.2-1l.2-2.7l.2-1.7l.2 2.5l.1-1.2l.2-.9l.2-4.6l.2-2l.2 1.7l.2 1.2l.2 4.8l.1 1l.2-1.2l.2-12.2l.2 1.6l.2 3.3l.2-3.7l.2-4.6l.1 2.7l.2-.2l.2-4.3l.2 1.8l.2 1.7l.2 1.2l.2-3.3l.1 1.1l.2-1l.2-1l.2 .3l.2 2l.2-3.3l.2-.8l.2 .2l.1-.1l.2-7.2l.2-2.5l.2 .3l.2-.9l.2-.7l.2 .6l.2 3.1l.2-2.8l.1-6l.2-2.6l.2 1.1l.2 .7l.2 1.3l.2-1.3l.2 2.9l.2 2l.2 2.9l.1 .9l.2-2.2l.2 1.2l.2 4l.2-1.1l.2-3.6l.2 3.7l.2 8.3l.2-1.8l.2-5.7l.1 3.6l.2 0l.2 2.1l.2 1.4l.2 1.3l.2-2.1l.2 2.5l.2 5.7l.2-.1l.1-1.7l.2-2.9l.2-1.7l.2-.2l.2-1.6l.2 .3l.2 2.4l.1-3.9l.2 2.5l.2-2l.2-8.9l.2-4.8l.2 1.1l.2-1.8l.1-1.1l.2 .2l.2 2l.2-2.5l.2-3.2l.2 1.8l.2 1.2l.2-3.3l.1 2.8l.2-1.4l.2 2.3l.2-6.6l.2-.9l.2-4.7l.2-.6l.2 6.7l.1 1.6l.2 3.1l.2-.8l.2-4.1l.2 1.2l.2-.2l.2-1.9l.2-3.6l.2-2.1l.1 1.2l.2 1.4l.2 1.6l.2 3.6l.2-4.2l.2-1.7l.2 3.6l.1-5.2l.2-.7l.2-.1l.2 7l.2 .6l.2 3.1l.2-.9l.1-2.8l.2-4.9l.2-.6l.2 1.7l.2 7l.2 3.2l.2-1.1l.1-1.8l.2 .8l.2-.9l.2-1l.2 1.2l.2 1l.2 3.2l.1 4.6l.2-.9l.2 7.8l.2 3.3l.2-8.3l.2 .1l.2 5.8l.2 8.2l.1-7l.2 1.5l.2 6.2l.2 6.2l.2-2.4l.2 3.9l.2 1.1l.2 3.7l.2 .2l.1 3.7l.2 1.5l.2-2.7l.2 4.3l.2 4.4l.2-1.9l.2-.7l.2 6.1l.2 1.7l.2-3.1l.2 .8l.2 4.4l.2-.9l.1-1.3l.2 .4l.2 .2l.2 1.5l.2 4.1l.2-.8l.2-.5l.2 .9l.2-2.3l.2-2.4l.1-.1l.2-.7l.2 7.8l.2-1.3l.2 2.6l.2-.4l.2 2.4l.2 2l.2-6.3l.2-2.7l.1 2.6l.2 3.5l.2-2.5l.2 1.9l.2-.5l.2-1.1l.2 3.4l.2 .4l.2-2l.2 .8l.1 4.1l.2 3.3l.2 .1l.2-1.8l.2-.9l.2-1.5l.2-2.5l.2-6.9l.1-4.3l.2 0l.2-4.8l.2 0l.2-2.3l.2-.4l.2-5l.1-.6l.2-5.5l.2 2.3l.2-6.3l.2 3l.2 0l.2-5.5l.1-.6l.2-2.5l.2-2.4l.2-1.9l.2-1.8l.2-1l.1-5.2l.2 1.8l.2 1l.2 2.4l.2-7.3l.2-5.3l.1-2.3l.2 .7l.2-.4l.2-.5l.2 1.6l.2 .6l.2 0l.1-3.6l.2-3.3l.2 5l.2-7.7l.2 .6l.2 9.5l.2-4l.2-3.7l.2 2.4l.2-1.4l.1 5.1l.2-2.8l.2-.4l.2-2.7l.2-1.7l.2 .9l.2 5.4l.2-3.1l.2-1.3l.2 .6l.1-1.6l.2-3.4l.2-.9l.2-.5l.2-5.8l.2 4.3l.2 0l.2-6.4l.2-3.7l.2-1.5l.2-1.1l.2-1.2l.1 6.7l.2-4.5l.2-5.3l.2 3.7l.2-2.5l.2 4.3l.2 0l.2-5.7l.2-.8l.2 .6l.2-2.6l.2 1.5l.1 .1l.2 2.6l.2 5.1l.2-.5l.2 1.8l.2-4.1l.2 6.4l.2 .4l.1 1.3l.2-3.5l.2 5.6l.2-.5l.2-1.4l.2 2.6l.2 3.8l.2 3l.1-.2l.2 2.3l.2 1l.2 1.7l.2 1.7l.2 4.2l.2-2.6l.2 2l.2 3.8l.1 0l.2 6.7l.2 3.2l.2-1.3l.2 5.5l.2 4.7l.2 3.5l.2 2.1l.1 .7l.2 .3l.2-.7l.2 6.2l.2-1.3l.2 1.5l.2-1.8l.2-7.4l.2 2.3l.1-8.6l.2 .8l.2-1.1l.2-.6l.2-5.4l.2-9.2l.2 3.4l.2-4.4l.2 .5l.2-6.1l.1-.2l.2-2.5l.2 7l.2-4.5l.2 1.8l.2 .3l.2-2.9l.2 1.1l.2-1.6l.2 3.3l.1-3.5l.2 2.1l.2-8.5l.2-5.1l.2 2.1l.2 6l.2-6.5l.2 .9l.2-1.2l.2-.4l.1-.1l.2 2.6l.2 1.6l.2 .9l.2 2.4l.2-.7l.1-3.2l.2 3.1l.2 .9l.2 1.8l.2-.2l.1 3.3l.2 4.2l.2-3.6l.2 .4l.2 4.5l.2-.9l.2-.4l.1-2.2l.2-.9l.2 3l.2 2.8l.2-1.8l.2-2.8l.2 .1l.1 2l.2 1.6l.2-4l.2 4l.2-.8l.2-5.1l.2 3.2l.1-2.6l.2-2.5l.2 2.5l.2 5.2l.2 2.7l.2-3.9l.2 8.2l.1-1.7l.2 5.7l.2-2.1l.2 .3l.2-1l.2 7.4l.2 1.1l.1 4.3l.2-.9l.2-1.6l.2 4l.2-.9l.2 2.7l.2-5.9l.2-5l.1-.7l.2-6.8l.2 0l.2 1.8l.2-7.1l.2-.4l.2 .8l.2-8l.2-5.5l.2-6l.2 .2l.2-2.4l.1 5.4l.2-2.8l.2-5.2l.2 4.8l.2-4.9l.2-3.4l.2 1.8l.2-1.2l.2 1.1l.1 6.6l.2-.6l.2-5.6l.2 .5l.2-4.4l.2-4.5l.2 0l.2 2.3l.1 2l.2-1.5l.2-3l.2 .2l.2-2.1l.2-.7l.2-.6l.2 2l.2 5.1l.2 0l.1-3l.2-2.8l.2-3.4l.2 6l.2-1.2l.2 2.6l.2-.7l.2-3.5l.2 5.1l.2-4.5l.1-2.6l.2-2l.2-.8l.2 4.8l.2-.9l.2-5.1l.2 3.3l.2 4.1l.2-4.3l.2 1.6l.1 .8l.2 2.6l.2-2l.2-.9l.2-1.4l.2 2.2l.2 3.6l.2-1.9l.2 2.1l.1 4.8l.2-6.8l.2 1.1l.2 1.6l.2-.6l.2 1.9l.2 .7l.2-.1l.1 6.2l.2 .7l.2 5.5l.2 1l.2-.6l.2-1.7l.2-.9l.2 3.1l.2-1.2l.1-.3l.2 .7l.2 2.9l.2-6l.2 3.3l.2-5.2l.2-.8l.1-1.1l.2 5.8l.2-3.1l.2 5.5l.2-7.2l.2 5.2l.2 2l.1-3.2l.2-1.7l.2 .5l.2 1.4l.2-1.4l.2-2.3l.2-1.2l.1 2.1l.2-3.3l.2 1.3l.2-.1l.2 2.8l.2-.7l.2-2.3l.1 4l.2-3.2l.2-.9l.2 0l.2-4.9l.2-4.7l.2 4l.1 2.7l.2-7l.2-1.5l.2 .5l.2-2.2l.2 .4l.2-1.8l.1-.3l.2-2.7l.2 2.8l.2-5.2l.2 4.3l.2-10l.2-.8l.1-1.1l.2-.9l.2-.9l.2 4.9l.2-2.1l.2-1l.2-.6l.1-2.5l.2 .2l.2 1.2l.2-.8l.2-2.2l.2-1.3l.2 1.7l.1-3.6l.2 1.3l.2 3.2l.2 4.3l.2-1.1l.2 3l.2-3.7l.2 7.2l.2 1.1l.2-3.8l.2 1l.2-5.3l.1 3.3l.2 2l.2 5.8l.2 1.2l.2-11.7l.2 5.5l.2 4.8l.2-2.8l.2-3l.2 1.7l.2 3.9l.1-1.6l.2 5.6l.2-1.7l.2-4.3l.2 6.2l.2-5.4l.2 4.8l.1 0l.2 1.8l.2 6.9l.2-2.2l.2-4.3l.2 8l.2-1.2l.1 4.1l.2-2.6l.2-2.6l.2 1.5l.2 4.2l.2-5.1l.2 .3l.1 6.7l.2 1.6l.2 .9l.2-1.4l.2-1.9l.2 2.3l.2 1l.2-.5l.1-4.3l.2-1.3l.2 3.2l.2-10.4l.2-2.8l.2-.5l.2 4.6l.2 1.1l.1-2.1l.2 3.5l.2-4.7l.2-2.3l.2-4.4l.2 1.5l.2-4.1l.2 1.8l.2-3l.1-1.6l.2 4.8l.2 .1l.2 2.6l.2-5.8l.2 .4l.2-.2l.2 .9l.1 3.6l.2 4l.2-3.7l.2 1.1l.2 2.6l.2 6l.2 2.3l.2 2.6l.1-4.1l.2 6.8l.2 1.3l.2-2.9l.2 3.5l.2 .8l.2-1.7l.2-6.4l.2 .3l.1-2.7l.2 .9l.2 3.6l.2-2.4l.2-2.4l.2-1l.2-.1l.2 2.5l.1 4.6l.2-7.9l.2 1.4l.2-7.5l.2 .2l.2 .1l.2 1.8l.2 0l.2-2.4l.1-2.7l.2 1.2l.2 .3l.2 .1l.2-3l.2 4.9l.2-4.2l.2 6.9l.1-6.5l.2-4l.2 6l.2 2.5l.2-6.1l.2-.1l.2-4.6l.2-1.8l.1 .2l.2-1l.2 3l.2 .3l.2-1.9l.2 1.2l.2-2.2l.2 1.7l.2 4.1l.2-6.6l.1 3.6l.2 1.6l.2 3l.2-7.5l.2 .2l.2 .3l.2 4.7l.2 1.7l.2-2.1l.2 .6l.1 3.7l.2 2.5l.2-.8l.2-3.1l.2-3.9l.2 .5l.2 6.5l.2 2l.2-2.1l.2-.5l.1 .5l.2 1.4l.2-.2l.2 1.3l.2-.5l.2 1.3l.2 3.7l.2-1.5l.1 1l.2-2l.2 6.9l.2-4.7l.2 4.8l.2-2.5l.2 7.8l.1-7.8l.2 .3l.2-2.4l.2 11.1l.2 1.7l.2 1.5l.2 1.4l.2-5.3l.1 3.8l.2-2.7l.2-1.3l.2 6.7l.2 3.2l.2-3.5l.2-3.8l.1 2l.2 4l.2 .2l.2-3.2l.2-1.3l.2-2.5l.1-6.1l.2 .8l.2 2.5l.2-1.4l.2 3l.2-2.9l.1-2.8l.2-3.7l.2-7.4l.2 6.2l.2-9.7l.2 2l.1-3.4l.2 1.2l.2 1.3l.2-2.2l.2 1.3l.2 8.4l.2-1.6l.2 4.2l.2-.3l.2 5.5l.1-3.6l.2 7l.2 1.3l.2 4.4l.2-.9l.2-.8l.2 3.2l.2 1.2l.2 .1l.2 0l.2 4.5l.2 1.2l.1 1.9l.2 1.2l.2 1.4l.2 .4l.2-3.4l.2 4.2l.2-1.3l.2-7.4l.2 2.8l.1 2.9l.2 .1l.2-1.6l.2-6.1l.2-5.2l.2-.9l.2 .4l.2 1.4l.2 3.6l.1-2.8l.2-.6l.2-3.6l.2-4.5l.2 1.6l.2-.8l.2 .4l.1 3.7l.2-.5l.2 1.4l.2 2l.2-1.1l.2-2.8l.2 7.1l.1-5.7l.2 3.5l.2-.1l.2 1.9l.2-1.4l.2-1.3l.2-3.6l.1-.9l.2 7.9l.2-6.7l.2 6.3l.2 .7l.2-.3l.2-3.7l.1 6.4l.2-1.4l.2 .3l.2 1.4l.2-3.4l.2 .6l.2-1.1l.1-.9l.2 1.3l.2-2.7l.2 8.5l.2-.5l.2-4.9l.2-3.9l.1-1.4l.2 1l.2 3.1l.2-5.4l.2-2.8l.2 1.8l.2 3.6l.1 .1l.2 2.2l.2 .1l.2-4.5l.2-1.9l.2-4.6l.2 5l.1 1.3l.2-4l.2 .7l.2-1.4l.2-.9l.2-.7l.2-.4l.2-3.8l.2-1.6l.2 4l.2 2.3l.1-2.6l.2-.2l.2 5.5l.2-3.9l.2-8.3l.2 5.6l.2 1.1l.2 2.3l.2-4.7l.2-.5l.2 1.4l.2-3.7l.1-6.5l.2 5.5l.2-4.1l.2 1.6l.2 1.1l.2-.6l.2 2.7l.2 1.7l.1-4.9l.2 2.4l.2 4.5l.2-2.4l.2 1.5l.2 4.3l.2 2.8l.1 5.7l.2 .4l.2 3l.2-3.5l.2 4.4l.2-1.5l.2-.3l.1-.9l.2 .5l.2 1l.2 7.1l.2 3l.2-.5l.1-1.1l.2-.1l.2 1.9l.2 11.3l.2 3.7l.2-4.9l.1 6.2l.2-.1l.2-.8l.2 3.7l.2-.1l.2-.9l.2 4.6l.2-1.9l.2 1.6l.1 4l.2-.5l.2 6.9l.2-.6l.2 5.4l.2 5.6l.2-1.3l.2 .5l.2-1.5l.2-1.1l.2 1.4l.2-4.6l.2 3.6l.2-5l.1 4.8l.2 1.5l.2-2.2l.2-2.2l.2 .7l.2-4.6l.2-1.5l.2 5.3l.2-.9l.2 4.9l.2-.1l.2 5.8l.1 2.4l.2 1.5l.2 2.6l.2 3.1l.2-.3l.2 5l.2 1.2l.2-1.7l.1 .6l.2 2.5l.2 5.3l.2-.8l.2 1.2l.2-1.9l.2 1l.1 3.1l.2 3.7l.2-.6l.2-.1l.2-1.5l.2 .6l.2 2l.1 .4l.2 1.6l.2-2.2l.2-6.3l.2-2.2l.2 1.7l.2 1.3l.2-2.7l.2-4.6l.2-3.5l.2 0l.2-3.1l.2-4.3l.1-2.2l.2-1.8l.2-2.1l.2-1.6l.2-7l.2 6.2l.2-2.4l.2-4.5l.2 2.7l.2-2.2l.2-3.2l.2-2.3l.2-2.7l.2-2.9l.2-5.3l.1 2.1l.2-.8l.2 3.3l.2-.2l.2 3.8l.1 1.6l.2 1.8l.2 3.5l.2-2.7l.2 3.1l.2-2.4l.1-2.2l.2 2.6l.2 3.1l.2 5l.2-.3l.2 3.1l.2 2.4l.1 1.4l.2-.5l.2-.2l.2-.8l.2-.5l.2 .5l.2 4.7l.2 2.6l.1-2l.2-2.1l.2 .1l.2 6.3l.2 2.9l.2 .6l.2-4.4l.2 2.6l.1-.5l.2 1.1l.2 .2l.2 .5l.2 2.1l.2 1.4l.2 3.3l.2-1.8l.2 .9l.1-3.9l.2 2l.2 .5l.2 1.5l.2-.4l.2-1.5l.2 1l.2 1l.1 5.4l.2 3.8l.2 .9l.2-1.1l.2-.5l.2 1.3l.2-1.8l.2-.3l.2-2.5l.1 1.8l.2-2.5l.2 5.5l.2-2.7l.2-1.3l.2-4.9l.2-1.9l.2 4.6l.1-5l.2 3.4l.2 4.3l.2-3l.2-1l.2-4.8l.2 .4l.2 2.4l.1 2.3l.2-3.9l.2 .3l.2 2.4l.2 3.5l.2-1.4l.2 .3l.2 3.1l.2-5.4l.1 8.1l.2-5.5l.2-.2l.2-3.5l.2 5.6l.2 3.4l.2-6.9l.2 3.2l.1-.7l.2 .2l.2 3.1l.2-1.8l.2-.1l.2 .9l.2-.8l.2 4.9l.2 1l.2 2l.1-4.5l.2 4.6l.2 1l.2 3.3l.2-1.1l.2-4.8l.2 5.3l.2 .8l.2-1.6l.2 3.1l.1 2.9l.2 .2l.2-2.5l.2-1.1l.2 1.6l.2-2.7l.2-2.3l.2-.9l.1 .6l.2 .2l.2 .4l.2 3.6l.2 .4l.2-2.5l.2-3l.1-2.3l.2 3.6l.2-1.6l.2-.4l.2-4l.2-.2l.2-2l.1-.2l.2 2.6l.2-2.5l.2 2.6l.2 2l.2 1.5l.2-2l.2-1.3l.1 1.9l.2 1.5l.2 2l.2 .5l.2-.2l.2 6.3l.2 .1l.2 .2l.2-.2l.1 2.4l.2 .7l.2-2.2l.2 .7l.2 2.8l.2-1.9l.2-1.5l.1-2.6l.2 4l.2 4.8l.2-6.1l.2-.3l.2 2.2l.1 5.6l.2-1.6l.2-.9l.2 .2l.2-2.1l.1 1.2l.2-.4l.2-.1l.2-.3l.2 .6l.2-.1l.2-4.3l.2 3.4l.2-3l.1-1.3l.2 1.1l.2 .9l.2-2.8l.2 1.9l.2-1.1l.2-2l.2 .8l.2 3.5l.1-2.1l.2-.2l.2-.5l.2-.5l.2 .6l.2-1l.2-4.8l.2 3.6l.1-1.2l.2 .1l.2-.8l.2-3.7l.2 .9l.2-.8l.2-2.1l.2-.5l.2 1.4l.1-1.6l.2 .4l.2 4.7l.2-5.9l.2 1.4l.2 4l.2-3.8l.1 3.1l.2 5.6l.2-5.5l.2 1.9l.2 1.4l.2-1.9l.2 .4l.1 1l.2-4.8l.2 .4l.2 4.4l.2 5.4l.2-.2l.2-6.2l.1 5.4l.2-1.6l.2-1.2l.2 1.6l.2-2.5l.2-1l.2 .4l.2-1.8l.1 .6l.2-1.8l.2-.5l.2 4.9l.2-1.1l.2-1.3l.2-.3l.2-1.4l.2-1.2l.2 1.4l.1-2.3l.2 7.9l.2-.4l.2-.3l.2-1.9l.2 1.2l.2-4.1l.2 .5l.2 2.4l.2-.4l.1-5.8l.2-1.8l.2 .5l.2 1.9l.2 .6l.2-4.3l.2-.1l.2-.3l.2 1.6l.2-.2l.1 3.3l.2 1.9l.2-4.6l.2 2.9l.2-4.2l.2-1.8l.2 3.6l.2 .6l.1 3.4l.2 2.4l.2-6.2l.2 3.1l.2 0l.2 3.6l.2-3.2l.2-.2l.2-.2l.1 2.9l.2-.4l.2 1.5l.2 1.6l.2 1.5l.2 0l.2-5.6l.1 .6l.2 .6l.2 4.5l.2 2.1l.2 .6l.2-4.2l.2 2.5l.1 5.1l.2 2.8l.2 .5l.2 1.1l.2-.4l.2-1.5l.2 .5l.1-1.8l.2 1.8l.2-2.4l.2-5.5l.2 .5l.2-.6l.2 2.6l.2-3.5l.2-1.3l.2-2l.1 1.1l.2 4.3l.2-.7l.2-3.5l.2-.6l.2 .7l.2-4.5l.2 1.1l.2 .1l.2 1.4l.1-1l.2-.4l.2-.5l.2-.2l.2 2.6l.2 4.8l.2-2.5l.2-1.2l.2 .9l.1 3.5l.2-2.5l.2 5.1l.2 4.1l.2-3.1l.2 3.3l.2-3.3l.2-.5l.1 2.5l.2 .4l.2-.4l.2 2l.2-1.1l.2 .4l.2-3.4l.2-.1l.2-4.1l.2 1.7l.2-3.8l.1-.8l.2 2.6l.2-.3l.2 3.4l.2-4.9l.2 4.3l.2-6.7l.2 .1l.2 1.7l.2 1.7l.2-5.8l.1 .3l.2-.5l.2-.4l.2-2.5l.2-.8l.2-.9l.2 .4l.2-2.4l.2 4.6l.2 1.4l.2 .9l.1 1l.2 1.1l.2 2.8l.2-.5l.2-.3l.2 3.4l.2-1.6l.2 .5l.2-3.3l.2 .5l.1 2.1l.2 3.9l.2-2.2l.2-1.2l.2 .1l.2 .2l.2 3.2l.2-.3l.2-1.7l.1 1l.2-2.9l.2 1.9l.2-3.3l.2 3.5l.2 1.5l.2-3.3l.1 .7l.2-5l.2-.2l.2 1.9l.2-1.6l.2 2.7l.2-2.2l.1 .9l.2-.5l.2-1.4l.2-2.1l.2-2.7l.2-1.8l.2-1.5l.1-.2l.2-.1l.2 .2l.2 1.9l.2 .2l.2 1.4l.2-1.9l.1 .3l.2-2.5l.2 1.7l.2-2.8l.2-1l.2 4.6l.2-8.4l.1 7.4l.2-.8l.2-5l.2 2l.2-1.3l.2-.1l.2 1.1l.1 .9l.2-6.6l.2-.4l.2 2.7l.2-2.7l.2 3.3l.2-2l.1 2.3l.2-.9l.2-.2l.2 2.8l.2 .9l.2-2.1l.2-3.3l.2 .7l.1 .3l.2 5.3l.2-2.5l.2-4.2l.2 3.5l.2 4l.2 .6l.2-2.8l.1 .2l.2-6.7l.2-.1l.2 1.4l.2 .3l.2 2.1l.2 .9l.2 1.4l.2 .8l.1 1.2l.2-1.2l.2 .7l.2 1.9l.2-4.4l.2 2.1l.2-.8l.2 3.5l.2-5.8l.2 4.6l.1-3.2l.2 4.3l.2-.4l.2 3.8l.2 .4l.2 .8l.2-1.2l.2-1.1l.2-1.1l.2 3l.1-1.7l.2-.9l.2 3.7l.2 .9l.2 .7l.2-1l.2 .1l.2 5.6l.2-8.5l.2-.9l.2 5.1l.2-.2l.1 .2l.2-.5l.2 .6l.2 5.7l.2-1.3l.2-.1l.2-2.6l.2 3.3l.2-2.1l.2 3.4l.2-1.8l.2-.3l.1 2.9l.2 .9l.2 2l.2 1.8l.2-1.5l.2 1.7l.2-3l.2 3.1l.2 .9l.2 .9l.1 2.3l.2 3.4l.2 .9l.2-1.1l.2-.9l.2 6.2l.2 .7l.2-1l.2-1.3l.2 4.5l.1 1.1l.2 1.4l.2-1.1l.2-.1l.2-.1l.2 .4l.2-5.6l.1 0l.2-4.6l.2 4.9l.2-3.3l.2-2.8l.2 5l.2-1.2l.1-6.4l.2 .7l.2-.7l.2-1.3l.2-2.2l.2-1.5l.2-.8l.1 .6l.2 2.2l.2 0l.2-1.5l.2-3.5l.2-3.3l.2-.3l.1-.5l.2 4.2l.2-.5l.2-2.5l.2 5.1l.2-2.9l.2-1l.1 1.7l.2 .6l.2 1.3l.2-3.1l.2-4.1l.2 .1l.2 1.1l.1-.8l.2-1l.2-.3l.2 1.9l.2 .6l.2-.8l.2-.8l.1 1.2l.2 2.6l.2 .8l.2 2.3l.2-2.9l.2-.8l.2 1.8l.1 3l.2-5.4l.2-4.3l.2 5.2l.2 2.5l.2-.2l.2-3.1l.1-2l.2 2.5l.2 5.9l.2-3.2l.2-3.8l.2 .4l.2-.3l.1 2.6l.2-2.2l.2 .5l.2 2.5l.2-.6l.2-1.5l.2 2.3l.2-2.2l.1-.7l.2-2.5l.2 4.9l.2-1.5l.2-6.5l.2-1.5l.2-.7l.2 3.2l.2 1.2l.1-4.4l.2 .3l.2-3.3l.2-1.2l.2 .5l.2 1.2l.2-1l.2-.9l.1-1.3l.2 3.1l.2 .2l.2 1.8l.2-1.1l.2-.7l.2 4.6l.1-.6l.2-.7l.2 .7l.2 3.1l.2-1.3l.2 3.4l.2 .1l.1 .4l.2 1.4l.2-.2l.2-.8l.2 0l.2-.1l.2 1.5l.1 .5l.2 .8l.2-1.9l.2-2l.2-2.5l.2 5.3l.2-5.2l.1 .9l.2-3.9l.2 1.5l.2 2.3l.2-6.6l.2 8.1l.2-2.3l.1 1.3l.2-3.8l.2 1.2l.2-1.3l.2-1.2l.2-2.4l.2 3.2l.1-4.3l.2 .4l.2 0l.2-1.2l.2-.5l.2-.3l.2 .2l.1 2.6l.2-7.3l.2 1.2l.2-3.7l.2 2.8l.2 2.1l.2-2.1l.1-4.9l.2 .4l.2 3.2l.2-1.6l.2-3.6l.2 4.6l.2-2.5l.1-.5l.2 0l.2-2.1l.2-.2l.2 .6l.2 1.3l.2-1.8l.1 1.3l.2 2.3l.2-3.2l.2-2.7l.2 4.4l.2 2.2l.2-1l.2-1.1l.2-1.1l.2-.1l.2-3.6l.1 3l.2 1.4l.2 .9l.2-4l.2 1.9l.2-3.4l.2 1.2l.2-2.4l.2-3.7l.2 3.3l.2-1.1l.2 .2l.1 1.3l.2-2l.2 2.1l.2 .3l.2-.7l.2-.7l.2-5.6l.1-2.3l.2 2l.2-.1l.2-1.7l.2-1.9l.1 .2l.2-3.7l.2 1.1l.2-2.4l.2 0l.2 .8l.2 2l.1-4.8l.2 .7l.2 2.5l.2-6.1l.2 2.6l.2-6.2l.2 1.2l.2-1.8l.2 .7l.2 2.9l.2-1.7l.2-4l.2-3.8l.2 0l.1 4.1l.2-6.1l.2 2.4l.2 3.1l.2-7.8l.2-2.7l.2 1.9l.2-3l.2 1.9l.2 2.5l.1 5l.2 .8l.2 2.5l.2 3.1l.2 5.1l.2 4.9l.2-3.2l.2 8.2l.2-3.5l.2 4.1l.2 1.8l.2 3.3l.2-2l.1-2l.2-.8l.2-2.8l.2-1.9l.2 1.8l.2-6.3l.2 7.1l.2-2.5l.2-.7l.2-4.5l.1 .1l.2 2l.2 .5l.2-2.4l.2-3.5l.2-3.5l.2 .5l.2 2.5l.2-.1l.2 5.2l.1-1.3l.2 .4l.2-5.1l.2 .4l.2 1.4l.2-3.4l.2 1.1l.2-2.6l.2-2.4l.2-.1l.1 2.6l.2-.3l.2 3.1l.2 1.2l.2-2.6l.2 1.3l.2-.4l.1-4.1l.2 4.3l.2-3.5l.2 2l.2 3.5l.1 1.6l.2 1.3l.2-1.7l.2 .5l.2-.9l.2-.3l.2-4.2l.1-1.7l.2 4l.2-5.1l.2-1.6l.2 .1l.2 2.1l.2-2.7l.2 .6l.2-2.2l.2-2.3l.2-5.2l.2 .9l.2-4.9l.2-2.6l.1 1.8l.2-3.8l.2 3.6l.2-2.9l.2-4.3l.2 1.6l.2 .6l.2-5.9l.2 .7l.2-1.5l.2-5l.2 2.8l.2 2.1l.1 1.1l.2-2.5l.2 3l.2-.3l.2-2.7l.2 2.2l.2 1.1l.2-1l.1-1.3l.2 1.4l.2 2.2l.2 5.8l.2 .4l.2 .3l.2-2l.2-1.1l.2-.5l.1 1.6l.2 1.1l.2-3l.2 .2l.2-.4l.2 .3l.2 5.2l.2-4.6l.1 .3l.2-.9l.2-2.4l.2 4.7l.2 1.6l.2-1.1l.2-.6l.2-5.6l.1 4.2l.2-1.2l.2-1.6l.2-1.2l.2-.3l.2 .9l.2 .9l.2 3.1l.2 1.9l.2-3.2l.2 1.4l.2 4.9l.1-.6l.2 4.3l.2 6.4l.2-1.1l.2 .4l.2 .7l.2-1.8l.2-1.3l.2-2.2l.2-4l.2 .1l.2-3.9l.2-5.7l.2-3.2l.1 .1l.2 2.4l.2-3.6l.2-4.5l.2-2.4l.2 1.3l.2-.8l.2-5.9l.2-2.3l.2-.8l.1-4.6l.2-1.7l.2 2.7l.2-6.9l.2 3.2l.2-3.2l.2-6l.2 3.6l.1-3.1l.2 5.4l.2-7.4l.2-2.1l.2 1.7l.2-4.6l.2-1.1l.2-2.7l.2 .5l.2 1.6l.1 1.4l.2 .1l.2-1l.2 .7l.2 .3l.2-2.1l.2-4.7l.2 4.4l.2-1.9l.2 .8l.2-.5l.2-3.1l.2-1l.2 2.3l.1-1.2l.2 3l.2-.4l.2-2.4l.2-3l.2-4.1l.2 4.8l.2-2.1l.2-1l.2 2.7l.2 5.8l.2 4.9l.2 6l.2 7.6l.1 4.3l.2 .7l.2 7.3l.2 3.8l.2 1.2l.2 5.9l.2 2l.2 1.7l.2 1.1l.2-1.3l.2-10.8l.2 2.5l.2-3l.2 1.4l.1-6.6l.2-3.7l.2-2.8l.2-1l.2 1.6l.2-5l.2 .3l.2-1.8l.2 1.1l.2-5.4l.2-1.7l.2 3.8l.2-1.7l.2 2.8l.1-1.3l.2-2.2l.2 .1l.2 3.8l.2-6.4l.2 .9l.2-.9l.2 3l.2 5.8l.2 8.7l.2 .8l.2 1.3l.1-1.1l.2 6.3l.2 3l.2 3.9l.2-.8l.2 4.5l.2 1.9l.2 0l.2-1.8l.2 .3l.1 3l.2-3.9l.2 6.7l.2-4l.2 2.7l.2 1.9l.2-.7l.2 1.8l.2-4.5l.1-3l.2-4.4l.2 1.1l.2 1.1l.2 1.3l.2-4.2l.2-4.1l.1-.1l.2-5l.2 2.5l.2-.2l.2-3l.2 2.9l.2-2l.1-2.8l.2 1.4l.2-.9l.2 2.5l.2-1.4l.2 .8l.2-1.4l.2-.1l.2-8.9l.2 5.5l.2-4.8l.2 2.1l.2 .3l.1-3.1l.2 .7l.2-.8l.2 .7l.2 2.9l.2 2l.2-.5l.1-1.7l.2 4.9l.2 .3l.2-4l.2-.3l.2 1.7l.2 4l.1-.7l.2 2.2l.2 .1l.2-.9l.2-2.1l.2 4.7l.2 2.9l.1 .9l.2 1.9l.2 1l.2-.8l.2-.4l.2-1.5l.2 2.8l.1-.6l.2-1l.2 1.2l.2-2.5l.2-1l.2 1.5l.2 1.9l.2-1.5l.2-2.5l.1 .1l.2 4l.2-.6l.2-.6l.2-7.1l.2-1.4l.2-1.6l.2-1.5l.1-.1l.2 3.5l.2-.9l.2 1.6l.2-1.5l.2 1.6l.2 3.3l.2-.2l.2 4.6l.2 7.6l.2-2.9l.2-.7l.1 2.7l.2 1.7l.2 2.1l.2 1.4l.2 1.7l.2 4.7l.2 2.4l.2 .7l.2 4.3l.2-1l.2-1.3l.1 2.6l.2 .7l.2 .5l.2 3.3l.2-2.6l.2 .8l.2-.6l.1 1.2l.2-4.6l.2-.4l.2-5l.2 2l.2-4.2l.1-.9l.2-4.8l.2 .4l.2-.9l.2-1l.2-1.6l.1-1.7l.2 1.3l.2 1.2l.2-3.1l.2 5.4l.2 .1l.2-1.9l.2 .2l.1 1.6l.2-3l.2 6.4l.2 .1l.2-2.8l.2 2.6l.2 1.3l.2-4.6l.2 .9l.1 1l.2 6.2l.2 .8l.2-1.1l.2-2.2l.2 .9l.2-5.4l.2 1.8l.2-.1l.2-3l.2 0l.1-.8l.2-1.5l.2-2.9l.2-4.9l.2-1.1l.2 1.3l.2-2.9l.2 3.2l.2-2.1l.2-2.5l.1-1.9l.2 2.9l.2 3.3l.2-2.9l.2 1.4l.2-2.5l.2 .4l.1-6.4l.2 .4l.2 4l.2 .8l.2-.7l.2-1.8l.2-3.2l.1 .7l.2 4.2l.2-1.2l.2-.8l.2-2.3l.2 1.9l.2 1l.1-2.8l.2-.2l.2 1.1l.2 2.8l.2 1.3l.2 4.6l.1-4.4l.2-.2l.2 9.3l.2 1.3l.2 .2l.2-7.1l.1 2.1l.2 1.5l.2 8.7l.2 .7l.2-1.9l.2 .6l.1-1.1l.2-3.1l.2-2.3l.2-.6l.2-5.5l.2-.3l.2 .8l.1-1.3l.2-.5l.2-6.9l.2 3.8l.2-1.2l.2-4.5l.2 4.3l.1-1.2l.2-4.8l.2-.5l.2-3l.2-.9l.2-.1l.2-.7l.1 0l.2 .2l.2 1.4l.2-2.1l.2-.5l.2-2.5l.2-2l.2-.5l.2-4.3l.1 2.8l.2 .7l.2 1.8l.2-4.4l.2 4.8l.2-6.3l.2-2.4l.2 2.3l.2-5.5l.1-3.5l.2 2.5l.2-3.7l.2-5.3l.2-3.2l.2-2.2l.2 2.4l.2-6.9l.2-2.8l.2 2.2l.2-3.3l.2-.6l.2-.1l.1-3.3l.2-.4l.2-5.2l.2-5.3l.2 5.1l.2-7.6l.2 1.2l.1 1l.2 .3l.2-.8l.2 2.9l.2-2.5l.2-3.6l.2 6.3l.1-4.3l.2 2.2l.2 2.5l.2-1.4l.2-3.6l.2 1.4l.2-4.6l.1-.1l.2-3.6l.2 4.5l.2 1.5l.2-2.5l.2 .6l.1-1.1l.2 4.3l.2-4.8l.2 2.9l.2 1.4l.2 2.2l.1-3.4l.2-2.1l.2 1.9l.2-1l.2 3.4l.2 1.6l.1 2.2l.2-1l.2 2.9l.2-1.2l.2-3.4l.2-.6l.2-.2l.2-1.7l.2 9l.1-3.6l.2-1.3l.2 4.4l.2-4.2l.2-4.2l.2 2.6l.2 .5l.2-2.8l.2 .1l.2 3l.2-.8l.2-5.3l.1-.8l.2 .3l.2 4.9l.2 .9l.2-.8l.2-3.4l.2 18.1l.2 8l.2 9.6l.2 12.8l.2 5.3l.2 13.6l.2 6.8l.2 9.2l.2 2.5l.2 7.1l.1 10.9l.2 8l.2 7.2l.2-5l.2-3.9l.2-3.6l.2-3l.2-6.5l.1-4.6l.2-1.5l.2-2l.2-6.3l.2-5.6l.2-3.3l.2-4.6l.2 1.2l.2 .6l.2 1.1l.2 .2l.2-1.9l.1-.2l.2-8.1l.2-5.5l.2 6.3l.2-3.1l.2 .2l.2-3.5l.2-3.7l.2-3.2l.2 3.6l.2-.3l.2-3.5l.1-3.3l.2 1.4l.2 .9l.2-6.6l.2 1.5l.2 .6l.2 1l.2-2.5l.2 1.5l.2 .6l.2 1.8l.2 .7l.1 6.3l.2 3l.2-.3l.2 .3l.2-1.2l.2-1.4l.2 2.8l.2-2.9l.2 1.4l.2-.8l.1 1.4l.2-3.1l.2 1.4l.2-2.7l.2-7.6l.2 2.9l.2 3.9l.2 .7l.1 3.2l.2 1.4l.2 7.8l.2 3l.2-2.2l.2-3.9l.2 7.6l.2 4l.2 .5l.1 3l.2 .7l.2 6.6l.2-2.6l.2 8.7l.1 1.8l.2 1.7l.2-1.7l.2-4l.2-4.4l.2 4.3l.1-2.3l.2-1.8l.2-6.3l.2-1.8l.2 2.5l.1-1l.2-1.6l.2-2.8l.2 0l.2-3.7l.2-4.7l.1-1.9l.2-2.9l.2 3.5l.2-2.2l.2-.5l.2-1.6l.2-4.3l.2-1.3l.2-6.4l.2 .3l.2-8.6l.2-1.3l.2 5.4l.2-4.7l.1-.7l.2-1.8l.2 2.6l.2-1l.2 6.2l.2-2.7l.2-1.3l.2 2.7l.1 3.2l.2 5.2l.2 1.5l.2-5.6l.2 1.7l.2-.4l.2 3.9l.2-.1l.1-1.2l.2 2.8l.2 .7l.2-1.1l.2-2.8l.2-2.6l.2 .4l.1 4.3l.2-5.3l.2-2.2l.2 1.3l.2-1.8l.2 1.7l.1-3.8l.2 3.5l.2-2.4l.2 3l.2 2.2l.2-2.7l.1-2.8l.2 1.5l.2 .9l.2-1.1l.2 2.9l.2 5.7l.2 4.9l.1-.2l.2-4.6l.2-1.9l.2 7l.2 7l.2 1.7l.2 .5l.1-.5l.2 3.5l.2 .9l.2 .6l.2-1.5l.2 1.5l.2-.2l.1-5l.2-3.4l.2 2.2l.2 2.7l.2-4.1l.2 3.1l.2-1l.1-1.2l.2-1.1l.2-3.2l.2-3.4l.2 2.6l.2-7.9l.2 .4l.1 2l.2-4l.2-.7l.2-3.2l.2-.3l.2-1.9l.1 5.6l.2-2.3l.2 2.5l.2-5.6l.2 2.1l.2-2.3l.1-2.3l.2-1.1l.2 3.1l.2-3.9l.2 1.1l.2-.7l.1-1.7l.2 2.4l.2-2.1l.2-2.4l.2 .8l.2 2.1l.2-1.8l.2-4.6l.1 7.8l.2-2.5l.2-2l.2-2.2l.2 3.9l.2-5.7l.2 1.2l.2 5.5l.1 .9l.2-5.6l.2 4.5l.2-1.9l.2 2.1l.2 1.1l.2-.1l.2 3.9l.2-.7l.2 0l.2 4.4l.2-.4l.1-.9l.2 1.6l.2-1.1l.2 3l.2 3.1l.2-4.5l.2-1.3l.2 2.5l.2-6.1l.2 .3l.2-2.1l.2 1.2l.2-2.9l.2 0l.1 4.4l.2-2.9l.2-1.7l.2 .5l.2 3.4l.2-1.2l.2 5l.2-1.3l.2-.1l.2-2.7l.1 2.3l.2 .4l.2 6.2l.2-.8l.2-6.5l.2 6.5l.2 5.7l.2 1.1l.1-.5l.2-1.7l.2-.6l.2 2.5l.2 1.1l.2-.9l.2-1.1l.2 .4l.2-7.2l.1 6.6l.2-5.9l.2-1.9l.2-1.4l.2 .1l.2-4.8l.2 1.8l.2-1.9l.1-.5l.2 5.2l.2-1.5l.2-1.5l.2-3.7l.2-2.5l.2-1.2l.2-1.1l.1-3.2l.2 2.8l.2-2.7l.2-5.8l.2 5.1l.2-1.8l.2-5.4l.2 6.8l.2-5.9l.1-1.7l.2-1.1l.2 3.9l.2 2.4l.2-2.6l.2-.3l.2 .9l.2-1.7l.1 5.5l.2-.9l.2-1.3l.2-3.5l.2 4.8l.2-.3l.2 5.4l.2 2.7l.1-.5l.2 4.7l.2-7.7l.2 .8l.2 3l.2-.4l.2 5.1l.1 3.4l.2 4.9l.2 4.6l.2 0l.2-1.5l.2 3.5l.2 .1l.1-2.4l.2 .5l.2-2.8l.2 4.3l.2-4.6l.2-.9l.1-7.6l.2 7.1l.2-6l.2-2.9l.2-2.7l.1-2.5l.2 3.8l.2-2.2l.2-.2l.2-3.5l.2 4.7l.2 2.1l.2-3l.2-2.5l.1-1.4l.2 1.2l.2 7.1l.2 .7l.2-.1l.2-1l.2 2.2l.2 1.3l.2 3.3l.2 .9l.2 4.8l.2 .4l.2 5.9l.2 4.9l.1 .3l.2 5l.2 4.2l.2 1.6l.2 4.9l.2-.7l.2 5.5l.2 1.6l.2-1.2l.2-2.4l.2-7.9l.2-3.3l.2-4.2l.2-6.4l.1 3.4l.2-9.1l.2 2.2l.2-9.5l.2-1l.2-4.5l.2 0l.2-2.6l.2 5.1l.2-6.9l.1 .9l.2 2.5l.2 1l.2 2.6l.2-3.1l.1-2.1l.2 3.7l.2-7.9l.2 .4l.2-3l.2-.5l.1 0l.2 2.6l.2 2.8l.2-1.7l.2 1.5l.2-.5l.2 .5l.1 2.7l.2-3.7l.2 4.3l.2 5.9l.2 .7l.2-10.3l.2 6.7l.1 3.7l.2-2.6l.2 1.8l.2-5l.2 2.2l.2 2.9l.2 3.6l.1-.3l.2-1.6l.2 2.7l.2-4l.2 2.3l.2 2.3l.2 .6l.1 4.1l.2-.5l.2-2.5l.2 3.7l.2 2.4l.2-1l.2 2.2l.1 2.7l.2 2.8l.2 .5l.2 1.2l.2-.6l.2 6.1l.1-.3l.2 2l.2-.2l.2 5.1l.2 3.1l.2 3.2l.1 4.3l.2 .5l.2 1.2l.2 2.9l.2 .8l.2 2.2l.1 3.8l.2 .3l.2-4.8l.2-4.2l.2-1.7l.2 .7l.2 3.3l.2-6.9l.2-3l.2-6.2l.2 1.9l.2 1.2l.2-2l.1-3.9l.2 3.4l.2 1.1l.2-2.9l.2 .4l.2-3.5l.1-1.9l.2 6.4l.2 4.1l.2-5l.2 .2l.2 3.3l.1-2.1l.2 .3l.2 .6l.2 3.6l.2-2.7l.2-3.8l.1 1.5l.2-.1l.2 0l.2 2.2l.2-1.8l.2 .2l.2 .1l.1-8.5l.2 1.4l.2 2.5l.2-.7l.2 1l.2-3.6l.2 1.2l.1-6.8l.2 3.1l.2-3.2l.2-1.2l.2 5.7l.2 2l.2 1.3l.2 1.4l.2-.1l.2-3.1l.2-5.3l.2 2l.1 1.8l.2 5.8l.2 1.6l.2-1.9l.2-1.6l.2 4.5l.2-1l.2 .8l.2-3.9l.2 3.8l.2 .1l.2 2.5l.2 2.8l.2 .6l.1-.3l.2-1.3l.2 3.6l.2 5.1l.2-.9l.2 3.7l.2 3.3l.2-.8l.2 2.6l.2-.6l.2 1.2l.2 3l.2 3.7l.2 3l.1 3l.2 3.7l.2 1.2l.2 .2l.2 .1l.2-1.1l.2-1.1l.2 .8l.2-4.7l.1 2.6l.2-4.7l.2-1.6l.2-1.6l.2 1.5l.2-2.1l.2 4.5l.2-1.6l.1-4.1l.2-4.4l.2 2.8l.2-1.8l.2-.2l.2-.4l.2 2.3l.2 1.5l.2 2.4l.1-1.2l.2 3.9l.2-4.5l.2 .7l.2-4.1l.2 2.6l.2 6.2l.2-3.2l.1 .7l.2 3.2l.2 3.9l.2-1.3l.2-.6l.2 .5l.2-2.4l.2 2.4l.1 1.3l.2-3.3l.2 2.8l.2-.6l.2-.5l.2-2l.2 0l.2 5.4l.2 .5l.1-1.3l.2-3.3l.2 4.4l.2 .6l.2-.7l.2-.3l.2 1.7l.2 1.9l.1-3.1l.2 3.2l.2 .6l.2-.7l.2 5.7l.2-4.5l.2 6.2l.2 .4l.1 1l.2 .5l.2 5.8l.2 .9l.2 .6l.2 1.6l.2-.2l.1-2.5l.2-1l.2-1.8l.2 2.6l.2-1.7l.2 .9l.2 1.1l.1-3.3l.2-1.9l.2 1.7l.2-1.2l.2-2.7l.2 1.1l.2-1.8l.1 1.2l.2 .4l.2-3.9l.2 .6l.2 1.2l.2-3l.1-1.3l.2-4.1l.2-3.1l.2 2.8l.2-1.4l.1 1.1l.2-4.8l.2-.7l.2 3.9l.2-1.4l.2-2.9l.1 .7l.2-.2l.2 1.8l.2-.9l.2 0l.2 .4l.2-.2l.1 3.2l.2 1l.2-3l.2 6.2l.2-.3l.2 2.6l.2-1.5l.1-1.4l.2 1.7l.2 3l.2 .8l.2 1.9l.2 2l.2-2.5l.1 2.6l.2 4.3l.2 3.8l.2 2.4l.2 1.4l.2-.1l.1 2.7l.2-2.1l.2 2.4l.2 3l.2 .2l.1-.6l.2 .6l.2-.9l.2 .5l.2-1.9l.2-8.6l.2-1.9l.2 3.6l.2-4l.2 2.1l.2-4.6l.2 .2l.2-.5l.1-5.4l.2-.6l.2-.2l.2-1.9l.2 2.8l.2-2.6l.2-.5l.2 2.9l.1 .9l.2 .6l.2-.9l.2 6.9l.2-7.9l.2 .2l.2 .6l.1 3.9l.2 .4l.2-1.8l.2 4.9l.2-.9l.2 1.8l.2 .1l.1 .7l.2 .2l.2 2.2l.2 .4l.2-.9l.2 2.6l.2-.8l.2-.3l.2 .5l.1 5.1l.2 0l.2-3.2l.2 3.2l.2 .3l.2-.5l.2-.3l.2 1.3l.1 1.5l.2 4.5l.2 .3l.2 1.7l.2 2.9l.2 4.2l.2 0l.2 3.6l.2-1.6l.2 2.7l.2-2.8l.2 4.2l.2 1l.2 2.6l.1-1.1l.2 6.5l.2-2.1l.2-2.2l.2 1.7l.2 .3l.2 3.6l.1-.7l.2 4.5l.2-2.7l.2 6l.2 2.4l.2-.5l.2 .9l.1 4.5l.2-2.7l.2-.5l.2 3.4l.2-3.4l.2-3.9l.1-.9l.2 1.1l.2-7.8l.2 2.7l.2-5.6l.2 1.9l.1-2.9l.2-1.3l.2-2.3l.2-8.2l.2-2l.2 .1l.1-2.9l.2-.5l.2-2.3l.2-1.8l.2-3.9l.2-1.1l.2-.8l.2-.8l.2-1.6l.1-3.5l.2-3.7l.2-.6l.2-2.8l.2 .7l.2-1.9l.2-4.7l.2-7.9l.2-2.1l.2 .4l.1-1.6l.2-1l.2-2.4l.2-2.7l.2-1.8l.2 1.2l.2-2.4l.2 .3l.1 .6l.2 5.1l.2-3.5l.2 2.3l.2 .2l.2 3.2l.2 5.3l.1 3.6l.2 .8l.2-1.7l.2-3.2l.2 4.2l.2 2l.2 .4l.1-.5l.2 1.4l.2-2.1l.2 3.3l.2 3.9l.2-1.2l.2 1.1l.2 2.6l.2 3.8l.2 3.7l.2-4.9l.2-.5l.2 5.3l.2 .9l.1-1l.2-1.1l.2-4l.2-3l.2-3.5l.1 1.6l.2-3.2l.2-.4l.2-2.5l.2-6.3l.2 1.1l.1-4.9l.2-.8l.2-4.1l.2-5.9l.2-1.9l.2 3.5l.1 1.3l.2 1.4l.2-1.5l.2-5.8l.2 5.7l.2-4.1l.2 3.4l.1-1.9l.2 4.8l.2 2l.2 .1l.2-4.4l.2 1l.2 7.4l.1-4.7l.2 1.5l.2 3l.2 1.4l.2-1.9l.2 4.3l.2-1.7l.2 1.5l.1 2l.2 3.6l.2 1.1l.2 1.7l.2 2.8l.2 1.1l.2-3.8l.2 2.4l.2-.9l.1 2.5l.2 3.7l.2-2.5l.2-2l.2 2.4l.2 2.2l.2-1.5l.2 2.7l.2 2.8l.2 5.2l.1-1.6l.2-1l.2 .5l.2 7.6l.2-1.8l.2 2.1l.2 .8l.2-.9l.2 2.4l.2-2.7l.2-4.2l.1-.6l.2 .3l.2-2.4l.2-.5l.2-5.4l.2-3.8l.1-2l.2-1.8l.2 2.5l.2 1.2l.2-3.4l.1-2.8l.2-3.3l.2-1l.2 1.3l.2 2.9l.2 .2l.2-1.5l.1 2.4l.2 1.3l.2-1.2l.2 1.9l.2-2.9l.2 5.1l.2 4l.1-3.1l.2-1.5l.2 5.8l.2-4.3l.2 4.1l.2 3l.2-1.6l.1 3l.2 .8l.2 .3l.2 .5l.2-1.8l.2 4.7l.2-.3l.2 2.6l.2 1.3l.2-1.4l.2 5.4l.2-2.1l.1 1.3l.2 4.4l.2-.3l.2-.3l.2 2.9l.2 2.1l.2-1.9l.2 1.8l.2 5l.2 1l.2 .4l.2 1.9l.1 1.6l.2-1.3l.2-2.3l.2-.7l.2 .4l.2-.1l.1-2.7l.2 2.8l.2 1.3l.2-3.7l.2-.1l.1 1.4l.2 1.1l.2-1.4l.2-2.1l.2-1.5l.2 .9l.2-1.9l.2-.6l.1 2.7l.2-2.4l.2-4.5l.2 .5l.2 2.5l.2 2.5l.2 1.5l.2-1.8l.2-1.7l.2-2.1l.2-2.1l.2-.3l.1-1.5l.2 .4l.2-1.1l.2-.6l.2 3.3l.2-1.8l.2-1.4l.2 .3l.2 1.9l.2 .1l.2 1.7l.1-1.7l.2 .9l.2 3.4l.2 4.6l.2-2l.2 1.9l.2-.3l.2 1l.1-.2l.2 4.5l.2-2.7l.2 7l.2-1.7l.2 .2l.2 4.5l.2 1.2l.2-.3l.1 1.2l.2-2.5l.2-2.9l.2 0l.2-3.3l.2 .9l.2-.3l.2-3.9l.1-2.5l.2 3.8l.2-.4l.2-5.8l.2 2l.2-2.5l.2-2.8l.2-.1l.1-3.1l.2 .5l.2-.8l.2-1.3l.2-1l.2 .6l.2-.3l.2-1l.1 2.6l.2-1.9l.2 .4l.2 3.3l.2 1.7l.2 .6l.2 .9l.1 2.7l.2 .1l.2 .9l.2 0l.2-5.4l.2 4l.2-1.9l.1 1.6l.2-1.6l.2 .5l.2-1.8l.2 5.6l.2-1.7l.2 1l.1 .7l.2-1.2l.2 2.3l.2-.6l.2 1.6l.2-3l.2-1.2l.1 1l.2 1.2l.2-4.4l.2-3l.2 4.4l.2-2.3l.2-6.5l.1 1.2l.2 1l.2-3.1l.2-2.2l.2 2.8l.2 1l.2-.4l.1-3.6l.2-1l.2 4.2l.2-2.6l.2 1.1l.2-1.8l.2-3.2l.1-.5l.2-.8l.2 2.5l.2 1.6l.2-3.3l.2 3.5l.2-2.4l.2-1l.1 .1l.2 .7l.2 4.8l.2 3.8l.2-2l.2-2l.2 .2l.2 .1l.2 .9l.1 3.7l.2 2.7l.2 .5l.2-1.8l.2 2.7l.2 .7l.2-3.2l.1 .2l.2 3.5l.2-.3l.2-.1l.2-4.2l.2-.5l.2-4.3l.1-.8l.2 1.1l.2-2.2l.2 1.6l.2 .8l.2-3.8l.2 .3l.1-1.2l.2 4.3l.2-.7l.2 3.6l.2-4.5l.2 .9l.2-1.6l.1 2.2l.2-5.5l.2 .6l.2 .5l.2 1l.2 1.2l.2 2.7l.2 .9l.2-1.1l.1-2l.2 2l.2 1.3l.2-2.3l.2 1.3l.2 1.4l.2-3.2l.2 1.6l.2 2.2l.2 2.3l.1 .8l.2 .7l.2 .4l.2 3.6l.2-5.1l.2 7.2l.2-6.4l.2 .3l.2 4.4l.2 1.1l.1 1.7l.2-1.2l.2 2.1l.2 2.4l.2-3.8l.2 2.7l.2-.2l.2 .6l.2-2.3l.2-.2l.1-3.1l.2 3.2l.2 0l.2-2.2l.2 0l.2-4l.2-.7l.2-4.2l.1-5.1l.2 5.4l.2 .9l.2-5.5l.2-5.6l.2-.3l.2 1.2l.2 1.3l.1-2.2l.2-2.5l.2 2.1l.2 .4l.2 1l.2 1.9l.2-1.1l.2 1l.1 1.3l.2 .2l.2 .6l.2 .4l.2-2.5l.2 2.4l.2-1.9l.1-1l.2 .7l.2 5.4l.2 1.1l.2 3.9l.2-1.8l.2 2.6l.1-2.7l.2 0l.2 1.6l.2-.4l.2 1.3l.2-1.1l.2 2.5l.1-.2l.2-1.1l.2-1l.2-1.8l.2 4.6l.2-1.4l.2-6.6l.2 1.7l.1-3.8l.2 1.3l.2 1.4l.2-4.3l.2 2.2l.2-3.1l.2 1.8l.2-.5l.1-1.2l.2 .6l.2 1.9l.2-1.8l.2-1.4l.2 3.4l.2 1.6l.2 2.5l.2 .7l.1 2.1l.2-.3l.2-1.4l.2 1.9l.2 5.2l.2-2.2l.2-2.8l.2 7.6l.1-.4l.2-2.8l.2 .4l.2 1.4l.2 1.2l.2 2.2l.2 .4l.2-2l.1-.3l.2-.8l.2 .5l.2-.3l.2 .3l.2-3.6l.2-.8l.1-.1l.2-2.1l.2-1.7l.2 1.7l.2-2.2l.2-2.3l.2 1.7l.1 3.6l.2-2.4l.2-3.9l.2 2.9l.2-.8l.2-.1l.2-3.5l.1 2.3l.2-1.4l.2-.5l.2-1.4l.2-.7l.2-1l.2-1.7l.2 3l.1-1l.2-2.4l.2-3l.2 4.5l.2 .9l.2 1.7l.2-1.3l.2-5.8l.1 4.1l.2-1.1l.2-1.9l.2-4.6l.2 1.4l.2-1.5l.2 2.2l.2-1.3l.1 .8l.2 1.3l.2 2.2l.2 .8l.2 .7l.2 .6l.2 .6l.1-.2l.2 .2l.2-1.2l.2-.5l.2-1.5l.2 2.5l.2 3.9l.2-.5l.1-.1l.2-1l.2-4.5l.2 1.2l.2 1.7l.2 1.2l.2 0l.1 3.1l.2 .8l.2-.5l.2-.4l.2 1.3l.2-1.8l.2 .8l.1-.7l.2 2.2l.2-2.4l.2 3.1l.2 4.5l.2 1l.2-.1l.2-.7l.1 1.7l.2-.6l.2-1.6l.2 8.9l.2-2.6l.2 3.5l.2-1.4l.2 .4l.1-.9l.2 1.6l.2 1.3l.2 .5l.2 1.6l.2 .8l.2 .3l.2-.7l.2-2.8l.1 0l.2 .8l.2 .6l.2 .6l.2 .8l.2-2.9l.2-1l.2 3.5l.1 .3l.2-2.8l.2-2.1l.2 2.1l.2 .4l.2-2l.2 3.9l.2-.3l.2 .7l.2 1.3l.2-.3l.1 4.6l.2 3.2l.2 2.4l.2-1.1l.2 3.8l.2-.1l.2 2.9l.2 1l.2 2.7l.2 1.2l.2-2.8l.1-.1l.2-.3l.2 6.3l.2 .1l.2 .2l.2-4.2l.2 2.2l.2 2l.2-.5l.1 2l.2-1.9l.2 2.1l.2 1l.2 .7l.2-.7l.2 .9l.2 1l.1 2.5l.2 3.1l.2 3l.2-1l.2 6.1l.2-4l.2 8.9l.2 2.9l.2 4.2l.2-3.7l.2 .2l.2 4l.2 2.5l.1-1.2l.2-2.1l.2 5.5l.2-1l.2-2.7l.2-1.1l.2-1.2l.1-4.4l.2-2.2l.2 1.4l.2 2.8l.2-1.8l.2 2.2l.2-5.2l.1 3.2l.2-1.3l.2-5.2l.2 2.8l.2 2.2l.2 3.4l.2-2.7l.2-8.9l.1-.2l.2 .7l.2 .7l.2 2l.2-1l.2-.1l.2-.9l.1 2.6l.2 1.1l.2 5.5l.2 4.3l.2 1.2l.2 1.4l.2 .7l.2-1.7l.1 1l.2 4.5l.2-.9l.2-2.3l.2 4.8l.2 1.9l.2 4.1l.2-.5l.2 2.5l.1 .7l.2 2.8l.2 2.6l.2 .7l.2-.9l.2-4.6l.2 3.2l.2 5.6l.2 1l.2 .7l.2-1.9l.2 0l.2 3.6l.1 2.5l.2 3.7l.2 2.5l.2-2.8l.2 8.1l.2 3.9l.2-.1l.2 .3l.2 2.2l.2 5.1l.2 2.1l.2-2l.2 2.9l.2 3.4l.1-4.2l.2-2.4l.2-4.5l.2 .1l.2-5.1l.2 3.9l.2-.4l.2-2.8l.2-7l.2-.5l.1-5.1l.2 1.3l.2-5.5l.2-3.7l.2-.4l.2-5.6l.2-3.9l.1 .3l.2 1.6l.2-4l.2 3.5l.2-.3l.2 .5l.2 2.5l.1 7l.2-3.5l.2 0l.2 3.2l.2 .2l.2 .2l.2 .2l.1 1.3l.2 7.7l.2-2.1l.2 2.4l.2 3.9l.2 3.1l.2-1.2l.1 .2l.2-2.1l.2-.7l.2 2.8l.2-6l.2-.2l.1 2.3l.2-2l.2-4.6l.2 .2l.2 1.5l.2-2.8l.1 2.1l.2-1.9l.2-1.6l.2-2.5l.2-2.7l.2-3.4l.1 2.2l.2-2.5l.2-.6l.2 2.9l.2-5.7l.2-.8l.2-1.9l.2 4l.2-.9l.1-1.3l.2-6.1l.2-.2l.2 2.2l.2-5.9l.2-2.6l.2-1.1l.2-.1l.1-.1l.2 1.6l.2-1.2l.2-2.3l.2 3.7l.2-3.5l.2-4.1l.1 1.1l.2 1.5l.2-6.8l.2 1.1l.2 5.8l.2-1.9l.2-4.7l.1 4.7l.2-.4l.2-.4l.2-5l.2 2.8l.2 2.3l.2 2.7l.1 4.7l.2-.1l.2-3.4l.2-.4l.2 4.3l.2 5l.1 4.2l.2-4.7l.2 7.2l.2 5.3l.2 0l.1 1.9l.2-.7l.2 1.6l.2 3.2l.2 1.2l.2-2.3l.2 4l.2-2.7l.1-2.8l.2 1.5l.2 .9l.2-2.4l.2 3.7l.2-4.3l.2 6.4l.2-1.7l.1-.7l.2-1.5l.2 6l.2-3.4l.2 1.8l.2 .1l.2 1l.2 1.9l.1-2.9l.2 1.9l.2 2.2l.2-8.5l.2 .1l.2-.4l.1 2l.2-.9l.2 .7l.2-2.3l.2 2.8l.2-1.2l.1-1.4l.2 4l.2-.7l.2 1l.2-1.2l.2 1.2l.1 .8l.2 1.2l.2 4.9l.2-4.8l.2 .8l.2 5.9l.2 1.7l.1-5.9l.2 3.9l.2 2.7l.2-1.7l.2 4.5l.2 .1l.2 4l.1-1.8l.2-1.9l.2 0l.2 3.5l.2 3.4l.2 2l.2-3.6l.2 4.2l.1 .9l.2 1l.2 .4l.2-3l.2-3.4l.2 3.1l.2-.7l.2 1.8l.2 .2l.1 4.3l.2-.4l.2-.9l.2-.9l.2-.1l.2 1.4l.2-2.8l.2-2l.1 3l.2-2.2l.2 1.1l.2 .3l.2-4.5l.2 4.5l.2-3.7l.2 3.3l.2-3.3l.1 2.3l.2-2.7l.2 4l.2-.5l.2-.3l.2-2.6l.2 .1l.2-.8l.1-3.4l.2-1l.2-.2l.2 3.5l.2-2.2l.2-4.4l.2 4.9l.2-5.8l.1 2l.2 1.4l.2-1.7l.2 2.8l.2-3.4l.2-6.7l.2 1.2l.2 1.4l.2-1.3l.1 .1l.2-1.7l.2 1.9l.2-1.2l.2-5l.2-3.1l.2 .3l.2-1.5l.2-5.6l.2-.5l.2-2.3l.2-1l.2-.8l.1 .5l.2 1l.2-1.8l.2 1.7l.2 2.3l.2-.7l.2-5.7l.1 5.8l.2-.3l.2 .8l.2-.1l.2 .1l.1-9.7l.2-.9l.2 4.4l.2 .5l.2 1.8l.2-3.5l.2 1.6l.1 .1l.2 3.9l.2 1l.2-3l.2 4.2l.2-4.7l.2 6.5l.2 .6l.2-.7l.2 1.2l.2-.1l.2-9.1l.1 1.9l.2 3.5l.2-1.4l.2 .5l.2-1.4l.2 .8l.2 3.5l.2-1.7l.2 2.9l.2 1.2l.2 1.4l.1 .5l.2-1.1l.2 .7l.2-3.6l.2 7.3l.2-4.8l.2 2.5l.2-.6l.2 6.8l.1-7.1l.2-3l.2 3.3l.2-1.1l.2 5.8l.2 2l.2-4.9l.2 .9l.1 4.3l.2-2.6l.2 0l.2 .9l.2 1.7l.2-2.1l.2-2.9l.2 1l.1 6.9l.2 1.2l.2 .3l.2-5.7l.2 .8l.2 5.2l.2 .6l.2-4.5l.2 2.4l.1-.6l.2 2.5l.2 .2l.2-.3l.2-.8l.2-2.2l.2 0l.2 1.1l.1 1.6l.2 1.9l.2 2.2l.2-2.6l.2 1.6l.2-2.8l.2 1.1l.2 6.1l.2-5l.1 1l.2-3.8l.2 5.4l.2-.1l.2 .5l.2-3.5l.2 5.5l.2-1.8l.1 1.6l.2 2.1l.2 1.4l.2-1.6l.2 5.7l.2 3.3l.2-.4l.2 1.9l.2 .3l.2 3.8l.2 1.6l.2-.6l.2-.5l.2 1l.1 1.1l.2-1.3l.2 2.6l.2 .7l.2 1.8l.2 2.7l.2 1.4l.1 .6l.2 6l.2-1.7l.2 2.3l.2 2.7l.2 4.1l.2-.9l.1-.6l.2 3.5l.2 1.2l.2-.3l.2-.4l.2 .7l.2 1.4l.1 1.5l.2-1.1l.2 1.7l.2 .4l.2 1.7l.2 0l.2-2.6l.2 .8l.2 .3l.1-1.1l.2 1.6l.2-.2l.2-2.8l.2 .6l.2 1.3l.2 2.8l.2 .1l.1 .5l.2-1l.2 5.7l.2-.4l.2-1.5l.2 0l.1 2.3l.2 3.2l.2 1.5l.2 2.1l.2 .7l.1 2l.2 3.3l.2 .7l.2 .5l.2-1l.2 .4l.2-4.9l.1-1.3l.2 2.4l.2 .1l.2-1.3l.2-1.5l.2-3.1l.2 .9l.1-3.7l.2-2.7l.2 1.3l.2-6.8l.2-.4l.2-1.6l.2-3l.1 1.9l.2-2l.2-.5l.2-1.6l.2 1.1l.2 .7l.2 0l.1-4.6l.2-1.6l.2 .7l.2-2.4l.2 2l.2-1.1l.2 2.3l.1 0l.2-3.7l.2-4.2l.2 2.5l.2-2.7l.2 .5l.2 0l.1 2.1l.2-1.3l.2 2.1l.2-2.2l.2 5l.1 2.8l.2 .7l.2-4.1l.2 4.3l.2-2.6l.2 7.9l.1-.2l.2-.1l.2 .2l.2 .7l.2 .1l.2-.9l.2-1.9l.2-2.7l.2-.2l.2-2.5l.1 2.8l.2-.6l.2-1.5l.2-3.8l.2-1.7l.2 1.8l.2-.2l.2 2.5l.2 1.4l.1 1.1l.2 3.1l.2 .2l.2 2.1l.2 .1l.2 .4l.1 1.1l.2 1.9l.2 1.8l.2 2l.2 5.5l.2 2.1l.1 2.6l.2 0l.2-.1l.2-5.1l.2 1.4l.2-3.6l.2-6.2l.2-5.1l.2 .9l.2-6.2l.2 2.9l.2-4l.1-.7l.2-3.3l.2-4.1l.2 1.9l.2-1.4l.2-2.1l.2 1.3l.2 .9l.2-.2l.2-1.8l.2-.5l.1-2.3l.2 3.6l.2-7.3l.2 1.4l.2 1.8l.2 4l.2 .4l.2-1.8l.2-2.6l.2-1.8l.1 1.5l.2-2.2l.2 0l.2 .5l.2 1.4l.2 4.4l.2 3l.1 5.2l.2 2.8l.2 5.3l.2 2.4l.2 5.8l.2 1.4l.1 1.9l.2 2.2l.2 5l.2 3.4l.2 2.9l.2 2.6l.1 4.9l.2-2.8l.2-.4l.2-3.5l.2-.9l.2-3.3l.2-6.6l.1 1.5l.2-2.3l.2-3.9l.2-4.1l.2-1.8l.2 1.9l.2-4.4l.1-.2l.2-5.7l.2-3.5l.2-3l.2-2.3l.2-1.7l.1-.2l.2 3.2l.2-1.4l.2 1.3l.2 2.6l.2 3.8l.1-6.2l.2 1.1l.2-1.9l.2 3.4l.2 .5l.2-1.7l.1 1.2l.2 2l.2 1.3l.2 2.1l.2 3.8l.2 2.9l.2 1l.2 1.4l.2 3.9l.2 .2l.1 1.1l.2 1.1l.2 4.6l.2 .6l.2 5l.2 2.3l.2 0l.2-.6l.2 3.5l.2 1.1l.2 2.4l.1-1.3l.2-1.3l.2 6.1l.2 .1l.2 1.6l.2 2l.2-3.2l.2 .5l.1 2.3l.2-1.7l.2 1.8l.2 1l.2 2.6l.2 .4l.2 .6l.2 .2l.1 2.3l.2 .6l.2 3.3l.2 2.3l.2-2.7l.2 3l.1 2.4l.2 .3l.2 3l.2-.2l.2 .2l.2 2.6l.1 .1l.2 0l.2 1.3l.2-1.3l.2-1.1l.2-.6l.1 1.4l.2-1.6l.2 .2l.2 .4l.2 .8l.2-1l.2-5.6l.1-1.5l.2 2.6l.2-3.8l.2 .9l.2-1l.2 .8l.2 0l.1-.9l.2 0l.2 .5l.2-1.7l.2-4.1l.2 1.2l.2-1.3l.2-.1l.1-3l.2 2.4l.2-.6l.2-.9l.2 0l.2-1.3l.2-4.9l.2-.2l.2-.3l.1 .3l.2-2.6l.2 1.6l.2-2.3l.2 .5l.2 .6l.2 1.3l.1-1.9l.2-2l.2 .2l.2 3.8l.2-2.5l.2 2.6l.2 1.2l.1-3.3l.2 2.9l.2 1.1l.2-1.1l.2-1.3l.2-1l.2-3.4l.1 3.5l.2-.4l.2 2.3l.2 1.5l.2-3.9l.2 2.5l.2-2.5l.1 .5l.2 .8l.2 0l.2 .9l.2-2.1l.2 2.3l.2-.2l.1-.3l.2-2l.2-1.5l.2 1.3l.2-3.2l.2 1.3l.2-5l.1 2.3l.2-.8l.2 2.6l.2-2.7l.2-2l.2 .1l.2-1.1l.1 2.3l.2-2.4l.2-.9l.2 1.6l.2 .7l.2-3.2l.2 .7l.1-1.7l.2 1l.2-1.2l.2 .2l.2 1l.2 .8l.2-.5l.2 4l.1 1.7l.2 .4l.2 .5l.2-1.8l.2 2.3l.2-4l.2 1.2l.1 3l.2-.9l.2 .1l.2-1l.2-.3l.2 4l.2-2.7l.1 1.7l.2-1l.2 2.7l.2 .4l.2-.3l.2 0l.2-.3l.1 .6l.2 2.3l.2 .7l.2 .6l.2-3l.2 2.1l.2-.3l.1-3.3l.2 5.3l.2 2.1l.2-3.1l.2 3.1l.2 1.2l.2-1.3l.1-2.1l.2 4.3l.2 .5l.2 .3l.2 .2l.2 0l.2-.8l.1-2l.2 0l.2 2.5l.2 .3l.2-.4l.2 .1l.2 1.6l.1 .9l.2 1.6l.2-.7l.2-.6l.2-.4l.2 .8l.2 1.3l.1 .3l.2 4.1l.2-2.5l.2 4.8l.2 2l.2 1.3l.2-1.8l.1 2.4l.2-1.3l.2-.3l.2 1l.2 5l.2-.1l.2-.4l.1 1.1l.2-.1l.2 .5l.2 .3l.2 1.9l.2 .7l.2-.6l.1-.3l.2-4.9l.2 0l.2-.9l.2-.9l.2 .1l.2 .1l.2-2.7l.1-.6l.2 .1l.2-1.3l.2-.4l.2-.7l.2 .6l.2-1.3l.2-.1l.2 .3l.1 .1l.2-1l.2-.5l.2-1.3l.2 1.4l.2-.2l.2-2.6l.2 3.5l.2 1.2l.2-2.2l.1-.7l.2 .6l.2 1.1l.2-1l.2-.6l.2-1.6l.2 1.2l.2-3.6l.2-.2l.2 .6l.1 .9l.2-1.1l.2 1.5l.2-.1l.2 1.6l.2 1.1l.2-3.6l.2-.9l.2 1.3l.1 1.7l.2 2.5l.2-1.2l.2 .1l.2-.1l.2 .7l.2 .1l.2-3.2l.2 0l.1-.7l.2-.1l.2 .3l.2 2.2l.2-.6l.2 .5l.2 1.2l.2-1.2l.2 .7l.1 0l.2-1l.2 .4l.2 1.6l.2 1.6l.2-.3l.2 0l.2 .3l.1-1.1l.2 .3l.2 .9l.2 .9l.2 .2l.2 3.3l.2-1.6l.2 1.7l.2 3l.1-.3l.2 2.1l.2 1.5l.2-.4l.2-1.1l.2 1.4l.2-.7l.2 1.6l.1 .3l.2 .4l.2 .8l.2-1.4l.2 2.5l.2 .5l.2-1.2l.2-.2l.2 .6l.2-1l.1 2.9l.2 1.4l.2-1.2l.2 1.7l.2 .2l.2-.5l.2-1.1l.2 1.1l.2-2.7l.2 2.7l.1-.1l.2-.5l.2-.6l.2 .7l.2-.5l.2 1.5l.2-.4l.2-1.2l.2-.7l.1 .7l.2-3.3l.2-1.2l.2 .1l.2-1l.2 4.5l.2-.8l.2-2.6l.2 2.5l.1-.5l.2-3.5l.2 .1l.2 .3l.2-.6l.2-2.1l.2-.7l.2 4.3l.2-2l.1-.3l.2-.3l.2-.2l.2-.6l.2-.9l.2-.6l.2-.6l.2 .6l.1 .1l.2 .5l.2 2l.2-1.3l.2-.9l.2 2l.2 3.7l.1-.5l.2-3.5l.2-.2l.2 2.8l.2-1.9l.2 2.4l.2 1.5l.1 1l.2 .4l.2-2.9l.2 3.2l.2-.8l.2-.1l.2 3l.1 2.1l.2-.1l.2 .1l.2-.6l.2 .4l.2 .3l.2-.2l.2 1.1l.1-.4l.2 1.4l.2-1.2l.2-1l.2 2.1l.2-.5l.2-1.5l.1 4.1l.2-.1l.2-.2l.2-.3l.2 .3l.2-1.1l.2 1.1l.1 .7l.2-.5l.2 3.9l.2-2.3l.2-2.1l.2 .4l.2 2.3l.1-1.2l.2 .3l.2 2l.2 .2l.2-.1l.2 1l.2-1.1l.2 1l.1 2.2l.2-1.3l.2 1.4l.2-2l.2 .6l.2 2.3l.2 .7l.2 .1l.2-4.2l.2 2l.1 1.2l.2 0l.2 .1l.2 1.5l.2-.3l.2-.1l.2 0l.2-1l.2 .4l.1 .4l.2-2.1l.2-.6l.2 .7l.2-2.8l.2 1.8l.2-.3l.1 .4l.2 1.4l.2-.1l.2-1.8l.2-1.6l.2-.2l.2-.5l.1-.9l.2 1.4l.2 1l.2-2.2l.2-.3l.2-3.4l.2 .5l.1 1.6l.2-.3l.2-.7l.2 1.3l.2-.7l.2-.6l.2 .9l.1-.4l.2-.7l.2-1l.2 .8l.2-.5l.2-1.6l.2-.6l.1 1.4l.2 .6l.2 .1l.2-.3l.2-1.1l.2 1.1l.2 .5l.2-.6l.2-1.6l.2 1l.1 4l.2-3.7l.2-1.3l.2 2.8l.2 .4l.2 .1l.2-2.4l.2 2.1l.2 1.7l.2-.6l.1 2.9l.2-.3l.2-.7l.2-.4l.2-2.6l.2 .9l.2 1.9l.2 .5l.2 .1l.2-.3l.1-.1l.2 1l.2 .2l.2 1.1l.2-.8l.2 .2l.2 2.2l.2-1.4l.1-.9l.2-.4l.2-1l.2 2.4l.2 2.4l.2 .5l.2-4.3l.1-.1l.2-.5l.2 .5l.2 1.7l.2 .5l.2-1.6l.2-.1l.1 2.2l.2 1.9l.2 .4l.2-1.9l.2-.1l.2 1.2l.2-.2l.1 .1l.2-.1l.2-.3l.2 .3l.2-1.6l.2-.1l.2 .1l.2-.3l.2 .2l.2-.3l.1 1l.2-.8l.2 3.7l.2-2.1l.2-1.7l.2-.1l.2 .1l.2 .6l.2 2.5l.2 .1l.1 2.2l.2-1.5l.2 .2l.2 1.3l.2-.7l.2-.6l.2-1.4l.2-.9l.2 0l.2 .1l.1 .3l.2 1.4l.2-1.3l.2 1l.2-.2l.2 .2l.2 .3l.2 1.2l.2 1.6l.1 .8l.2 1.6l.2-.5l.2 1.4l.2 2.5l.2 1.7l.2 .4l.2-.2l.1 .3l.2 1.9l.2-.1l.2 .2l.2-.1l.2 .7l.2 1l.2 .6l.1 .5l.2 3l.2 .7l.2 1.2l.2 .1l.2 .5l.2 1.2l.2 1.5l.2-.8l.1 1.1l.2-.3l.2 2.4l.2 1.2l.2-.6l.2 1.8l.2 .6l.2-.3l.1 .5l.2 .4l.2-.8l.2 .4l.2-1.6l.2 1.1l.2-2.7l.2-1.2l.2-.7l.1 1l.2 0l.2-1.1l.2-.4l.2-.5l.2-.4l.2-.5l.2-.2l.1 .8l.2-1.8l.2 .8l.2-2.9l.2 .7l.2 .3l.2 1.2l.2 1.2l.1-.2l.2 2l.2-.2l.2-.1l.2 1.3l.2 .1l.2 .7l.2-.1l.2 .1l.1 .2l.2 .5l.2 1.2l.2-1.6l.2 1.5l.2-.3l.2 2.4l.2-.2l.1-.1l.2-1.9l.2 .5l.2 0l.2-1.4l.2-.1l.2 .1l.2-.8l.2-.3l.1-.2l.2-.7l.2-.4l.2-.4l.2-2l.2-1l.2 .4l.2-.4l.2-2.2l.1-.5l.2 1.6l.2 1.7l.2-2.7l.2-.2l.2 .2l.2 .4l.2-.7l.2-.9l.1-.2l.2-3.4l.2 .2l.2 .1l.2-.5l.2-.2l.2 2.1l.2-1.7l.1 .2l.2 .2l.2 1.6l.2 .9l.2 1.7l.2-1l.2 .5l.2 .8l.1 0l.2 .7l.2-.6l.2-.1l.2 1.9l.2-1l.2 .5l.2-.1l.1-.2l.2 2.6l.2-1.3l.2 .9l.2 .1l.2 .8l.2 .4l.2 0l.1 .7l.2 .3l.2-.8l.2 1.4l.2-1.6l.2-1.3l.2-.6l.1 1.1l.2-1.3l.2-.2l.2 1.6l.2 1l.2-1l.2-2.1l.1 .7l.2-.2l.2-.8l.2 1.5l.2-.1l.2-1.1l.2-.5l.1 .1l.2-.5l.2-2.2l.2 .5l.2 .2l.2 0l.2 0l.1 .7l.2 .6l.2 .1l.2 .1l.2 .4l.2-1.1l.2-.1l.2-.8l.2 1.7l.2 .2l.1-1.3l.2-.9l.2-1.4l.2 2.7l.2 1.5l.2-2.2l.2 2l.2 .5l.2 .3l.2-2.5l.1 0l.2 .4l.2 1.9l.2-.5l.2-2.5l.2 1.6l.2 .1l.2 .2l.2-.4l.2 0l.1 .6l.2 .3l.2-.9l.2 .2l.2-.2l.2 .2l.2-.5l.2 .2l.2 1.3l.2 .1l.1-1l.2-1.4l.2-1.1l.2 0l.2-1l.2 1.6l.2 .9l.2-2.8l.2 1.7l.2 .5l.1 .1l.2 1.9l.2-.1l.2-3.4l.2 .3l.2-1l.2 1.9l.2 .5l.2-3l.2 1.7l.1-.2l.2-1l.2 .3l.2 .1l.2 .3l.2 .2l.2-.3l.2 1l.2 .9l.1-.5l.2 .7l.2 .9l.2-1.5l.2 1l.2 .8l.2 .5l.1 .1l.2-.7l.2 1.1l.2 1.1l.2-2.7l.2 1.2l.2 .1l.1 .3l.2 1.7l.2-1.8l.2-.4l.2 .6l.2 2.2l.2-1.3l.1 .2l.2 0l.2 .1l.2-.1l.2 .6l.2-1.4l.2 0l.1 .8l.2-.6l.2 1.9l.2 .8l.2 1.7l.2-1.2l.2-.5l.2 1.1l.2-2.7l.1 1.8l.2 .3l.2 2l.2-2l.2-.2l.2 .7l.2 .4l.2 .1l.2-.8l.1-.3l.2-1l.2 1.2l.2-.3l.2 .3l.2 1.9l.2-1.4l.2-2.3l.2 .3l.1 2.2l.2-3.4l.2 1.9l.2 .6l.2-1.2l.2 2.6l.2-4.4l.2-.1l.2 2.1l.2-1.1l.1 .6l.2-1.3l.2-.7l.2 0l.2 0l.2 0l.2 .4l.2 1.3l.2-1.2l.2 .5l.1-.4l.2 .5l.2 .7l.2 .1l.2-1.2l.2-.1l.2 1.2l.2-1.3l.1-2.4l.2 1.8l.2 1.4l.2-1.7l.2-.3l.2-2.2l.2 1.7l.1 0l.2-1.6l.2 1.3l.2 .2l.2-.3l.2-.4l.2-.1l.1 .2l.2-.3l.2-1.1l.2 .5l.2 .7l.2 0l.2-.7l.1 .4l.2 .7l.2-.7l.2-.3l.2-.1l.2-.4l.2 2l.1 .1l.2-.9l.2 .9l.2-1.2l.2-.6l.2-.6l.2 0l.1 1.1l.2-1.7l.2 .1l.2 .1l.2-.1l.2 1.4l.2-.5l.1-.1l.2-1.8l.2-.1l.2 .2l.2-.3l.2 1l.2 .1l.1 .4l.2-1l.2 1.3l.2-1.6l.2 .3l.2-.8l.2 1.5l.2 2.1l.1-4.5l.2 1.7l.2 2.1l.2-1.4l.2-.1l.2-.5l.2 2.3l.2-2.4l.2 1.6l.1-2.3l.2 1.2l.2 0l.2 .2l.2-1.3l.2-2.2l.2-1.9l.2 .4l.1 .2l.2-2.4l.2-.7l.2 0l.2 1.8l.2-2.4l.2-.1l.2-2.1l.2-1.1l.1-.2l.2-.8l.2-.3l.2 .3l.2 0l.2-.5l.2 0l.2-.6l.1 .1l.2-.2l.2-.3l.2-2.3l.2 .8l.2 .3l.2 .6l.2-.8l.1-2.5l.2-.2l.2-.1l.2 1.9l.2-.4l.2 .2l.2-1.4l.2-.1l.2 .8l.1-.9l.2-.7l.2 .9l.2-1.7l.2-.3l.2-1.4l.2 .2l.2-2l.1 3.1l.2-2.7l.2 .1l.2-1.2l.2-.7l.2 .1l.2-2.9l.2-1.7l.1 .2l.2-.5l.2 0l.2-.5l.2 .3l.2 .4l.2 1.3l.2 .4l.2 .7l.1 0l.2 1.7l.2-1.4l.2-2.8l.2 .8l.2 2.1l.2 1.9l.2 .5l.1 1.2l.2-2.1l.2 1l.2 1.4l.2-1.1l.2 .7l.2 .3l.2 0l.1 .5l.2 3.3l.2-.2l.2 1.5l.2-1.2l.2 0l.1-.1l.2 .3l.2 1.3l.2 1.4l.2 0l.2-.4l.1 1.3l.2 .2l.2 .8l.2-1.4l.2-.3l.2 1.3l.2-2l.2-.4l.2-.1l.1-.6l.2-.9l.2 1l.2 .5l.2 .6l.2-.5l.2-2l.2 1.2l.2-1l.2-.1l.2-1.3l.1-.8l.2 1.1l.2-.7l.2-.2l.2 .1l.2 1.9l.2-1.4l.2 1l.2-1.1l.2-1.8l.1 1.7l.2 1.1l.2-1.4l.2-.4l.2-1.7l.2 1.7l.2 .4l.1-1.7l.2-.3l.2-.3l.2 2.3l.2 .4l.2-2.2l.2 .3l.1-.8l.2 .7l.2-.8l.2-1.5l.2 .8l.2 1l.2-.4l.1-.5l.2-.2l.2 1l.2-.3l.2-.7l.2-.7l.2-1.4l.2 .4l.2 .9l.1-2l.2 .8l.2-4.2l.2 0l.2 .9l.2 1.1l.2-1.1l.2-2.2l.2-.8l.2-.7l.1 .9l.2 0l.2-1.2l.2-.1l.2-.1l.2-.8l.2 .5l.2 1.7l.2 .7l.2 1.2l.1-2l.2 3.2l.2-1.4l.2 1.6l.2-1.2l.2-.7l.2-1.1l.2 1.2l.2 2.4l.2 .9l.2 0l.2 .1l.1-1.5l.2 .6l.2 1l.2 .2l.2 2.9l.2-.4l.2 1.3l.2 .1l.2 .8l.2-.2l.2 2l.1 .8l.2 1.8l.2-.1l.2 .6l.2 .7l.2 .6l.2 .8l.2-1.5l.2 1.2l.2-.8l.1 .9l.2-1.2l.2 1l.2 3.1l.2 .4l.2-.8l.2-.1l.2 2l.2 .6l.2-1.2l.2 .4l.1 .9l.2-1.4l.2-1.8l.2 2.9l.2-1.7l.2-1l.2 .1l.2-1.4l.2 1.9l.2-1.7l.2-2.2l.2-.9l.1-.6l.2 1.5l.2 1.4l.2-.6l.2-1.8l.2-.7l.2-.9l.2-1.9l.2 0l.2 .8l.2-1.5l.1-.6l.2-.1l.2 .2l.2 1.2l.2-2l.2 .9l.2-.6l.2-.6l.2 .1l.2-1.3l.2 .1l.2-.4l.1 2.2l.2-2l.2-.5l.2-.7l.2-.9l.2 1.1l.2-.4l.2 1.2l.2-1.4l.2 1.1l.2-1.1l.2 .8l.1-.3l.2-.2l.2 .2l.2 .7l.2 1.7l.2-1l.2 1.5l.2-2.1l.2 .3l.2 1.4l.1 1.7l.2-1l.2-.9l.2-1.3l.2 1.6l.2 1.1l.2-.7l.2 .5l.2 .5l.2 .1l.1-1.7l.2 3.6l.2-2.4l.2 1.2l.2 .9l.2 .8l.2-.3l.2-.6l.2-1.2l.2 .7l.1 0l.2 .4l.2-.4l.2-1.1l.2 1.4l.2 .1l.2-.7l.1-.8l.2 1.1l.2-1.5l.2-1.4l.2 0l.2 1.5l.2-.6l.1 2.1l.2 .1l.2-1.1l.2-.4l.2-2l.2 .2l.2-.5l.1 1.3l.2-1.6l.2-.5l.2 1.8l.2-1.9l.2 .1l.2-.3l.1-.3l.2 .7l.2-2.7l.2 .6l.2 .5l.2-.8l.2-.7l.2 .5l.2-2.5l.2 .8l.1-.8l.2 2.4l.2-.1l.2 1.4l.2-1.5l.2-2.8l.2 .3l.2 .4l.2 1.1l.2 1l.1-3.7l.2 .5l.2-.9l.2-2.2l.2 .1l.2 1.4l.2 1l.2-1.5l.2-.1l.2-1.7l.1 1.7l.2 1.1l.2-.6l.2-1.5l.2 1.7l.2-.1l.2 1.4l.2-1.5l.2-.1l.1-.1l.2 1l.2 .4l.2 1.6l.2-1.2l.2 .7l.2 1.3l.2-1.2l.1 .6l.2 3.8l.2-2.4l.2 1.2l.2 1.3l.2 .4l.2-.2l.2 1.3l.1 .6l.2 1.6l.2-1.5l.2-.5l.2-.1l.2 2l.2-.3l.1 .7l.2 3.1l.2-.8l.2-.3l.2 2.4l.2-2.4l.2 1.5l.1-.6l.2 1l.2 .3l.2 .2l.2 .8l.2 1.2l.2 1.9l.1 2.5l.2 .9l.2-1.3l.2-.3l.2 1.9l.1 .9l.2 0l.2 .3l.2 1.8l.2 1.2l.2 .1l.1 1.2l.2-1.3l.2 .5l.2 .1l.2-.1l.2-2l.2-1.1l.1 .2l.2 1l.2-2.3l.2 1.1l.2 1l.2-.7l.2-.5l.1 .5l.2 .4l.2 .5l.2-1.3l.2 .5l.2-2.7l.2-2.3l.1 2l.2-2.5l.2 2.4l.2-.9l.2-.1l.2-.7l.2-.3l.2 .1l.1-.1l.2 .1l.2 .2l.2-1.4l.2 .5l.2-.1l.2 1.4l.2-.8l.2-1l.2-1.7l.1-.5l.2 2l.2-1l.2 .8l.2 1.1l.2-.2l.2-.2l.2-1.8l.2 1.4l.1-1.5l.2-2.9l.2 1.1l.2-1.9l.2 2.6l.2-.9l.2 1.4l.2 0l.2-1l.2-.9l.1-1.2l.2-.2l.2 .6l.2-.5l.2-.1l.2 .4l.2-.6l.2-1l.1 1.6l.2 .5l.2 .9l.2-.6l.2-1.7l.2 2.7l.2-.8l.1 2.3l.2-.3l.2-4.6l.2 .4l.2-.2l.2 .1l.2 1.3l.1 1.7l.2-.3l.2-.4l.2 .9l.2-1.4l.2-.3l.2 .2l.1 1.1l.2 .7l.2-1.3l.2-1.2l.2 .2l.2-1.4l.2 .4l.2 0l.2-.6l.2 .6l.2-.4l.2-.6l.1 2.1l.2-1.8l.2 1.1l.2-1.1l.2 1.5l.2-.2l.2-1.2l.2-1l.2 .3l.2 .2l.2-.2l.1-.5l.2 .4l.2-.3l.2-.7l.2 2.8l.2-1.3l.2-.6l.2 .6l.2 .4l.1 .1l.2 .1l.2 .4l.2-.1l.2 .2l.2 .4l.2 .2l.2 .4l.1 1.1l.2 .7l.2-.3l.2 1.1l.2 1.4l.2-.4l.2-2.5l.2 0l.1 1.3l.2-.5l.2 .8l.2 1.8l.2 .1l.2 .2l.2 .1l.2 .2l.1 .5l.2 .9l.2 1.2l.2 .2l.2-1.5l.2 1.8l.2-1.7l.2-1.2l.2 1.4l.2 .3l.2-.6l.2 .9l.1 0l.2-.4l.2-.8l.2 .7l.2 1.5l.2-2.1l.2 2.3l.2 1l.2-1.1l.2 .3l.2-.8l.2-1l.1-.9l.2 .2l.2-.3l.2-.6l.2-.6l.2-2.2l.2 1.8l.2 .5l.2-.2l.2 .6l.1-1.9l.2-2l.2-1l.2 1.3l.2-1.1l.2 .3l.2 .1l.2-2.3l.2-1l.2-.2l.1-.1l.2 1.2l.2-.6l.2 1.3l.2 1.5l.2 .4l.2 .4l.2 1.1l.1 0l.2 0l.2 .8l.2-2.1l.2-.6l.2 .6l.2 3l.2-.2l.1-.1l.2 .8l.2 1.2l.2 .1l.2 1l.2 .2l.2 .5l.2 1.3l.2 .2l.2 3l.2-.5l.1 1.4l.2 1.7l.2 1.5l.2 .4l.2 .1l.2-1.6l.2 2.3l.2-.9l.2 0l.2 2.3l.2 2.2l.2-.6l.1 2l.2-.1l.2-.6l.2 1.7l.2 1.1l.2 .3l.2 .2l.2-1.4l.2 .2l.1-1.4l.2-1.5l.2 2.2l.2-.2l.2-2.3l.2 .5l.2-.1l.2-1.1l.1 .3l.2-.2l.2-1l.2-2.5l.2 .2l.2 1.4l.2 1.7l.2-4l.1 1.4l.2-1.5l.2 .5l.2 .6l.2-1.2l.2 .9l.2-2.4l.2 .5l.1-.7l.2 .4l.2-.1l.2-.1l.2-.3l.2 0l.2-.4l.2 1.2l.2 .6l.2 .1l.1 0l.2-.3l.2-.4l.2-1.1l.2 .6l.2-1.2l.2 2.1l.2-1.7l.2 2l.2-1.1l.1-2.6l.2 1.2l.2 .8l.2-1.5l.2 1.6l.2-.6l.2 1.2l.2 1.4l.2-2.7l.2 1.1l.1-.9l.2-.6l.2 1.2l.2 .1l.2-.2l.2 1.2l.2-.4l.2 .9l.1 .5l.2 2l.2 .8l.2 .5l.2-1.8l.2 .4l.2 .6l.1 1.6l.2 1l.2-.3l.2 1.9l.2-1.7l.2 2.4l.2 .7l.1 1.2l.2 .6l.2 .3l.2-2l.2 2.2l.2 .9l.2-.2l.1 0l.2 .2l.2-.1l.2 1.1l.2 .2l.2-1.3l.2-.1l.2 .5l.2 .1l.1-1l.2 .7l.2 1.4l.2-.8l.2 .2l.2-2.1l.2 .4l.2 .7l.2 1.1l.2-1.2l.1 1.5l.2-2.2l.2 .7l.2-.7l.2-1.2l.2-.3l.2 1.4l.2 1.6l.2-.9l.2-1.6l.1-.2l.2-.5l.2 0l.2 1l.2 1l.2-.8l.2 .3l.2-.3l.2-.6l.1 0l.2-.1l.2 .1l.2 2l.2-.3l.2-1.5l.2 0l.2-1l.2 0l.1 2.8l.2-2l.2-.5l.2 .3l.2-.5l.2-1.7l.2 2.7l.2-2.2l.1-.2l.2 2.6l.2-2.6l.2 1.2l.2-.2l.2 0l.2 1.5l.2-.6l.1 1l.2 .2l.2-.1l.2-.5l.2-1.2l.2 .3l.2 .1l.2-1.7l.2 .5l.1-.3l.2 .8l.2-.3l.2-.8l.2-.1l.2-1.7l.2-1l.1-.4l.2-1.6l.2 2.2l.2-.5l.2-1.7l.2-2.1l.2-.4l.1-.4l.2 .9l.2-2.6l.2-.4l.2 1.8l.2 .1l.2-.8l.1-2.7l.2-.8l.2-1l.2-2l.2-.9l.2 .3l.2-.2l.1-.4l.2-.7l.2 .2l.2-.3l.2 .3l.2 .1l.2 .9l.2-1.2l.2 .2l.1 .9l.2 1.6l.2-.8l.2 2l.2 1.1l.2-2.2l.2 1l.2-.8l.2 .8l.1 2.8l.2 1.6l.2-1.7l.2 .8l.2 .3l.2-1.9l.2 2.6l.2-.4l.2 .4l.1-1.7l.2 1.8l.2 0l.2 .6l.2 1.1l.2-.1l.2-.6l.2 .6l.2 .9l.1 1.2l.2-1.6l.2-1l.2 1.3l.2 .4l.2-.7l.2-.4l.2 1.3l.2 .4l.2 0l.1-.9l.2 .6l.2 2.3l.2 1.1l.2-1.7l.2 .1l.2 .1l.2 1.9l.2-.6l.2 .9l.1 1.7l.2-1.7l.2-1.7l.2 .8l.2 .8l.2 1.4l.2-.1l.2-.8l.2 .7l.2 .6l.1 0l.2-.4l.2-.2l.2 .4l.2 2l.2-1.7l.2-.4l.2 1.9l.2-1.9l.2 1.1l.1 1.6l.2-.7l.2-.7l.2-.4l.2 .2l.2 .7l.2-.8l.2 1.1l.2 1l.2-.7l.1-.8l.2 1.2l.2 0l.2 0l.2-.2l.2-1.5l.2 1l.2-.6l.2 .2l.2 0l.1 .3l.2-.6l.2 .2l.2 .3l.2-1.1l.2 0l.2 .5l.1-.3l.2-.4l.2-1l.2-1.9l.2-.3l.2-.5l.2-2.7l.1 .7l.2-.5l.2 1.5l.2-2.6l.2 .2l.2-1.2l.2-.2l.1 2.4l.2-1.4l.2-1.3l.2-2.8l.2-.1l.2 .7l.2-.3l.2-.5l.1-.5l.2-.4l.2 1.2l.2 .6l.2-.8l.2 2.1l.2 .3l.2-.2l.2-.8l.1 1.8l.2-1l.2 .2l.2 .1l.2 .5l.2-.2l.2 .2l.2-3l.2 2.8l.2 2.2l.1 .1l.2-4.3l.2 .6l.2 1.9l.2 1.6l.2-.7l.2-.6l.2 .4l.2 1.5l.2 .7l.1 .1l.2 0l.2 0l.2-1.2l.2 .3l.2-1l.2 0l.2 .6l.2-1.8l.1 2.4l.2-1.4l.2-1.4l.2 2.1l.2 .9l.2 .2l.2-2.3l.2 .1l.1-1.8l.2 1.3l.2 1.2l.2 .1l.2-1.8l.2 1.1l.2-.6l.2-1.2l.2 .6l.1 .4l.2-1l.2-1l.2 1.5l.2-2.1l.2 .1l.2 1l.2-.4l.1 .4l.2-.9l.2 2.6l.2-3.2l.2 0l.2 1.6l.2-.3l.2-.2l.2-.1l.1-.5l.2-.1l.2 3l.2-2.4l.2 .5l.2 1.3l.2 .4l.2-.6l.1-.3l.2 .8l.2-1.7l.2 1l.2 .2l.2-1.8l.2 1.1l.2 0l.1-.9l.2 1.4l.2 .5l.2-.9l.2 1.3l.2-.7l.2-.1l.2 1.1l.2 .6l.1-1l.2-.6l.2 1.7l.2-.5l.2 .5l.2 .2l.2 .5l.2-.7l.2 .4l.2 .9l.1 0l.2-1.3l.2 .8l.2 2.3l.2-2.9l.2 .8l.2-.3l.2 2.9l.2 .4l.2-.9l.1 1l.2-.6l.2-.6l.2 .5l.2 .9l.2-.2l.2 .5l.2-1.1l.2 .4l.2-.2l.1 0l.2 .4l.2-.1l.2-.8l.2 .9l.2-.7l.2-.1l.2 .5l.1 .4l.2 1.8l.2 .9l.2-.9l.2-.4l.2 1.6l.2-.8l.2 .7l.1-.9l.2 1l.2-1.1l.2 .7l.2 1l.2-1.4l.2-.2l.2 2.3l.1-1.4l.2 1.1l.2 .2l.2-.6l.2 .5l.2 .5l.2-1.4l.2 1.4l.1-2.3l.2-.2l.2 .3l.2 1.8l.2 0l.2-2.5l.2 1.8l.1-1.5l.2 .9l.2-.7l.2 1.3l.2-2.8l.2 1.3l.2 .5l.2-.7l.1-1.1l.2 .2l.2 .4l.2-1.2l.2 2.8l.2 .1l.2 .3l.2-.3l.1-2.6l.2 .1l.2 .5l.2 .8l.2-.9l.2-.4l.2 1.1l.1 1l.2-2l.2 .1l.2-.7l.2 .8l.2-.2l.2 1.1l.2-.5l.1 .3l.2-.4l.2-1.7l.2 .5l.2 .6l.2-.2l.2-.9l.1-1.5l.2 .6l.2 1l.2-1.1l.2 .5l.2 1.4l.2 .9l.1-1.3l.2 .4l.2-.8l.2 1.1l.2-.2l.2-2.6l.2-.3l.1 .9l.2 .8l.2-1.1l.2 .7l.2 0l.2-1.3l.2-.6l.1-1.7l.2 .2l.2-.1l.2-1.8l.2 1.1l.2-1.1l.2-1.1l.1-.3l.2 1.8l.2-1.2l.2-1.6l.2-.1l.2 2.3l.2-1.4l.1 .1l.2 .6l.2-2.2l.2 .9l.2 .7l.2 .1l.2-2.9l.1 1l.2-.7l.2-1l.2 1.4l.2 1l.2-1.9l.2-1.1l.1 .2l.2 2.2l.2-2.6l.2 1.6l.2 .8l.2-3.4l.2 2.5l.1 0l.2-1.3l.2 1.1l.2-.2l.2-.6l.2-.1l.2-.5l.1-.7l.2-1.1l.2 1.3l.2 .3l.2-1.4l.2 1.8l.2-1l.1 .7l.2 .6l.2-.9l.2 .7l.2 0l.2 .7l.2-.4l.1 2.5l.2-1.5l.2 2.1l.2 .2l.2 1.6l.2-.7l.2-1.3l.1-.7l.2 2.3l.2 1.3l.2-2.5l.2-.1l.2 .4l.2 2.4l.1-.2l.2 .2l.2 1.8l.2-1.3l.2-.1l.2 .4l.2 .5l.1 0l.2 .2l.2 .6l.2-1.2l.2 1.1l.2 .5l.2 .7l.1-.2l.2 3.1l.2-1.3l.2 1.2l.2-1.3l.2 3l.2-2.7l.1 .8l.2 .1l.2 0l.2 .3l.2 2.5l.2-.1l.2-.2l.1 .2l.2 1.1l.2 .6l.2-.5l.2 .2l.2-.1l.2 .5l.2-.3l.1 1.2l.2-1.1l.2 1.5l.2-1.5l.2 1.1l.2-1.1l.2-.6l.2-.6l.2 .9l.1-1.2l.2 2.2l.2 1.4l.2 .3l.2 0l.2 .1l.2-3.4l.2-.3l.2 1.8l.2 1l.1-1.7l.2 .9l.2-1.8l.2 .5l.2-.5l.2 2.3l.2 .8l.2-.4l.2 .2l.2-.6l.1-1.2l.2 .9l.2 .7l.2-.9l.2 .2l.2-.9l.2-.2l.2 1.5l.2 1l.2-.4l.1 .4l.2-2.2l.2 .6l.2 1.5l.2-.6l.2-1.2l.2 0l.2-2.5l.2-.1l.2 .5l.1 .3l.2 1.5l.2-.3l.2-.1l.2-.6l.2 .6l.2 .7l.2-.8l.2 .5l.2-.9l.1-.2l.2-.4l.2-.3l.2 1.4l.2-.8l.2-.1l.2-.5l.2 .3l.2-.4l.1 1.5l.2-.1l.2-1.5l.2-.2l.2 .8l.2 .3l.2 1.5l.1-1.3l.2 .2l.2 1.7l.2-1.2l.2 0l.2 .2l.2-1.9l.1-.8l.2 1.7l.2 1.4l.2-.2l.2 0l.2-.9l.2 .2l.1 .2l.2-.2l.2 1.5l.2 .9l.2-1l.2 .3l.2 2l.2-.6l.1 1.9l.2 .8l.2 .5l.2-1.4l.2 .8l.2-.6l.2 .4l.2-.3l.1 .2l.2 2.7l.2-.8l.2 1.9l.2-.4l.2 .5l.2 1l.2-.1l.2-.1l.1 .4l.2-.1l.2 .9l.2 1l.2 0l.2 .1l.2 0l.2-.7l.2-.6l.2 2.1l.1 0l.2-.7l.2-.8l.2 .8l.2 2.5l.2 .4l.2 .4l.2-.4l.2-.7l.2 .6l.1 1l.2-1.5l.2 .9l.2 1.2l.2 1.2l.2 .1l.2-.3l.2 .1l.2 .2l.2-.2l.1 .4l.2-1.1l.2 .2l.2-.3l.2-1l.2-.4l.2 2.5l.2 0l.2 .1l.2-1.4l.1-2.1l.2 .9l.2 2l.2 .3l.2-2l.2-1.6l.2 2.2l.2-.9l.2 1.7l.2-1.1l.1 .3l.2 .4l.2-2.5l.2 1l.2 .3l.2-.6l.2-.1l.2-2l.2 0l.2 0l.1 1.2l.2-.3l.2-.1l.2 .2l.2-1.4l.2 0l.2 .5l.2 1.6l.1-.2l.2-1.4l.2-.4l.2 .8l.2-.7l.2-.2l.2-1l.1-.7l.2-.4l.2 1.7l.2-.8l.2-.1l.2 .7l.2 .2l.1-2.1l.2 0l.2 1.5l.2 .2l.2-.1l.2-.3l.2-.8l.1 .5l.2 .8l.2-.7l.2 .7l.2 1l.2-.2l.2 .8l.1-.2l.2 .2l.2 1.5l.2 .4l.2-1.1l.2-.1l.2 .2l.1-.1l.2 .7l.2 .2l.2 .3l.2 .4l.2 .8l.2-.6l.1-.3l.2 2l.2 .5l.2 .7l.2-1.1l.2 .3l.2 .9l.1 0l.2 .2l.2-.4l.2 .3l.2-.7l.2 .3l.2 1.6l.1-.8l.2 .9l.2-1.3l.2 .8l.2 1.9l.2-.6l.2 1l.1-1.4l.2 2.6l.2-1.6l.2 .9l.2 1l.2 .1l.2-.3l.1 0l.2 .8l.2-.8l.2 .2l.2-.9l.2 .9l.2 .2l.2-.1l.1 0l.2-.7l.2-1.2l.2 0l.2 .2l.2-1.5l.2 .4l.2 .4l.2-.1l.2 .6l.2-.9l.2 1l.2 1.2l.1-.5l.2-.3l.2 .7l.2 1.7l.2 2.4l.2-.5l.2 .3l.2 1.1l.1 .8l.2 1.4l.2 0l.2 .1l.2 1.2l.2 .4l.2 .4l.2 .5l.1 .2l.2 .5l.2-.2l.2-.1l.2-.7l.2 .7l.2-.1l.2 .2l.2 .3l.2-1.6l.2-.7l.2 .5l.1 .6l.2 .1l.2-1.2l.2 .9l.2-1.6l.2 0l.2-.6l.2 .4l.2 .2l.2-1.3l.2-.6l.1 .5l.2-.9l.2 .6l.2 .3l.2 .4l.2 .5l.2-.2l.2 .7l.2 .4l.1-.2l.2 0l.2 .5l.2 .7l.2 1.3l.2-1.1l.2-.9l.2 1l.2 1l.1 0l.2-.4l.2 1l.2 .4l.2 .6l.2 1l.2 .4l.2 .6l.1 .4l.2-.6l.2 1.3l.2 1.7l.2-.7l.2 1l.2 1.2l.1 .4l.2-.3l.2 0l.2-.2l.2 .3l.2 1.4l.2 .2l.1 .5l.2-.3l.2-.3l.2-.5l.2-.2l.2 .3l.2-1.5l.2 .8l.2 .2l.1 .5l.2-.3l.2-.2l.2-1.1l.2-.2l.2-1.4l.2-.6l.2-.7l.2 .5l.2 1.1l.1-1l.2 .2l.2-1.1l.2-.2l.2-.1l.2 .6l.2-1l.2-.5l.1 1l.2-1.5l.2 .5l.2-.4l.2-.1l.2 .3l.2 .2l.1-.4l.2 1.1l.2-.1l.2-.5l.2 1.6l.2-.4l.2 .2l.1-.1l.2-1.6l.2-1.1l.2 1.1l.2 0l.2-.3l.2 .7l.1-.5l.2 0l.2 .3l.2-.6l.2 .3l.2-.4l.2-.3l.2 .3l.1-1l.2-.3l.2-.2l.2-1.5l.2-.6l.2-1l.2-.1l.2-.5l.2 1.1l.1-.8l.2 .4l.2-1.1l.2 .2l.2-.2l.2-.2l.2 .9l.2-.5l.1 1.2l.2-.8l.2 1.6l.2-1.1l.2 1.7l.2 .2l.2-.8l.1-.2l.2 .4l.2 .7l.2 .1l.2-1.8l.2 1.2l.2-1.1l.1 .4l.2 .5l.2-.3l.2 .3l.2 .9l.2-.4l.2 .4l.1 1.3l.2-.5l.2 .6l.2-.4l.2-.8l.2-.1l.2-1l.1-.4l.2-.4l.2-.1l.2 .9l.2-1l.2 .5l.2-.3l.2-1.7l.1-.9l.2 .8l.2 0l.2-1.1l.2-.4l.2 .8l.2-1.2l.1 1.8l.2-3.4l.2-.3l.2 1l.2-1.7l.2-.3l.2-.3l.2-.4l.1 .3l.2 .3l.2-.2l.2-.5l.2-.8l.2-.1l.2-.7l.2-.3l.1 0l.2 0l.2-.3l.2-.2l.2 1.3l.2-.6l.2 .7l.1 .9l.2 .1l.2 .1l.2-.6l.2-1.2l.2 1.6l.2 .1l.2-.5l.1 .6l.2 .5l.2 .6l.2-1l.2 1l.2-.3l.2 .2l.2-.2l.1 .7l.2-.4l.2 .1l.2 .3l.2 1.6l.2-.1l.2-.2l.2 .2l.1 .1l.2 .5l.2 .4l.2-.6l.2 .4l.2-1.4l.2 .2l.1 .8l.2 1.4l.2 .2l.2-2l.2 1.2l.2-.2l.2 .9l.1-.7l.2-.1l.2-.8l.2-1l.2 .1l.2 1.1l.2 .8l.1 .7l.2-.9l.2 .5l.2 .2l.2-1.5l.2 .7l.2 .4l.2-.8l.1 .8l.2 0l.2 .6l.2-.6l.2-.9l.2 .2l.2 .5l.2 .3l.2-.5l.2 .4l.1-1.7l.2-.2l.2-.7l.2 .3l.2 1.6l.2 .2l.2-1.5l.2 1l.2-.1l.1-1.1l.2-.5l.2-1.6l.2-.1l.2 .5l.2-.4l.2 1.8l.2-1.5l.2-.7l.2 1l.1-.5l.2 .1l.2 .1l.2 .3l.2 .5l.2-.1l.2-.5l.2-.4l.2 1.1l.1-.4l.2-.3l.2-.3l.2-.7l.2 .9l.2-1.4l.2 .7l.2-.1l.2-.9l.1 1.7l.2-1.7l.2 2.3l.2-1.5l.2 1.1l.2-.9l.2-.6l.2-.3l.1 1.4l.2-.9l.2-.6l.2 .1l.2 1.1l.2-.8l.2 .2l.2 1.4l.1 .5l.2-.1l.2 .5l.2-.8l.2 .5l.2 0l.2-.2l.2-.2l.2-.6l.1 .4l.2-.4l.2 .5l.2 .4l.2 .8l.2 .2l.2 .5l.2-.5l.2-1l.2 .9l.1-.3l.2 .6l.2-.3l.2 .5l.2 0l.2 .4l.2-1.1l.2 .1l.2 1.2l.2-.1l.1 .7l.2-1.1l.2-.2l.2 1.9l.2-.2l.2 .5l.2 1.1l.2 0l.2 .3l.2-.1l.1-.2l.2-.1l.2-.1l.2-.1l.2-.8l.2 .5l.2-.3l.2 .5l.2-1.1l.2 .8l.1 .9l.2-.4l.2 .8l.2-.6l.2-.7l.2-.3l.2 .9l.2-1.3l.2 1.8l.2 .7l.1-2.4l.2 1.6l.2-1.4l.2 .7l.2-1.3l.2 .9l.2-.5l.2 2.3l.2-.6l.1-.6l.2-.4l.2-.3l.2 1.6l.2-.6l.2-.3l.2 0l.2 .2l.2 .2l.2 1.3l.1 .4l.2-.3l.2 1.7l.2-.1l.2 1.8l.2 .4l.2-.6l.2-.2l.2-.1l.2 1.6l.1-.3l.2 .2l.2 1.3l.2 .7l.2 1.1l.2 .4l.2 0l.2-.7l.2 1l.2-.8l.2 .1l.1 .3l.2-.1l.2-.4l.2-1l.2 .6l.2-.3l.2-.6l.2-.4l.2-1.4l.2 1.3l.2-1.5l.2 1.5l.1-.2l.2-.4l.2-1.2l.2-1.3l.2-.6l.2 .5l.2-1l.2-.1l.2 .2l.2 .1l.2-.1l.1-.2l.2 .3l.2 .5l.2-.4l.2-.1l.2-1.8l.2-.1l.2-.2l.2 .4l.2 1l.1-.8l.2 .7l.2-.3l.2 0l.2 1.4l.2-1.6l.2 .7l.2-.5l.2-1l.2 .6l.1 .3l.2 .5l.2-.6l.2-.9l.2 .8l.2 .1l.2-1.1l.2 1.1l.2-.5l.2-.8l.1-.2l.2 .2l.2 .4l.2-.4l.2-.2l.2-.4l.2 .6l.2 .4l.2-.1l.2-1.2l.1 .4l.2-.3l.2-.8l.2 .5l.2-.9l.2 .5l.2 0l.2-.1l.2 .2l.2-.9l.1-1.4l.2-.3l.2 .8l.2 .3l.2-.5l.2 .5l.2-1.1l.2 1l.2 .2l.2-1.5l.1 .5l.2 .2l.2-.1l.2-.8l.2-.2l.2 .3l.2-.7l.2 .5l.1-.5l.2-.3l.2-.4l.2 0l.2 1.4l.2 1.7l.2-2l.1 .6l.2 1l.2-1.5l.2 1.2l.2-.5l.2 .3l.2 0l.1-.1l.2 1l.2 .2l.2-1l.2 .8l.2-.6l.2 .3l.1-.4l.2 .6l.2-.5l.2-.9l.2 1l.2-.6l.2 .1l.2 0l.2 .8l.1 .4l.2-.5l.2 0l.2 .4l.2-.9l.2-2.2l.2 1.7l.2 .1l.2-1.2l.2 .7l.1-.8l.2 .5l.2-.9l.2-.6l.2 1.8l.2-.9l.2 0l.2 .8l.2 0l.2 0l.2-.8l.1 .2l.2 1.2l.2 2l.2-1l.2 .7l.2 .4l.2-.7l.2 0l.2 .9l.2 .2l.2 1.7l.2 .6l.1 .2l.2-1.4l.2-.6l.2 1.3l.2-.6l.2 1.6l.2-.1l.2 .6l.2-.2l.2 1.2l.1-.3l.2 .6l.2-.1l.2 .3l.2-1.2l.2 .1l.2 1.5l.1-.3l.2-.3l.2-.3l.2 1.4l.2-1.4l.2 .6l.2 .1l.1 1l.2 1.4l.2 .1l.2 .3l.2 .1l.2-.1l.2-.3l.1-.5l.2 .2l.2 .8l.2-.4l.2-.4l.2-.3l.2 1.1l.1 .5l.2-.5l.2 .4l.2-1.5l.2 1.4l.2-1l.2-1.2l.1 .3l.2 .3l.2-.4l.2 1.7l.2 .4l.2-.5l.2-.6l.1-.3l.2 .5l.2-1.7l.2 .8l.2 .7l.2-.3l.2-.2l.1-.6l.2 .5l.2-.2l.2 .3l.2 .4l.2 1.4l.2 .2l.1 .8l.2-.3l.2-.5l.2 0l.2 .2l.2 .3l.2 0l.1 1.6l.2-.3l.2 .7l.2-.2l.2-.3l.2 1.3l.2-.8l.1-.3l.2 .3l.2 .3l.2 1.2l.2 .5l.2 .2l.2 .9l.1-.4l.2-.2l.2 .5l.2-1.1l.2 0l.2-.7l.2 .9l.1 .1l.2-.1l.2 .4l.2-.8l.2 .3l.2-1.3l.2 .5l.1-1.6l.2 1.4l.2-.6l.2-.3l.2-.2l.2 1.1l.2-.5l.1-.4l.2 .2l.2 .1l.2-.3l.2 .4l.2-.3l.2-.8l.1-.2l.2-.1l.2-.2l.2 0l.2-.7l.2 1.1l.2 .1l.1-.9l.2-.6l.2 1l.2-.4l.2-1.3l.2 .5l.2-.6l.1 1.2l.2-1.6l.2 .3l.2-.3l.2 .7l.2 .2l.2-.5l.2 0l.1 .4l.2-.3l.2 .6l.2-.2l.2-1l.2-.7l.2 1.2l.2-.1l.2 .1l.2 .2l.1 .6l.2 0l.2-1.2l.2 0l.2 1l.2-1.4l.2 1.2l.2-.9l.2 .3l.2 .5l.1 .9l.2 .1l.2-1l.2-.6l.2 .2l.2 .7l.2-.2l.2 0l.2 .6l.2-.4l.1 .3l.2 .2l.2-1.1l.2 .8l.2 .7l.2-1l.2 .3l.1 .3l.2-1.6l.2-.3l.2 .5l.2-.2l.2 .4l.2 .4l.1 .4l.2-1.2l.2 .7l.2 .3l.2-.9l.2 .3l.2 .5l.1 .3l.2-1l.2-.1l.2-.3l.2 .3l.2 .8l.2 .4l.1-.5l.2 .4l.2 .7l.2 1.4l.2-.6l.2-.2l.2-.5l.2 .5l.2 0l.1 1l.2 .5l.2 .3l.2 .9l.2-.1l.2 .3l.2-.8l.2 .8l.1 .7l.2 .5l.2-.6l.2-.5l.2 .7l.2 .3l.2 .5l.2-.4l.2-.6l.2-.3l.1 .3l.2 .9l.2-1l.2 .4l.2-.2l.2-.6l.2 1l.2 .6l.2-.2l.2 .5l.1-.3l.2-.2l.2 .3l.2-.4l.2-.9l.2 1l.2 .3l.2-.4l.2-.9l.2-.1l.1-.5l.2 .8l.2 .2l.2-.2l.2 .4l.2 0l.2 .4l.2-.1l.2-.1l.1 0l.2-.2l.2-.7l.2-.3l.2 .3l.2-1.1l.2 1.5l.2 .6l.2-.6l.1-.6l.2 .1l.2 .2l.2-1.3l.2-.3l.2 1.5l.2-.6l.2 1.2l.2-1l.1 .3l.2 .3l.2-.8l.2 .6l.2-.8l.2 .3l.2-.7l.2 .2l.1 .1l.2 1.5l.2 .3l.2-.5l.2 .7l.2 .5l.1 .7l.2 .7l.2 .4l.2-.7l.2 .5l.2 2l.1 .2l.2-.9l.2 .5l.2 .6l.2 .7l.2 .8l.2-.4l.1 .7l.2 .8l.2 .8l.2 .3l.2-.1l.2 .4l.2-.1l.2 .5l.1-1l.2 .9l.2-.1l.2 1.9l.2 .3l.2-.3l.2 .7l.2 .5l.1 .1l.2 .3l.2-.4l.2-.4l.2 .2l.2-.2l.2 0l.2-.9l.2 .6l.2-.5l.1 0l.2 .2l.2 .4l.2-.1l.2-1.4l.2 .5l.2 0l.2 .2l.2-.2l.2-.3l.1 .3l.2 1.1l.2-1.2l.2 .1l.2-.6l.2 0l.2 1.1l.2-1l.2-.1l.2-.9l.1 .3l.2 .7l.2-.7l.2 .2l.2 0l.2 .6l.2 .5l.2-.1l.2-.1l.2-.2l.1-.5l.2 1.7l.2 .2l.2-.5l.2-.8l.2 1.1l.2-.5l.2-.8l.2 1.1l.2-.3l.1 .1l.2 1l.2 .6l.2-1l.2-.1l.2 .1l.2 .6l.2 1.2l.2-.1l.2-.8l.1 .3l.2 .9l.2-.7l.2 .3l.2-.2l.2-.2l.2 .6l.2 0l.2 0l.1 .4l.2 .1l.2-.1l.2 .7l.2 .1l.2-.5l.2 1l.1-.6l.2 .2l.2 0l.2 .9l.2-.5l.2 1.6l.2-.3l.1-.4l.2 .3l.2-.7l.2 .3l.2-.3l.2 .2l.2 .2l.1 .2l.2 .7l.2 .6l.2-.1l.2 .4l.2 0l.2 .3l.1 .1l.2 .1l.2 0l.2-.1l.2 .6l.2-.3l.2 .4l.1-.6l.2 .6l.2 .5l.2 .1l.2 .2l.2-.7l.2 0l.1 .3l.2 .6l.2 .7l.2-.2l.2 .2l.2-.9l.2 .6l.1 .5l.2 .2l.2-.3l.2-.4l.2 .1l.2-.3l.2-.1l.2 .3l.2 .2l.1-.2l.2 .9l.2-.3l.2 .1l.2 .6l.2-.6l.2 0l.2 .6l.2-.6l.2-.2l.1-1.1l.2 .3l.2 .2l.2 0l.2 .2l.2 .1l.2 0l.2-.5l.2 .4l.2 .4l.1-.2l.2-.6l.2 .2l.2 .3l.2 .4l.2 .2l.2-.4l.2 .5l.2-.4l.1 .8l.2-.9l.2 .6l.2-.5l.2 .1l.2 .8l.2 .6l.1 0l.2-.7l.2 0l.2 .5l.2-.2l.2 .2l.2 1.1l.1 .9l.2 .2l.2 .1l.2 .1l.2-.4l.2-.2l.2 0l.1 .6l.2 0l.2 0l.2 .2l.2 .2l.2 .4l.2 .2l.1-.7l.2 0l.2-.1l.2 .4l.2 .8l.2-.6l.2-.3l.1-.1l.2 .1l.2 .1l.2 .3l.2 .4l.2 .1l.2-.2l.1 0l.2 .9l.2 .3l.2 .6l.2-.6l.2-.1l.2 .2l.1 .1l.2 .2l.2 .1l.2-.1l.2 .5l.2 0l.2 .3l.1-.6l.2-.4l.2-.3l.2 1l.2-.1l.2-.1l.2 1l.1-.1l.2-.3l.2-.4l.2 0l.2 .6l.2-.5l.2 .1"/>
<path stroke="#689A34" d="M120.5 773.8l.2 14.1l.2 7.7l.2 16.5l.2 11.6l.2 23.9l.3 16.9l.2 15.5l.2 20.8l.2-2.7l.1-10.4l.2-8.8l.2-12l.2-7.2l.1-3.8l.2-5.6l.2-10.6l.2-2.5l.2-1.4l.1-2.1l.2-9.1l.2-7.7l.2-6.5l.2-3.7l.1-6.1l.2-7.6l.2-8.1l.2-2.1l.2 3.9l.1-9.6l.2-1.8l.2-7.5l.2-2.1l.2-10.7l.2-5.1l.1-11.4l.2-17.5l.2-2.2l.2-4.3l.2 2.5l.2 .2l.2-5.2l.1 1.2l.2-2.1l.2 .4l.2 5.6l.2-4.9l.2 .4l.2-5.4l.1 6.2l.2-2.2l.2 3.3l.2-2.7l.2 7.1l.1 1l.2-1.2l.2-5l.2-.3l.2 2.4l.2 6.4l.2-5.3l.2-.9l.2-5.4l.2 7.1l.2-1.2l.2 0l.1 1.5l.2 2.5l.2-1.2l.2 3.8l.2 4.9l.2-.2l.2-5.4l.2-7.6l.2-.4l.2 1.1l.1 1.9l.2 2.5l.2 6l.2-3.9l.2-2.7l.2 6.4l.2 6l.2-11l.1 4.6l.2-.4l.2 1.9l.2 7l.2 1.2l.2 8.4l.2 13.5l.2 13.5l.2 .7l.2 7.8l.2 2.7l.2 .6l.2-1.7l.1 2.9l.2 6.1l.2 .4l.2 8.5l.2 2.3l.2 1.6l.2 8.7l.1 13.2l.2 5.1l.2 0l.2 1.3l.2 .6l.2 9.1l.2-2.8l.2-5.4l.1-1.6l.2 4.4l.2-9.9l.2-10.9l.2-3.2l.2 4.3l.2-1.9l.2-4.9l.2-3.4l.2-3.8l.1 .7l.2-3.9l.2 2.9l.2-4.4l.2 6.2l.2 2.2l.2-4.3l.1-5.6l.2 .7l.2 1.8l.2 10l.2-.3l.2-.8l.2-1.1l.1-4.4l.2 .5l.2-1l.2 2.2l.2 5.2l.2 2.6l.2 1.6l.1 .7l.2 7.7l.2 4.2l.2 6.7l.2-1l.2-2.6l.2 4.3l.2 4.7l.1 6.6l.2-1.2l.2 .1l.2-4.9l.2 4.6l.2 6.6l.2 5.5l.2-2.4l.2-2.7l.2 3.6l.2-3.9l.1 3l.2-14.9l.2-1.8l.2-.4l.2 2l.2 7.1l.2-4.7l.2 .2l.2-6.4l.2-2.4l.2 1.8l.2-8l.2-8l.2 5.2l.1 3.1l.2-9.8l.2-6.3l.2 3.5l.2-1l.2-2.2l.2-1.3l.2-4.5l.2-7.1l.2-1.5l.2-2.7l.2 4.4l.1 3.3l.2 6.1l.2-.2l.2 5.5l.2 1.4l.2-5.3l.2-3.3l.2 5l.2-7.4l.2-1.9l.2 1.9l.1-3.4l.2-1l.2 1.6l.2-.7l.2-2.9l.2-6.8l.2-5.5l.2-1.8l.2-8.5l.2 .4l.2-2.5l.2-3.4l.2 7.1l.1 8.7l.2-7.2l.2 3.5l.2-7.6l.2 1.2l.2-1.5l.2 1.4l.2 5l.2-6.2l.1-3.2l.2-3.8l.2-6.5l.2-12.9l.2-10.3l.2-8.6l.2 3.9l.1-10.3l.2 5.2l.2-2.3l.2-5.4l.2 3.6l.2-3.8l.2-2.3l.2-5.9l.2 7.1l.2 2.9l.2 .4l.2-11.8l.2-1.4l.2 5.1l.1-2.9l.2-.9l.2-1.2l.2 .9l.2 .8l.2 5.1l.1-1.3l.2-14.5l.2-1.3l.2 1.6l.2 1.9l.1-1.2l.2-2.5l.2 2.8l.2-2.8l.2-1.2l.2 6.3l.1 6.8l.2 6.8l.2 5.6l.2-4.8l.2 13.6l.2 .8l.1 4.2l.2 3.9l.2 .1l.2-3.2l.2 5.8l.2 5.7l.1 6.3l.2 2.8l.2 2.5l.2-2.9l.2 1.2l.2 0l.1-2.4l.2-2.6l.2-12.9l.2-4.5l.2-.7l.1-11.2l.2 4.4l.2-7l.2-5.2l.2 7.1l.2-.7l.1-4.8l.2-9l.2-4.2l.2 6.2l.2-5.9l.2 3.3l.2 1.9l.1 1.9l.2-.3l.2 5.9l.2-.1l.2-.2l.2-7.9l.2-12.2l.1 .3l.2 6.5l.2 9.2l.2-2.3l.2 0l.2-4.8l.2-4.8l.1 3.4l.2-5.7l.2-1.9l.2 10.4l.2-1l.2-2.7l.1-3.4l.2-2.8l.2 .7l.2-3.1l.2 2.1l.1 1.7l.2-10.8l.2 .2l.2 1.8l.2-1l.2-6.9l.2-12.7l.1 3.2l.2-16.5l.2-2l.2-9l.2-4.7l.2-6.3l.2-5.5l.1 2.6l.2-8.5l.2 7.6l.2 4.9l.2-7.9l.2 6.9l.2-1.4l.2-9.8l.2-7.6l.1 16.4l.2-7.9l.2-12.8l.2-.5l.2 6.6l.2 4.7l.2-.2l.2 3.1l.1-3.7l.2-4.3l.2 4.8l.2-4.2l.2 6.5l.2 12.7l.2-8.2l.2 11.2l.2 2.8l.2 .6l.2 2.9l.2 6.3l.2-.3l.1-8.8l.2 9.6l.2 3.1l.2-2.2l.2 1.3l.2 1.8l.2 1.7l.1 19.5l.2 4.7l.2-2.3l.2-2l.2-4.3l.2 4.5l.1 7.7l.2 3.7l.2 4.3l.2 1.7l.2 3.4l.1-2.5l.2 1.1l.2 .4l.2-11.1l.2-8.5l.2-4.2l.1-2.6l.2-2.4l.2 2.9l.2-3.9l.2 7.1l.2-2.9l.1-.1l.2-8.6l.2 .2l.2-4.2l.2-2.4l.2-7.3l.2 4.9l.1 3.2l.2-8.9l.2 5.9l.2-7.3l.2 1.9l.2-2.9l.2 7.1l.2-12.2l.1 1l.2 2l.2-18.8l.2-1.2l.2-3l.2 1.5l.2 3.6l.2-1.4l.2-.9l.1-1.6l.2 .5l.2 .6l.2 9.5l.2-.4l.1 4.6l.2 8l.2-9.2l.2-2.5l.2 3.6l.2 8.7l.1 7.5l.2-6.6l.2 .8l.2 6.6l.2-4.8l.2 4.1l.2-5l.2-5.6l.1-5.8l.2-3.6l.2-2.9l.2 5.9l.2-3.6l.2-2.5l.2-4.7l.2-6.7l.2-5.8l.2-.4l.2 5.3l.2-6.5l.2-1.7l.2-16.2l.1-2.4l.2 16.1l.2-7.5l.2 1.9l.2-10.5l.2 7.5l.2-3.7l.2-2.8l.2-3.5l.2-1.2l.2 2.4l.2-12.4l.2-13.4l.1-1.5l.2 4.2l.2-9.7l.2-9.9l.2-2l.2-4.7l.2-5l.2-.2l.2 .5l.1 5.7l.2-3.3l.2-2.8l.2-1.5l.2-4.9l.2-19.4l.2 3.3l.1-3.1l.2-14.7l.2 2.9l.2 14.3l.2-11.5l.2 3.9l.2-21.3l.2 11.8l.2-1.8l.2 .2l.1-12.7l.2 13.4l.2 4.5l.2 7.1l.2 8.6l.2-4.6l.1 .4l.2 10.4l.2 16.1l.2 12.2l.2-1.5l.2-10.3l.1 16.1l.2 12.4l.2 7.6l.2 7.1l.2-1l.2 2.4l.2-12.6l.1-.3l.2 2.5l.2 8.3l.2-10.4l.2-4.8l.2 5.2l.2-.5l.2-9l.2-12.2l.2-3.6l.2 1.7l.2-3.7l.2-5.7l.2-2.8l.1-16.1l.2 11.7l.2-1.9l.2-16.3l.2 2.6l.2-14.1l.2 2.9l.2-1.9l.2 0l.2-4.6l.2 5.1l.2-18.6l.1-3.6l.2-3.1l.2-5.9l.2-1.4l.2-6.1l.2 7l.2 1.8l.1-11.2l.2 5l.2 9.3l.2-6.5l.2-2.2l.2-11.3l.2 2.3l.1-.2l.2-9.6l.2-2.4l.2 5.2l.2 3.1l.2 4.2l.1 1.2l.2-3.7l.2-2.9l.2 25.5l.2-12.7l.2 7.4l.1 7.6l.2-11.6l.2 11.6l.2-3.2l.2 5.3l.2 11.3l.1 .4l.2-1.6l.2 6.1l.2 18.9l.2-1.3l.2-.9l.2 8.3l.2-18.9l.2 9l.2 6.5l.2 3.3l.2 4.7l.2-2.6l.1 8l.2 1.5l.2 8.8l.2 3.7l.2 14.1l.2-5.4l.2 8.6l.1-.1l.2 3.4l.2 20l.2 11.7l.2 21.2l.2-6.4l.2 19.8l.2 16.6l.2 18.6l.2 1.7l.1 11l.2 16.1l.2 16.1l.2-3.9l.2-11.1l.2-4.3l.2-1.7l.2-5l.2-7.9l.2-12.8l.2-6.4l.2-11.5l.1-21.6l.2-7.2l.2 1.5l.2-9.2l.2 1.4l.2 3.4l.2-4l.2 7.4l.2 5.1l.2 4l.2 1.3l.2-7.4l.2 1.2l.2 14.7l.1 2.3l.2 3l.2-2.5l.2-2.5l.2-5.3l.2 1.6l.2 11.9l.2-9l.2-3.9l.2-4.5l.2 9.2l.2-5.3l.2 1.4l.2-.6l.2-6.2l.1-2.1l.2 5.4l.2 7.8l.2 3.8l.2 1.9l.2-7.8l.2 4.2l.2 14.5l.1 2.7l.2-5.6l.2-9.8l.2 .7l.2 6.1l.2 5.4l.2 11.4l.2 3.1l.2 1.9l.1 4.1l.2-.8l.2 2.5l.2 .4l.2-3.9l.2-.8l.2 1.3l.2 4.4l.1 9.7l.2-2.2l.2-4.7l.2 7.1l.2-9.7l.2 5.1l.2-1.4l.2 3.9l.1 7.5l.2-14.9l.2 11.1l.2-5.3l.2 5.1l.2-1l.2 3.5l.2-1.5l.2 .9l.1-2.8l.2 9.6l.2 2.6l.2-2.4l.2 8.5l.2-1.8l.2 8.7l.1-2.2l.2 1.1l.2-2.4l.2 4.9l.2 11.6l.2-2.4l.2 8.1l.1-2.6l.2-1.4l.2 7.2l.2-6l.2-10.2l.2-4.3l.1 2.1l.2-5.9l.2-16l.2-1.4l.2-6.2l.2-3.4l.1 2.7l.2-8.7l.2-12.6l.2-8.6l.2-5.7l.2-1l.1-13.2l.2-1.3l.2-1.7l.2-.7l.2 7.3l.2 5.7l.1-1.3l.2-8.2l.2 16.7l.2 .4l.2 3.9l.2-5.3l.2-7.9l.1 8.1l.2 10.8l.2-2.2l.2 1.7l.2 8.9l.2-9.4l.2 4.5l.1-4.1l.2 9.8l.2-7.4l.2 9.7l.2-6.2l.2 9.2l.2-6.1l.1 3l.2 2.8l.2-2.4l.2-4.8l.2 2.6l.2-1.6l.2-5.6l.1-1.5l.2 6.8l.2-4.1l.2-8.2l.2-4.4l.2-7.7l.2 6.2l.1-14.2l.2-1.3l.2 1.7l.2-5l.2-2.3l.2 3.3l.2 5l.2-8.2l.1-1.3l.2 10.4l.2-1.1l.2-8.3l.2-3.2l.2-2.2l.2-.7l.2 2.8l.1-5.2l.2 10.9l.2 5.9l.2-.6l.2-1.9l.2 .1l.2-.7l.2 10.9l.2-2.3l.2 4.6l.2 6.8l.2 .1l.1-5.5l.2-1.1l.2 3l.2 6.3l.2-.8l.2-.7l.2-3.6l.1-10.1l.2-.2l.2 1.3l.2 5.5l.2 3.5l.2-2.5l.2-.6l.1-11.6l.2 4.7l.2 2.8l.2-5.8l.2 1l.2 4.9l.2-6.8l.1 1.8l.2 3.4l.2-3.6l.2-2l.2 0l.2-1l.2-1.4l.2 4.5l.1 5.5l.2 .7l.2-2.2l.2-6.5l.2-2.3l.2-1.3l.2 .3l.2 4l.1-2.1l.2 9.7l.2-3.9l.2-.5l.2 1.7l.2 2.1l.2 2.8l.2-2.1l.1-.7l.2-2l.2-3.1l.2 1.1l.2-3.1l.2 2.2l.2-5l.2-1l.2-3.6l.1 1.1l.2 2.2l.2-3.4l.2-8.4l.2-7l.2 3.4l.2-3.8l.2-2.4l.1-.5l.2 4.7l.2-4.4l.2-2.2l.2-3.3l.2-3.6l.2-2.3l.2 10.4l.2-7.7l.2-5.2l.2 5.5l.2-8.1l.1-.8l.2-.1l.2 .9l.2-.3l.2-5.4l.2-2.2l.2 3.1l.2 2.8l.2 5.9l.1 4.1l.2 3l.2 4l.2-4.7l.2 3.7l.2-2.1l.2 8.8l.1-3.6l.2 3.4l.2 0l.2 4l.2 5.2l.2-2.1l.2 4l.2-1.9l.1 .2l.2-3.9l.2-1.2l.2-4.1l.2-3.5l.2 1.3l.2 2.7l.2-7.5l.2-7.1l.2-3.8l.2 5.3l.2-6.4l.1-3.3l.2-2.3l.2-3l.2 .7l.2-3.1l.2-5.5l.2 1.8l.2 2.5l.2-4.7l.2-4.3l.2-2.8l.1 5.8l.2-.6l.2 2.6l.2 1.6l.2 7.2l.2-3.8l.2-4.1l.2 6.9l.2 7l.2 6.5l.2-4.7l.2 2.2l.1 6.3l.2-4.7l.2 .8l.2 2.4l.2 12l.2 .2l.2-1.6l.2 7l.2-2.8l.2-1l.2 2.9l.2 5.8l.1-.1l.2-4.7l.2-4l.2-3.5l.2-1.9l.2 2.2l.2 1.8l.2 5.9l.1-8.6l.2-9.7l.2 4.5l.2 1.5l.2-4.9l.2-2l.2 5.4l.2-1.1l.2-.3l.1-10.9l.2 2.3l.2-1.9l.2-4.7l.2-1.9l.2-1.4l.2-1.2l.2 7.5l.1 .2l.2 1.5l.2-1.5l.2-12.2l.2 11.1l.2-5l.2 5.3l.2-9.2l.1-4.6l.2 5.3l.2-6.1l.2 2.8l.2-2.7l.2 2l.2 2.2l.2 2.3l.2 1.5l.1-1.2l.2 1.7l.2-4.4l.2 5.7l.2 4.9l.2 4.3l.2 3.2l.2 4l.1 1.3l.2-6.5l.2 1.2l.2 2.2l.2-.3l.2-2l.2 1.8l.2 1.4l.2 5.2l.1 1.6l.2-.4l.2-3l.2-.4l.2-2.9l.2-3.6l.1-2.9l.2-2.6l.2-1.6l.2-10.4l.2 1l.1 2l.2-5.6l.2 .8l.2-1.8l.2-6.4l.2-4.8l.2 1.3l.1-7.2l.2-9.7l.2 5.3l.2-2.8l.2-10.8l.2 3.2l.2-4.8l.2-5.1l.2-8l.2-7.9l.1 1.5l.2 2.2l.2 .2l.2 3.5l.2 8.8l.2-1.6l.2 5.3l.1-2.7l.2 3.7l.2-.1l.2 .2l.2-3.8l.2-.9l.2 8.2l.1 .5l.2-4.1l.2 3.1l.2 4.6l.2-1.3l.2-.8l.1-6.4l.2-.6l.2-2.8l.2-7.8l.2 9.3l.2 1.9l.1 .5l.2-2l.2-10.4l.2-3.2l.2-8l.2 9.5l.1-1.8l.2-6.1l.2-3.9l.2-1.9l.2-1.3l.2 2.8l.2 1.8l.1 .7l.2-3.8l.2 3.1l.2-1l.2-6.4l.2 10.1l.2 2.9l.1-5.1l.2 1.4l.2 0l.2-7.4l.2 2.6l.2 3.4l.2-1.8l.1-1.3l.2 8.3l.2 3.9l.2-.7l.2 3.8l.2-10.9l.2 3l.2 6.9l.1-.3l.2 7.1l.2 3.1l.2-1.2l.2-8.4l.2 15.7l.2-3.6l.2-4.4l.2 1.6l.1 1.3l.2 5.9l.2-6.1l.2-2.1l.2 .9l.2-13.2l.2 5.4l.2-4.3l.2-2.1l.1-1.9l.2-1.7l.2-6.9l.2-7.9l.2-3.3l.2-7.6l.2-1.2l.2 .3l.1-6.8l.2-7l.2 2.5l.2 .2l.2-10.4l.2-3.6l.2-7.5l.1 4.2l.2-4.5l.2-7.8l.2-7.9l.2 5.5l.2-1.5l.2-3.5l.1-5.4l.2-1.7l.2 7.8l.2-2.9l.2 2.1l.2-.2l.2 3.2l.2 .6l.2-2.5l.1-11.9l.2 .4l.2 1.8l.2 3.1l.2 5.7l.2-.3l.2-7.4l.2-1.2l.1-1l.2 3.2l.2 3.3l.2 2.2l.2-5.7l.2 5.2l.2-14.6l.2 2.9l.2-3.2l.2 5.2l.2-3.7l.2-.7l.2-13.3l.2-2.6l.1 4.2l.2-.6l.2-8.6l.2 7.6l.2 7.8l.2-3.1l.2 4.2l.2 2.2l.2 7l.2 4.9l.1 3.2l.2 5.9l.2-3.1l.2 4.2l.2 14.2l.2 1.2l.2-3l.1 6.1l.2 .1l.2 11.1l.2 6.6l.2 6.1l.2 7.4l.2 4.8l.2 3.2l.1-2.9l.2-2l.2-3.3l.2 5.1l.2 9l.2-1.1l.2 3.1l.2 1.9l.2-6.7l.2-3.5l.1 5.1l.2-.3l.2-4.3l.2 1.1l.2-6.6l.2-5.4l.2-4.7l.2-.1l.1 4.9l.2 1l.2-4.4l.2-10.6l.2-5.7l.2-1.6l.2 .6l.2-1.7l.2-1.6l.1 2l.2-4.8l.2 6.3l.2-4.9l.2-1l.2 3.2l.2-3.2l.1-.7l.2 1.2l.2 9.1l.2-5l.2-5.2l.2 .5l.2 8.6l.1-7.2l.2-5.2l.2 .2l.2-1.4l.2 3.4l.2 3l.2-4.8l.1 1.9l.2-1.9l.2-7.6l.2 1l.2 2.7l.2 5.8l.2-3.4l.1-.1l.2 5.2l.2 1.8l.2 8.4l.2-5.8l.2 4l.2-4.3l.2-5l.2 6.6l.2-1.5l.2 3.9l.2 4.5l.2 2.3l.1 5.2l.2-3.2l.2 0l.2 9.7l.2-2.4l.2 7.7l.2 9.2l.1-8.1l.2 10l.2-6.6l.2 3.1l.2-.8l.2 3l.2 0l.1 5.1l.2 3.1l.2 4.3l.2 4.6l.2-3.9l.2-6.2l.2-5.9l.1 .8l.2-3.3l.2 1.7l.2-1.7l.2-5.2l.2-.9l.1 .8l.2-5.5l.2-5.4l.2-4.6l.2-5.1l.1 4.3l.2-7.1l.2 .1l.2 3.2l.2 1.1l.2-2.5l.2-3.1l.1 4.2l.2 0l.2 9.1l.2-4l.2-.3l.2 1.8l.2-5.9l.1-5.9l.2 .6l.2 9.6l.2-7.4l.2 6.7l.2 2l.2 3.9l.1-2.9l.2-1.5l.2 1.6l.2 2.5l.2 1.2l.2 1.5l.2-2.7l.1 2.4l.2-.1l.2-.1l.2 1.7l.2-1.2l.2 4.3l.2-6.1l.1-4.3l.2 1.6l.2-9l.2 7.5l.2-3.8l.2-1.8l.2 4.2l.1 .3l.2-6.3l.2 1l.2-1l.2-6.5l.2 2.6l.2 10.3l.1-.1l.2-7.5l.2 .3l.2 3.3l.2 1l.2-4.9l.2-2.1l.2 4.4l.1 7.4l.2-3.2l.2 4.1l.2 2l.2 2.2l.2 5.2l.2-3.4l.2-2.9l.2 2.8l.2 6.4l.2-1.4l.2 5.1l.2 4.1l.1 11.5l.2 2.5l.2 3.9l.2 2.6l.2 10.5l.2 6.8l.2 10.2l.1 5.7l.2-8l.2-7.4l.2-.3l.2 1.6l.2-6.6l.2-5.1l.2-2.5l.2-9.9l.2-8.4l.1-3.7l.2-2.2l.2-2.6l.2 3.9l.2 1.6l.2 .2l.2-3.9l.1-3.2l.2 1.7l.2-3.1l.2 6.9l.2 .3l.2-7.5l.2 1.3l.1-2.3l.2 13.3l.2 3.4l.2-.1l.2-8.9l.2-7.1l.2 6.9l.1 4.9l.2 2.4l.2 .4l.2-5.3l.2 .6l.2-6.2l.2 1.5l.1 3.5l.2 .2l.2 1.6l.2-2l.2-1.5l.2 4.8l.2-2.5l.2 .5l.2 3.7l.1 .7l.2-1.2l.2 4.6l.2 4.4l.2-6.4l.2 3.1l.2 4.5l.2-1.7l.1 6.7l.2-2l.2 3l.2-3.2l.2 4.6l.2 1l.2-5.1l.2 1.1l.1 5.1l.2-9.9l.2 5.4l.2-6.7l.2 6l.2 7.5l.2-11.5l.2 5l.2-2.8l.1-3l.2 9.4l.2-1.1l.2 1.9l.2-2.9l.2 .8l.2 .6l.2 .3l.2-4.4l.1 .9l.2-3.7l.2 2.4l.2-1.4l.2-3.2l.2-1.2l.2-6.1l.2-1.8l.2-.4l.2 .6l.2 3.3l.2 2.5l.2-3.1l.1-3.3l.2 2.8l.2 4l.2 1.6l.2-4.4l.2 2.3l.2 7.5l.2 .5l.1 3.3l.2-.5l.2 3.2l.2 1.7l.2-8.7l.2-1.6l.2 9.5l.2 2.1l.1-.8l.2-1.9l.2 6.7l.2-3.1l.2 8.2l.2-4.2l.2-1.5l.2 4.9l.2 4.6l.2 0l.2 .5l.2 8.8l.2 .9l.2-3.4l.1 .8l.2 5.1l.2 6.3l.2 4.3l.2 4.2l.2-9.9l.2 12.6l.2-3.9l.2 4.4l.2 5l.2 4.3l.2 5.8l.2-.8l.2 7.2l.1 1.6l.2 3.7l.2 2.4l.2 7.1l.2 2.4l.2 3.8l.2-1.4l.2 .7l.1 11.2l.2 .6l.2-2.9l.2 8.5l.2 5l.2-4l.2 3.4l.2 4l.1 5.3l.2-.1l.2 2.9l.2 1l.2-2.8l.2-3.8l.2-.2l.1-.2l.2-3l.2-2.2l.2-3.2l.2-.1l.2-2.2l.1-1l.2-1.7l.2-4.6l.2-6.6l.2 1l.2-3.6l.1-1l.2-3.7l.2-4.4l.2 .5l.2-5l.2-3l.2 6.8l.2-7.8l.2-6.2l.2-8.3l.2 4.7l.2-3.4l.2-3.6l.1-1.9l.2-.7l.2 .5l.2 4.8l.2 4.8l.2 .4l.2-10.2l.1 .9l.2 14.9l.2 2l.2-5.3l.2 1l.2 3.2l.2-2.7l.1 1.2l.2 .6l.2 1l.2 4.3l.2-.7l.2 1.3l.2-1.8l.2 .4l.1 2.9l.2 1.9l.2 2.2l.2 8.7l.2-.8l.2-2.7l.2 7.3l.2 1.6l.1-6.5l.2-1.4l.2 8.6l.2-2.4l.2 1.3l.2-1.9l.2 3.7l.2 1.9l.2 1l.1-1.5l.2-1.9l.2-.2l.2-1.9l.2-.4l.1-6.4l.2 2.1l.2 1.2l.2-2.1l.2-9.9l.2 .3l.1-5.2l.2-3.7l.2 1.2l.2-3.9l.2-.3l.2 .8l.1 4.2l.2 1.3l.2 5.9l.2 .4l.2 2.2l.2-2.1l.1 .2l.2 4.9l.2-2.7l.2-1.5l.2 4.5l.2 5.7l.1-.3l.2 6.6l.2-2.2l.2 2.7l.2-2.4l.2 6.4l.2-2.3l.2 1.5l.1 2l.2 13.8l.2-4.3l.2 2.2l.2-.8l.2 5.2l.2 5.3l.2 2.3l.2-3.9l.2 1.7l.1 5.9l.2 1.8l.2 .6l.2 2.6l.2 4l.2 4.1l.2 1.5l.2 2.8l.1 1.7l.2 3.6l.2 1.4l.2-4.4l.2 4.7l.2 3.3l.1-1.8l.2-5.7l.2-1.5l.2 5.4l.2 5l.2 1.1l.1 1.8l.2-.1l.2-1.3l.2 .4l.2-.4l.2-1.9l.2-2.4l.2 .2l.2-.3l.1 .2l.2-1.6l.2-5.9l.2-1.1l.2 3.4l.2-6.7l.2-1.6l.2 1.2l.2-2.3l.2 2l.2-1.6l.2-8.3l.1-6l.2-1.1l.2 3.3l.2-1.4l.2-2.7l.2 0l.2-1l.2 4.1l.2 .5l.2 5.3l.2-1.1l.1 1.4l.2-2.4l.2 7.2l.2 .5l.2-5.7l.2 8.7l.2-.5l.2 .3l.2 4l.2 2l.1-3.8l.2-.1l.2 2.7l.2 3l.2 5.4l.2 .4l.2 1l.2-4.1l.2 3.5l.1 2.8l.2-1.1l.2-3.5l.2 0l.2-1.2l.2-3.3l.2-4.2l.1 0l.2-4.1l.2 6.8l.2-3.6l.2-1.9l.2 4.1l.2-5.9l.1 3.1l.2-3.4l.2-2.8l.2-.7l.2 .7l.2-1.6l.2-.2l.1 6l.2-1.8l.2-4.1l.2 3.2l.2 1l.2 2.4l.2-3l.1 3.1l.2 1.8l.2 3.1l.2 .6l.2-3.8l.2-2.6l.2 1.6l.1 3l.2-3l.2-1.4l.2-3l.2 3.4l.2 1.3l.2-1.2l.1 .7l.2-.3l.2 2.1l.2 4.2l.2 1.5l.2-2.9l.2-.8l.1-.7l.2 9.9l.2-3.1l.2 5.3l.2-2.1l.2 7.8l.2-1.4l.1 2.3l.2-4.5l.2 1.9l.2-.6l.2 4l.2-2.2l.2 2.9l.1-2.8l.2 4.3l.2 4.2l.2-3.1l.2 2.8l.2 .8l.2 5.1l.2-.4l.2-1.4l.1 2.5l.2-2l.2 5.9l.2-4.6l.2 1.9l.2-3.5l.2 3.4l.2 2.3l.1-.1l.2-1.4l.2-2.9l.2 .1l.2 .5l.2-4l.2-4.3l.2 5.4l.2-.2l.1-2.1l.2-10.1l.2-4.2l.2-1.4l.2-.4l.2 4.4l.2-6l.2 1.2l.1 .5l.2-7.4l.2 3.2l.2-2.9l.2-2.8l.2 .9l.2-2.6l.2 .7l.2-3.4l.2 .1l.1 1.2l.2-13.1l.2 3.2l.2-4.7l.2 .7l.2-3.2l.2 4.8l.2 .7l.2-.7l.2-8.5l.2-3l.2 3.2l.1-6l.2-2.9l.2-4.1l.2 .4l.2-1.8l.2 1l.2-1.3l.2 3l.2 3.9l.1-.8l.2-1.6l.2 8.9l.2 5.3l.2-.6l.2-6.3l.1 5.3l.2 8.6l.2-3.6l.2-.4l.2-.4l.1 4.1l.2 3.9l.2-.6l.2-2.2l.2 .3l.2 3.7l.2-.6l.1-5.5l.2-2.6l.2 3.6l.2-3.5l.2-1.2l.2-.9l.2 1.7l.1 .7l.2 4.4l.2-.8l.2-1.2l.2 2.3l.2-.6l.2-2.1l.1-1.3l.2-3.5l.2 4.8l.2 0l.2-1.9l.2 .5l.2-1.5l.1 0l.2-1l.2 2.1l.2 4.4l.2-2.7l.2-4l.2 10.3l.2-.4l.1-.5l.2-3.4l.2-2.1l.2 4.7l.2 7.7l.2-3.6l.2-2.4l.2 1.2l.2 2.4l.1 4l.2-4.7l.2 5.7l.2 .3l.2-1.5l.2-1.8l.2-2.7l.2-1.3l.1-4.4l.2-1.5l.2 3.6l.2-4.4l.2 5.2l.2 2.9l.2-8.8l.2 1l.2 3.9l.1-4.3l.2-.7l.2-4.7l.2-1.2l.2 .5l.2-1.1l.2-3.4l.2 1l.1-1.3l.2 1.8l.2-3.1l.2-6.2l.2 .2l.2-1.7l.2 .7l.1 5.3l.2 .1l.2-1.6l.2-2.5l.2 2.5l.2-3.6l.2 3l.1-1.7l.2-.8l.2 3.5l.2-6.4l.2 .1l.2-.4l.2 0l.1 4.9l.2-1l.2-1.1l.2-4.7l.2-.3l.2-2.2l.2 1.2l.2 0l.1-1.7l.2-6.7l.2 5.1l.2-3.3l.2-4.6l.2-2.2l.2-1.3l.2-4.6l.2-1.1l.2 3.9l.2-5.5l.2 2.1l.1-1.5l.2-8.5l.2-3.6l.2-1.3l.2 .2l.2 3l.2 .1l.2-6.3l.2 .9l.2 4.4l.2-4.3l.1 1.4l.2-.6l.2 3.6l.2 13.3l.2 1.7l.2-.7l.2 .7l.2-3.3l.2 5.1l.2 1.4l.1 1.2l.2 1.2l.2 4.5l.2 3.6l.2 1.4l.2-3.4l.2 .9l.1-.6l.2 5.1l.2-1l.2 3.6l.2 2.3l.2-3l.2-1.8l.1 .3l.2 2.4l.2 1.9l.2-3.6l.2-2.9l.2 2.8l.2 2.8l.2-3.7l.1-2.3l.2 2.9l.2-10.7l.2 10.5l.2-.1l.2-4.8l.2-5.8l.2 7.5l.1-2.3l.2-8.3l.2-3.8l.2 2.9l.2 0l.2 1.4l.2-2.5l.2 1.3l.2 1.8l.1-.1l.2-3.3l.2 2.7l.2-7.9l.2-5.4l.2-2l.2-.1l.2-1.7l.1 1.7l.2-2l.2 .4l.2-1.4l.2 5.7l.2 .9l.2 .8l.2-5.5l.1-1.7l.2 .5l.2 1.3l.2-.7l.2-5.7l.2-.5l.2-.5l.1 1l.2-2.5l.2-9.2l.2 4.3l.2 .1l.2-9.3l.2-1.1l.2 6.2l.1-6.3l.2 4.6l.2-4.6l.2 3.1l.2-5.5l.2 .7l.1 2.7l.2 2.5l.2-1l.2-.1l.2 2.4l.2 2.4l.1-8.9l.2-1l.2 3.2l.2 8l.2 1.6l.2 .2l.1-2.1l.2-2.7l.2 4.8l.2-1.5l.2 .5l.2-1.5l.1 1.4l.2-3.1l.2-5l.2 2.8l.2 .8l.2-1.7l.2 4.6l.1-11.2l.2 7.4l.2-.9l.2 1.4l.2-10l.2 3.2l.2 1.2l.1-9.8l.2 3.1l.2 3.7l.2-1.7l.2-1.9l.2 1.8l.2-1.5l.1-1.2l.2-3.1l.2 .2l.2-4.2l.2 .3l.2-3.2l.2 1.3l.2-5.3l.1-.3l.2 2.8l.2-6.4l.2 8.5l.2 1.2l.2-.8l.2-3.9l.2 2.1l.2-1l.1-1.5l.2-5.3l.2-.1l.2-10.1l.2 0l.2 2.6l.2-1.4l.2 1.9l.2-1.5l.1 7.5l.2-4l.2-1.5l.2 6.2l.2 5.7l.2 1.5l.2-1.5l.2-6.9l.2 1.3l.2 1.3l.1 6.1l.2 4l.2-.3l.2 3.1l.2 2.7l.2 .9l.2-2l.2 2.4l.2 1.8l.1-1l.2-.7l.2-.4l.2-6.7l.2-.3l.2-5.5l.2 3.1l.1-4.5l.2 8.1l.2-1l.2-2.6l.2 .5l.2-2.6l.2 1.2l.1-3.2l.2-.7l.2-3.2l.2-2.5l.2 2.4l.2-.3l.2-1.7l.2 3.4l.2-3.3l.2-6.7l.1 2.3l.2-2.3l.2-1.8l.2 5.3l.2-7.2l.2-3.1l.2 8.3l.2-9l.2 6.8l.2-6.5l.2 10.8l.2-7.4l.1 .4l.2 5.1l.2 .2l.2 .1l.2-1.5l.2-4.2l.2 1.5l.2 4.8l.2-.6l.2-3l.2 0l.1-6.5l.2 12l.2-2.6l.2-.1l.2-2.9l.2 8.2l.2 4l.2-2.7l.2-2.2l.1 6.1l.2-4.8l.2-.5l.2-2.7l.2 8.7l.2-4.2l.2 1.9l.2-1.8l.2 1.4l.2-2.5l.1 3.7l.2 4.1l.2-2.5l.2 8.6l.2 2.4l.2 3.7l.2 5l.2-1.7l.1-7.5l.2 4.8l.2 2.3l.2 4.4l.2-1.3l.2 4.1l.2 6.5l.2 .9l.2-1.4l.1 4.9l.2-1.7l.2 3.8l.2-2l.2 4l.2 1.6l.2 5.7l.2-.7l.2 5.1l.2 8.3l.2-1.7l.2 5l.2-4.1l.1 4l.2-.8l.2-.8l.2 6.9l.2-6l.2 3.1l.2-2.3l.2-3.9l.2 8.8l.2 .4l.1-2.2l.2-1.3l.2 7.1l.2 1l.2-8.2l.2 3.7l.2-2.2l.2 6.1l.2 1.5l.2 1.2l.1-3.9l.2-5l.2 1.6l.2 2.2l.2-.6l.2-.8l.2 2.2l.2-1.3l.2-3l.2 .7l.1 4.2l.2 3.2l.2-4.1l.2 2.5l.2-6.1l.2-3.1l.2-.6l.2-5.2l.2-4.8l.1-3.1l.2 4.1l.2-7.2l.2 .2l.2-1.2l.2-4.9l.2-1.2l.2-10.5l.2-1.7l.1-1.1l.2-.5l.2-3.2l.2-1.7l.2-4.3l.2-1.8l.2-4.5l.2 4.4l.2-.5l.1-2.3l.2 3.6l.2-5.1l.2-.9l.2-1.8l.2-2.6l.2 2.1l.2-6.9l.2-.9l.2 3.4l.2-1.5l.2-1.8l.2 3.6l.1 .8l.2-3.6l.2 8.5l.2 .1l.2-4.9l.2-3.9l.2 4.5l.2-5.4l.1-5.3l.2 2.7l.2 2.3l.2 .7l.2 4l.2-3.5l.2-.4l.2-1.3l.1 1.8l.2-3.1l.2-1.1l.2-1.5l.2-5l.2 6.4l.2-2.2l.1 .6l.2-3.2l.2-5.2l.2-.2l.2-3.5l.2-.1l.2 3.2l.1 .8l.2 2.6l.2-6.1l.2-1l.2-6.4l.2-4.2l.2 4.8l.1 2.2l.2-5.9l.2 1.6l.2-3.6l.2-3.3l.2 .3l.2-1.5l.2 1.5l.1 .6l.2 3.7l.2 7.7l.2-.6l.2 .4l.2-2.1l.2 2.8l.2 4.9l.1 2.4l.2 1.1l.2-3.2l.2 3.7l.2-3.4l.2 .9l.2 7.4l.2-1.7l.1 10l.2-1.4l.2-.1l.2 4.8l.2-.6l.2 4l.2 4.3l.2-1.6l.2 8.3l.1 6.1l.2-2.5l.2 1.6l.2 10.5l.2 .5l.2-.8l.2 4.9l.2 4.7l.1 1.8l.2 2.2l.2 5.4l.2-.3l.2 6.8l.2 .4l.2-8.1l.2 1.1l.2-4l.1 2.2l.2-3.9l.2-3.6l.2-7.7l.2-3.9l.2-11.9l.2 1.2l.2-4.6l.2-1.3l.2-2.5l.1-2.8l.2 6l.2-10.2l.2 3.2l.2 2.9l.2 4.4l.2-2.5l.2 1l.2-5.3l.2 .1l.1-4.2l.2 1.9l.2-2.9l.2-9l.2-.6l.2 1.9l.2 4.1l.2-5.8l.2 4.7l.2-3.1l.1 0l.2 2.9l.2-4l.2 .6l.2-1.5l.2 .6l.2 1.8l.2 6.4l.1-1.4l.2-3.7l.2 4l.2 12.2l.2-1.2l.2-.3l.2-.9l.2 1l.2-3.9l.1 5.9l.2-1.5l.2 1l.2 3.3l.2 .6l.2-.4l.1 .2l.2-.9l.2-5.9l.2-3.4l.2 .1l.2-.8l.1 3l.2 2.1l.2 1l.2-2.7l.2 .2l.2-3l.1-3.4l.2 1.3l.2-.7l.2 8l.2 8.7l.2 3l.1-8.4l.2 2l.2 7l.2-2.2l.2 7.1l.2-2.7l.1 7.5l.2 4.8l.2 .3l.2 6.1l.2 .8l.2-8l.2-4l.1 1.3l.2-3.9l.2-5l.2-1.6l.2-7.7l.2-9.4l.2-2l.2-6.2l.2-2.8l.2-3l.2-3l.2-1.8l.1-3.3l.2 2.8l.2 3.1l.2-3.3l.2-.4l.2-4.4l.2 0l.1 2.3l.2 6.3l.2-5.4l.2-.8l.2 5.3l.2 2l.2-.4l.1-6.8l.2 .9l.2 4.5l.2-.6l.2-1.5l.2-3l.2-2.2l.1 0l.2-3.5l.2-2.3l.2 2.1l.2 .5l.2-1.8l.2 2.4l.1-1.2l.2 4.3l.2-1.5l.2 1.9l.2-1.4l.2-3.4l.2 5.2l.1-5.4l.2-2.5l.2 .7l.2-3.8l.2-.5l.2 2.7l.2 4l.1-5.7l.2-3l.2 7.6l.2 .4l.2 1.3l.2-6.7l.2 1.6l.1 2.4l.2-6.9l.2-.1l.2 1.4l.2 .3l.2 2.5l.2 1.6l.2-1.6l.1 1.5l.2 5.1l.2 1.1l.2-5.5l.2 7.6l.2 7.9l.2-1.5l.2 5.3l.1-11.5l.2 2.8l.2 2.4l.2 2.9l.2-.5l.2 7.6l.2 1.4l.2 1.2l.2-1.2l.1 0l.2-5.3l.2 2.7l.2 4l.2 .9l.2-5.3l.2 3.2l.1-2.8l.2 2.3l.2 1l.2-.4l.2-9.7l.2 6.4l.2-3l.1-3.7l.2 4.4l.2 4.9l.2-9.9l.2-4.6l.2 4l.2 4.9l.1-4.9l.2 .4l.2 1.9l.2-.9l.2-2l.2 2.2l.2 .2l.1-.2l.2-4.8l.2-2.2l.2-6.6l.2 11.6l.2-1.4l.2-.4l.2-9.3l.2-4.2l.2 1.3l.1 .3l.2 3.4l.2 .2l.2-.6l.2 2.9l.2-13l.2-1.8l.2-3.1l.2-.9l.2 .9l.1-1.4l.2 9.2l.2 1.1l.2-7.1l.2 .6l.2 3.8l.2-4l.2 1.2l.2-3.7l.2-5.3l.1 1.2l.2 2.5l.2-1.5l.2 1.1l.2 .2l.2 4.5l.2 .7l.2 5.1l.2-2l.1-7.3l.2 7.5l.2-.1l.2-3.6l.2-3.6l.2-.5l.2 8.2l.2 2.2l.1-6.1l.2 5.1l.2 .6l.2 1.6l.2 2.7l.2 3.1l.2 .6l.2 2.2l.2 1.1l.1 1.2l.2-7.2l.2-1.2l.2 1.1l.2 4.6l.2 6.5l.2-4.2l.2 3.8l.2-.7l.2-4.6l.1 3l.2 1.2l.2 5.2l.2-5.9l.2-.3l.2-.4l.2-1.9l.2 11l.2-.8l.2-2.4l.1 .4l.2 .8l.2 .3l.2 6.7l.2-.9l.2-3l.2 2l.2 1.3l.2-3.2l.2 4.2l.1-4.3l.2-7.4l.2 1.9l.2 2.6l.2-4.8l.2 .9l.2 1.3l.2-4.3l.1 4.3l.2-8l.2 3.1l.2-2l.2-6.9l.2-1.1l.2-2.4l.2-5.1l.2-1.2l.1 2.5l.2-.4l.2-2.2l.2 7.2l.2-4.4l.2-4.6l.2 6l.2-1.7l.1-2.5l.2 3.2l.2 3.9l.2-7.4l.2 8.9l.2-2l.2-4.2l.2 1.2l.1-3.7l.2 .7l.2 2.3l.2 .1l.2 4.2l.2 0l.2-.5l.2-2.6l.2-1.9l.1 6l.2-13.8l.2 8.7l.2 2.2l.2-6.5l.2-2.7l.2-8l.2 1.4l.1-.5l.2-2.3l.2 4.5l.2 3.4l.2-2.4l.2-6.5l.2 .3l.2-1.4l.2-.2l.1-2.1l.2 .5l.2-2.4l.2 1.4l.2-.1l.2 2.5l.2-5.8l.2 2.2l.2-1.3l.2-1.5l.1 6l.2 2.7l.2-2.3l.2-7.3l.2 6.9l.2 3.2l.2 1.3l.2-2.2l.2 1.8l.2-.3l.1-6.4l.2 3.9l.2-3l.2 3.2l.2-2.6l.2-4.1l.2 5.9l.2-3.6l.2-2.3l.2-.4l.1-1l.2 .1l.2 2.8l.2 0l.2-2.3l.2-3.6l.2 8l.1 1.7l.2 3.9l.2-2.9l.2 3.4l.2 1.4l.2-6.7l.2-8l.1 14l.2-9.8l.2 7.1l.2-3.5l.2 0l.2-3.6l.2 4.8l.1 5.1l.2-.5l.2-3.2l.2 4.8l.2-1.9l.2 .7l.2 .1l.1 .8l.2-.1l.2-.6l.2 3.8l.2 3l.2 7.3l.2 1.6l.2 1.4l.2-5.2l.1 5.7l.2 1.7l.2-3.9l.2-3.3l.2-1.9l.2 8.5l.2 .3l.2-2.2l.1 6.5l.2 1.4l.2 3.3l.2-2l.2-2.3l.2-2.5l.2-.9l.1-.6l.2-10l.2-3.3l.2 6l.2-12.9l.2 3.5l.1-.6l.2-.2l.2-1l.2-6.6l.2 2.8l.2-5.2l.1-4.1l.2-2.3l.2 .9l.2 .7l.2 .4l.2 .3l.2 2.4l.2 10.8l.2-4.5l.2 1.4l.1-3.6l.2 .4l.2 4.6l.2 4.2l.2 3l.2-3.9l.2 .2l.2 3.7l.2 0l.2-2.4l.2 3l.2-.2l.1 1.7l.2 2.1l.2-2.9l.2-.4l.2-3.5l.2-4.4l.2 3.7l.2-3.2l.1-1l.2-.3l.2-3.9l.2-2.8l.2 7.5l.2-9.1l.2 2.4l.1 2.9l.2 1l.2-2.2l.2 2.4l.2-9.3l.2-2.2l.2 4.1l.1-5.9l.2-.9l.2-.4l.2-3.9l.2 1.4l.2 .4l.2-2.3l.1-.1l.2 4l.2-2.5l.2-3.7l.2 7.5l.2-1.9l.2 1.8l.1-.5l.2-4l.2-6l.2-.7l.2 .1l.2 1.3l.2 3l.1 11.1l.2-5l.2 5l.2 1.7l.2-4.2l.2 4.3l.2-11.1l.1-.2l.2 1l.2 .3l.2 1.2l.2 1.3l.2-.6l.2 2.1l.1-.6l.2-.7l.2-2.6l.2 4.8l.2-2.3l.2 0l.2-3.4l.1-1.6l.2 .6l.2-1.2l.2-.7l.2-4.9l.2 2.3l.2-.1l.1 6.7l.2-.3l.2-4.8l.2-3.8l.2 7.1l.2-.9l.2 .3l.1-1.4l.2 1.1l.2-.1l.2-1.5l.2-1.4l.2-.5l.2 .7l.1 2.6l.2-4.8l.2-1.9l.2 1.8l.2 5.2l.2-7.5l.2 6l.1-7.5l.2 .3l.2 2l.2 .9l.2-4l.2 1.5l.2 7.2l.1-1.2l.2-.7l.2-4.6l.2-.5l.2-1.4l.2 8l.2-8.2l.2 .8l.1 5.2l.2 11.8l.2 1.7l.2-7.4l.2-6.1l.2 7.8l.2 10.4l.2 1.3l.2-11l.1 3.5l.2 7.8l.2 2.8l.2-4.2l.2-1.1l.2 2.7l.2 3.4l.2 2l.2 3.8l.2 4.2l.1 3.6l.2 3.1l.2-5.3l.2 2.3l.2 0l.2 1.4l.2 14l.2-.3l.2 .4l.2 2.2l.2 4.4l.2 .1l.2 4.7l.2 4.9l.1 1.4l.2 .3l.2 1.4l.2-1.6l.2 3.9l.2 4.7l.2-3.1l.2 6.7l.2-1.6l.2-1l.2 .8l.2 2.4l.2-5.4l.2-9l.1 8.4l.2-1.1l.2-6.2l.2 .4l.2-4.9l.2-1.2l.2-1.6l.2 5.9l.2 4.7l.2 .3l.2 10.9l.2-1.4l.1-2.7l.2 5.3l.2 4.2l.2 6.5l.2 2.2l.2 4l.2 3.8l.2 2.9l.1 1.6l.2-2.9l.2-.3l.2-3.2l.2 2l.2-.3l.2 8.3l.1 4.5l.2-.2l.2-.7l.2-2.3l.2 1.1l.2 1.1l.2 .3l.1 .3l.2 1.3l.2-4.2l.2-1.3l.2-3.2l.2 1.8l.2-2.4l.2-5.4l.2-7.2l.2-.6l.2 0l.2-10.2l.2-.5l.1-1.6l.2-7.8l.2 .7l.2-2.4l.2-4.7l.2-12.6l.2 1.3l.2-.7l.2-10.8l.2-2.7l.2-2.5l.2-9l.2 3.2l.2-4.8l.2-4.9l.1 1l.2 6.1l.2 3.9l.2-7.5l.2 4.3l.1 3.9l.2-2.9l.2 12l.2-.7l.2 6.2l.2-7.6l.1 6.8l.2-.1l.2 4.2l.2-.5l.2 .9l.2 .7l.1 1.9l.2-.3l.2 1.9l.2 2.5l.2-2.8l.2-2.1l.2 8.6l.1 3.4l.2 1l.2-3.5l.2 5.5l.2-8.5l.2 2.2l.2 1.1l.1-1l.2 4.4l.2 .3l.2-.3l.2-2.3l.2 6.1l.2-4.3l.2 .7l.1 2l.2-1.7l.2 4.8l.2 2.6l.2-2.4l.2 4.1l.2-3.4l.2-1.5l.2 3.6l.1 2.4l.2 4.5l.2 3.1l.2-4.9l.2 4.5l.2-.3l.2 .8l.2 4.1l.2 2.6l.2 2.1l.1-9.3l.2 2.6l.2-1.3l.2 1.4l.2 1.5l.2 1.7l.2 6l.2 3.6l.2 .1l.2-4.2l.2 2.9l.2-4.3l.1-.4l.2-2.3l.2-2.4l.2-1.7l.2 4.8l.2-.4l.2-5.7l.2 2.8l.2-2.2l.2 1l.1 6.3l.2-1.9l.2-6.6l.2 1.4l.2 3.4l.2-2.5l.2-3.4l.2-2.8l.2-.4l.2-2.1l.1 3.1l.2 .7l.2 .9l.2-.8l.2-4l.2-5.9l.2 3.1l.1-4l.2-2.2l.2 7.8l.2 2.1l.2-2.9l.2 3.8l.2-9.4l.1 6.9l.2-.2l.2-4.2l.2 3.4l.2-1.4l.2 5.5l.2-3.9l.2 5l.2-1.9l.2-1.3l.2 10.1l.1 3.1l.2 2.9l.2 .8l.2-4l.2 1.7l.2-3.8l.2-4.8l.2-2.5l.1-1.8l.2 2.5l.2 .4l.2-3.5l.2-4.9l.2-4.2l.1 .3l.2 1.6l.2-1l.2-7.4l.2 .6l.2-2.4l.1 2.2l.2-1.2l.2 1.1l.2-.7l.2 5.1l.2-.6l.2 1.5l.2 2.2l.1 5.2l.2 3l.2-1.4l.2-3.8l.2-.3l.2 .5l.2 .4l.2 6.8l.2-4.8l.1 1.7l.2 3.5l.2 1.2l.2-.7l.2-.5l.2 6l.2-8l.1 8.2l.2-7l.2-.1l.2 7.6l.2-4.6l.2-1.5l.1 1l.2 1.7l.2 2.6l.2 2.2l.2 3.7l.1-.1l.2 1.4l.2-1.8l.2-3.6l.2 4.9l.2-1.6l.2 3.4l.2 .1l.2-4.4l.1-.7l.2 .2l.2 1.7l.2-2.6l.2 2.6l.2-3.5l.2-.8l.2 2.1l.2-5.9l.1 4.6l.2-6.1l.2-2.7l.2-2.8l.2-.2l.2-2.9l.2 2.2l.2 3.5l.1-3.8l.2 1.6l.2-1.1l.2-2.3l.2 1.1l.2-4l.2 .2l.2-.2l.2 1.5l.1-3.2l.2 .6l.2 1.1l.2 2.4l.2 2.4l.2 7.3l.2 1.2l.1 2.6l.2 1l.2-1.3l.2 2.4l.2-1.9l.2 1l.2 1.9l.1-1.9l.2-.7l.2 6.9l.2 0l.2-7.8l.2 4l.2 1.1l.1 4.9l.2-2l.2-.2l.2 4.2l.2-1.8l.2-.4l.2 4.7l.1-4.5l.2 0l.2-2.7l.2-1.7l.2-.6l.2-5.4l.2-.7l.1 5l.2-2.6l.2-1.8l.2 1.1l.2-5.1l.2 4.1l.2 7.1l.1 .4l.2-5.6l.2 1.9l.2-3.5l.2 3.4l.2-4.8l.2-.7l.1 .7l.2-1.2l.2-2.6l.2-1.5l.2-.7l.2 .5l.2-.9l.2-3l.2-.6l.1-3.1l.2 4.9l.2-3.3l.2 .6l.2 3.1l.2-3.5l.2-3l.2-2.4l.2 .6l.2 5.6l.1-1.7l.2-1.9l.2-5.6l.2 2.5l.2 .8l.2-4.5l.2 2.7l.2 3l.2-1.5l.2-2.6l.1 .7l.2 5.9l.2-1.6l.2-4.9l.2 2l.2-2.7l.2 .8l.2 1l.2-2.1l.1 6.2l.2 .7l.2 .5l.2-4.3l.2 .5l.2-3l.2 1.2l.2-.2l.2 2.6l.2 .9l.1-5l.2-1.6l.2 7.8l.2-3.7l.2-6.1l.2 .6l.2 7.3l.2-3.1l.2 .6l.2 2.6l.1-3.7l.2-2.5l.2 5.3l.2 .4l.2 2l.2-.3l.2-4.7l.2 3.8l.2-.6l.2 .8l.1 1.4l.2 2.5l.2-1.2l.2 4.1l.2-2.6l.2 1.5l.2 .5l.1 2.8l.2 3.4l.2 2.9l.2-2l.2-.2l.2-1.2l.2 2.2l.1-2.7l.2 1.6l.2 1.4l.2 2.6l.2 .8l.2-1.6l.2 4.6l.1 4.3l.2-2.8l.2-.9l.2 1.3l.2 .6l.2 3.7l.2-1l.2 .7l.1-1.3l.2 2.5l.2-4.2l.2 4.8l.2-8.3l.2 3.8l.2-.2l.2 1.4l.1 .5l.2-3.1l.2 1.5l.2-3.1l.2-3.8l.2-.5l.2-1.7l.2 3.1l.1-.6l.2-1.8l.2-4.3l.2-.5l.2 4.8l.2-5.9l.2-.4l.2-1.7l.1-.2l.2 .1l.2 9.6l.2-1.5l.2 2.7l.2-8.9l.2 .4l.1 3.2l.2 2.8l.2 8l.2-3.7l.2 2l.2-7.2l.2-.9l.1 2.7l.2 2.6l.2-3.4l.2 3.7l.2-2.6l.2 1.6l.2 2l.1 .7l.2-4l.2 5l.2-3.5l.2-2.3l.2 2l.2-5.5l.2-.1l.1 .2l.2 6l.2-3.3l.2 5.4l.2-4.4l.2-7.1l.2 6.3l.2-5.9l.1 6.1l.2-1.1l.2-2.4l.2 3.7l.2-2.5l.2 1.3l.2 .5l.2-4l.2 .3l.2-1.6l.1 .2l.2-1.3l.2-5.2l.2 2.4l.2 2.7l.2 0l.2-3l.2-.6l.2 9.6l.2-3.4l.1-3.8l.2-6.4l.2 4.7l.2 1l.2 2.4l.2-2.2l.2-1.5l.2 3.1l.2-.8l.1 2.8l.2-1.2l.2 .7l.2-5.9l.2-3.8l.2 0l.2 2.6l.2-.5l.2-2.1l.1 6l.2-5.8l.2 7.2l.2-4.2l.2 8.5l.2-.3l.2-.9l.2-.2l.2 5l.1-3.9l.2-.3l.2-6.5l.2 .3l.2 9.5l.2-3l.2-4l.2 1.6l.2 2.2l.1 1.8l.2-2.6l.2 2.9l.2-.2l.2 0l.2-4.7l.2 4.6l.1-1.8l.2 4.2l.2-2.7l.2-4.2l.2 4.1l.2 4.6l.2-2.4l.1-1l.2 2.2l.2-3.1l.2 0l.2-2.2l.2 6.8l.2-4.5l.1-3.9l.2 5.6l.2-5.7l.2 2.4l.2 5.6l.2 1.6l.2-.5l.1-2.4l.2 2.7l.2-.9l.2 1.2l.2 1.4l.2 3.5l.1 3.3l.2 .1l.2 1.6l.2-6.2l.2 7.5l.2-7l.1 7.9l.2-2l.2-1.3l.2 2.3l.2-2.1l.2 1l.1 4l.2 .3l.2 .2l.2-1.4l.2 6.5l.2-5.3l.2 3.2l.2-2.2l.2 8.8l.1-4.6l.2 2.9l.2-1.2l.2 5.1l.2-2l.2 2.4l.2 7.3l.2-7.7l.1 5l.2 1.6l.2-1.5l.2-.2l.2-.6l.2-5.1l.2-3.6l.1-2.7l.2 7.5l.2-6l.2 5.1l.2-12.6l.2 .4l.2-3l.1 1.9l.2-.2l.2 1.9l.2-7.2l.2 2.1l.2-.1l.2 0l.2 0l.1 .6l.2-.4l.2 1l.2-3.2l.2-1.9l.2 6.7l.2-.6l.2 2.7l.2-7.3l.2 4.9l.1-4.1l.2-1l.2 .3l.2 6.8l.2-10.3l.2 2l.2-2.3l.2-2.6l.2 6.5l.2 3.1l.1-8.6l.2-2l.2 5.9l.2 .1l.2-3.3l.2 1.9l.2-3.3l.2 .6l.2 2l.2-.5l.1 1.6l.2-3.1l.2 2.3l.2-4.4l.2-2.1l.2 8.5l.2-8.2l.2 7.5l.1-1.7l.2-8.6l.2-.8l.2 .3l.2 1.2l.2 1.3l.2-.6l.2 1.9l.2 1l.1 3.1l.2-7.2l.2 1.5l.2 .8l.2-3.8l.2-.5l.2 4.4l.2-.3l.1-1.3l.2-.3l.2 .4l.2 5.1l.2-2.3l.2-2l.2-.3l.2-1l.2 3.5l.1-.8l.2-9.2l.2 4l.2 0l.2 .4l.2-2.1l.2-1.9l.2-2.9l.1 4.7l.2-4l.2 4l.2-.8l.2-4l.2 3.9l.2 2.3l.1 9.5l.2-1.7l.2-1l.2-1.6l.2-.8l.2 4.6l.2 1.6l.1-4l.2 1.3l.2 .2l.2-1.7l.2-.3l.2-.4l.2 3.3l.1-1.7l.2 4.3l.2-9.8l.2 4l.2-7.5l.2 4.3l.2 .6l.1-5.6l.2 1.3l.2 .6l.2 1.9l.2 .7l.2 1.9l.2 .9l.1 1.8l.2-3.4l.2 .3l.2-7.5l.2-3l.2 .1l.2 5.1l.1-.2l.2-1.3l.2 2.7l.2-4.7l.2-1.4l.2 .2l.2-3l.2 .7l.2 2.9l.1-.5l.2 2.4l.2-2.4l.2 5.6l.2-4.4l.2 1l.2 .9l.2 .2l.2-1l.2 5.5l.1-6.3l.2 0l.2-8.2l.2 3.3l.2-2.3l.2 2.7l.2 1.6l.2 4.7l.2-.6l.2-.1l.1 2l.2-2.3l.2-.2l.2-2.8l.2-2.4l.2 1.6l.2-3.9l.2-2.8l.2-1.4l.1 2.7l.2-.5l.2-6.1l.2-1.1l.2-1l.2 9.8l.2 3l.1-12l.2-1.9l.2-2.6l.2 .4l.2 2.9l.2-1.4l.2 .5l.1 .1l.2-5.3l.2 3.2l.2 1.3l.2-6.3l.2-3.5l.1 0l.2-.8l.2 5.9l.2 .7l.2-6l.1 6l.2-6.9l.2-4.1l.2-2.3l.2-1.5l.2 2.3l.2-4.2l.1 1.9l.2 4.1l.2-.8l.2-4.9l.2-6.4l.2 6.1l.2-4.8l.2 .2l.2-2.4l.2-3.4l.2-1.6l.2-1.1l.2-2.1l.2-.9l.1 5.1l.2-7.5l.2-8.1l.2 3.2l.2-6.3l.2 7.9l.2-2.2l.2-5.9l.2 1.5l.2-.4l.1 1.3l.2 6.7l.2 1l.2 1l.2 2.2l.2 4.8l.2 2.2l.2 4.4l.2 3.3l.2 9.9l.2-.1l.2 3.6l.2-.1l.1-2.8l.2-3.2l.2 3.2l.2-2.1l.2-5l.2-.9l.2-3.1l.2-3l.2-2.1l.2-.9l.1-.9l.2-2.3l.2 3.6l.2-4.6l.2 3.1l.2-3.4l.2-3.2l.2-2.1l.2 5.6l.2 1.5l.1 1.5l.2-6.6l.2-1.9l.2 6.2l.2-7.1l.2-5.4l.2 3.2l.2-.4l.2-1.5l.2 2.2l.1-1.2l.2-2.2l.2 1.2l.2 .5l.2 .3l.2-5l.2 2.6l.1 1.5l.2 4.4l.2-4.2l.2 3l.2 2.3l.1-3.4l.2 .6l.2 7l.2 1.5l.2-2.5l.2 3.5l.2-5.7l.1 .3l.2-5.3l.2 4.7l.2 5.1l.2-1.3l.2-13.2l.2 3.5l.2-.3l.2-.6l.2-.8l.2-4.1l.2-2.3l.2-1.3l.2-1.7l.1-8.8l.2-5l.2-3.9l.2-3l.2 1.5l.2-5.1l.2-4.3l.2 3.8l.2-7.3l.2 6.3l.2-7.1l.2 4.6l.2 2l.1 1.5l.2-.2l.2-4.7l.2 3.9l.2 1l.2 4.8l.2 1.7l.2-2.3l.1 1.6l.2-5.7l.2 .8l.2 8.5l.2-5.4l.2 4.8l.2-.3l.2 1.8l.2 0l.1-2.5l.2 3.3l.2 .1l.2-1.6l.2-4.6l.2-3l.2-4.1l.2 9.3l.1-.4l.2-7.3l.2 6.1l.2-1.4l.2-4.6l.2-5.4l.2 .7l.2 1.2l.1 2.2l.2-1.8l.2 .7l.2-.3l.2 1l.2 2.9l.2 4.9l.2 4.8l.2 2.9l.2 2.6l.2 1.8l.2 1.6l.1 4.1l.2-2.7l.2-.1l.2-2.6l.2 11.2l.2-1.5l.2 .3l.2-2.7l.2-6.2l.1-1.9l.2-2.9l.2-9.5l.2-3l.2 2.7l.2-11.6l.1-10.6l.2-3.7l.2 .4l.2-7.5l.2-.3l.2-1.6l.1-3.8l.2-6.3l.2-1.9l.2-.6l.2 2.9l.2-6l.1 .9l.2-5.1l.2 1.9l.2-2.8l.2-2.6l.2-4l.2-1.9l.1-12.3l.2-5.3l.2 .5l.2 .9l.2-7.6l.2-1.2l.2-2.3l.2-3.5l.2 3.4l.1-1.9l.2-1.2l.2 3.4l.2 .3l.2 2l.2 4.4l.2-3l.2-9.5l.2-1.1l.2 4.3l.2-3.6l.2-3.2l.2 4.1l.2 2.7l.1 1.8l.2-5.9l.2-4.9l.2 10l.2-7.8l.2-4.8l.2-1.7l.2 5.9l.2-2.6l.2 4.1l.2 10.2l.2 7.7l.2-8.4l.2 10.9l.1 7.1l.2 10.9l.2 3.3l.2-4.7l.2 4.6l.2 9.2l.2 3.5l.2 4.2l.2-3.8l.2 2.4l.2-4.2l.2 1.2l.2-.9l.2 .4l.1-1l.2-7.2l.2 5l.2-6.7l.2-10.6l.2 4.5l.2-1.8l.2-.1l.2-6.5l.2 7.3l.2-4.4l.2 .2l.2-8.6l.2 4.3l.1-5.5l.2 7.6l.2-2.3l.2 4l.2-1.1l.2-3.5l.2 7.6l.2-3.5l.2 7.5l.2-4.2l.2 3.6l.2 6.3l.1 6.4l.2 3.9l.2 7.8l.2 1l.2 4.8l.2 5.8l.2-1.3l.2-2.8l.2 .8l.2-.3l.1 1.6l.2 3.2l.2-4.2l.2-1.9l.2 5.3l.2 2.5l.2-1.1l.2-6.4l.2 1.8l.1-2.9l.2-6.4l.2 1.6l.2-2.6l.2-6.7l.2 2.4l.2-3.9l.1-6.4l.2-.6l.2 2.9l.2-1.5l.2-2.6l.2-3.5l.2-4.3l.1-1.1l.2 .6l.2-2.5l.2-6.9l.2 7l.2 1.2l.2-7.7l.1-.4l.2-6.1l.2 1.7l.2 3l.2-1.8l.2-7.3l.2-1.7l.1 .9l.2 .1l.2-3.5l.2 0l.2 2.2l.2-2.4l.2 1.2l.2 5.3l.1-4.2l.2-3.5l.2-1l.2 4.4l.2 7.8l.2-3.2l.2 3.3l.2 6.2l.2-4.4l.1 2.2l.2-2.4l.2 1.5l.2-4.7l.2-1.9l.2 .9l.2-1.3l.2 5.4l.2-2.5l.2 4.6l.1-3.1l.2-5.1l.2 .7l.2-2.4l.2 3.2l.2-2.5l.2-5.6l.2 3.2l.2-.1l.1-4.8l.2-1.3l.2-1.2l.2-5.6l.2 1.2l.2-11.2l.2-6.6l.2 .3l.1 1l.2-2.7l.2-2.7l.2 7l.2 5.8l.2 .4l.2 8.2l.2 5l.2 3.6l.2 6.3l.1-.6l.2 7.7l.2-2.1l.2 4.6l.2 .7l.2-.8l.2-1l.2 6.5l.2 2.9l.2 4.8l.2 2.3l.2 2l.1-.1l.2-.9l.2-2.8l.2 4.6l.2 5.1l.2-3.1l.2-6.1l.2 .3l.1 .6l.2 .1l.2-2.1l.2-.1l.2-3.4l.2-9.8l.1 2l.2 3.6l.2 4.4l.2-5.3l.2-.6l.2-2.8l.1-5.6l.2 .4l.2-.8l.2-2.9l.2 6.4l.2 2.8l.2 2.8l.2 2.4l.1-.1l.2 1.2l.2-6.1l.2 5.1l.2-11.8l.2 13.3l.2-5.7l.2 7.3l.2-.7l.1 2.2l.2-3l.2-2.2l.2 .7l.2 1l.2 1.3l.2-.1l.2-.6l.2-1.6l.2-4.8l.2-6.9l.1 3.1l.2 4.4l.2-4l.2-7l.2 1.9l.2-4l.2 2.3l.2 2.1l.2-3l.2 3.8l.1-1.6l.2 1.9l.2 .1l.2-5.4l.2 .9l.2 1.2l.2-5.1l.1 4l.2 2.9l.2-2.1l.2-2.7l.2-2.5l.2 .1l.2-6.2l.1-.3l.2 2.7l.2-6.1l.2 9.6l.2-2.4l.2 2.1l.2-7.8l.1 2.1l.2 2.1l.2-1.2l.2-1.8l.2 6.4l.2-1.5l.1 11.2l.2-3.4l.2-3.7l.2 .1l.2 2.1l.2 12.9l.1-1.6l.2 1.7l.2-5.5l.2 2.3l.2 2.1l.2 4.5l.1-5.3l.2 3.7l.2 .2l.2 .9l.2-10.1l.2-.3l.2 3.7l.1-6.9l.2-.3l.2-1.7l.2-9.2l.2 9.5l.2-1.4l.2-5.4l.1-3.1l.2-7.2l.2 .4l.2-2.1l.2-3.4l.2 7l.2 5.6l.1 1.1l.2-.9l.2 3.9l.2-3.5l.2 3.4l.2-6.6l.2 0l.2-.2l.2 2.5l.1 1.9l.2 9.3l.2-1.1l.2 4l.2-7.3l.2 5.3l.2 1.4l.2-2.5l.2-8.6l.1 1.4l.2-11.6l.2-2.1l.2-9.2l.2 .9l.2-.1l.2-4.8l.2-2.3l.2-3l.2-9.7l.2-2.8l.2-5.9l.2-4.4l.2-4.2l.1-4.5l.2-2.4l.2 7.3l.2-8.5l.2 13.6l.2-12.4l.2-6.5l.2 6.6l.2-7.7l.2 6.6l.2-6.2l.2 .1l.2 0l.2-.8l.1 1.1l.2-6.3l.2 .2l.2-.4l.2-1.1l.2 1l.2 2.7l.2-6.3l.2-3.6l.2 1.5l.2-1.9l.1-4.5l.2 1.4l.2-5.1l.2 14.4l.2-10.3l.2 5.3l.1-2.9l.2 4.7l.2-14.5l.2 6.6l.2-2.2l.2 8.2l.1-1.8l.2-3.5l.2-.6l.2 2.8l.2-5.4l.2 8.2l.2-1.7l.1 .4l.2 1.4l.2-4.1l.2 .1l.2 2.4l.2-2.9l.2 2.6l.2-1.6l.2-4.3l.1 3.4l.2 2.8l.2 4.4l.2-5.9l.2-.1l.2 2.4l.2 3.8l.1 10.1l.2 7.6l.2 6.7l.2 14.6l.2 9.7l.1 4.5l.2 4.6l.2 7.5l.2 19l.2 3.3l.1 8.6l.2 10.8l.2 15.5l.2 10.5l.2 3.7l.2 9.6l.2 11.2l.2 16.8l.2-1.1l.2-6l.2-4.2l.2-6l.2-11.9l.1-11.8l.2 2.8l.2-10.1l.2-8.9l.2-5l.2-4.4l.2-6.8l.2 2.8l.2-2.3l.2-2.7l.2 4.2l.2-3.1l.1-8.3l.2-2.2l.2-.4l.2-7.8l.2-.1l.2-1.3l.2 2.8l.2-5.5l.2 1.2l.2-.9l.2-.2l.2 3.1l.1-8.2l.2 3.3l.2-8.8l.2 1.6l.2-7.6l.2 .7l.2-1.5l.2 10l.2 .4l.1 .9l.2 4.4l.2 5.8l.2 6.4l.2 7.2l.2-2.4l.2 2.5l.1 .3l.2-6.4l.2 3.8l.2-2.3l.2-8.9l.2-2.5l.2-1.2l.2 .4l.2-4.6l.2-3l.1 8.9l.2-.7l.2 8.4l.2 3l.2 4.5l.2 8l.2 4.1l.1 2.6l.2-1.6l.2 8.9l.2 2.1l.2 .9l.2 .7l.2 3.2l.2 10.2l.2-4.2l.1 4.3l.2 2.8l.2 9.6l.2 1.5l.2-7.4l.2-3l.2-5.1l.2 2.2l.1-3.2l.2-2.2l.2-5.8l.2-2.2l.2-3.2l.1 2l.2 .4l.2-6.4l.2-13.1l.2 3.8l.2-4.7l.1-2l.2-3.2l.2 3.2l.2-6.7l.2-3.4l.2 .6l.2-12.2l.2-3.9l.2 .1l.2 4.7l.2-10.7l.2-5.5l.2-1.9l.2 1.6l.1 .6l.2 3.4l.2-4.5l.2-1l.2 1.6l.2 3l.2-5.4l.2 1l.1-2.4l.2 8.7l.2-1.4l.2-2.3l.2-3.7l.2 10.6l.2-1.5l.2 1.2l.1-2l.2-.4l.2-1.6l.2 .8l.2-3l.2-.2l.2-4.1l.1-4.8l.2 2.3l.2 4.9l.2-10.5l.2-1.7l.2-1.3l.1 5.3l.2 1.9l.2-.7l.2-1.3l.2 3.6l.2-6.8l.1-.9l.2 9.3l.2 2.3l.2 7l.2-.2l.2 8.4l.2 5.7l.2 3.9l.2 3.7l.2 .9l.2-7.7l.2 5l.2 8.9l.1 4l.2-3.9l.2 5.3l.2 .4l.2-1l.2-2.4l.2-4.7l.1-.3l.2-1.2l.2 .5l.2-5.8l.2-6.7l.2 4.5l.2-9l.1 3.9l.2-1.5l.2-8.2l.2-.3l.2 1.8l.2 3l.2-3.4l.2-1.2l.2-1.9l.2-8l.1 3l.2-10.7l.2 2.6l.2-.1l.2 1.4l.2-1.9l.2-5.4l.2 2.6l.2 1l.2 1.5l.2-5.5l.1-1.4l.2 4.7l.2-.5l.2-1.4l.2-3.1l.2 5.6l.2-2.4l.1 5.5l.2 .1l.2-2.8l.2-9.5l.2 2.4l.2-7.3l.2 2.3l.1-2.5l.2 4.8l.2 9.6l.2 .8l.2-2.5l.2-9.9l.2 2.6l.1 2l.2-2.2l.2 .8l.2 .4l.2-1.7l.2-2.2l.2 2.3l.2 2l.2-9.9l.2 5.8l.1 2.9l.2-2.3l.2-1.7l.2-3.4l.2-8.6l.2-1.5l.2 4l.2 .8l.2-4l.2 3l.2-.3l.2 5.1l.1-4.4l.2-.5l.2 3.7l.2-4.2l.2-1.9l.2-2.8l.2 4.9l.2-5l.1 1.3l.2 1.9l.2-4.9l.2 .6l.2 .6l.2 9.3l.1 3.1l.2 .1l.2-.9l.2 5.7l.2-3l.2 4l.1-3.6l.2 3.6l.2-.7l.2-.4l.2 4.8l.2-1.8l.1-.3l.2 2.3l.2 1.1l.2 3.8l.2-9.1l.2 .3l.2 4.3l.1-1.5l.2 9.1l.2 3.2l.2 1l.2-1.3l.2 1.5l.2 .9l.1 1.4l.2-1.1l.2-9.4l.2-4.2l.2 6l.2-14.1l.1 3.6l.2 .7l.2-2.2l.2-3.2l.2-.6l.2-3.1l.1-5.5l.2-3.2l.2 1.4l.2-.5l.2 1.4l.2-.6l.2-2.2l.1-.7l.2-5.2l.2 4.3l.2-4.9l.2-4.9l.2 2.5l.2 .7l.2-4.9l.1 2l.2 .2l.2-3.1l.2 6.7l.2-8.1l.2-2.3l.2-2.4l.2 .8l.2 6.6l.2 .8l.1 1.1l.2 7.6l.2 5.2l.2-5.8l.2 5.4l.2-.4l.2 14.4l.2 .4l.2 6l.2 4l.2 1.2l.2-1.7l.2-.7l.2-2.6l.1-5.1l.2-5.9l.2-6.8l.2-9.6l.2-2.5l.2-6.6l.2-3.1l.2-1.5l.2 .2l.2-2l.2 .5l.2-1.3l.2 4.2l.2 6.2l.1-1.8l.2-.1l.2 3l.2-1.4l.2 5.5l.2 7.6l.2 1l.2-3.6l.2 7.5l.2 10.9l.2 3.6l.2 8.4l.2-3.8l.2 6l.1 11l.2 3.9l.2 8.7l.2 .2l.2 1.2l.2 2.8l.2 6.2l.2 10.1l.2-9.5l.2-5.1l.2 2.3l.2-12.3l.2 1.4l.2-3.1l.1-.2l.2-5.6l.2-5.2l.2-5.7l.2-6.3l.2-6.5l.2-10.7l.2-.6l.2 1.1l.2-2.2l.2-4.3l.1 5.2l.2-7.2l.2 3.6l.2 1.8l.2-1.2l.2-5.8l.2 10.2l.2-5.9l.1 4.1l.2-.9l.2 4.6l.2 2.8l.2-8.7l.2-2.1l.2 4.5l.2-1.7l.1 5.6l.2-1.1l.2-9.5l.2 4.2l.2 10l.2-6.2l.1 5.2l.2 5.1l.2-5.9l.2-.7l.2-1l.2-2.5l.1-1.7l.2 11.2l.2-3.1l.2-.9l.2-3.5l.2 6.3l.1 7.4l.2 1.7l.2-4.3l.2 1l.2-4l.2 3.4l.2 7.7l.1 3.5l.2-2.1l.2-5.6l.2-5l.2 9.3l.2-1.1l.2 2.1l.1 4.3l.2-1.9l.2 1.6l.2 6l.2 3.9l.2 1.2l.2 2.7l.2 1.5l.2 9.7l.2 4.5l.2 1.1l.2 2l.2 6.9l.1 6.4l.2-1.5l.2-4.9l.2-5.1l.2 .1l.2 6.4l.2-3.9l.2-14.7l.2-.5l.2-1.3l.2 6.5l.2-2.8l.2-9.2l.2-2.8l.1-1.1l.2-2.9l.2-.4l.2 .9l.2 4.1l.2-.1l.2-2.6l.2 2.7l.2 9.2l.2-.1l.2 .7l.2-1.9l.2-2.4l.2 4.8l.1-1.4l.2-4.3l.2-2.6l.2 2.8l.2-4.5l.2-2l.2-2.7l.1 6.8l.2 .6l.2-1.8l.2-1.9l.2-10.6l.2-6.1l.2 6.2l.1-9.3l.2 4.5l.2-.9l.2-4.8l.2 2.1l.2-2.2l.1-1.9l.2-2.2l.2 1.1l.2 2.8l.2-3.1l.2 5.5l.1 2.2l.2 .1l.2 3.9l.2 1.4l.2-4.5l.2-.9l.1 2.9l.2 4.8l.2 1.4l.2 2.1l.2 1.8l.2 1.7l.2 0l.2 1.1l.1-5.1l.2 9.7l.2 .7l.2-5.1l.2 3.8l.2 2.4l.2-2.9l.2 2.1l.1 5.3l.2-1.8l.2-2l.2 7.4l.2-4.1l.2 1.5l.2 7.4l.1 12.4l.2 3.1l.2 6l.2 1.8l.2 9.2l.1 8l.2 .2l.2-3.1l.2-1.2l.2-5.6l.2-2.1l.2-5.6l.2-1.5l.1 .7l.2 .6l.2-3.7l.2-3.4l.2 7l.2-5.3l.2-.1l.2-3.9l.1-4.6l.2 6.9l.2-4.4l.2-5.8l.2-.4l.2 3.3l.2 1.4l.2 3.9l.2-3.3l.2-1l.2 4.5l.2-3.1l.1 2l.2 5.2l.2 1l.2 2l.2 2.6l.2 6.8l.2-3.1l.2 1.6l.2-.8l.2-1.9l.1 4.1l.2 2.7l.2 5.5l.2-10.7l.2 6.3l.2 3.9l.2 2.6l.1-6l.2 1.1l.2 10.1l.2-3.2l.2-6.3l.2 3.6l.2 2.5l.1-1.8l.2 4.3l.2 3.7l.2 .1l.2-2l.2 3.6l.2 11.6l.2 .8l.1 1.8l.2-2.2l.2 4.8l.2 1.4l.2 7.5l.2 4.3l.2-1.8l.2-5.3l.1 7.6l.2 5.9l.2-3.3l.2 2.9l.2-3.6l.2 0l.2-1.6l.2-.2l.2-1l.1-7.7l.2 3.7l.2 1.3l.2-1.6l.2-.6l.2-8.8l.2 2.8l.2-1.4l.1 5.1l.2-5l.2-3.3l.2-2l.2 5.2l.2-1.7l.2-3.6l.2-3.6l.1-.7l.2-6.8l.2-2.1l.2-2.1l.2 4.5l.2-.3l.1-5.3l.2 8.5l.2-11.1l.2-6.1l.2-1.3l.2 3.1l.1-1.7l.2 3.7l.2-4.6l.2 4.2l.2 2.6l.1-6.7l.2 1.2l.2 12.7l.2-7.3l.2-.4l.2 3.7l.1 4.7l.2-8.9l.2 4.1l.2 2.6l.2 8.8l.2 .8l.1-3.1l.2 2.3l.2 2.7l.2 2.8l.2 7.4l.2 2.6l.2-3.6l.2 7.4l.2 2.9l.2-3.1l.2-2.9l.2 4.7l.1-1.5l.2 4.1l.2 3.7l.2-4.2l.2 1.9l.2-9.2l.2 .9l.2-1.4l.2-.1l.2 1.1l.2-7.5l.2-9.1l.2-1.9l.2 3.1l.1-3l.2-.5l.2-2.4l.2 5.4l.2-7l.2 5.9l.2 4l.2-1.4l.2-.8l.1 3.2l.2 5.2l.2 1.8l.2-3.3l.2 4.4l.2-7.9l.2-1.6l.2 1.5l.1 1.1l.2 4.5l.2 1.1l.2-2.9l.2 1.8l.2-2.6l.2-.9l.2 .5l.2 3.9l.1 5.1l.2 .1l.2 3.8l.2-.2l.2 .3l.2 1.3l.2-6.2l.2 5.8l.1 2.6l.2-6.1l.2 1.2l.2 .1l.2 4.3l.2-.5l.2-1.8l.2 4l.2 .4l.1-.7l.2 2.6l.2 1.1l.2 10.5l.2 8.5l.2 2.4l.2-2.9l.2 4.1l.2 5.3l.2-6.6l.2 1.2l.2 6.7l.2 4.6l.1 5.1l.2 .2l.2 2.4l.2 4l.2-.8l.2 9.5l.2 8l.1 1.2l.2 2.5l.2 2.4l.2 1.8l.2 9.3l.2-4.1l.2 10.1l.1 .4l.2 2.1l.2 3.8l.2-5l.2-1l.2-3.6l.1 .2l.2-5.5l.2-4.4l.2 .4l.2-15.4l.2 1l.1-5.7l.2-7.5l.2-.6l.2-1.1l.2-.8l.2-4.2l.1-6.7l.2-.5l.2-4.8l.2-2.4l.2-6.7l.2-.9l.2-1l.2 8.2l.1-5l.2-5.4l.2 3.4l.2-5.3l.2-1.1l.2-3.7l.2-3.7l.2-2l.1-3l.2-4l.2-2.7l.2-.1l.2-3.2l.2 2.2l.2 2.3l.1-1l.2 2.6l.2 2.8l.2 7.4l.2 2.6l.2 2.6l.1 4.4l.2 4.7l.2 .1l.2 .7l.2 3.2l.2 7.7l.1 2.5l.2 4.5l.2 4.2l.2 7.3l.2-6.4l.2 10.8l.2 1l.2 8.5l.2 .9l.2 4.4l.2 3.3l.2 2.6l.1 .4l.2 1.3l.2 1.6l.2-1.7l.2-1.6l.2 .7l.2-8.9l.2 1.5l.1-3.5l.2-7.7l.2 .4l.2-.2l.2-5.3l.2 1.6l.2-2.3l.1-1.4l.2-1.1l.2-5.4l.2-2l.2-4.4l.2 1.4l.2 1.2l.2-2.4l.2 .5l.1-.1l.2-4.9l.2-.7l.2 7.4l.2-10.8l.2 2.9l.2 6.3l.2-2.1l.2-3.5l.2-.5l.2 4.2l.2 3.1l.1-1.4l.2 2.2l.2-5.3l.2 2.1l.2 1.9l.2 5l.2-3.1l.2 8.3l.2-1.6l.1-.9l.2 5l.2 4.5l.2-5.5l.2-2.8l.2 3.2l.2 .6l.2 3.2l.1 3.9l.2 1.7l.2 4.4l.2-2.8l.2 3.6l.2 2.9l.2-1.4l.1-.5l.2 5l.2-.4l.2 1.9l.2 .5l.2 2l.2 2.5l.1 5.4l.2 0l.2-4.1l.2 2.7l.2 1.2l.2-1.8l.2 2.8l.1-1.4l.2 .2l.2-2.3l.2-2.3l.2 .6l.2 1.2l.1-3.9l.2 1l.2 5.8l.2-6.6l.2-.6l.1 2.5l.2-.5l.2-.7l.2 2.1l.2 4.6l.2-3.1l.2 .1l.2 5.4l.1-1.5l.2 6.6l.2 .9l.2 2.8l.2-4l.2-1.4l.2 7.2l.2-1.1l.1-1l.2 3l.2-4.4l.2 8.4l.2-2.9l.2 .5l.2 4.5l.2 2.6l.2-2.2l.1 7.6l.2-.9l.2 3.8l.2-1.4l.2 1.6l.2 3.7l.2-3.8l.2-3.4l.1 7.5l.2-2.6l.2 1.1l.2 3.6l.2 1.8l.2-1.9l.2-1.6l.2 3.5l.1 4.9l.2-2l.2 .7l.2 6.1l.2 1l.2-.3l.2 1.2l.2-.5l.1 4.2l.2-2.2l.2 7.7l.2-2.7l.2 2.3l.2 .3l.2-1.5l.1-1.9l.2 6.3l.2 1.2l.2 2.7l.2-.6l.2-.1l.1 .6l.2-6.2l.2-2.3l.2-1l.2-5.5l.2 6l.1-4.4l.2-7.1l.2 2.1l.2 1.8l.2-.4l.2-6.9l.1-3.2l.2-.3l.2 .3l.2-1.2l.2-.1l.2-3.7l.1 2.6l.2-2.6l.2-1.2l.2 1.7l.2-3.2l.2 2.8l.1-1.3l.2 0l.2-1.4l.2-1.5l.2-4.7l.1-1.9l.2-1.6l.2 4.4l.2-3.4l.2 4.2l.2 2.6l.2 10.4l.1 1.7l.2-3.3l.2 8.1l.2 3.5l.2 2.4l.2 .5l.2-.9l.1 7.9l.2-2.1l.2 6.4l.2 1.9l.2-.7l.2 1.6l.2-.1l.2-2.8l.2-9.2l.1 1.2l.2-7.1l.2-7.1l.2 1.1l.2 .3l.2-4.3l.2-.8l.2-4.3l.2-2.7l.2-6.8l.2 1.8l.2-5.6l.2 .3l.2 1l.1-7.9l.2-.8l.2-.7l.2 .1l.2-3.7l.2-1.8l.2-1.8l.2-2.8l.2-3.4l.2 1l.2-2.2l.2-.4l.1 6.2l.2 3.8l.2 3l.2 .8l.2-4.3l.2 2l.2 2l.2-.7l.1 5.8l.2-3.1l.2 .6l.2-2l.2 2.5l.2-2l.2-.2l.2 3.7l.2 1.5l.1 1.3l.2 1.5l.2 2.2l.2-1.2l.2 2.3l.2 .4l.2-1.6l.2 2.2l.1-4.7l.2 3l.2-.8l.2-.2l.2-4.5l.2-.7l.2 2.5l.2 2.2l.1-3l.2 1.4l.2 2.2l.2-1.8l.2-.1l.2 .9l.2 .6l.2-3.6l.2 4.3l.1-1.6l.2-2.9l.2 .3l.2 7.8l.2-1.7l.2 .7l.2-4.7l.2 .6l.1 .7l.2 .7l.2 2l.2 5.6l.2-4.7l.2 6.1l.2-1.1l.2-.6l.1 1l.2-1.1l.2 2.6l.2-.8l.2 1.8l.2 4.5l.2-3l.2 4.1l.2-1.6l.1 5.4l.2-1.3l.2-1.3l.2-2l.2 6.4l.2 1.7l.2-.3l.2 2.5l.1-1.9l.2 .6l.2-1.6l.2 .7l.2 4.5l.2-.7l.2 .1l.2-2.4l.2 5l.1-2.2l.2 4.7l.2 2.6l.2 2.2l.2-.6l.2 5.7l.2-.3l.2-5.1l.1 7.3l.2-3.2l.2-.4l.2 2.8l.2 .8l.2 .6l.2 2.9l.2 1l.1 2.6l.2 4.9l.2-3.1l.2 .3l.2 5.9l.2-2.6l.2 6.9l.1 4l.2-3.5l.2 2.9l.2 1l.2-2.6l.2 5.9l.2 .1l.1 2.1l.2-1.2l.2-.9l.2 .5l.2-2.6l.2 .8l.1-3l.2 .7l.2-2.4l.2-3.2l.2 2.3l.1-3.6l.2-4.8l.2-1.3l.2-3.2l.2 1.7l.2-2.4l.2-1.6l.1 4.1l.2-2.5l.2-4.6l.2 .1l.2-.8l.2-.2l.2-.5l.2 1.9l.2-.8l.2-.3l.2-7.6l.2 1.5l.2-1.8l.2-2.1l.2-1.5l.1 .6l.2 4.7l.2 0l.2-9.2l.2-.9l.2-1.6l.2 3.8l.2-.6l.2-2.7l.2-1.4l.2 .7l.2 4l.1 2.6l.2 4.3l.2-1.1l.2-2.7l.2 2.8l.2 3l.2 3.5l.2-1.1l.1 2.9l.2-2.9l.2 5.5l.2 3.9l.2 3.1l.2 4.5l.2-1.2l.2 .6l.2 4l.1-1.1l.2 2l.2-1l.2 .7l.2-4.2l.2-4l.2 2.7l.2-.9l.2 2.5l.2-6.4l.1 3.9l.2 .7l.2-2.6l.2 .9l.2-9.8l.2 2.8l.2 1.1l.2 2.1l.2-1.8l.1-.1l.2-1.1l.2-3.5l.2 0l.2-.8l.2 .8l.2-3.4l.2 2.1l.2 1.6l.2-1.4l.2-5.5l.2 1.9l.1 2.1l.2-1.5l.2 .7l.2-3l.2 1.1l.2-2.9l.2-3.7l.2-.8l.2-3.4l.2 1.4l.2-2.2l.2-.3l.1 2.6l.2-1.4l.2 1.8l.2-1.1l.2 2.1l.2 3.3l.2-.3l.1 1.6l.2-4.7l.2 1.8l.2 4.9l.2 4.6l.2 2.6l.1 2.4l.2 2l.2-.6l.2 3.9l.2-.3l.2-1.1l.1 1.1l.2 1.5l.2-1.2l.2-5.1l.2 1.2l.2-7.3l.2 5.7l.2-.5l.2-5.6l.2-5.6l.2 1.1l.2 3.3l.2-3.1l.1-3.7l.2 4.3l.2 1.5l.2 2.1l.2 .3l.2 .2l.1 2.2l.2 5.6l.2-.5l.2 3.4l.2-1.3l.2 1.5l.1 2.8l.2-5.9l.2 .9l.2 2.3l.2 4.6l.2-.5l.1-1.4l.2-4l.2 1.8l.2 1l.2 1.6l.2-.9l.2-3.6l.1 3.4l.2-4.7l.2 .3l.2-4.5l.2 1.8l.2-2.3l.2 4.7l.1-4.8l.2 1.7l.2 1.1l.2-.1l.2 3.9l.2 7.4l.2 .3l.2 1.7l.2 4l.2 4.8l.2 6.8l.2-4.4l.1 5.3l.2 2l.2 4.1l.2 2.1l.2-.2l.2 1.2l.2-3.3l.2 3.9l.2-3.6l.2-3.9l.1 2.3l.2-.9l.2-2.6l.2 2.2l.2 .3l.2-.3l.2-6.6l.2 4.5l.1 0l.2 .5l.2 0l.2 .3l.2-1.2l.2-2.6l.2 .9l.2-.2l.2 7.5l.2 4.6l.2 .9l.1 4.3l.2 2.6l.2 .9l.2 2.4l.2 2.8l.2-.1l.2 2.9l.2 .4l.2 .9l.2-.6l.2 .8l.1-1.3l.2 1.7l.2 5.5l.2-4.5l.2-1.9l.2 1l.2 .3l.2 .7l.2 4.4l.1-.3l.2 3.5l.2 1.7l.2-1.5l.2 .7l.2 2.1l.2 1.9l.2-1.8l.1 1.9l.2 1.4l.2 3.8l.2 2.7l.2 1.5l.2 6l.2-6.9l.2 2.3l.2-2.2l.2 .6l.2 6.6l.2 .7l.2 2.9l.2 4.6l.1-4.1l.2 4l.2 3.8l.2-2.2l.2 1.1l.2-2.6l.2 8.2l.2 .5l.2 3.5l.2-1.6l.2 .6l.2-.5l.2 2.9l.1 .3l.2-5.5l.2 .6l.2 2.6l.2-3.5l.2 2.7l.2-7l.1-3.7l.2 1l.2 2.6l.2 4.4l.2-5.8l.2-8.6l.2 2.1l.1 2.7l.2-2.6l.2 .9l.2 4.4l.2 .9l.2-1.3l.1 8.3l.2-5.2l.2-4.5l.2 5l.2 5l.2 6.8l.1-3.4l.2 2.2l.2-3.5l.2-.8l.2 2.2l.2 4.1l.1 3.7l.2 .5l.2 4l.2 3.3l.2-2.6l.2 1.5l.2 7.3l.2 2l.2 1.7l.2 1.2l.2 4.7l.2-4.7l.2 3.4l.1 2.3l.2 2l.2 3.2l.2 4.9l.2 9.7l.2 6.3l.2 1.3l.2 1.1l.2 11.8l.2-1.2l.1 8l.2 4.8l.2-2.9l.2-5.8l.2-3.1l.2-4l.2-1.3l.2-10.5l.2-3.8l.2-2.8l.1-8.2l.2-3l.2-1.1l.2-4.2l.2-2.8l.2-1.8l.2-5.8l.2-2.5l.2 4.6l.2-7.5l.1-2.4l.2-4.4l.2-5.2l.2-.6l.2 1.6l.2 3.7l.2 3.8l.2 4.8l.1 2.7l.2 3.5l.2-.6l.2 11l.2-2.1l.2 2.6l.2 6.1l.1-1.8l.2 3.3l.2 1.3l.2 .1l.2 4.7l.2 7l.2 .8l.1 .9l.2 1.3l.2-8.4l.2 1l.2 5.5l.2 0l.1-1.9l.2 .2l.2-5.4l.2 3.5l.2-6.6l.2 .5l.1-4.8l.2 3.3l.2-1.2l.2-2.5l.2 .8l.2-3.8l.1-5.3l.2 3.2l.2-1.3l.2-7.5l.2-2.6l.2-1.7l.2 2l.2 1.2l.2-.9l.1-.5l.2-5.2l.2-3.4l.2-1.2l.2 2.4l.2-4l.2-1.7l.2-.8l.1-.3l.2-1.8l.2-.9l.2-4.1l.2 3.8l.2-4.4l.2-2.2l.2-3.3l.2-.7l.2 4.7l.2-5.8l.2 3.9l.2 2.6l.2-3.1l.1 3.2l.2 3.5l.2-2.5l.2 .6l.2 .7l.2 8.1l.2-6.4l.2 2.5l.1-.6l.2 3.7l.2 2.6l.2 .8l.2 3.4l.2-1.5l.2 6.4l.2 8.1l.2-.2l.1-.3l.2 0l.2 1.8l.2-.8l.2-.6l.2 1.3l.2-1.3l.2-.7l.1 4l.2 4.9l.2-3.5l.2-2.7l.2-3.4l.2-1.7l.2 2.1l.2-1.8l.1 5.1l.2 2l.2-4.3l.2 5.2l.2-.7l.2 1.6l.2-2l.2-3l.1 4.9l.2-6.8l.2 2.5l.2 2.2l.2 3.4l.2-4.2l.1-3.8l.2-2l.2 4l.2-6.9l.2 1.3l.2-.5l.1-.3l.2 .1l.2 1.7l.2 .1l.2 3l.2-.2l.1 3.9l.2 3.8l.2 .2l.2-1l.2 1.8l.2 .1l.2 1.3l.1-.9l.2-5.5l.2 1.7l.2 .7l.2 .7l.2 1.6l.2 2.7l.1 3.3l.2-3.2l.2 1.4l.2 1.2l.2 .1l.2 .1l.2-1.7l.2 2.1l.1 .9l.2-1.8l.2-1.8l.2 1.1l.2 5l.2-1.7l.2-4.3l.2 1.2l.2-3.7l.1 3.1l.2 .6l.2-1.7l.2 1.1l.2 .3l.2-1.9l.2 2.3l.2 1.2l.1-1.5l.2 1l.2 4.3l.2 2.4l.2 4.4l.2-3.8l.2 1.2l.2-2.2l.2 1.2l.1 3.9l.2 4.2l.2 1.7l.2-2.6l.2 2.8l.2-.2l.2 3.3l.2-3.4l.1 0l.2-1.3l.2 4.3l.2-2.3l.2-.5l.2-3.3l.2 6.4l.2-1.5l.1-9.1l.2 1.8l.2 2.6l.2-.7l.2 .1l.2 .4l.2-2.7l.2-.6l.2-2.3l.1-.4l.2 2.5l.2-2.1l.2-2l.2 4.2l.2-5.3l.2 4.5l.1 .5l.2-1.4l.2 3.3l.2-.5l.2-2.9l.2-2.5l.2 4.5l.1 1.4l.2-5.5l.2 4.7l.2-4.4l.2-2.7l.2-2.5l.2 2.8l.1 1.3l.2-7.2l.2 2.6l.2 3.3l.2 1.8l.2-1.9l.2-4.2l.1 1.6l.2 .9l.2 3.4l.2 .7l.2-.9l.2-1.2l.2-1.1l.2-2.3l.1 7l.2 4.4l.2-2.1l.2-3l.2 2.5l.2-1.1l.2 .8l.2-2.9l.2 2.9l.1 2.2l.2-.9l.2-.6l.2 2.6l.2-.1l.2 1.3l.2 1.8l.2-8.5l.1 3.7l.2 1.1l.2 .5l.2 1.7l.2-1.4l.2-.9l.2-2.1l.2 1.9l.2 3.4l.1-2.5l.2-3.7l.2-3.3l.2 2.1l.2 1.2l.2 1.1l.2-1.3l.2 1.9l.2 3.1l.1 1.4l.2 2.2l.2 1.1l.2 .3l.2-2.5l.2 3.1l.2 2.8l.2 7.5l.2-4.7l.2 3.3l.2 4.4l.2 .4l.2 1.6l.1 2.1l.2 1.3l.2 1.8l.2-1.7l.2-1.2l.2 3.1l.2 2.9l.2-1.3l.1 3l.2-.2l.2 3.9l.2-3.1l.2 4.1l.2-.1l.2-1.1l.2 2.5l.1 3l.2 1.6l.2-1.2l.2 7.9l.2 1.5l.2 .9l.2-1.3l.2 6.5l.2-2l.2 1.9l.1 .8l.2 4.3l.2 .7l.2-2.9l.2 .2l.2-.8l.2 2.9l.2 2.8l.1-2.3l.2-1l.2-3.1l.2-.1l.2 3.3l.2 1.1l.2-5.5l.1-2.6l.2 1.3l.2 .6l.2-1.7l.2 1.1l.2-.6l.2 .4l.1 4.2l.2 1.2l.2-2.7l.2 1l.2-.4l.1 .7l.2 2.9l.2 6.4l.2 3.3l.2 1l.2-2.6l.1 3.9l.2-.3l.2 .2l.2 .7l.2 .4l.2-1.6l.2 .8l.1-.8l.2 2.1l.2 1.2l.2 .5l.2-.2l.2-.6l.2 3l.2-.9l.2-2l.1 8.7l.2-3l.2 .4l.2 .7l.2 1.2l.2 1.5l.2-1.3l.2-.1l.1-.2l.2 1.3l.2-.6l.2 2.6l.2 5.3l.2-.7l.1 .8l.2-.5l.2 7.4l.2-1l.2-2.7l.1 2.2l.2 5.5l.2-1.2l.2 .2l.2 1.6l.2-3l.2 .7l.1-3.6l.2-1.9l.2-2.6l.2 .7l.2-3l.2 4.9l.2-.5l.1-4.8l.2-5.5l.2-1l.2-.3l.2-.1l.2-.4l.2-3.6l.1 1.8l.2-3.1l.2-2.5l.2 2.7l.2 1.1l.2-.4l.2-2.4l.1-3l.2 .8l.2-3.3l.2 1.3l.2 2.9l.2-5.3l.2-.6l.1 1l.2 1.7l.2-1l.2-1.1l.2-3.6l.2-.9l.2 3.4l.1 1.5l.2-1.6l.2-.6l.2-1.5l.2 4.8l.1-3l.2 .4l.2 2l.2 0l.2 1.1l.2 2.2l.1 4.2l.2-.3l.2 .9l.2 1.8l.2-3.4l.2-.1l.2 .3l.2-3.5l.2 .5l.2 3l.1-2.7l.2-3.5l.2 4.1l.2-6l.2-1.7l.2 2.9l.2-1.2l.2 1.1l.2 1.1l.1 1.9l.2 .9l.2 4.7l.2 2.1l.2 1.6l.2 .4l.1-1.4l.2 1.9l.2 6l.2 .8l.2-.9l.2 2.1l.1 2.4l.2 3.9l.2-5.5l.2-3.4l.2-.9l.2-4.7l.2-3.2l.2-1.5l.2-5.5l.2-4.3l.2-4.7l.2-6.8l.1-1.6l.2-5.6l.2-4.9l.2-1.3l.2-1l.2-.5l.2 3.3l.2 .5l.2-1.3l.2-1.4l.2 .4l.1-.5l.2-1.6l.2-7.3l.2 1.3l.2-2.3l.2-1.1l.2 .6l.2-2.2l.2 2.7l.2-.1l.1 1.7l.2-1.9l.2-2.8l.2 .2l.2 4.5l.2 4.2l.2 3.5l.2 4.5l.2 2.3l.2 7l.2 1.6l.2-1.4l.1 8.2l.2 1.1l.2 5.6l.2 3.8l.2 2.3l.2-4.5l.2-3.2l.2-3.8l.2-2.7l.2-1.1l.1 3l.2-6.8l.2-7.7l.2 .4l.2 .8l.2-.8l.2-7.2l.2 1l.2-6.6l.1-6l.2-1.3l.2-1l.2-4.2l.2-6.7l.2-1.5l.2 2.4l.1-1.2l.2 2.2l.2-3.7l.2 4l.2 3.9l.2 2l.1-1.3l.2-4.4l.2 1.4l.2 2.7l.2 4.1l.2-2.5l.1 1.2l.2-4.3l.2 3.5l.2 5.5l.2 3.9l.2-.1l.1-.1l.2 2.1l.2-.2l.2 2.7l.2 5.5l.2 2.7l.2 0l.1-.2l.2 .3l.2-2.4l.2 1.6l.2 0l.2 6.2l.2-1.7l.2-1.4l.1-4.4l.2 6.7l.2 1.8l.2-4.2l.2-3.9l.2 2.1l.2 5.4l.1-.3l.2-2.3l.2 4.8l.2 .5l.2-.3l.2 1.4l.2 6.2l.2 3.8l.2 1.6l.2 .5l.2 1.1l.2 3.8l.1 .2l.2 2.3l.2 4l.2 .2l.2-1.7l.2 .7l.2 2.5l.2 1.9l.1-1.6l.2 .7l.2 1.3l.2 3l.2 .8l.2-.3l.2-3.3l.1 5.4l.2-.1l.2 2.2l.2 1.7l.2-3.8l.2 2.4l.2-2.2l.2-2.2l.1-1l.2-.2l.2-.4l.2-1.9l.2-1.3l.2-1.7l.2-1.6l.2 4.1l.2 .5l.2-3.1l.1-2.1l.2 1.4l.2-5.2l.2-2.1l.2-1.1l.2-2.6l.2-.9l.2 .4l.2 .1l.2-1.5l.1 .7l.2 1.9l.2 2l.2-1.8l.2 .2l.2 1.4l.2-1.6l.2 3.9l.1-1.7l.2 2.8l.2 .8l.2 .9l.2-.2l.2-2.3l.2 3.7l.2-1.2l.1-.2l.2 2.7l.2 2.2l.2 .4l.2 1.8l.2-3.4l.2 2.5l.2 1.1l.2 3.4l.2-1l.2 .2l.2-1.1l.1-.3l.2 1l.2 4.2l.2 1l.2 .6l.2 .6l.2 .7l.2-3.5l.2 3l.2-3.3l.2-1.1l.2 2.6l.2-3.9l.1-3.5l.2-1.6l.2 1.9l.2-1.7l.2 .2l.2-2.9l.2 1.4l.2-2.2l.2 3.5l.2 .5l.2 .7l.2-1.9l.1 .6l.2-2.5l.2-.6l.2-1.6l.2 1l.2-1.7l.2 0l.2 .4l.2 1.5l.2 .9l.1 3.8l.2-6l.2 5.6l.2 1.1l.2 1.1l.2 .4l.2-2.2l.2 1.2l.2 .3l.2-1.7l.1 2.5l.2 1.1l.2-2.3l.2 .6l.2 1.4l.2-1.7l.2 2.4l.2-.2l.2 0l.1-.4l.2 0l.2 1.7l.2 .3l.2 4.1l.2-2.1l.2 3.2l.2-3.2l.2 2l.1-2.3l.2 1.1l.2-.3l.2 2l.2 .7l.2-.5l.2 0l.2 1.5l.1 2.7l.2-.1l.2-.9l.2-1.3l.2 2.5l.2-.9l.2 7.1l.2-.2l.2 .8l.1-5.1l.2 2.9l.2-1.9l.2 2.6l.2 2.5l.2 1.9l.2 1.6l.2-.5l.1 .2l.2 1.7l.2-.3l.2-.8l.2 2.1l.2 .5l.2 1.9l.2 2.1l.1 2.3l.2 1.4l.2-3.6l.2-.1l.2 2.9l.2 2.4l.2-1.2l.2 3.8l.2-.7l.1 4.2l.2-.8l.2-.3l.2 .4l.2 .8l.2 2.6l.2-1l.2 1.2l.1 .5l.2-.4l.2-1.7l.2-.4l.2-5.7l.2 0l.2-.2l.2 .2l.1 .4l.2-1.3l.2-2.3l.2 .6l.2-1.7l.2-1.1l.2 .6l.2-.7l.2 0l.1 .4l.2-2l.2 0l.2-1.4l.2-.5l.2 .6l.2 2.8l.2-4.3l.2 .6l.2-.9l.1 .6l.2 1.1l.2 2.3l.2-1.5l.2-.5l.2-1.7l.2 .5l.2-.3l.2-1.6l.2 .3l.1 .9l.2-1.1l.2 .1l.2 1.2l.2 1.2l.2 .6l.2 .2l.2 1l.2 .4l.1-.1l.2-.2l.2-.5l.2-1.5l.2 2.6l.2-3.8l.2 .6l.2 5.7l.2-1.4l.1 1.3l.2-2.2l.2-3.5l.2 4.8l.2-.5l.2 2.1l.2 1.4l.2-2.6l.2-1.4l.1 2l.2 .7l.2 1.6l.2-.1l.2-.5l.2-.2l.2-.3l.2 .1l.1 .7l.2 .4l.2-.4l.2 .1l.2 3.8l.2 0l.2-.9l.2 2.1l.2 2.5l.1 .5l.2 .4l.2-.8l.2-.2l.2-1.1l.2 3.6l.2-1.7l.2-.9l.1-.3l.2 2.1l.2-.6l.2 2.7l.2-1.8l.2-1.5l.2 1l.2 2.3l.2-2.4l.2 3.4l.1-3.2l.2 3.9l.2-.8l.2 .1l.2 .4l.2 1.8l.2 1.8l.2-3.1l.2 .3l.2 2.4l.1 1.7l.2-1.8l.2-.8l.2 1.5l.2-.2l.2-1l.2-.6l.2-1.6l.2 .9l.1 1.2l.2-.5l.2 1.7l.2 .2l.2-.8l.2-1.2l.2-1.3l.2 2l.2-1.1l.1-5.1l.2 4.2l.2-.6l.2-.3l.2-2.3l.2 1.3l.2-4.6l.2 2.2l.2-.5l.1-.3l.2-2.2l.2 .4l.2 2.5l.2-1l.2 .1l.2-1.8l.2 .4l.1-.2l.2 .9l.2 1.7l.2-1.2l.2-.4l.2-.1l.2 2.3l.1-.9l.2 3.7l.2-.7l.2 .8l.2 2.7l.2 .8l.2-.6l.1 .6l.2 .6l.2 .6l.2 .1l.2 1.1l.2 2.4l.2-1.1l.1-2.6l.2 1.9l.2 .7l.2 1.7l.2 .8l.2-.3l.2 1.7l.2-.1l.1 1.1l.2-.8l.2 0l.2 2.5l.2-4.1l.2 2l.2 .5l.1 1.4l.2 2.1l.2-.7l.2-1.1l.2 3.6l.2-1.2l.2-.5l.1-2.9l.2 5l.2 .5l.2-2.3l.2 1.8l.2-.9l.2 1.9l.1 1.1l.2-1.4l.2 .8l.2-.1l.2 .8l.2-1.1l.2 .8l.2-1.6l.1 3.1l.2-2.5l.2 .9l.2-.3l.2 .1l.2 1.9l.2 1.1l.2 2.3l.2 .3l.2 .2l.1-2.3l.2 1.2l.2-.5l.2 .5l.2-1.7l.2 2.2l.2 1.1l.2-.5l.2 .8l.1-.6l.2 .4l.2 0l.2-.8l.2-3.4l.2-.5l.2-.3l.1 .2l.2-.2l.2 1.6l.2-.6l.2 0l.2-1.3l.2-1.2l.1 2.5l.2 1.4l.2-3.9l.2 2l.2-2.9l.2-1.7l.2-.3l.1 .7l.2 .8l.2-.2l.2-1.3l.2-1.1l.2-.2l.2 1.2l.1-1.6l.2 .9l.2-1.2l.2 .5l.2 .2l.2-.4l.2 .6l.1 .6l.2 .3l.2 .2l.2 .7l.2-.8l.2 .2l.2 .4l.2 1.2l.2 0l.2-.6l.1 1.5l.2 .8l.2-.3l.2 .1l.2 1.6l.2-1.4l.2 .2l.2-1.3l.2 3.6l.2 2.1l.1-1.2l.2-2.9l.2 .3l.2 1.7l.2 2l.2-.3l.2 1.1l.2 1l.2-.4l.2 .8l.1 .1l.2 .4l.2-.4l.2 .1l.2 .2l.2-.1l.2 1.6l.2 1.3l.1-.6l.2-.4l.2-1.1l.2 2.5l.2-2l.2 .6l.2 1.9l.1 .3l.2 0l.2-2.6l.2 1.5l.2-.3l.2 1.7l.2 1.5l.1 0l.2 .2l.2-.5l.2-.3l.2-2.1l.2 1.4l.2-.5l.1 1l.2-.8l.2 .2l.2 .5l.2-.3l.2-1l.2 1.9l.2 1.6l.2 0l.2 .8l.1-.5l.2-.3l.2 .4l.2-.5l.2-2.3l.2 .6l.2-1.3l.2 1.3l.2 .3l.2 2.3l.1-2.6l.2 .1l.2-1.5l.2 1.4l.2 1.5l.2-2.6l.2 2.7l.2 1.8l.2-1.9l.2 1.1l.1 .5l.2-1l.2 .2l.2-.6l.2-.5l.2 .4l.2 2.2l.2-.2l.2 2.3l.1 1.4l.2 .7l.2 .7l.2 0l.2 1.3l.2-1.4l.2 3.5l.2-.2l.1 2.7l.2-.9l.2-.8l.2 .1l.2 1.2l.2 1.4l.2 1.4l.2 1l.1 .4l.2 1.4l.2 1.7l.2-1.7l.2 .3l.2 .5l.2 1.6l.2-.2l.2 1.6l.1 .1l.2 .8l.2 .7l.2 1.4l.2-.4l.2 1.6l.2-1.1l.2 .5l.1 1.5l.2 .9l.2-2.1l.2-1l.2 .1l.2-2.1l.2-1l.2-1.3l.2-4.1l.2-.3l.2 .9l.2-2.9l.2-2.4l.1-.1l.2-1.6l.2 .9l.2 0l.2-.8l.2-.5l.2 1.6l.2 .6l.2-1.1l.1 1.8l.2-.5l.2 2.1l.2-2l.2 2.7l.2-.6l.2-.7l.2 .5l.2 .5l.1 .6l.2 1.3l.2 .4l.2 1.1l.2-.7l.2-.7l.2 .6l.2 .9l.1-2l.2 .2l.2-1.3l.2-.2l.2 1.5l.2-1.8l.2 .4l.2 .2l.1 2.7l.2-.4l.2-.5l.2 0l.2 .5l.2-.3l.2-1.1l.2-.6l.2-1.2l.1 1l.2 .4l.2-3.7l.2 .2l.2-.2l.2-1.8l.2 1.7l.1-.7l.2-2l.2-.7l.2-1.2l.2 .8l.2-2.3l.2 2.1l.1 .4l.2-1.4l.2-1.4l.2 .7l.2 1.8l.2 .7l.2 .2l.1-1l.2-.8l.2 0l.2 3.1l.2 .9l.2 1.9l.2 .5l.2 .6l.1-.5l.2 1l.2-.8l.2-1.6l.2 1.7l.2 1.2l.2 .3l.2 .7l.1 .6l.2 1l.2-.1l.2 .8l.2-.3l.2 .4l.2-.2l.2 .7l.1 1.1l.2-.5l.2 .2l.2-.9l.2 .8l.2-1l.2-2l.1 1.4l.2-1l.2-.6l.2 .4l.2-1.4l.2 1.2l.2 1.4l.1-1.7l.2-.9l.2-.3l.2-1.1l.2 1.8l.2 .4l.2-3l.1 .8l.2-1.2l.2 0l.2 2l.2-.6l.2-2.3l.2 .8l.1-.9l.2 1l.2-.4l.2 .7l.2-.5l.2-.8l.2 .4l.2 .8l.2-1.9l.2-1.1l.1 .7l.2 .5l.2-1.9l.2 .2l.2-1.7l.2-.3l.2 1l.2-1.4l.2 3.1l.2 .2l.1-1.4l.2-1.9l.2-.9l.2-.2l.2 1.5l.2-.3l.2-2.4l.2 0l.2-.2l.2 .6l.1 1.2l.2-.3l.2-.7l.2 .3l.2-.9l.2 .1l.2 2.3l.2-.5l.2 .4l.2 0l.1-2l.2 2.6l.2 1.4l.2-.5l.2-.9l.2-.5l.2 0l.2 1.4l.2-.1l.2-3.1l.1 .7l.2-.1l.2 .7l.2 .6l.2 2.7l.2-1.3l.2-2.1l.2 3.4l.2-1.1l.2 1.6l.1-1.2l.2-.2l.2 .5l.2 1.1l.2-.1l.2-.5l.2 .2l.2 .4l.2-.2l.1 1.1l.2 .4l.2 1.8l.2-3.1l.2 .7l.2 0l.2 1.7l.1 1.6l.2-1.3l.2 1.1l.2-.1l.2 1.6l.2-3.3l.2 1.5l.1 .4l.2-.4l.2 2.4l.2-.2l.2 1.6l.2 .3l.2-1.2l.1-.6l.2 .6l.2 .9l.2 .4l.2-.5l.2 .7l.2 .5l.1-.2l.2-.8l.2 1.4l.2 1.9l.2-.2l.2-.4l.2-.1l.2-.6l.2-1.2l.1 .9l.2 0l.2 1.2l.2 .1l.2-.4l.2 1.1l.2-.4l.2 .2l.2 0l.1-.7l.2-.5l.2 .1l.2 .7l.2-2.3l.2 .8l.2 .3l.2 .1l.2-.1l.1 .3l.2 .5l.2 .8l.2 .4l.2-2l.2-2.3l.2 .7l.2 .3l.2 .6l.2 .4l.1-2.6l.2 .7l.2 0l.2-.7l.2 3.5l.2-1.7l.2-.2l.2-.3l.2-.1l.2-.5l.1-.2l.2 .4l.2-.4l.2-.3l.2-.8l.2 .9l.2 .1l.2-.9l.1-.1l.2 .2l.2-.4l.2-1.9l.2 1.5l.2 1.4l.2-.9l.1 1.8l.2-.4l.2 .1l.2-2.8l.2-.9l.2 .7l.2 2.2l.1-.2l.2-.3l.2-3.7l.2 2.2l.2-.5l.2-.8l.2 .3l.1-.2l.2 .4l.2-1.2l.2 .4l.2 1.7l.2-.1l.2-.2l.1-2.6l.2 .6l.2 2.2l.2-.6l.2-1.9l.2 1.3l.2 0l.1 1l.2-1.6l.2-.5l.2 .4l.2-.7l.2-.9l.2 .9l.1-.3l.2-.9l.2 .4l.2 1.2l.2-1.2l.2-.3l.2-.4l.1-.2l.2-1.7l.2 2.3l.2-2.9l.2 .2l.2-.2l.2 1.9l.2-.4l.1 0l.2-.9l.2 2.3l.2-1.1l.2 1l.2-3.9l.2 1.4l.2 .5l.2-.1l.1-1.1l.2 0l.2-2.5l.2 .7l.2-1.5l.2-2.4l.2-1.9l.2-2.7l.2-.3l.2-1.2l.2 .3l.2-2.8l.2-3.1l.1-1.8l.2-1.5l.2 .3l.2-.2l.2 .9l.2 0l.2-.9l.2-1.1l.1-2l.2 2.6l.2 .3l.2-1.6l.2 1.2l.2-1.4l.2 3.4l.1-4l.2-.8l.2 .9l.2 2.6l.2-.2l.2 .5l.2-3l.1 1.2l.2-.5l.2-.7l.2 .8l.2 .5l.2 .6l.2-1.4l.1-2.2l.2-.7l.2 .6l.2-2l.2-.4l.2 1.5l.2-1.8l.1 0l.2-2l.2-.1l.2-3.9l.2 1.5l.2-2.6l.2-1.4l.1 .6l.2-2.5l.2-1l.2-2.2l.2 2.5l.2 .1l.2 1.2l.1 .3l.2 .3l.2-1.8l.2 2.1l.2 1l.2-1.3l.2 2.7l.1-.9l.2 1.1l.2 4.5l.2-2.4l.2 1.5l.2 2.2l.2 .2l.1 0l.2 .2l.2-1.5l.2 3.2l.2-.6l.2 1l.2 .5l.2 .4l.1 .8l.2-3.1l.2 .8l.2 .9l.2 0l.2 2.9l.2-.5l.2 .4l.1 .8l.2-2.4l.2 .5l.2 .1l.2 .9l.2-.3l.2-.3l.2-.9l.2-.2l.2-.7l.2 1.1l.1-1.3l.2-.8l.2-.6l.2 .7l.2-.7l.2 0l.2-.7l.2 0l.2 .5l.2 .1l.2-1.1l.1 1.1l.2 .2l.2-1.4l.2-.6l.2-1.1l.2-.9l.2 0l.2-.2l.2-.2l.2 1.8l.1-1.6l.2 1l.2 .3l.2-1.7l.2 .7l.2 .8l.2-.6l.1 .7l.2-2.5l.2 1.7l.2-.8l.2-2.4l.2 0l.2-1.9l.1-.1l.2 .8l.2 2.7l.2-1.5l.2-1.5l.2-.3l.2 .3l.1 .1l.2 .8l.2 .2l.2-.9l.2-.2l.2-1.8l.2 1.6l.2-2.2l.2 1.2l.1 1.3l.2-.7l.2 .4l.2-1l.2-2.2l.2-2.3l.2-.6l.2 4.9l.2-3.7l.2 .9l.1-1.4l.2-2.1l.2-.8l.2-.2l.2 .8l.2 .4l.2 1.4l.2-2l.2 1.5l.2 .4l.1 1.4l.2 1.5l.2-2.7l.2-1l.2 1.6l.2 .2l.2 2.6l.2 .5l.2 1.2l.2-1.8l.2-1l.2 2.6l.1 3.2l.2-2l.2-2.1l.2 3l.2-1.8l.2 1.3l.2 .9l.2 1.1l.2 .9l.2 1.6l.2-1.2l.1-2.3l.2 1.1l.2 2.2l.2 1.1l.2 0l.2-.2l.2-2l.2 1.3l.2 .7l.2 2.4l.1 1.1l.2-1l.2 .1l.2 .4l.2-.6l.2-1.3l.2 2.4l.2-.2l.2 .8l.2-.3l.2 1.1l.1 .5l.2-1.3l.2-.7l.2-.9l.2-1.1l.2-1.2l.2-.8l.2-.3l.2 1.2l.2 .2l.2 1.7l.2 1.1l.1-1.3l.2 .8l.2-3.3l.2 1.3l.2-2.8l.2 1.7l.2-.1l.2-1.4l.2 .1l.2 .5l.2-.3l.1-.9l.2 .6l.2-.8l.2 2l.2 .3l.2-.7l.2-1.6l.2 1.4l.2 .4l.2 .3l.2-.7l.2-4l.1 1.6l.2 2.3l.2-.3l.2-.3l.2-.8l.2-1.6l.2-1.6l.2 .8l.2-.9l.2 .2l.2-.1l.2-.8l.1-.2l.2 2.6l.2-1.1l.2 .7l.2 2.3l.2-1.5l.2 .2l.2 1.7l.2 .6l.2-1.8l.1-.6l.2-.8l.2 .6l.2-2l.2 2.7l.2 .3l.2 .1l.2-2.2l.2 0l.2 2.6l.1-1.4l.2 2.2l.2-1l.2 3l.2 .9l.2-2.3l.2-.3l.2 1l.2 1.8l.2-.4l.1-.2l.2-.7l.2-.4l.2 1.4l.2-.1l.2 0l.2-.4l.1 .1l.2-3.2l.2-1.8l.2 .9l.2 1.2l.2 .8l.2-1.2l.1-4.3l.2-.4l.2 .4l.2-1l.2 2.2l.2 .7l.2-1.3l.1 1.6l.2-2.9l.2 1l.2 1.1l.2-2.3l.2 .1l.2-.2l.1-.7l.2-1.4l.2 .8l.2-1.4l.2 2.2l.2-2.6l.2 .2l.2 .2l.2-2.3l.2 .4l.1 3.6l.2-1.7l.2-1.9l.2-1.3l.2-.8l.2 1.9l.2 2.3l.2 1.1l.2-.9l.2-.3l.1-1.7l.2-3.4l.2 1.8l.2 2.1l.2-1.3l.2-.9l.2-1.4l.2-1.7l.2 .4l.2 .4l.1 1.3l.2-.8l.2-.8l.2 .6l.2-1.3l.2 .8l.2-.4l.2 3.4l.2-2.2l.1 .8l.2 1.2l.2-.4l.2-.2l.2 1.7l.2 1.9l.2-1.8l.2-1.3l.1 .4l.2 1l.2 .5l.2 2.2l.2-.5l.2-.1l.2-1l.2 1.6l.2 .7l.1 .1l.2 .9l.2 .5l.2-2.8l.2 1.1l.2 1.1l.2-.1l.2 1.8l.2-.7l.2 .7l.1 1.4l.2-.9l.2-1.4l.2 .6l.2 2.6l.2-.8l.2 .9l.2 .3l.2-.7l.2-.6l.1-.8l.2 1.7l.2-2.2l.2 .4l.2 .6l.2 .3l.2 .4l.2 .5l.2 .6l.2 1.5l.1 .7l.2-1.7l.2-.8l.2-.8l.2-.4l.2 1.5l.2-.2l.1 .8l.2 .8l.2-5l.2-1l.2-.9l.2 3.1l.2-2.1l.1 .8l.2-1.8l.2-1.2l.2-1.5l.2 2.3l.2-2.4l.2-1l.1 .3l.2 2l.2 .9l.2-.3l.2-.7l.2-2.2l.2-.5l.2 1.2l.1-.7l.2 .4l.2-.9l.2-1.5l.2 1.6l.2-.8l.2-1.1l.2 1.2l.2-1.1l.2 1.2l.1 .3l.2-1.1l.2 1.4l.2 .7l.2-.9l.2-1.3l.2 3l.2-2.2l.2 .5l.1 .3l.2-1.8l.2 3l.2 1.4l.2 1l.2-1.4l.2-1.1l.2 2.1l.2-1.5l.2 1.2l.1-.9l.2-1.6l.2 1.4l.2-.9l.2-1l.2-.5l.2 3.4l.2-.1l.2-2.3l.2-1.1l.1 1.7l.2-1.5l.2-.8l.2 .3l.2-.2l.2-2.9l.2-.2l.2-.3l.2 4.2l.2-.4l.1-2.3l.2-.3l.2 .5l.2 1.4l.2-1.6l.2-.1l.2 2.2l.2-5.5l.2 1.4l.2 2.9l.1 .2l.2-.8l.2-.8l.2-.2l.2-1l.2-.7l.2-.2l.2-2.1l.2-1.3l.2 1.9l.1 1.4l.2-3.1l.2-2.4l.2-1.1l.2-.6l.2 1.8l.2-1.9l.2 2l.1-2.3l.2-1.9l.2-.9l.2-1.1l.2-.1l.2-.5l.2 .5l.2 .6l.1-.7l.2-1l.2 1.7l.2 1.9l.2-1l.2 .1l.2 .7l.1 1.1l.2-2.3l.2-.4l.2-1l.2 2l.2-.4l.2 2.5l.1 .6l.2-2.3l.2-1l.2 .8l.2-1.4l.2 2.8l.2-2.1l.1 1.5l.2 .8l.2 1.5l.2-2l.2 1.7l.2-.2l.2-1.2l.2 2.9l.1-.2l.2 1.6l.2 .1l.2-.5l.2 .3l.2-1.4l.2-.2l.2 4.1l.2 1.1l.2 .3l.2 .3l.2-2.4l.1 .3l.2-.2l.2 3.3l.2-.8l.2 1.1l.2-1.1l.2 .4l.2-1l.2-.2l.2 .8l.2-1l.1-1l.2 .9l.2-3.8l.2 .2l.2 1.7l.2-1.1l.2-2.8l.2 1.5l.1-2.9l.2 .9l.2-3l.2 .7l.2 1.6l.2-1.4l.2-3l.2 4l.1-.1l.2-2.8l.2 .9l.2 .2l.2-2.3l.2-.7l.2-1l.2-.7l.1-1.6l.2 .2l.2 0l.2-2.3l.2 1.3l.2 .3l.2 0l.2 1.5l.1 2.2l.2-1.9l.2-2.8l.2 .6l.2 1.3l.2-.1l.2 2.1l.2 3.2l.1 1.2l.2-1.4l.2 1.6l.2 .5l.2-1.6l.2-1.2l.2-.3l.2 2.2l.2 1.6l.1 1.8l.2 .3l.2 .8l.2 .1l.2 1.7l.2 3l.2 2l.2-3.7l.1 2.9l.2-.4l.2 1.3l.2 .1l.2 1.8l.2-.4l.2 3.6l.2 0l.2 .8l.1 2.1l.2 .5l.2 1.1l.2-1.5l.2 .8l.2-1l.2 1.1l.2-.3l.2-.7l.1 .3l.2 1.2l.2 .7l.2-3.4l.2-.2l.2 .5l.2 2.3l.2-.5l.2-2l.2 2.7l.1 0l.2-.6l.2 1.2l.2 .3l.2-1.4l.2 1.2l.2 .3l.2-.4l.2 2.1l.2-.9l.1-1.7l.2-.6l.2 3l.2-.4l.2-1.6l.2 1.1l.2 .9l.2-.5l.2 .8l.1 .6l.2 .5l.2-1.1l.2-.6l.2-.4l.2 2.7l.2 .9l.1-2.6l.2 .2l.2-.2l.2-.5l.2-2l.2 0l.2 2.5l.1-.9l.2 0l.2-.9l.2 .2l.2 .2l.2 .3l.2 .9l.1 1.8l.2-.6l.2 .5l.2 .5l.2-.7l.2 1.5l.2 2.3l.1 .2l.2 .8l.2 .5l.2-1.7l.2-.7l.2 .3l.2-1.1l.1 1.7l.2-1.6l.2 1.4l.2-.2l.2 2.7l.2-.4l.2 1.2l.1 2l.2-.8l.2 1.3l.2-1.6l.2 2.6l.2 .5l.2-1.9l.1 .2l.2 .9l.2 1.1l.2 .1l.2-.9l.2-2.5l.2 1.5l.2-1.9l.2 3.2l.1-2.9l.2-.3l.2 1.9l.2-2.2l.2 .8l.2 1.7l.2 .1l.2-1.8l.2 1.2l.2 .8l.1-.5l.2-.2l.2 1.4l.2-3.3l.2-1.6l.2 1.4l.2-.3l.2 .8l.2 1.5l.2-1.1l.1 1l.2 .6l.2-.6l.2-1.2l.2 0l.2-.4l.2-.9l.2-.9l.2-.6l.2 1.1l.1-1l.2-.5l.2-.1l.2 1.2l.2-1.1l.2-.1l.2-1.1l.2 .7l.2 .9l.2 1.8l.1-1.4l.2-3.8l.2 .5l.2 .5l.2 1.4l.2-1.2l.2-.3l.2-.4l.2 .3l.2 1.3l.1 .1l.2-.4l.2 .1l.2-.1l.2-1.8l.2-.6l.2 0l.2-.4l.2-.5l.2-.1l.1-1.4l.2 1.6l.2-3.3l.2-.8l.2-1.9l.2-.7l.2 .3l.2-.8l.2-.5l.2 3.4l.1-3.3l.2-1.7l.2-1.4l.2 .1l.2 2.2l.2 0l.2 .7l.2-2.6l.2 .1l.2-.5l.1-3.5l.2-.1l.2 2.7l.2-3.6l.2 1.6l.2-.1l.2-.8l.2-3.5l.2 1.1l.2-1.7l.1-1.3l.2-.2l.2 0l.2 1.3l.2-1.9l.2 1.8l.2-1.6l.2 .1l.2 5.1l.1 1.2l.2 0l.2-2.4l.2-2.3l.2 1.7l.2 .3l.2-.1l.2 3.2l.2 1.3l.1-.6l.2-2.2l.2 2.7l.2-.8l.2 2.1l.2 2l.2-1l.2-.4l.2 .2l.1 1.4l.2 .5l.2-1.3l.2 2.1l.2 .1l.2-.5l.2 .8l.2-1.2l.2 1l.1 1.1l.2 .4l.2-.3l.2 .8l.2 1.2l.2-1.1l.2-2.5l.2 1l.2 2.1l.2-2.2l.1 1.2l.2 .1l.2 1.1l.2-.3l.2 2.9l.2-.6l.2 .1l.2 .2l.2-.4l.2-2.6l.1 3.2l.2 .6l.2 1.8l.2-1l.2 .5l.2-1.5l.2 .7l.2 .4l.2 .2l.2 .3l.1-1.4l.2-.1l.2-.9l.2 1l.2 2.2l.2 .5l.2-2l.2-.9l.2 .9l.2 1l.1-2.5l.2 .8l.2 1.5l.2-2.4l.2-.4l.2 2l.2-3.7l.2 1.7l.2 .6l.2 .6l.1-.5l.2-3.3l.2 1.2l.2-1.1l.2 1.5l.2-2l.2-1.1l.2 .1l.2-.1l.2 .7l.1 2.4l.2-.2l.2-1.5l.2 .1l.2 0l.2-.2l.2 0l.1 .8l.2 .1l.2 .9l.2-.4l.2-1.2l.2-2l.2 .1l.1 1.8l.2 1.5l.2 .7l.2 2.2l.2-2.9l.2-1.3l.2 .2l.1 .8l.2-.6l.2-.6l.2-.2l.2 3.4l.2-2.8l.2 1.9l.2-.9l.1 1.3l.2-.5l.2-.5l.2 .1l.2 1.1l.2-.9l.2 1.5l.2 .6l.2 1.4l.1 .3l.2 0l.2 1.3l.2-2l.2 .3l.2 2.9l.2 .9l.2-.5l.2 .2l.2-2.6l.1 2.9l.2 0l.2 .3l.2 .4l.2-.9l.2-.2l.2 1.7l.2 .9l.2-.6l.2 .4l.1 .9l.2 1.5l.2-1.1l.2 .4l.2-.2l.2 .2l.2-.3l.2 0l.1 1.4l.2-1.2l.2-1.1l.2-.2l.2-.4l.2-2.4l.2 4l.1 .4l.2-.4l.2-.1l.2-.6l.2 .5l.2-1l.2-1.9l.1 .7l.2-1.8l.2-1.2l.2-.6l.2 .4l.2 2.9l.2-1.1l.1 .5l.2-.5l.2-1.5l.2 1.1l.2-1.1l.2 .4l.2-1.2l.2-1.7l.2 .9l.1 1.8l.2-1.4l.2 2l.2-1l.2-.4l.2-2.1l.2 3.4l.2-1.4l.2-3.6l.2 1.5l.1-1.8l.2-.1l.2 4l.2-1.6l.2-.6l.2 1.4l.2-.1l.2 1.8l.2-4l.2-.2l.1 1l.2-1l.2-1l.2 1.1l.2 .4l.2-.3l.2 .4l.2-.9l.2 0l.1 .8l.2 1.5l.2 2.9l.2 .5l.2-4l.2 1.4l.2-1.2l.1 4.7l.2 1.2l.2-2.4l.2-1.5l.2 3.7l.2 1.7l.2 .4l.1-1.2l.2 1.8l.2-3.5l.2 2.6l.2-.6l.2-.8l.2 1.1l.1 .6l.2 .8l.2-1.2l.2 1.6l.2-.4l.2 .5l.2 0l.2 1.8l.2-.2l.1-.1l.2-2.6l.2-.1l.2 2l.2 1.6l.2-2.2l.2-.7l.2-1.1l.2 .7l.2-.2l.1 .4l.2-2.1l.2 1.4l.2 2.2l.2-1.8l.2-.7l.2 1.3l.2-1.9l.2 .3l.2 2l.1 1.1l.2-2.7l.2-.4l.2 2.4l.2 .9l.2-2.5l.2 0l.2 1.1l.2-.6l.2 .3l.1-.9l.2-1.2l.2 .3l.2 .8l.2 2.1l.2 .7l.2-.1l.2 0l.2-2.1l.2 .3l.1-3.5l.2-.5l.2 1.2l.2-1.5l.2-.1l.2 1.7l.2 .2l.2 1.3l.2 .2l.2-.6l.1 .1l.2 0l.2-.3l.2-.7l.2-2l.2 1l.2 .6l.2-.9l.2 0l.2 .9l.1-.7l.2 .1l.2 .4l.2-1.5l.2-.5l.2 .8l.2-1.9l.2-.1l.2 .3l.2-.3l.1-1.2l.2-.5l.2 1.9l.2-.8l.2 .1l.2 .4l.2 .1l.2-2.5l.2 .4l.2-2.2l.1 2.2l.2-1.5l.2-1.2l.2 1.7l.2 0l.2-1.6l.2-.8l.2 1.2l.2 .5l.2-.5l.1-.7l.2 .8l.2-.9l.2 .5l.2-.7l.2 .8l.2-1.4l.2 2.5l.1-.1l.2-.2l.2-.9l.2-.8l.2-.4l.2 .3l.2-2.4l.1 3l.2-.2l.2-2.3l.2-2.9l.2-.1l.2 2.5l.2 1.3l.1-2.7l.2-.9l.2-.3l.2 1.8l.2 .2l.2-2.5l.2-2.2l.1 .2l.2 1.1l.2-1.1l.2 .5l.2 .5l.2-.2l.2 1.2l.2-1.2l.2 2l.2-1l.1-3.6l.2-.7l.2 3l.2-1.7l.2-.3l.2-.8l.2 .5l.2 1.4l.2-1.7l.2-.6l.2 3.2l.2-.4l.1 .3l.2 .8l.2-1l.2-.4l.2 1.5l.2-2.3l.2 .6l.2 .7l.2 0l.1 1.8l.2 1l.2-3.5l.2 1.8l.2 3.2l.2-1.7l.2-1.8l.2 2.1l.1 .9l.2-2.8l.2-.6l.2 3.6l.2 .4l.2 .3l.2-.2l.2 1.8l.1-.8l.2 1l.2-2l.2-.1l.2 .9l.2 .3l.2 .2l.2-.4l.1-.2l.2-.2l.2 3l.2-1.4l.2 .4l.2 .8l.2 1.9l.2-2.6l.2-1.9l.2 1.6l.1 1.1l.2 1.7l.2-1.6l.2 .6l.2 1.7l.2-2.3l.2 .2l.2 .7l.2 1l.2 1l.1 1.4l.2 .5l.2 .3l.2-1.9l.2 1.9l.2-2.3l.2-.5l.2 2.3l.2 1.3l.2 1.2l.1-1.5l.2-.2l.2 .7l.2-.7l.2 .1l.2 1l.2 1.8l.2-1.3l.1 .7l.2 .1l.2 1.2l.2-1.2l.2 2.8l.2 .4l.2-2.9l.1-.5l.2 2.2l.2-.6l.2-.5l.2-1.1l.2-.5l.2 .2l.1 2.3l.2-1.7l.2 1.4l.2 0l.2 .3l.2-.2l.2 .6l.1 1.4l.2 1l.2-.4l.2 .2l.2-1.8l.2-1.8l.2-.4l.2 2.3l.2-1l.1-1.2l.2-.4l.2-.7l.2-.4l.2-.1l.2 .5l.2-.1l.2 .3l.2 1.2l.2-.1l.1 1.3l.2 .7l.2-1.5l.2 .7l.2-.2l.2-.1l.2 .4l.2-.2l.2-2.2l.2-2l.1 .4l.2 1.1l.2-1.4l.2 .2l.2 .4l.2 .4l.2-.2l.2 .9l.2-1.2l.1 2l.2-.9l.2-1.5l.2 3l.2-2.1l.2-1.6l.2 2l.1 1.4l.2-.7l.2-.8l.2 0l.2 .1l.2 1.4l.2 .5l.1-.3l.2-2.6l.2-.9l.2-.4l.2 1.1l.2 .9l.2 .2l.1-.5l.2-.2l.2 1l.2 .1l.2 1.5l.2-.8l.2 0l.2 4.6l.1 .1l.2-.1l.2 2.1l.2-1.7l.2-1l.2 .5l.2 1.6l.2-1.2l.1 1.7l.2 .9l.2 .5l.2 .1l.2 2.8l.2-.1l.2 0l.2-.8l.1 .8l.2 .9l.2 1.3l.2 .1l.2 .9l.2-.8l.2 .4l.1 1.5l.2-1.1l.2 .6l.2 1l.2-1.9l.2 .5l.2 .5l.1 2l.2-1.6l.2 .4l.2 2.6l.2 .2l.2-1.5l.2-.1l.1 1.3l.2 .4l.2 .5l.2 .6l.2 .3l.2-1.4l.2 1.6l.2 .1l.2-1l.2 .5l.1-.7l.2 1.2l.2 1.1l.2 1.1l.2-.1l.2 1l.2-1.1l.2 .4l.2 .4l.2-.7l.1-.3l.2-.1l.2-1l.2 .7l.2 1l.2-.5l.2-.5l.1-2.3l.2-.9l.2 2.7l.2 1.5l.2-.2l.2-2.1l.2 1.8l.1-2.5l.2 .3l.2-1.8l.2 .2l.2 1.4l.2-.1l.2-.7l.2-1.2l.1 .5l.2 .1l.2 0l.2 .5l.2-.8l.2-.5l.2-.9l.1 1.6l.2-1.7l.2-1.2l.2-.1l.2 1l.2 .7l.2 2.4l.1-1.7l.2-2.9l.2 .4l.2 .5l.2 .8l.2 1.8l.2-3.7l.1 1.6l.2-1.6l.2 1.1l.2 .6l.2 1l.2-.6l.2-.3l.1 0l.2 .5l.2 .4l.2 1.1l.2 .6l.2-3l.2 2.8l.1-.7l.2 2.4l.2 .8l.2-1.9l.2 2.4l.2-1.6l.2-1.7l.1 1.7l.2-.4l.2-.3l.2 4.1l.2 0l.2 .1l.2-1.4l.1 1.1l.2 1.6l.2 .5l.2-.7l.2-.1l.2-.2l.2 .5l.1 .4l.2 .5l.2 1.3l.2 1.2l.2-3.1l.2 .4l.2 1.6l.2-.2l.1 1.7l.2-2.1l.2 .7l.2 4.1l.2-.2l.2-.1l.2-.3l.2 1.4l.1-1.3l.2 .4l.2-.5l.2 1.4l.2-2l.2-1.1l.2-.2l.1-.6l.2-1.5l.2-.6l.2 0l.2-2.5l.2-.8l.1-.2l.2 1.6l.2 .2l.2-1.5l.2-.2l.2-1l.1-2.2l.2 .6l.2 1.8l.2 .9l.2-.3l.2 .5l.2 .5l.1 2.4l.2 1.9l.2-.1l.2-.2l.2 2.3l.2 1.9l.2 1.3l.1-.4l.2 .3l.2 2.8l.2 .1l.2 1.6l.2-.8l.2 .7l.1 .2l.2-.3l.2-.2l.2 1.4l.2-1l.2-.4l.2 .8l.2-.3l.2-1l.1 .9l.2 .3l.2 1.6l.2-.4l.2 .7l.2 .6l.2-1.9l.2-.3l.2 0l.1 .2l.2-1.2l.2 2.9l.2-2.1l.2 1.1l.2 1l.2 .3l.2 .2l.2-.5l.1-.7l.2 .2l.2 .1l.2 .7l.2 .3l.2-1.1l.2 1.2l.1 1.6l.2-.2l.2-.4l.2 .8l.2 .7l.2-.8l.2 1.6l.1 0l.2 .9l.2-1l.2 .8l.2-.3l.2 .4l.2 .5l.1 1.1l.2-1.4l.2 1.2l.2 .3l.2 1.2l.2-.4l.2 .5l.1-.3l.2 .7l.2 .2l.2 .8l.2 1l.2 .4l.2 1.3l.2 .8l.2 1.9l.2 .7l.1 .5l.2 .4l.2 .5l.2-.1l.2-2.4l.2 1.4l.2 .4l.2-1.8l.2 .6l.2-1.4l.1-.3l.2-2.2l.2 .5l.2-.9l.2 .5l.2-.1l.2-.3l.2-.2l.2-1.7l.2-.6l.1 .5l.2 .2l.2-.4l.2-.2l.2-.7l.2 .2l.2 1.3l.2-2.4l.1-.1l.2 .2l.2 .3l.2-.8l.2-.1l.2 .8l.2 .1l.1 .6l.2-1.7l.2 1.4l.2 .7l.2-1.3l.2-.2l.2 .6l.1-.6l.2 .3l.2 .4l.2-.1l.2-.2l.2 .2l.2-.1l.1 .2l.2 .3l.2 0l.2-1.7l.2-.8l.2 .1l.2-.4l.2-1l.1 0l.2 1.8l.2-1.1l.2 1.8l.2-1.1l.2-2.6l.2 1.4l.2 .9l.2-1l.1-1.4l.2-2.1l.2 .7l.2 0l.2-.1l.2-.6l.2 .6l.2 .1l.1-.4l.2 .9l.2 1.4l.2 .5l.2-.1l.2-.9l.2-.6l.1 1.6l.2 .7l.2 1.7l.2-.7l.2-2.5l.2 .7l.2 1.4l.1-1.2l.2 .7l.2-.2l.2 .4l.2 2.2l.2 0l.2 .4l.1-.7l.2 .7l.2 .5l.2 .5l.2-.3l.2-.3l.2 .1l.1-1.1l.2-.3l.2-.7l.2-1.3l.2-.3l.2 0l.2-.4l.2 1.1l.1-.3l.2-.2l.2-3l.2 1.9l.2-.2l.2-1.3l.2 .4l.1-1.4l.2 1.3l.2-2l.2-.3l.2 2.3l.2-.3l.2-.4l.2-1.1l.1-.6l.2-1.2l.2-1.1l.2-.6l.2-.3l.2 .8l.2 .7l.2-.4l.1-1.3l.2-.1l.2-.9l.2 1.3l.2-.4l.2 1.3l.2-.2l.2-.9l.2-.5l.1 2.7l.2-.4l.2 .6l.2-2.9l.2 1.6l.2 2.3l.2 .4l.2-.4l.2 .4l.2-.9l.1 .9l.2 .1l.2-1.4l.2 .8l.2 .4l.2 1.2l.2 1.1l.2-1.3l.1 .8l.2-.4l.2 1.8l.2-.4l.2-1.2l.2 1.9l.2-2.3l.1 0l.2 .7l.2 1.2l.2-.6l.2 3.1l.2-2.1l.2 2.7l.1-.2l.2-2l.2 .2l.2 2.5l.2 .3l.2 .1l.2-.2l.1 .2l.2-1.1l.2 .4l.2 .1l.2-1l.2 1l.2-1.2l.2-.7l.2 1.5l.1 .1l.2 .5l.2 .4l.2-.8l.2-.9l.2 .7l.2 .9l.2-1.8l.2-1.8l.2-.7l.1 2.5l.2 .1l.2-.2l.2 .3l.2-1.9l.2 1.2l.2-.2l.2-.8l.2-.2l.2-.3l.1 .1l.2-.6l.2-.1l.2 .1l.2-.4l.2-.1l.2-.1l.2 .4l.2-.5l.2-.1l.1 .8l.2 .2l.2 0l.2 .3l.2 0l.2 .2l.2 .1l.2-1.1l.2-2.3l.2-.1l.1 1l.2 .3l.2 .6l.2 .2l.2-.8l.2-.3l.2 0l.2-.7l.2 1.2l.2-.8l.1 .2l.2 1.4l.2-1.8l.2 1.4l.2-1l.2 .9l.2 .3l.2-1.3l.2 0l.2 .2l.1 .2l.2 .9l.2 .1l.2-.1l.2-1l.2 .3l.2-.8l.2 1.1l.2-.8l.2-.4l.1 1l.2-.6l.2-.8l.2 2.7l.2 1.3l.2-.1l.2-.1l.2 .5l.2-1l.2 1.2l.1-2.9l.2 .7l.2 .1l.2 .5l.2 .7l.2-.3l.2 .1l.2-.4l.2-.4l.2 1.1l.1 1.1l.2-.3l.2-.6l.2-.2l.2 .2l.2-.2l.2 .9l.2-.6l.2-1.1l.2 .4l.1-.5l.2-.3l.2-.8l.2-.3l.2 1.7l.2 .3l.2-.2l.2 1.1l.2-.7l.2-.7l.1-.3l.2 2.3l.2-.3l.2 .3l.2-1.1l.2-.5l.2-1.1l.2-.7l.2 1.6l.2-.1l.1-.4l.2-.7l.2-.6l.2 .8l.2 1.1l.2-.9l.2 .1l.2 1.3l.2-.2l.2 .7l.1-.2l.2-1.1l.2 .8l.2 1.3l.2-.5l.2 .6l.2 .1l.2-.9l.2 .6l.2 .1l.1 .8l.2 .4l.2 1.5l.2 .5l.2-1.3l.2-.6l.2 1.8l.2-.3l.2 .6l.1 .5l.2-.2l.2 .1l.2-.4l.2 .1l.2 1.2l.2 .4l.1 1.8l.2-.2l.2 .4l.2 .6l.2 .1l.2-.4l.2-.1l.1 .5l.2 .3l.2 1.9l.2 0l.2-.1l.2 0l.2-.1l.1 .6l.2-.6l.2-1.8l.2 .5l.2-.3l.2-.7l.2-.1l.1 .9l.2-.2l.2-2l.2 .9l.2 .8l.2-3l.2 .3l.1 1.3l.2 .8l.2-.5l.2-.2l.2-1l.2-1.4l.2-.7l.1 .4l.2-.5l.2 .1l.2 .8l.2-.9l.2 .4l.2 .4l.1-1.6l.2 0l.2-1l.2-.6l.2-.2l.2 .8l.2-1.4l.1 1.9l.2-1.2l.2-1.1l.2 1l.2 1l.2-1.2l.2-.9l.1 .1l.2 1.2l.2-.3l.2 1.3l.2-1.7l.2-.8l.2 .6l.1-.3l.2 .4l.2-.3l.2-.3l.2 0l.2-1.7l.2 .7l.1-.9l.2 1.3l.2-.6l.2-.1l.2 .8l.2-1.6l.2-.9l.1-1l.2 .3l.2 1.7l.2-1.3l.2-.2l.2-1.4l.2 3.3l.1-.9l.2-.7l.2-1.4l.2 1.3l.2-1.5l.2-.1l.2 1.2l.1-1.1l.2 .6l.2 .3l.2 0l.2-1.2l.2 .1l.2-.4l.1 .4l.2-1.2l.2-1.1l.2-1.2l.2 2.5l.2 .4l.2-.1l.1-.3l.2-.6l.2-1.3l.2 .7l.2 .3l.2-2.1l.2-1.1l.2-.1l.1-.1l.2 1.4l.2-1.2l.2 0l.2 .5l.2 .2l.2-.1l.1 .6l.2-.3l.2 .8l.2-.6l.2-.9l.2 .7l.2-.1l.2 .4l.2-.1l.2-1.2l.1 0l.2-1.1l.2 .3l.2-.1l.2 .8l.2-3l.2 .4l.2-.9l.2 1l.2 .4l.1-1l.2 .6l.2 .2l.2-.4l.2-.1l.2-.2l.2 .7l.2 2.9l.2-1.2l.2-1.7l.2 .6l.2-.3l.1 .6l.2 .5l.2 .2l.2 2.8l.2 1.3l.2-.8l.2-.9l.2-.2l.2 .9l.2 .7l.2 .8l.1-.5l.2 .1l.2-.2l.2 .5l.2-.8l.2 1.4l.2-.8l.2 1.5l.1-1.4l.2-.2l.2 2.2l.2-.5l.2 1.7l.2-2.4l.2-.1l.1 1.1l.2 .4l.2 .7l.2 1l.2 1.3l.2-.4l.2-1.2l.1 .2l.2-.5l.2 .1l.2 .6l.2 1.5l.2 .6l.2-.3l.1 1.1l.2 .4l.2-.4l.2-1.3l.2-.7l.2 .8l.2-.4l.1 .5l.2 1.7l.2-1.1l.2 .6l.2-.3l.2 2.6l.2-.2l.1-1.6l.2 .7l.2 .1l.2-.8l.2-.7l.2 .2l.2 .9l.1 1.2l.2-.7l.2 1.1l.2 .9l.2 0l.2-.6l.2 .8l.1 .5l.2-.9l.2 1.3l.2 .9l.2-.5l.2-.8l.2 .9l.1 1l.2-2.8l.2 1.6l.2-1.2l.2 2l.2-1.2l.2 2.3l.1-1.8l.2 .4l.2 .5l.2 1.3l.2-1.4l.2 .2l.2 .9l.1 .5l.2 1l.2-.3l.2 .5l.2 .3l.2 .9l.2-.6l.2-.9l.1 .2l.2-.9l.2 1.5l.2-1.1l.2 .5l.2 .3l.2-.1l.2-.9l.1 2.7l.2-.5l.2 0l.2-.9l.2 .4l.2 .6l.2-.2l.2-.3l.1 .6l.2-.2l.2-.1l.2 .2l.2-.3l.2-1.6l.2 .8l.2-.5l.2-.3l.1-.8l.2 .9l.2 1.3l.2-1.3l.2 2l.2-1.3l.2-1.6l.2-.4l.2 .3l.1 .4l.2 .4l.2-1.3l.2 1.9l.2 .3l.2-.5l.2-.7l.2-1l.2 .2l.1-.3l.2 .2l.2-1l.2-.2l.2 .6l.2-.4l.2-.2l.2 0l.2-.6l.1 0l.2 .1l.2-.1l.2 2l.2-1.1l.2-.4l.2 1.1l.2 0l.2-1.2l.2 .5l.1 .8l.2-.5l.2 .1l.2-.7l.2-1.5l.2-.6l.2 .8l.2-.1l.2 1.4l.2-1l.1-.3l.2 .9l.2-.8l.2 .7l.2-.2l.2-.3l.2 .1l.2-.1l.2 .2l.2 0l.1-.3l.2-.7l.2-.6l.2 1.1l.2 .2l.2 .1l.2 .8l.2-1.3l.2-2.2l.1 1.4l.2 .3l.2 .2l.2-.3l.2 .6l.2-2.7l.2 1.8l.2-1l.2-.9l.1 .4l.2-1l.2 2.5l.2 .9l.2-1.7l.2-.6l.2 .1l.2-.3l.2 .6l.1 .2l.2-.2l.2-.7l.2 .1l.2-.7l.2 1l.2 2.1l.2-1.1l.2 .8l.1 1.2l.2-1l.2 2.4l.2 .5l.2-2.7l.2 1.4l.2-.2l.2-.8l.2 2.3l.2 0l.1-.8l.2 .2l.2 .3l.2 .5l.2 .6l.2 1.2l.2-.1l.2-.5l.2 .8l.1 1.4l.2 .1l.2-.7l.2-.3l.2 .3l.2-1.4l.2 .5l.1 1l.2-.3l.2-.1l.2-.7l.2 .4l.2-.8l.2 1l.1 .3l.2-.6l.2 1l.2-.3l.2-.2l.2-.6l.2 2.2l.1-1.4l.2 .3l.2 0l.2-.7l.2-.1l.2 1.2l.2-.1l.2-.9l.1 .3l.2-.4l.2-.7l.2-.6l.2 1.3l.2 1.6l.2 0l.2-.3l.2-1.7l.1-.1l.2-1.1l.2 .5l.2 1.8l.2-.9l.2 .6l.2-.7l.2 1.5l.2-1.5l.1 .8l.2-.2l.2-1.1l.2 .3l.2 .6l.2-1.3l.2 .5l.2 .1l.1 .2l.2 2l.2 .2l.2-.2l.2 .7l.2-1.2l.1 2.9l.2 .9l.2-.7l.2-.5l.2 .3l.2 2.1l.1 .1l.2 .3l.2 .1l.2 1.5l.2-.4l.2 .2l.2 .2l.1 .9l.2 .3l.2 .3l.2 .5l.2 0l.2 .8l.2 1.1l.2-.8l.1-.1l.2 1.7l.2-.2l.2 1.3l.2-.1l.2 .9l.2 .4l.2-.1l.1 .4l.2-.2l.2-.8l.2 .5l.2 .7l.2-.4l.2 .2l.1 1.1l.2-2.4l.2 1l.2-1.2l.2-.1l.2 .1l.2 .3l.2 .8l.1-.4l.2 .8l.2-.4l.2 .9l.2-.4l.2 1.3l.2-.4l.1-.9l.2-.1l.2-.3l.2-.1l.2-.3l.2 .7l.2 .7l.1-.6l.2-.3l.2-.1l.2-.6l.2-.8l.2 .4l.2 1.2l.2-.8l.1 .8l.2 1.1l.2 .1l.2-.9l.2 .7l.2-.5l.2-.9l.2 1.1l.1-1.5l.2-.6l.2 .8l.2 .1l.2 .4l.2 1.3l.2-.5l.2 1.1l.1-.3l.2 .7l.2 .3l.2 .2l.2 .4l.2 .3l.2-1.6l.1 1.3l.2-1l.2-.2l.2 .9l.2 .2l.2 .3l.2-.2l.1 .2l.2 .7l.2 .3l.2-.5l.2 1.1l.2 .9l.2 .1l.1-.5l.2 0l.2-.5l.2 .8l.2 .2l.2 .8l.2-.1l.1 .2l.2-.6l.2-.2l.2 .3l.2 .5l.2-.3l.2 .8l.1-.7l.2 0l.2 .2l.2 .2l.2 1.3l.2-.1l.2 .2l.1 .9l.2-.2l.2 .3l.2-.1l.2 .2l.2 0l.2 .6l.1 0l.2-.3l.2-.4l.2 .5l.2 1.6l.2-.9l.2-.3l.2 1.3l.1 1l.2 .1l.2 .2l.2-1.9l.2 .7l.2 .3l.2-.5l.2-.4l.2 .6l.1 .5l.2-.1l.2 .6l.2-.5l.2 .3l.2 .4l.2-.8l.1 .6l.2 0l.2 .5l.2 0l.2-1.2l.2 .2l.2-.9l.1 .1l.2 .4l.2-1l.2 0l.2 .3l.2-1.2l.2 1.1l.1 .7l.2-.6l.2-.3l.2 .9l.2-.6l.2-.3l.2 0l.1-.5l.2-.2l.2 .3l.2-.3l.2-.4l.2 1.4l.2-.5l.1 .9l.2 1.2l.2-.4l.2 .4l.2 .2l.2 .4l.2-.7l.1 .2l.2-.2l.2 .1l.2 0l.2 .4l.2 1.2l.2-.6l.1 .5l.2 0l.2 .1l.2 .2l.2 .6l.2 .2l.2 .3l.1-.2l.2 .1l.2 .5l.2-.1l.2-.8l.2 1.5l.2-.1l.1-.1l.2 .4l.2 .5l.2-.5l.2 .4l.2 0l.2 1.1l.1-1l.2-.5l.2 .9l.2 .1l.2 .8l.2-.7l.2 .3l.1 .3l.2 .5l.2 .8l.2-.2l.2 0l.2 .8l.2-.4l.2 .8l.1-.7l.2 .2l.2 0l.2 .8l.2-1.1l.2 .4l.2 .5l.2 .5l.2 .8l.2 .1l.2 .2l.2 .7l.1-1.1l.2 1.3l.2-.5l.2-.7l.2 .3l.2 .3l.2 .6l.2 .6l.2-.8l.2 .9l.2-.1"/>
</g>
<filter id="rg" x="-2%" y="-10%" width="104%" height="120%"><feTurbulence type="fractalNoise" baseFrequency="0.045" numOctaves="2" seed="7"/><feDisplacementMap in="SourceGraphic" scale="13" xChannelSelector="R" yChannelSelector="G"/></filter><g transform="translate(1630 262) scale(0.11344)" fill="none" stroke="#000" stroke-linejoin="round" filter="url(#rg)">
<path d="M 80 222 L 134 214 L 136 600 L 84 612 Z" fill="#000" stroke="none"/>
<path d="M 96 228 C 180 203 335 210 386 278 C 412 324 330 388 138 414" stroke-width="38" stroke-linecap="round"/>
<path d="M 402 358 L 452 346 L 458 602 L 406 614 Z" fill="#000" stroke="none"/>
<path d="M 455 402 C 492 366 542 352 590 370" stroke-width="42" stroke-linecap="round"/>
<path d="M 652 360 L 700 348 L 704 602 L 654 614 Z" fill="#000" stroke="none"/>
<path d="M 644 237 L 695 191" stroke-width="18" stroke-linecap="round"/>
<path d="M 972 364 C 900 346 800 380 768 470 C 750 560 840 608 900 598 C 950 590 988 572 1003 560" stroke-width="42" stroke-linecap="round"/>
<path d="M 1064 444 L 1286 432 C 1280 380 1240 352 1190 354 C 1100 362 1046 430 1050 490 C 1056 570 1120 600 1180 596 C 1240 590 1280 570 1298 552" stroke-width="39" stroke-linecap="round"/>
<path d="M 1585 402 C 1550 352 1480 346 1420 386 C 1350 432 1336 520 1380 564 C 1430 608 1540 598 1590 560" stroke-width="42" stroke-linecap="round"/>
<path d="M 1566 66 L 1630 46 L 1638 598 L 1584 608 Z" fill="#000" stroke="none"/>
<path d="M 1672 240 L 1730 224 L 1728 600 L 1676 614 Z" fill="#000" stroke="none"/>
<path d="M 1762 358 L 1810 346 L 1814 602 L 1768 614 Z" fill="#000" stroke="none"/>
<path d="M 1812 410 C 1850 360 1930 346 1975 386 C 2000 410 1998 500 1998 560" stroke-width="46" stroke-linecap="round"/>
<path d="M 1974 500 L 2022 500 L 2026 600 L 1978 614 Z" fill="#000" stroke="none"/>
<path d="M 2398.6 247 C 2335.6 217 2235.6 227 2165.6 290 C 2085.6 370 2075.6 480 2145.6 555 C 2205.6 608 2335.6 613 2437.6 590 L 2433.6 446 M 2351.6 448 L 2447.6 442" stroke-width="44" stroke-linecap="round"/>
<ellipse cx="2630.6" cy="480" rx="139" ry="114" stroke-width="46" transform="rotate(-12 2630.6 480)"/>
<path d="M 2817.6 64 L 2873.6 48 L 2879.6 600 L 2823.6 618 Z" fill="#000" stroke="none"/>
<path d="M 3170.6 402 C 3145.6 352 3065.6 342 3005.6 386 C 2925.6 440 2917.6 520 2965.6 568 C 3015.6 612 3125.6 598 3175.6 560" stroke-width="42" stroke-linecap="round"/>
<path d="M 3151.6 66 L 3215.6 46 L 3225.6 598 L 3167.6 606 Z" fill="#000" stroke="none"/>
<circle cx="3300.6" cy="575" r="34" fill="#000" stroke="none"/>
<path d="M 3577.6 364 C 3505.6 346 3405.6 380 3377.6 470 C 3360.6 560 3445.6 608 3510.6 598 C 3560.6 590 3595.6 572 3613.6 557" stroke-width="42" stroke-linecap="round"/>
<ellipse cx="3790.6" cy="480" rx="139" ry="114" stroke-width="46" transform="rotate(-12 3790.6 480)"/>
<path d="M 3983.6 358 L 4031.6 346 L 4035.6 602 L 3987.6 614 Z" fill="#000" stroke="none"/>
<path d="M 4032.6 410 C 4065.6 360 4125.6 346 4155.6 386 C 4167.6 410 4165.6 500 4163.6 560" stroke-width="46" stroke-linecap="round"/>
<path d="M 4139.6 500 L 4187.6 500 L 4189.6 600 L 4141.6 614 Z" fill="#000" stroke="none"/>
<path d="M 4187.6 410 C 4215.6 360 4280.6 346 4305.6 386 C 4317.6 410 4315.6 500 4313.6 560" stroke-width="46" stroke-linecap="round"/>
<path d="M 4289.6 500 L 4337.6 500 L 4339.6 598 L 4291.6 610 Z" fill="#000" stroke="none"/>
</g>
<g style="font-family:'Liberation Sans',sans-serif" fill="#000">
<text x="1146.8" y="65.3" text-anchor="middle" font-size="54.15" font-weight="bold">USD, CAD, EUR &amp; CHF in mg of Gold</text>
<text x="1142.2" y="125.8" text-anchor="middle" font-size="48" textLength="1087" lengthAdjust="spacingAndGlyphs">World Gold Council prices, 2-Jan-1980 to 18-Apr-2025</text>
<text x="95.5" y="1158.80" text-anchor="end" font-size="42.7">0</text>
<text x="95.5" y="1092.27" text-anchor="end" font-size="42.7">10</text>
<text x="95.5" y="1025.74" text-anchor="end" font-size="42.7">20</text>
<text x="95.5" y="959.21" text-anchor="end" font-size="42.7">30</text>
<text x="95.5" y="892.68" text-anchor="end" font-size="42.7">40</text>
<text x="95.5" y="826.15" text-anchor="end" font-size="42.7">50</text>
<text x="95.5" y="759.62" text-anchor="end" font-size="42.7">60</text>
<text x="95.5" y="693.09" text-anchor="end" font-size="42.7">70</text>
<text x="95.5" y="626.56" text-anchor="end" font-size="42.7">80</text>
<text x="95.5" y="560.03" text-anchor="end" font-size="42.7">90</text>
<text x="95.5" y="493.50" text-anchor="end" font-size="42.7">100</text>
<text x="95.5" y="426.97" text-anchor="end" font-size="42.7">110</text>
<text x="95.5" y="360.44" text-anchor="end" font-size="42.7">120</text>
<text x="95.5" y="293.91" text-anchor="end" font-size="42.7">130</text>
<text x="95.5" y="227.38" text-anchor="end" font-size="42.7">140</text>
<text x="95.5" y="160.85" text-anchor="end" font-size="42.7">150</text>
<text x="119.70" y="1209.2" text-anchor="middle" font-size="43.5" text-rendering="geometricPrecision" textLength="91.6" lengthAdjust="spacingAndGlyphs">1980</text>
<text x="328.66" y="1209.2" text-anchor="middle" font-size="43.5" text-rendering="geometricPrecision" textLength="91.6" lengthAdjust="spacingAndGlyphs">1985</text>
<text x="537.62" y="1209.2" text-anchor="middle" font-size="43.5" text-rendering="geometricPrecision" textLength="91.6" lengthAdjust="spacingAndGlyphs">1990</text>
<text x="746.58" y="1209.2" text-anchor="middle" font-size="43.5" text-rendering="geometricPrecision" textLength="91.6" lengthAdjust="spacingAndGlyphs">1995</text>
<text x="955.54" y="1209.2" text-anchor="middle" font-size="43.5" text-rendering="geometricPrecision" textLength="91.6" lengthAdjust="spacingAndGlyphs">2000</text>
<text x="1164.50" y="1209.2" text-anchor="middle" font-size="43.5" text-rendering="geometricPrecision" textLength="91.6" lengthAdjust="spacingAndGlyphs">2005</text>
<text x="1373.46" y="1209.2" text-anchor="middle" font-size="43.5" text-rendering="geometricPrecision" textLength="91.6" lengthAdjust="spacingAndGlyphs">2010</text>
<text x="1582.42" y="1209.2" text-anchor="middle" font-size="43.5" text-rendering="geometricPrecision" textLength="91.6" lengthAdjust="spacingAndGlyphs">2015</text>
<text x="1791.38" y="1209.2" text-anchor="middle" font-size="43.5" text-rendering="geometricPrecision" textLength="91.6" lengthAdjust="spacingAndGlyphs">2020</text>
<text x="2000.34" y="1209.2" text-anchor="middle" font-size="43.5" text-rendering="geometricPrecision" textLength="91.6" lengthAdjust="spacingAndGlyphs">2025</text>
<text x="2209.30" y="1209.2" text-anchor="middle" font-size="43.5" text-rendering="geometricPrecision" textLength="91.6" lengthAdjust="spacingAndGlyphs">2030</text>
</g>
<rect x="626.5" y="1217.8" width="1061.5" height="56.5" fill="#fff" stroke="#151515" stroke-width="1.15"/>
<g style="font-family:'Liberation Sans',sans-serif" fill="#000" font-size="37.4">
<path d="M644 1245.9H729.5" stroke="#689A34" stroke-width="5.7" fill="none"/>
<text x="739.3" y="1258.8">USD mg</text>
<path d="M909 1245.9H994" stroke="#184480" stroke-width="5.7" fill="none"/>
<text x="1003.3" y="1258.8">CAD mg</text>
<path d="M1173 1245.9H1259" stroke="#F7D34C" stroke-width="5.7" fill="none"/>
<text x="1268.2" y="1258.8">EUR mg</text>
<path d="M1438 1245.9H1524" stroke="#EB522A" stroke-width="5.7" fill="none"/>
<text x="1533" y="1258.8">CHF mg</text>
</g>
</svg>
</body></html>
